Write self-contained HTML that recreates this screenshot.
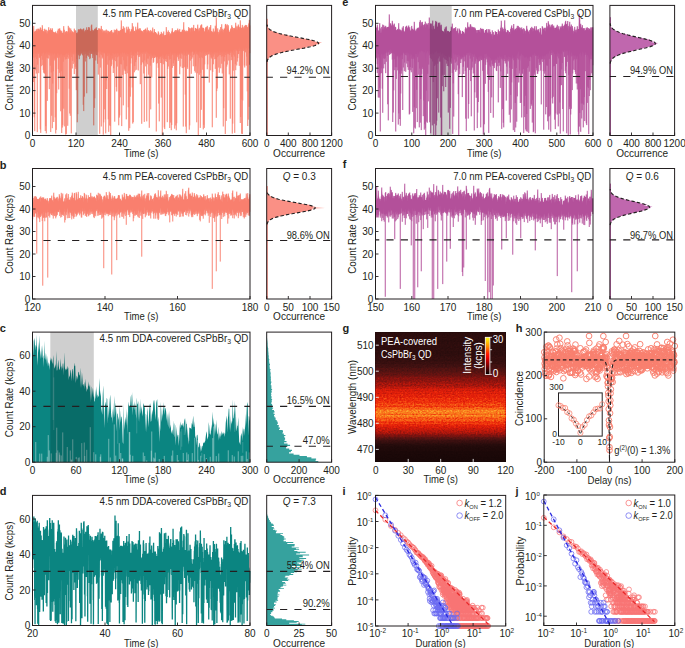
<!DOCTYPE html><html><head><meta charset="utf-8"><style>html,body{margin:0;padding:0;background:#fff;width:685px;height:648px;overflow:hidden}</style></head><body><svg width="685" height="648" viewBox="0 0 685 648" style="position:absolute;left:0;top:0;font-family:'Liberation Sans',sans-serif">
<rect width="685" height="648" fill="#fff"/>
<path d="M32.50 31.2L33.25 33.9L33.75 25.9L34.25 32.0L34.75 31.7L35.25 31.4L35.75 30.9L36.25 29.3L36.75 31.3L37.25 28.7L37.75 32.0L38.25 29.5L38.75 28.6L39.25 30.7L39.75 29.5L40.25 27.4L40.75 28.1L41.25 30.3L41.75 29.9L42.25 25.2L42.75 29.0L43.25 31.4L43.75 31.4L44.25 32.2L44.75 28.7L45.25 29.9L45.75 32.3L46.25 29.7L46.75 33.5L47.25 33.9L47.75 30.6L48.25 32.1L48.75 27.2L49.25 30.3L49.75 30.5L50.25 30.3L50.75 28.3L51.25 30.2L51.75 30.4L52.25 28.3L52.75 30.9L53.25 32.3L53.75 32.2L54.25 32.5L54.75 32.8L55.25 32.9L55.75 31.5L56.25 33.0L56.75 34.1L57.25 34.4L57.75 30.7L58.25 28.7L58.75 35.3L59.25 29.1L59.75 28.3L60.25 30.3L60.75 31.5L61.25 33.2L61.75 30.7L62.25 32.8L62.75 33.2L63.25 33.3L63.75 26.1L64.25 29.9L64.75 35.3L65.25 32.5L65.75 31.5L66.25 32.7L66.75 31.0L67.25 31.7L67.75 34.3L68.25 25.8L68.75 28.8L69.25 27.5L69.75 33.5L70.25 32.0L70.75 28.4L71.25 30.2L71.75 33.8L72.25 31.3L72.75 31.9L73.25 32.3L73.75 33.8L74.25 28.6L74.75 31.6L75.25 30.4L75.75 30.7L76.25 32.9L76.75 33.2L77.25 34.3L77.75 32.4L78.25 29.5L78.75 29.6L79.25 30.1L79.75 29.5L80.25 29.1L80.75 28.6L81.25 29.7L81.75 29.6L82.25 31.5L82.75 29.6L83.25 28.9L83.75 28.5L84.25 33.0L84.75 31.3L85.25 29.8L85.75 31.5L86.25 31.6L86.75 27.3L87.25 30.0L87.75 29.9L88.25 30.1L88.75 27.0L89.25 27.6L89.75 30.7L90.25 31.6L90.75 31.1L91.25 25.6L91.75 24.6L92.25 29.9L92.75 32.0L93.25 31.1L93.75 30.4L94.25 30.4L94.75 29.0L95.25 28.4L95.75 29.8L96.25 27.3L96.75 30.3L97.25 30.4L97.75 30.0L98.25 30.2L98.75 28.2L99.25 29.7L99.75 28.4L100.25 29.9L100.75 29.5L101.25 25.9L101.75 31.2L102.25 29.2L102.75 33.1L103.25 32.3L103.75 30.5L104.25 30.8L104.75 33.0L105.25 30.4L105.75 33.6L106.25 29.5L106.75 32.6L107.25 34.3L107.75 30.6L108.25 31.0L108.75 33.1L109.25 31.8L109.75 32.2L110.25 31.0L110.75 32.8L111.25 30.3L111.75 30.2L112.25 32.3L112.75 34.4L113.25 32.6L113.75 33.0L114.25 29.6L114.75 33.0L115.25 31.8L115.75 29.9L116.25 29.9L116.75 28.7L117.25 35.4L117.75 30.3L118.25 31.3L118.75 30.9L119.25 32.0L119.75 31.1L120.25 30.2L120.75 30.5L121.25 20.4L121.75 30.4L122.25 28.9L122.75 29.4L123.25 26.2L123.75 29.2L124.25 33.5L124.75 27.6L125.25 32.7L125.75 33.0L126.25 32.9L126.75 26.7L127.25 30.9L127.75 29.5L128.25 26.7L128.75 30.7L129.25 28.7L129.75 34.3L130.25 31.8L130.75 31.6L131.25 29.2L131.75 30.1L132.25 23.1L132.75 30.3L133.25 26.4L133.75 32.3L134.25 30.9L134.75 30.9L135.25 33.3L135.75 26.7L136.25 31.2L136.75 29.8L137.25 28.8L137.75 22.6L138.25 30.4L138.75 29.2L139.25 28.3L139.75 30.9L140.25 28.3L140.75 31.3L141.25 30.7L141.75 30.8L142.25 31.2L142.75 32.1L143.25 33.3L143.75 30.0L144.25 29.8L144.75 30.3L145.25 29.2L145.75 28.6L146.25 30.3L146.75 33.5L147.25 27.5L147.75 32.2L148.25 30.9L148.75 30.1L149.25 33.0L149.75 31.0L150.25 33.2L150.75 29.9L151.25 31.6L151.75 31.5L152.25 33.0L152.75 27.5L153.25 32.8L153.75 33.5L154.25 29.0L154.75 32.1L155.25 32.1L155.75 32.4L156.25 33.8L156.75 33.4L157.25 34.5L157.75 35.6L158.25 31.4L158.75 32.7L159.25 36.3L159.75 34.9L160.25 34.5L160.75 34.3L161.25 31.8L161.75 34.5L162.25 33.4L162.75 37.5L163.25 34.4L163.75 31.4L164.25 36.6L164.75 35.2L165.25 35.2L165.75 35.2L166.25 27.1L166.75 34.7L167.25 34.7L167.75 32.0L168.25 30.4L168.75 34.5L169.25 32.0L169.75 36.4L170.25 34.4L170.75 33.3L171.25 34.8L171.75 31.5L172.25 28.2L172.75 31.7L173.25 33.5L173.75 32.2L174.25 32.5L174.75 31.2L175.25 30.0L175.75 32.7L176.25 30.1L176.75 32.0L177.25 31.1L177.75 28.5L178.25 30.2L178.75 32.1L179.25 31.8L179.75 28.9L180.25 32.2L180.75 32.0L181.25 32.6L181.75 31.7L182.25 29.7L182.75 29.9L183.25 31.2L183.75 22.2L184.25 32.1L184.75 29.9L185.25 32.1L185.75 31.2L186.25 32.6L186.75 30.5L187.25 33.0L187.75 31.1L188.25 30.8L188.75 27.0L189.25 29.2L189.75 28.0L190.25 32.7L190.75 28.4L191.25 28.8L191.75 27.6L192.25 27.8L192.75 32.1L193.25 28.9L193.75 24.9L194.25 31.5L194.75 31.2L195.25 27.9L195.75 28.1L196.25 28.9L196.75 28.9L197.25 29.2L197.75 24.6L198.25 29.3L198.75 32.0L199.25 27.8L199.75 31.4L200.25 28.8L200.75 25.6L201.25 24.8L201.75 24.5L202.25 28.5L202.75 27.7L203.25 27.9L203.75 28.4L204.25 32.1L204.75 31.5L205.25 29.1L205.75 27.3L206.25 28.5L206.75 26.9L207.25 25.8L207.75 32.4L208.25 29.5L208.75 30.5L209.25 27.3L209.75 32.7L210.25 27.2L210.75 25.0L211.25 32.1L211.75 31.0L212.25 32.8L212.75 32.0L213.25 28.5L213.75 33.5L214.25 32.2L214.75 31.4L215.25 25.7L215.75 28.7L216.25 17.4L216.75 32.4L217.25 32.1L217.75 28.3L218.25 32.0L218.75 35.0L219.25 33.1L219.75 29.6L220.25 31.9L220.75 27.0L221.25 31.3L221.75 24.2L222.25 32.1L222.75 28.8L223.25 33.0L223.75 30.0L224.25 28.5L224.75 29.0L225.25 24.6L225.75 23.9L226.25 25.4L226.75 32.1L227.25 24.3L227.75 29.6L228.25 25.2L228.75 30.1L229.25 31.9L229.75 32.6L230.25 30.6L230.75 28.5L231.25 29.7L231.75 25.2L232.25 26.9L232.75 29.2L233.25 28.0L233.75 30.7L234.25 27.8L234.75 28.8L235.25 29.8L235.75 22.7L236.25 26.4L236.75 29.8L237.25 30.1L237.75 26.4L238.25 24.5L238.75 26.5L239.25 27.2L239.75 30.2L240.25 20.3L240.75 27.4L241.25 28.3L241.75 28.3L242.25 24.9L242.75 27.6L243.25 29.0L243.75 27.4L244.25 25.7L244.75 29.1L245.25 25.7L245.75 24.9L246.25 26.5L246.75 25.1L247.25 28.1L247.75 27.1L248.25 26.5L248.75 23.5L249.25 19.9L250.00 25.4L250.00 48.4L249.25 48.3L248.75 48.0L248.25 48.7L247.75 50.8L247.25 51.4L246.75 48.5L246.25 48.0L245.75 47.6L245.25 49.6L244.75 50.0L244.25 50.0L243.75 47.6L243.25 48.8L242.75 50.4L242.25 59.8L241.75 48.7L241.25 51.6L240.75 49.0L240.25 50.8L239.75 47.3L239.25 50.2L238.75 48.8L238.25 52.0L237.75 50.8L237.25 51.3L236.75 49.9L236.25 49.4L235.75 50.8L235.25 49.0L234.75 49.4L234.25 52.2L233.75 50.2L233.25 50.1L232.75 53.2L232.25 52.6L231.75 50.9L231.25 51.9L230.75 51.2L230.25 51.1L229.75 52.9L229.25 53.4L228.75 53.4L228.25 52.5L227.75 50.9L227.25 54.2L226.75 54.4L226.25 51.1L225.75 53.1L225.25 52.2L224.75 54.8L224.25 52.1L223.75 51.0L223.25 56.2L222.75 51.6L222.25 52.7L221.75 54.5L221.25 51.7L220.75 53.0L220.25 52.3L219.75 50.3L219.25 53.7L218.75 55.5L218.25 52.5L217.75 53.3L217.25 51.3L216.75 52.5L216.25 53.5L215.75 52.1L215.25 53.1L214.75 52.6L214.25 52.0L213.75 52.6L213.25 54.1L212.75 54.7L212.25 53.3L211.75 51.7L211.25 54.6L210.75 59.2L210.25 52.6L209.75 52.0L209.25 51.3L208.75 51.8L208.25 52.4L207.75 51.7L207.25 52.0L206.75 52.4L206.25 52.8L205.75 52.3L205.25 52.1L204.75 52.3L204.25 53.4L203.75 50.6L203.25 56.4L202.75 51.8L202.25 51.5L201.75 52.4L201.25 52.8L200.75 51.8L200.25 51.9L199.75 50.7L199.25 53.0L198.75 51.8L198.25 70.2L197.75 51.8L197.25 53.3L196.75 52.9L196.25 50.2L195.75 52.5L195.25 50.2L194.75 53.2L194.25 52.9L193.75 51.5L193.25 52.5L192.75 50.4L192.25 51.3L191.75 53.1L191.25 51.8L190.75 53.7L190.25 51.7L189.75 54.0L189.25 53.1L188.75 52.4L188.25 52.4L187.75 54.2L187.25 52.1L186.75 50.6L186.25 52.7L185.75 54.2L185.25 55.3L184.75 53.0L184.25 51.4L183.75 51.3L183.25 54.0L182.75 53.2L182.25 53.3L181.75 53.5L181.25 52.0L180.75 52.7L180.25 55.5L179.75 53.3L179.25 53.1L178.75 53.7L178.25 56.0L177.75 54.0L177.25 53.1L176.75 54.7L176.25 56.3L175.75 55.2L175.25 53.0L174.75 52.9L174.25 54.4L173.75 53.1L173.25 55.7L172.75 52.6L172.25 55.1L171.75 56.3L171.25 54.6L170.75 51.6L170.25 53.5L169.75 59.7L169.25 54.0L168.75 54.1L168.25 54.6L167.75 54.7L167.25 56.2L166.75 54.5L166.25 53.8L165.75 56.4L165.25 54.7L164.75 57.7L164.25 58.7L163.75 56.7L163.25 55.2L162.75 54.0L162.25 56.1L161.75 56.6L161.25 55.8L160.75 56.1L160.25 55.8L159.75 57.1L159.25 56.8L158.75 59.0L158.25 59.6L157.75 56.7L157.25 56.3L156.75 57.1L156.25 57.7L155.75 55.1L155.25 55.1L154.75 55.2L154.25 53.7L153.75 53.9L153.25 55.8L152.75 56.1L152.25 54.8L151.75 55.2L151.25 53.7L150.75 53.2L150.25 54.6L149.75 54.2L149.25 54.3L148.75 53.7L148.25 53.8L147.75 52.9L147.25 52.7L146.75 52.1L146.25 51.3L145.75 52.7L145.25 51.9L144.75 51.2L144.25 53.6L143.75 52.3L143.25 52.2L142.75 52.6L142.25 52.3L141.75 53.1L141.25 53.1L140.75 51.8L140.25 59.0L139.75 49.8L139.25 51.9L138.75 52.2L138.25 52.5L137.75 50.5L137.25 51.7L136.75 53.8L136.25 53.2L135.75 53.3L135.25 52.9L134.75 52.1L134.25 55.5L133.75 53.8L133.25 55.2L132.75 54.8L132.25 55.4L131.75 50.9L131.25 52.4L130.75 52.8L130.25 52.2L129.75 121.7L129.25 52.9L128.75 56.8L128.25 54.1L127.75 54.1L127.25 53.8L126.75 55.9L126.25 52.4L125.75 55.1L125.25 54.3L124.75 52.4L124.25 52.7L123.75 54.9L123.25 53.1L122.75 52.8L122.25 52.2L121.75 53.7L121.25 54.9L120.75 53.1L120.25 53.9L119.75 56.8L119.25 55.3L118.75 55.1L118.25 53.3L117.75 53.0L117.25 53.8L116.75 53.3L116.25 55.9L115.75 52.7L115.25 54.2L114.75 53.9L114.25 54.5L113.75 54.2L113.25 53.2L112.75 53.1L112.25 56.0L111.75 56.2L111.25 54.7L110.75 55.1L110.25 59.0L109.75 53.0L109.25 53.3L108.75 56.3L108.25 53.1L107.75 53.5L107.25 52.9L106.75 57.0L106.25 54.8L105.75 63.9L105.25 55.2L104.75 53.3L104.25 52.4L103.75 53.3L103.25 52.3L102.75 52.7L102.25 52.3L101.75 51.9L101.25 54.5L100.75 51.4L100.25 51.1L99.75 53.6L99.25 51.1L98.75 50.2L98.25 51.7L97.75 52.3L97.25 52.7L96.75 51.0L96.25 51.6L95.75 51.5L95.25 51.5L94.75 52.0L94.25 54.3L93.75 52.5L93.25 51.5L92.75 52.1L92.25 51.5L91.75 51.6L91.25 51.5L90.75 51.3L90.25 51.3L89.75 50.4L89.25 50.5L88.75 51.3L88.25 52.0L87.75 51.8L87.25 52.3L86.75 53.9L86.25 51.8L85.75 51.5L85.25 51.8L84.75 50.6L84.25 52.5L83.75 51.8L83.25 51.6L82.75 51.8L82.25 53.0L81.75 50.6L81.25 52.0L80.75 51.1L80.25 53.0L79.75 53.4L79.25 52.7L78.75 51.2L78.25 52.9L77.75 51.9L77.25 54.6L76.75 53.8L76.25 53.5L75.75 52.5L75.25 54.8L74.75 53.9L74.25 52.8L73.75 51.9L73.25 53.7L72.75 54.2L72.25 53.8L71.75 52.3L71.25 56.0L70.75 51.7L70.25 55.1L69.75 56.9L69.25 55.9L68.75 52.5L68.25 53.0L67.75 53.6L67.25 54.7L66.75 53.2L66.25 53.7L65.75 54.9L65.25 54.0L64.75 55.3L64.25 55.4L63.75 55.2L63.25 55.6L62.75 55.1L62.25 57.5L61.75 53.5L61.25 54.4L60.75 53.9L60.25 55.8L59.75 54.5L59.25 55.9L58.75 53.1L58.25 55.5L57.75 53.0L57.25 53.5L56.75 55.6L56.25 56.8L55.75 61.4L55.25 54.8L54.75 53.0L54.25 53.7L53.75 54.1L53.25 55.6L52.75 52.9L52.25 54.6L51.75 56.0L51.25 53.5L50.75 53.1L50.25 55.0L49.75 52.4L49.25 53.4L48.75 53.8L48.25 52.2L47.75 52.7L47.25 54.4L46.75 51.5L46.25 54.2L45.75 54.6L45.25 53.1L44.75 53.7L44.25 55.9L43.75 52.0L43.25 52.5L42.75 53.6L42.25 54.3L41.75 53.3L41.25 55.3L40.75 57.6L40.25 70.9L39.75 51.5L39.25 53.6L38.75 53.9L38.25 52.2L37.75 51.8L37.25 53.9L36.75 53.2L36.25 54.1L35.75 53.9L35.25 52.8L34.75 55.1L34.25 53.1L33.75 54.7L33.25 53.4L32.50 52.6Z" fill="#f9806f" stroke="none"/>
<path d="M32.75 54.4V31.2M33.25 82.0V33.9M33.75 57.6V25.9M34.25 117.3V32.0M34.75 131.2V31.7M35.25 57.3V31.4M35.75 70.3V30.9M36.25 73.6V29.3M36.75 59.0V31.3M37.25 132.2V28.7M37.75 64.7V32.0M38.25 53.7V29.5M38.75 73.2V28.6M39.25 57.8V30.7M39.75 57.5V29.5M40.25 129.4V27.4M40.75 132.9V28.1M41.25 66.2V30.3M41.75 56.1V29.9M42.25 59.8V25.2M42.75 65.3V29.0M43.25 69.9V31.4M43.75 72.7V31.4M44.25 73.5V32.2M44.75 73.4V28.7M45.25 131.0V29.9M45.75 126.2V32.3M46.25 133.4V29.7M46.75 57.7V33.5M47.25 100.9V33.9M47.75 58.0V30.6M48.25 58.6V32.1M48.75 55.1V27.2M49.25 89.2V30.3M49.75 55.6V30.5M50.25 65.7V30.3M50.75 132.0V28.3M51.25 72.5V30.2M51.75 115.8V30.4M52.25 128.2V28.3M52.75 83.6V30.9M53.25 71.4V32.3M53.75 122.0V32.2M54.25 58.7V32.5M54.75 60.5V32.8M55.25 117.4V32.9M55.75 133.5V31.5M56.25 129.9V33.0M56.75 93.2V34.1M57.25 56.9V34.4M57.75 58.1V30.7M58.25 69.2V28.7M58.75 89.5V35.3M59.25 72.9V29.1M59.75 57.6V28.3M60.25 77.4V30.3M60.75 111.3V31.5M61.25 71.3V33.2M61.75 133.0V30.7M62.25 127.6V32.8M62.75 124.9V33.2M63.25 61.7V33.3M63.75 108.7V26.1M64.25 126.4V29.9M64.75 57.2V35.3M65.25 59.5V32.5M65.75 134.7V31.5M66.25 133.9V32.7M66.75 59.0V31.0M67.25 57.1V31.7M67.75 125.8V34.3M68.25 58.7V25.8M68.75 54.9V28.8M69.25 88.7V27.5M69.75 113.5V33.5M70.25 115.8V32.0M70.75 77.6V28.4M71.25 133.4V30.2M71.75 57.1V33.8M72.25 68.5V31.3M72.75 60.9V31.9M73.25 63.9V32.3M73.75 54.5V33.8M74.25 74.1V28.6M74.75 62.4V31.6M75.25 66.8V30.4M75.75 68.9V30.7M76.25 90.2V32.9M76.75 58.8V33.2M77.25 122.3V34.3M77.75 114.2V32.4M78.25 55.4V29.5M78.75 54.4V29.6M79.25 59.2V30.1M79.75 56.1V29.5M80.25 55.5V29.1M80.75 54.3V28.6M81.25 53.7V29.7M81.75 53.0V29.6M82.25 54.8V31.5M82.75 55.4V29.6M83.25 104.8V28.9M83.75 111.1V28.5M84.25 96.7V33.0M84.75 54.4V31.3M85.25 61.5V29.8M85.75 53.8V31.5M86.25 58.0V31.6M86.75 93.3V27.3M87.25 55.7V30.0M87.75 55.2V29.9M88.25 55.5V30.1M88.75 56.8V27.0M89.25 52.8V27.6M89.75 59.2V30.7M90.25 58.3V31.6M90.75 53.9V31.1M91.25 53.3V25.6M91.75 53.9V24.6M92.25 53.8V29.9M92.75 58.1V32.0M93.25 55.4V31.1M93.75 125.4V30.4M94.25 107.9V30.4M94.75 98.3V29.0M95.25 53.8V28.4M95.75 60.5V29.8M96.25 55.2V27.3M96.75 54.9V30.3M97.25 55.3V30.4M97.75 63.8V30.0M98.25 74.6V30.2M98.75 52.4V28.2M99.25 57.5V29.7M99.75 133.8V28.4M100.25 67.6V29.9M100.75 54.4V29.5M101.25 126.5V25.9M101.75 55.3V31.2M102.25 58.5V29.2M102.75 57.2V33.1M103.25 134.7V32.3M103.75 122.4V30.5M104.25 53.3V30.8M104.75 109.3V33.0M105.25 119.4V30.4M105.75 133.4V33.6M106.25 80.4V29.5M106.75 89.0V32.6M107.25 64.7V34.3M107.75 56.2V30.6M108.25 119.4V31.0M108.75 131.9V33.1M109.25 60.3V31.8M109.75 125.4V32.2M110.25 126.1V31.0M110.75 135.4V32.8M111.25 66.2V30.3M111.75 64.5V30.2M112.25 59.7V32.3M112.75 58.1V34.4M113.25 73.0V32.6M113.75 68.3V33.0M114.25 60.3V29.6M114.75 121.7V33.0M115.25 56.9V31.8M115.75 61.2V29.9M116.25 86.9V29.9M116.75 91.5V28.7M117.25 66.6V35.4M117.75 57.3V30.3M118.25 56.4V31.3M118.75 125.3V30.9M119.25 117.6V32.0M119.75 115.4V31.1M120.25 97.3V30.2M120.75 64.0V30.5M121.25 64.5V20.4M121.75 126.1V30.4M122.25 56.8V28.9M122.75 75.1V29.4M123.25 105.4V26.2M123.75 60.3V29.2M124.25 68.8V33.5M124.75 70.6V27.6M125.25 74.0V32.7M125.75 71.1V33.0M126.25 119.4V32.9M126.75 66.3V26.7M127.25 73.3V30.9M127.75 56.4V29.5M128.25 107.3V26.7M128.75 130.8V30.7M129.25 86.6V28.7M129.75 128.2V34.3M130.25 96.7V31.8M130.75 63.5V31.6M131.25 55.2V29.2M131.75 58.3V30.1M132.25 87.5V23.1M132.75 123.6V30.3M133.25 122.2V26.4M133.75 55.8V32.3M134.25 72.3V30.9M134.75 66.1V30.9M135.25 70.5V33.3M135.75 62.1V26.7M136.25 59.8V31.2M136.75 69.8V29.8M137.25 55.3V28.8M137.75 51.7V22.6M138.25 70.5V30.4M138.75 57.0V29.2M139.25 55.2V28.3M139.75 56.8V30.9M140.25 84.2V28.3M140.75 54.2V31.3M141.25 64.9V30.7M141.75 123.8V30.8M142.25 62.3V31.2M142.75 54.1V32.1M143.25 63.6V33.3M143.75 73.5V30.0M144.25 121.9V29.8M144.75 60.5V30.3M145.25 53.8V29.2M145.75 66.4V28.6M146.25 62.5V30.3M146.75 121.4V33.5M147.25 64.3V27.5M147.75 58.5V32.2M148.25 58.6V30.9M148.75 74.7V30.1M149.25 127.8V33.0M149.75 56.3V31.0M150.25 65.7V33.2M150.75 109.4V29.9M151.25 59.4V31.6M151.75 77.5V31.5M152.25 56.7V33.0M152.75 58.0V27.5M153.25 62.8V32.8M153.75 61.8V33.5M154.25 57.9V29.0M154.75 58.0V32.1M155.25 56.6V32.1M155.75 57.2V32.4M156.25 131.5V33.8M156.75 63.8V33.4M157.25 63.0V34.5M157.75 57.1V35.6M158.25 67.8V31.4M158.75 103.6V32.7M159.25 121.4V36.3M159.75 58.8V34.9M160.25 57.1V34.5M160.75 63.0V34.3M161.25 97.6V31.8M161.75 63.3V34.5M162.25 135.5V33.4M162.75 57.8V37.5M163.25 64.3V34.4M163.75 59.2V31.4M164.25 127.5V36.6M164.75 129.1V35.2M165.25 59.1V35.2M165.75 61.3V35.2M166.25 58.9V27.1M166.75 61.9V34.7M167.25 122.2V34.7M167.75 68.9V32.0M168.25 66.5V30.4M168.75 56.0V34.5M169.25 59.7V32.0M169.75 128.0V36.4M170.25 122.6V34.4M170.75 59.0V33.3M171.25 130.2V34.8M171.75 125.0V31.5M172.25 67.9V28.2M172.75 54.6V31.7M173.25 63.5V33.5M173.75 66.0V32.2M174.25 60.3V32.5M174.75 128.7V31.2M175.25 75.4V30.0M175.75 125.5V32.7M176.25 130.3V30.1M176.75 123.3V32.0M177.25 57.3V31.1M177.75 55.5V28.5M178.25 60.9V30.2M178.75 59.1V32.1M179.25 54.6V31.8M179.75 74.3V28.9M180.25 58.1V32.2M180.75 66.6V32.0M181.25 53.7V32.6M181.75 58.8V31.7M182.25 68.1V29.7M182.75 54.7V29.9M183.25 126.6V31.2M183.75 67.9V22.2M184.25 55.5V32.1M184.75 66.9V29.9M185.25 94.6V32.1M185.75 126.6V31.2M186.25 133.2V32.6M186.75 55.8V30.5M187.25 67.3V33.0M187.75 68.9V31.1M188.25 54.6V30.8M188.75 54.4V27.0M189.25 129.7V29.2M189.75 125.4V28.0M190.25 60.7V32.7M190.75 55.7V28.4M191.25 73.8V28.8M191.75 59.0V27.6M192.25 51.8V27.8M192.75 57.5V32.1M193.25 66.3V28.9M193.75 55.1V24.9M194.25 54.3V31.5M194.75 70.9V31.2M195.25 72.6V27.9M195.75 66.3V28.1M196.25 54.3V28.9M196.75 122.3V28.9M197.25 73.3V29.2M197.75 54.6V24.6M198.25 135.3V29.3M198.75 55.5V32.0M199.25 74.8V27.8M199.75 57.9V31.4M200.25 127.9V28.8M200.75 72.9V25.6M201.25 109.8V24.8M201.75 57.2V24.5M202.25 58.2V28.5M202.75 69.8V27.7M203.25 129.4V27.9M203.75 124.8V28.4M204.25 127.9V32.1M204.75 64.4V31.5M205.25 54.3V29.1M205.75 55.9V27.3M206.25 55.1V28.5M206.75 54.6V26.9M207.25 69.3V25.8M207.75 64.4V32.4M208.25 54.1V29.5M208.75 54.5V30.5M209.25 82.6V27.3M209.75 53.7V32.7M210.25 54.8V27.2M210.75 70.3V25.0M211.25 57.4V32.1M211.75 58.6V31.0M212.25 127.3V32.8M212.75 71.9V32.0M213.25 64.3V28.5M213.75 56.7V33.5M214.25 54.5V32.2M214.75 59.2V31.4M215.25 68.9V25.7M215.75 58.9V28.7M216.25 117.8V17.4M216.75 91.1V32.4M217.25 88.5V32.1M217.75 57.2V28.3M218.25 56.1V32.0M218.75 67.6V35.0M219.25 72.8V33.1M219.75 55.2V29.6M220.25 55.0V31.9M220.75 68.3V27.0M221.25 56.6V31.3M221.75 63.8V24.2M222.25 73.5V32.1M222.75 56.3V28.8M223.25 126.5V33.0M223.75 108.2V30.0M224.25 61.4V28.5M224.75 56.9V29.0M225.25 134.0V24.6M225.75 55.0V23.9M226.25 120.9V25.4M226.75 66.6V32.1M227.25 64.6V24.3M227.75 53.7V29.6M228.25 54.3V25.2M228.75 60.6V30.1M229.25 74.4V31.9M229.75 55.1V32.6M230.25 118.7V30.6M230.75 52.9V28.5M231.25 60.2V29.7M231.75 56.8V25.2M232.25 133.6V26.9M232.75 123.6V29.2M233.25 70.7V28.0M233.75 54.7V30.7M234.25 56.6V27.8M234.75 132.9V28.8M235.25 64.2V29.8M235.75 70.2V22.7M236.25 50.8V26.4M236.75 65.5V29.8M237.25 61.6V30.1M237.75 58.1V26.4M238.25 54.1V24.5M238.75 53.8V26.5M239.25 65.9V27.2M239.75 51.0V30.2M240.25 123.0V20.3M240.75 117.1V27.4M241.25 99.6V28.3M241.75 133.7V28.3M242.25 134.0V24.9M242.75 100.5V27.6M243.25 51.1V29.0M243.75 50.3V27.4M244.25 65.5V25.7M244.75 67.5V29.1M245.25 51.8V25.7M245.75 52.4V24.9M246.25 65.7V26.5M246.75 56.6V25.1M247.25 91.4V28.1M247.75 126.0V27.1M248.25 119.7V26.5M248.75 106.8V23.5M249.25 64.8V19.9M249.75 53.2V25.4" stroke="#f9806f" stroke-width="1.0" fill="none"/>
<rect x="76.0" y="5.4" width="21.8" height="130.1" fill="#000" fill-opacity="0.19"/>
<path d="M32.5 77.2H250" stroke="#231f20" stroke-width="1.15" stroke-dasharray="7.2 7.15" stroke-dashoffset="3.45"/>
<rect x="32.5" y="5.4" width="217.5" height="130.1" fill="none" stroke="#231f20" stroke-width="1.0"/>
<text x="32.5" y="147.1" font-size="10" text-anchor="middle" fill="#231f20" >0</text>
<text x="76" y="147.1" font-size="10" text-anchor="middle" fill="#231f20" >120</text>
<text x="119.5" y="147.1" font-size="10" text-anchor="middle" fill="#231f20" >240</text>
<text x="163" y="147.1" font-size="10" text-anchor="middle" fill="#231f20" >360</text>
<text x="206.5" y="147.1" font-size="10" text-anchor="middle" fill="#231f20" >480</text>
<text x="250" y="147.1" font-size="10" text-anchor="middle" fill="#231f20" >600</text>
<path d="M32.5 135.5v-3M76 135.5v-3M119.5 135.5v-3M163 135.5v-3M206.5 135.5v-3M250 135.5v-3" stroke="#231f20" stroke-width="0.9" fill="none"/>
<text x="30.3" y="139.1" font-size="10" text-anchor="end" fill="#231f20" >0</text>
<text x="30.3" y="116.7" font-size="10" text-anchor="end" fill="#231f20" >10</text>
<text x="30.3" y="94.2" font-size="10" text-anchor="end" fill="#231f20" >20</text>
<text x="30.3" y="71.8" font-size="10" text-anchor="end" fill="#231f20" >30</text>
<text x="30.3" y="49.4" font-size="10" text-anchor="end" fill="#231f20" >40</text>
<text x="30.3" y="26.9" font-size="10" text-anchor="end" fill="#231f20" >50</text>
<path d="M32.5 135.5h3M32.5 113.1h3M32.5 90.6h3M32.5 68.2h3M32.5 45.8h3M32.5 23.3h3" stroke="#231f20" stroke-width="0.9" fill="none"/>
<path d="M32.50 196.2L33.25 202.9L33.75 197.9L34.25 200.4L34.75 196.5L35.25 196.1L35.75 200.8L36.25 196.7L36.75 198.5L37.25 199.6L37.75 199.0L38.25 199.2L38.75 199.8L39.25 198.4L39.75 197.6L40.25 202.4L40.75 196.4L41.25 198.0L41.75 198.5L42.25 197.3L42.75 199.5L43.25 197.7L43.75 197.5L44.25 201.1L44.75 198.9L45.25 199.5L45.75 198.6L46.25 200.2L46.75 201.2L47.25 198.1L47.75 201.3L48.25 204.1L48.75 201.2L49.25 199.8L49.75 198.0L50.25 199.0L50.75 198.0L51.25 199.4L51.75 195.6L52.25 200.0L52.75 201.3L53.25 201.9L53.75 192.7L54.25 197.2L54.75 199.6L55.25 199.2L55.75 198.6L56.25 197.5L56.75 198.5L57.25 196.8L57.75 200.4L58.25 201.7L58.75 198.5L59.25 194.2L59.75 196.4L60.25 201.1L60.75 198.1L61.25 192.8L61.75 199.5L62.25 197.3L62.75 193.5L63.25 202.4L63.75 201.4L64.25 201.7L64.75 198.3L65.25 202.4L65.75 194.4L66.25 201.6L66.75 193.3L67.25 198.1L67.75 200.2L68.25 194.0L68.75 200.2L69.25 200.0L69.75 199.7L70.25 197.2L70.75 201.1L71.25 198.7L71.75 195.7L72.25 192.6L72.75 197.7L73.25 197.9L73.75 200.4L74.25 193.4L74.75 192.9L75.25 201.0L75.75 200.3L76.25 192.3L76.75 193.9L77.25 199.6L77.75 199.8L78.25 191.8L78.75 199.4L79.25 198.4L79.75 197.9L80.25 200.7L80.75 195.2L81.25 198.6L81.75 198.0L82.25 196.0L82.75 196.9L83.25 197.8L83.75 202.8L84.25 192.9L84.75 194.0L85.25 198.5L85.75 199.5L86.25 194.7L86.75 198.1L87.25 198.8L87.75 203.4L88.25 195.2L88.75 198.4L89.25 197.0L89.75 197.2L90.25 198.7L90.75 192.8L91.25 196.6L91.75 199.1L92.25 196.4L92.75 198.5L93.25 198.0L93.75 197.1L94.25 196.4L94.75 197.2L95.25 198.1L95.75 199.1L96.25 201.8L96.75 194.7L97.25 195.6L97.75 196.6L98.25 192.8L98.75 200.8L99.25 198.8L99.75 193.6L100.25 194.5L100.75 197.6L101.25 195.8L101.75 197.0L102.25 199.4L102.75 203.1L103.25 200.8L103.75 196.8L104.25 195.7L104.75 195.9L105.25 200.6L105.75 197.4L106.25 192.1L106.75 198.5L107.25 199.0L107.75 195.2L108.25 199.8L108.75 199.2L109.25 191.7L109.75 195.6L110.25 193.0L110.75 197.1L111.25 198.7L111.75 201.3L112.25 195.5L112.75 199.6L113.25 197.6L113.75 201.0L114.25 196.2L114.75 196.4L115.25 198.9L115.75 198.8L116.25 198.9L116.75 198.8L117.25 198.7L117.75 197.9L118.25 195.6L118.75 195.1L119.25 195.4L119.75 199.7L120.25 198.7L120.75 199.8L121.25 201.0L121.75 200.5L122.25 194.5L122.75 197.5L123.25 199.1L123.75 197.3L124.25 192.9L124.75 196.5L125.25 199.7L125.75 199.5L126.25 193.9L126.75 194.2L127.25 196.2L127.75 196.4L128.25 199.5L128.75 195.9L129.25 196.8L129.75 194.7L130.25 194.9L130.75 196.2L131.25 198.7L131.75 196.6L132.25 197.8L132.75 197.0L133.25 197.1L133.75 200.8L134.25 195.4L134.75 197.7L135.25 197.8L135.75 196.9L136.25 195.5L136.75 198.3L137.25 194.8L137.75 197.5L138.25 193.6L138.75 198.6L139.25 193.9L139.75 193.8L140.25 199.4L140.75 196.5L141.25 199.0L141.75 190.5L142.25 200.8L142.75 196.3L143.25 194.7L143.75 198.4L144.25 201.0L144.75 193.8L145.25 198.6L145.75 202.0L146.25 197.9L146.75 195.6L147.25 193.2L147.75 196.3L148.25 197.1L148.75 193.0L149.25 201.2L149.75 200.4L150.25 199.5L150.75 195.4L151.25 196.3L151.75 201.3L152.25 199.6L152.75 198.8L153.25 202.1L153.75 197.9L154.25 196.0L154.75 194.3L155.25 193.3L155.75 194.9L156.25 197.0L156.75 197.7L157.25 198.5L157.75 197.3L158.25 190.2L158.75 200.1L159.25 199.6L159.75 196.7L160.25 195.8L160.75 190.5L161.25 197.6L161.75 197.7L162.25 198.5L162.75 195.7L163.25 197.3L163.75 199.5L164.25 194.5L164.75 199.4L165.25 194.3L165.75 199.9L166.25 190.8L166.75 197.3L167.25 198.3L167.75 194.1L168.25 202.3L168.75 200.6L169.25 197.1L169.75 200.3L170.25 197.5L170.75 195.9L171.25 195.5L171.75 193.9L172.25 194.7L172.75 195.2L173.25 198.0L173.75 195.0L174.25 199.2L174.75 197.9L175.25 200.4L175.75 196.8L176.25 195.9L176.75 197.7L177.25 194.8L177.75 200.6L178.25 197.5L178.75 198.0L179.25 194.3L179.75 201.3L180.25 194.6L180.75 196.6L181.25 196.6L181.75 199.9L182.25 194.9L182.75 188.8L183.25 199.8L183.75 199.6L184.25 200.2L184.75 193.5L185.25 197.1L185.75 191.1L186.25 196.3L186.75 200.3L187.25 199.3L187.75 198.9L188.25 190.4L188.75 187.7L189.25 193.9L189.75 195.8L190.25 193.5L190.75 196.5L191.25 196.5L191.75 195.8L192.25 192.5L192.75 199.9L193.25 196.9L193.75 197.1L194.25 193.1L194.75 195.0L195.25 196.5L195.75 199.0L196.25 198.1L196.75 194.1L197.25 197.1L197.75 195.2L198.25 198.9L198.75 197.8L199.25 197.6L199.75 197.9L200.25 195.2L200.75 200.8L201.25 196.0L201.75 197.8L202.25 197.2L202.75 198.7L203.25 197.2L203.75 194.3L204.25 196.4L204.75 199.9L205.25 201.1L205.75 196.0L206.25 199.9L206.75 199.5L207.25 195.1L207.75 199.0L208.25 198.2L208.75 199.0L209.25 202.2L209.75 197.9L210.25 200.5L210.75 197.5L211.25 199.0L211.75 202.8L212.25 193.6L212.75 197.7L213.25 201.9L213.75 197.4L214.25 201.4L214.75 198.2L215.25 193.5L215.75 197.1L216.25 197.0L216.75 199.2L217.25 200.5L217.75 194.4L218.25 192.2L218.75 199.3L219.25 195.0L219.75 197.1L220.25 200.8L220.75 199.4L221.25 195.4L221.75 200.9L222.25 202.6L222.75 191.6L223.25 198.3L223.75 194.0L224.25 198.5L224.75 197.4L225.25 194.7L225.75 199.0L226.25 193.7L226.75 194.3L227.25 196.5L227.75 202.3L228.25 193.5L228.75 195.9L229.25 197.7L229.75 198.8L230.25 201.1L230.75 199.7L231.25 199.8L231.75 199.8L232.25 193.0L232.75 190.5L233.25 197.0L233.75 202.0L234.25 201.2L234.75 196.7L235.25 199.4L235.75 198.0L236.25 198.8L236.75 191.6L237.25 196.0L237.75 199.9L238.25 195.3L238.75 195.9L239.25 202.5L239.75 195.0L240.25 193.5L240.75 201.8L241.25 200.2L241.75 199.1L242.25 200.0L242.75 199.6L243.25 199.0L243.75 200.4L244.25 198.2L244.75 198.5L245.25 200.7L245.75 197.9L246.25 193.5L246.75 201.9L247.25 197.1L247.75 193.1L248.25 199.6L248.75 199.5L249.25 197.5L250.00 194.2L250.00 210.8L249.25 215.8L248.75 210.4L248.25 212.6L247.75 212.0L247.25 211.6L246.75 212.2L246.25 212.0L245.75 211.8L245.25 210.5L244.75 215.9L244.25 212.9L243.75 209.2L243.25 215.7L242.75 208.4L242.25 211.0L241.75 209.1L241.25 210.0L240.75 210.8L240.25 211.7L239.75 211.0L239.25 211.8L238.75 209.7L238.25 210.8L237.75 211.2L237.25 210.5L236.75 211.9L236.25 211.1L235.75 213.7L235.25 212.4L234.75 212.0L234.25 214.6L233.75 212.3L233.25 210.4L232.75 209.2L232.25 209.6L231.75 213.0L231.25 214.5L230.75 213.6L230.25 213.1L229.75 211.0L229.25 213.7L228.75 213.6L228.25 208.3L227.75 210.9L227.25 214.8L226.75 211.3L226.25 210.3L225.75 209.6L225.25 211.1L224.75 212.6L224.25 213.0L223.75 210.7L223.25 216.5L222.75 209.7L222.25 212.4L221.75 212.0L221.25 209.9L220.75 211.1L220.25 215.7L219.75 211.6L219.25 214.4L218.75 208.2L218.25 212.9L217.75 212.9L217.25 212.9L216.75 209.7L216.25 217.5L215.75 209.6L215.25 214.0L214.75 214.8L214.25 217.6L213.75 212.1L213.25 217.2L212.75 209.8L212.25 212.5L211.75 210.3L211.25 210.4L210.75 211.7L210.25 214.0L209.75 207.8L209.25 216.0L208.75 212.8L208.25 208.2L207.75 208.6L207.25 212.9L206.75 208.5L206.25 210.3L205.75 206.6L205.25 214.2L204.75 209.7L204.25 209.0L203.75 212.6L203.25 214.8L202.75 215.2L202.25 213.1L201.75 214.1L201.25 212.4L200.75 212.0L200.25 210.9L199.75 212.8L199.25 209.3L198.75 210.3L198.25 211.4L197.75 212.4L197.25 212.8L196.75 209.4L196.25 212.2L195.75 213.1L195.25 209.5L194.75 211.5L194.25 214.8L193.75 213.7L193.25 211.1L192.75 216.1L192.25 214.8L191.75 216.7L191.25 211.3L190.75 210.1L190.25 208.0L189.75 213.5L189.25 209.0L188.75 206.8L188.25 210.0L187.75 210.6L187.25 209.1L186.75 213.1L186.25 210.5L185.75 210.3L185.25 209.8L184.75 210.7L184.25 211.0L183.75 211.0L183.25 212.5L182.75 214.7L182.25 211.8L181.75 211.6L181.25 210.5L180.75 212.5L180.25 210.0L179.75 214.7L179.25 208.7L178.75 211.1L178.25 209.8L177.75 214.5L177.25 208.3L176.75 213.3L176.25 213.9L175.75 211.3L175.25 212.9L174.75 212.7L174.25 212.0L173.75 213.7L173.25 211.9L172.75 218.5L172.25 210.6L171.75 213.7L171.25 209.8L170.75 210.4L170.25 210.9L169.75 209.4L169.25 211.0L168.75 212.8L168.25 211.6L167.75 206.9L167.25 211.9L166.75 211.7L166.25 212.3L165.75 212.8L165.25 213.2L164.75 212.3L164.25 211.6L163.75 210.8L163.25 212.7L162.75 208.9L162.25 212.8L161.75 211.5L161.25 210.5L160.75 210.5L160.25 207.6L159.75 211.2L159.25 212.9L158.75 209.8L158.25 216.9L157.75 211.0L157.25 215.3L156.75 211.9L156.25 211.3L155.75 213.1L155.25 209.8L154.75 211.1L154.25 212.5L153.75 213.5L153.25 212.0L152.75 210.7L152.25 208.5L151.75 210.1L151.25 210.8L150.75 217.2L150.25 212.3L149.75 211.3L149.25 211.4L148.75 212.0L148.25 211.3L147.75 212.5L147.25 208.9L146.75 210.1L146.25 214.4L145.75 210.7L145.25 216.8L144.75 206.0L144.25 213.2L143.75 213.7L143.25 210.4L142.75 212.4L142.25 212.8L141.75 217.4L141.25 209.6L140.75 213.3L140.25 209.8L139.75 211.0L139.25 217.2L138.75 207.1L138.25 211.1L137.75 208.5L137.25 212.8L136.75 209.0L136.25 211.8L135.75 209.9L135.25 213.2L134.75 212.9L134.25 209.6L133.75 212.6L133.25 213.6L132.75 212.5L132.25 207.8L131.75 209.8L131.25 210.8L130.75 210.7L130.25 208.3L129.75 216.0L129.25 211.7L128.75 214.7L128.25 208.7L127.75 208.9L127.25 210.1L126.75 210.7L126.25 213.5L125.75 210.8L125.25 212.3L124.75 208.8L124.25 211.6L123.75 211.1L123.25 211.3L122.75 211.9L122.25 212.5L121.75 209.3L121.25 211.6L120.75 211.1L120.25 212.5L119.75 213.7L119.25 211.9L118.75 210.5L118.25 208.8L117.75 210.8L117.25 213.7L116.75 211.9L116.25 211.8L115.75 212.2L115.25 212.7L114.75 213.1L114.25 212.1L113.75 208.5L113.25 215.4L112.75 211.9L112.25 211.2L111.75 219.0L111.25 210.9L110.75 210.8L110.25 213.4L109.75 212.0L109.25 213.2L108.75 213.1L108.25 213.9L107.75 211.7L107.25 212.7L106.75 213.3L106.25 211.7L105.75 213.9L105.25 209.8L104.75 212.0L104.25 213.1L103.75 214.9L103.25 211.2L102.75 213.9L102.25 212.2L101.75 215.3L101.25 211.7L100.75 211.6L100.25 213.2L99.75 211.9L99.25 209.5L98.75 214.2L98.25 211.7L97.75 213.3L97.25 208.9L96.75 209.1L96.25 210.3L95.75 215.3L95.25 209.7L94.75 210.7L94.25 213.4L93.75 216.6L93.25 210.8L92.75 214.0L92.25 210.4L91.75 213.3L91.25 208.7L90.75 209.4L90.25 213.3L89.75 209.9L89.25 208.5L88.75 211.3L88.25 212.0L87.75 210.6L87.25 213.3L86.75 215.2L86.25 212.9L85.75 209.8L85.25 215.6L84.75 213.3L84.25 207.5L83.75 209.3L83.25 213.2L82.75 208.1L82.25 208.6L81.75 214.4L81.25 214.4L80.75 207.9L80.25 213.3L79.75 214.9L79.25 211.5L78.75 211.4L78.25 211.5L77.75 212.0L77.25 211.8L76.75 213.9L76.25 215.0L75.75 213.0L75.25 211.9L74.75 210.5L74.25 212.4L73.75 214.7L73.25 216.3L72.75 211.0L72.25 210.8L71.75 216.8L71.25 214.1L70.75 211.4L70.25 212.8L69.75 212.5L69.25 210.3L68.75 216.6L68.25 212.8L67.75 206.6L67.25 210.3L66.75 211.0L66.25 212.4L65.75 208.9L65.25 216.1L64.75 207.5L64.25 210.4L63.75 215.6L63.25 210.5L62.75 214.8L62.25 212.3L61.75 212.0L61.25 214.4L60.75 213.4L60.25 211.2L59.75 208.7L59.25 209.4L58.75 211.8L58.25 211.4L57.75 211.1L57.25 211.5L56.75 213.1L56.25 214.4L55.75 216.9L55.25 210.1L54.75 212.3L54.25 212.6L53.75 214.5L53.25 212.3L52.75 213.8L52.25 212.2L51.75 212.9L51.25 213.0L50.75 212.6L50.25 209.9L49.75 213.5L49.25 212.5L48.75 211.9L48.25 211.9L47.75 209.1L47.25 211.1L46.75 214.1L46.25 212.4L45.75 212.2L45.25 210.2L44.75 219.1L44.25 213.8L43.75 211.5L43.25 212.0L42.75 213.0L42.25 214.5L41.75 213.4L41.25 212.2L40.75 215.0L40.25 214.8L39.75 216.5L39.25 214.3L38.75 215.1L38.25 213.6L37.75 210.9L37.25 211.7L36.75 222.0L36.25 211.0L35.75 211.6L35.25 210.9L34.75 215.4L34.25 215.3L33.75 210.6L33.25 215.6L32.50 213.8Z" fill="#f9806f" stroke="none"/>
<path d="M32.75 219.3V196.2M33.25 216.7V202.9M33.75 211.2V197.9M34.25 216.6V200.4M34.75 216.9V196.5M35.25 213.3V196.1M35.75 213.3V200.8M36.25 213.6V196.7M36.75 253.6V198.5M37.25 217.5V199.6M37.75 211.8V199.0M38.25 216.8V199.2M38.75 217.9V199.8M39.25 219.0V198.4M39.75 222.1V197.6M40.25 217.0V202.4M40.75 216.5V196.4M41.25 213.8V198.0M41.75 215.7V198.5M42.25 221.0V197.3M42.75 285.7V199.5M43.25 217.3V197.7M43.75 218.0V197.5M44.25 217.0V201.1M44.75 221.3V198.9M45.25 217.8V199.5M45.75 212.7V198.6M46.25 217.4V200.2M46.75 217.4V201.2M47.25 212.4V198.1M47.75 277.6V201.3M48.25 212.2V204.1M48.75 216.1V201.2M49.25 215.4V199.8M49.75 217.6V198.0M50.25 213.6V199.0M50.75 213.5V198.0M51.25 215.1V199.4M51.75 215.0V195.6M52.25 213.3V200.0M52.75 215.7V201.3M53.25 218.6V201.9M53.75 214.8V192.7M54.25 216.1V197.2M54.75 215.7V199.6M55.25 211.8V199.2M55.75 218.4V198.6M56.25 216.6V197.5M56.75 215.4V198.5M57.25 214.9V196.8M57.75 211.8V200.4M58.25 211.7V201.7M58.75 212.2V198.5M59.25 210.1V194.2M59.75 216.0V196.4M60.25 212.1V201.1M60.75 217.6V198.1M61.25 214.4V192.8M61.75 216.9V199.5M62.25 214.5V197.3M62.75 215.0V193.5M63.25 214.7V202.4M63.75 215.9V201.4M64.25 211.7V201.7M64.75 222.5V198.3M65.25 220.1V202.4M65.75 213.6V194.4M66.25 215.2V201.6M66.75 212.1V193.3M67.25 218.3V198.1M67.75 208.6V200.2M68.25 213.3V194.0M68.75 218.1V200.2M69.25 211.8V200.0M69.75 218.0V199.7M70.25 213.2V197.2M70.75 211.9V201.1M71.25 214.9V198.7M71.75 219.4V195.7M72.25 216.1V192.6M72.75 214.5V197.7M73.25 217.5V197.9M73.75 218.8V200.4M74.25 212.6V193.4M74.75 216.9V192.9M75.25 213.5V201.0M75.75 213.9V200.3M76.25 216.6V192.3M76.75 215.5V193.9M77.25 214.7V199.6M77.75 213.3V199.8M78.25 211.7V191.8M78.75 213.5V199.4M79.25 212.1V198.4M79.75 215.4V197.9M80.25 213.5V200.7M80.75 210.6V195.2M81.25 217.4V198.6M81.75 217.6V198.0M82.25 211.6V196.0M82.75 210.9V196.9M83.25 215.2V197.8M83.75 214.1V202.8M84.25 211.0V192.9M84.75 213.3V194.0M85.25 215.8V198.5M85.75 210.3V199.5M86.25 216.0V194.7M86.75 217.0V198.1M87.25 214.1V198.8M87.75 212.7V203.4M88.25 215.5V195.2M88.75 216.3V198.4M89.25 214.8V197.0M89.75 212.8V197.2M90.25 214.7V198.7M90.75 211.1V192.8M91.25 211.7V196.6M91.75 213.9V199.1M92.25 210.9V196.4M92.75 214.2V198.5M93.25 212.4V198.0M93.75 217.2V197.1M94.25 218.1V196.4M94.75 215.7V197.2M95.25 212.3V198.1M95.75 216.3V199.1M96.25 210.6V201.8M96.75 210.8V194.7M97.25 209.4V195.6M97.75 215.8V196.6M98.25 213.1V192.8M98.75 215.5V200.8M99.25 211.6V198.8M99.75 215.0V193.6M100.25 214.8V194.5M100.75 214.8V197.6M101.25 211.8V195.8M101.75 218.7V197.0M102.25 213.5V199.4M102.75 217.7V203.1M103.25 216.9V200.8M103.75 268.2V196.8M104.25 214.9V195.7M104.75 212.7V195.9M105.25 211.4V200.6M105.75 215.4V197.4M106.25 212.4V192.1M106.75 213.9V198.5M107.25 214.2V199.0M107.75 213.5V195.2M108.25 216.2V199.8M108.75 214.0V199.2M109.25 213.6V191.7M109.75 215.1V195.6M110.25 214.9V193.0M110.75 211.0V197.1M111.25 212.3V198.7M111.75 274.5V201.3M112.25 216.3V195.5M112.75 213.6V199.6M113.25 216.6V197.6M113.75 212.3V201.0M114.25 220.2V196.2M114.75 217.5V196.4M115.25 215.8V198.9M115.75 214.1V198.8M116.25 213.0V198.9M116.75 260.1V198.8M117.25 215.4V198.7M117.75 211.7V197.9M118.25 213.9V195.6M118.75 214.5V195.1M119.25 214.6V195.4M119.75 217.7V199.7M120.25 212.5V198.7M120.75 212.1V199.8M121.25 212.0V201.0M121.75 216.7V200.5M122.25 213.5V194.5M122.75 216.9V197.5M123.25 213.3V199.1M123.75 218.7V197.3M124.25 214.5V192.9M124.75 212.6V196.5M125.25 216.0V199.7M125.75 211.6V199.5M126.25 224.8V193.9M126.75 215.1V194.2M127.25 210.5V196.2M127.75 209.7V196.4M128.25 212.3V199.5M128.75 215.0V195.9M129.25 211.9V196.8M129.75 217.1V194.7M130.25 210.0V194.9M130.75 212.6V196.2M131.25 212.4V198.7M131.75 210.6V196.6M132.25 211.8V197.8M132.75 214.0V197.0M133.25 221.3V197.1M133.75 218.2V200.8M134.25 211.2V195.4M134.75 215.7V197.7M135.25 215.5V197.8M135.75 213.9V196.9M136.25 215.0V195.5M136.75 214.6V198.3M137.25 213.6V194.8M137.75 216.4V197.5M138.25 217.3V193.6M138.75 210.7V198.6M139.25 218.0V193.9M139.75 212.5V193.8M140.25 211.4V199.4M140.75 215.7V196.5M141.25 209.9V199.0M141.75 256.7V190.5M142.25 213.3V200.8M142.75 218.9V196.3M143.25 214.0V194.7M143.75 214.1V198.4M144.25 213.6V201.0M144.75 206.9V193.8M145.25 217.3V198.6M145.75 213.8V202.0M146.25 215.5V197.9M146.75 210.3V195.6M147.25 209.8V193.2M147.75 212.5V196.3M148.25 215.1V197.1M148.75 216.0V193.0M149.25 212.6V201.2M149.75 215.3V200.4M150.25 212.3V199.5M150.75 218.5V195.4M151.25 211.3V196.3M151.75 212.8V201.3M152.25 211.4V199.6M152.75 211.4V198.8M153.25 213.9V202.1M153.75 218.7V197.9M154.25 213.2V196.0M154.75 211.4V194.3M155.25 218.7V193.3M155.75 215.4V194.9M156.25 211.6V197.0M156.75 213.3V197.7M157.25 218.6V198.5M157.75 212.6V197.3M158.25 220.0V190.2M158.75 218.6V200.1M159.25 213.2V199.6M159.75 212.4V196.7M160.25 208.0V195.8M160.75 214.7V190.5M161.25 212.5V197.6M161.75 214.6V197.7M162.25 214.2V198.5M162.75 212.8V195.7M163.25 214.2V197.3M163.75 212.4V199.5M164.25 213.7V194.5M164.75 212.8V199.4M165.25 215.7V194.3M165.75 216.1V199.9M166.25 213.6V190.8M166.75 214.2V197.3M167.25 212.4V198.3M167.75 208.2V194.1M168.25 211.8V202.3M168.75 215.3V200.6M169.25 213.6V197.1M169.75 222.4V200.3M170.25 211.6V197.5M170.75 211.6V195.9M171.25 211.1V195.5M171.75 215.2V193.9M172.25 215.1V194.7M172.75 221.5V195.2M173.25 212.9V198.0M173.75 214.0V195.0M174.25 214.5V199.2M174.75 215.9V197.9M175.25 213.7V200.4M175.75 213.5V196.8M176.25 216.6V195.9M176.75 214.0V197.7M177.25 210.3V194.8M177.75 215.1V200.6M178.25 211.4V197.5M178.75 211.4V198.0M179.25 210.5V194.3M179.75 217.1V201.3M180.25 210.5V194.6M180.75 216.7V196.6M181.25 213.5V196.6M181.75 211.7V199.9M182.25 213.7V194.9M182.75 216.4V188.8M183.25 216.5V199.8M183.75 213.2V199.6M184.25 212.0V200.2M184.75 212.0V193.5M185.25 210.5V197.1M185.75 215.0V191.1M186.25 210.5V196.3M186.75 215.4V200.3M187.25 213.1V199.3M187.75 211.4V198.9M188.25 210.9V190.4M188.75 216.6V187.7M189.25 209.0V193.9M189.75 213.6V195.8M190.25 209.7V193.5M190.75 211.4V196.5M191.25 215.3V196.5M191.75 217.2V195.8M192.25 214.9V192.5M192.75 217.1V199.9M193.25 212.1V196.9M193.75 214.0V197.1M194.25 215.0V193.1M194.75 212.4V195.0M195.25 211.6V196.5M195.75 214.3V199.0M196.25 213.7V198.1M196.75 211.0V194.1M197.25 216.2V197.1M197.75 214.3V195.2M198.25 213.5V198.9M198.75 211.8V197.8M199.25 213.5V197.6M199.75 219.9V197.9M200.25 221.4V195.2M200.75 215.2V200.8M201.25 215.4V196.0M201.75 216.0V197.8M202.25 216.2V197.2M202.75 215.4V198.7M203.25 218.7V197.2M203.75 214.3V194.3M204.25 210.1V196.4M204.75 214.3V199.9M205.25 215.4V201.1M205.75 213.4V196.0M206.25 210.3V199.9M206.75 211.1V199.5M207.25 213.4V195.1M207.75 211.8V199.0M208.25 215.8V198.2M208.75 213.0V199.0M209.25 222.8V202.2M209.75 209.6V197.9M210.25 214.1V200.5M210.75 216.9V197.5M211.25 213.1V199.0M211.75 212.2V202.8M212.25 288.9V193.6M212.75 212.9V197.7M213.25 218.0V201.9M213.75 213.3V197.4M214.25 218.4V201.4M214.75 221.9V198.2M215.25 214.4V193.5M215.75 216.6V197.1M216.25 271.3V197.0M216.75 210.8V199.2M217.25 216.5V200.5M217.75 215.8V194.4M218.25 213.1V192.2M218.75 209.6V199.3M219.25 215.1V195.0M219.75 215.2V197.1M220.25 261.6V200.8M220.75 214.3V199.4M221.25 215.3V195.4M221.75 219.0V200.9M222.25 213.0V202.6M222.75 210.1V191.6M223.25 217.1V198.3M223.75 211.3V194.0M224.25 214.0V198.5M224.75 216.3V197.4M225.25 211.9V194.7M225.75 212.6V199.0M226.25 212.9V193.7M226.75 212.5V194.3M227.25 215.1V196.5M227.75 223.7V202.3M228.25 213.7V193.5M228.75 218.5V195.9M229.25 214.0V197.7M229.75 211.1V198.8M230.25 213.1V201.1M230.75 215.7V199.7M231.25 214.7V199.8M231.75 215.4V199.8M232.25 210.4V193.0M232.75 218.2V190.5M233.25 212.5V197.0M233.75 215.2V202.0M234.25 218.5V201.2M234.75 214.6V196.7M235.25 213.7V199.4M235.75 214.8V198.0M236.25 216.3V198.8M236.75 212.4V191.6M237.25 213.0V196.0M237.75 211.7V199.9M238.25 218.2V195.3M238.75 216.2V195.9M239.25 212.9V202.5M239.75 212.1V195.0M240.25 214.3V193.5M240.75 216.1V201.8M241.25 215.6V200.2M241.75 212.0V199.1M242.25 212.1V200.0M242.75 211.7V199.6M243.25 217.2V199.0M243.75 214.0V200.4M244.25 218.5V198.2M244.75 217.2V198.5M245.25 214.4V200.7M245.75 216.8V197.9M246.25 212.6V193.5M246.75 214.6V201.9M247.25 213.0V197.1M247.75 213.1V193.1M248.25 215.4V199.6M248.75 210.6V199.5M249.25 215.9V197.5M249.75 211.8V194.2" stroke="#f9806f" stroke-width="0.95" fill="none"/>
<path d="M32.5 240.5H250" stroke="#231f20" stroke-width="1.15" stroke-dasharray="7.2 7.15" stroke-dashoffset="3.45"/>
<rect x="32.5" y="168.5" width="217.5" height="130.5" fill="none" stroke="#231f20" stroke-width="1.0"/>
<text x="32.5" y="310.6" font-size="10" text-anchor="middle" fill="#231f20" >120</text>
<text x="105" y="310.6" font-size="10" text-anchor="middle" fill="#231f20" >140</text>
<text x="177.5" y="310.6" font-size="10" text-anchor="middle" fill="#231f20" >160</text>
<text x="250" y="310.6" font-size="10" text-anchor="middle" fill="#231f20" >180</text>
<path d="M32.5 299v-3M105 299v-3M177.5 299v-3M250 299v-3" stroke="#231f20" stroke-width="0.9" fill="none"/>
<text x="30.3" y="302.6" font-size="10" text-anchor="end" fill="#231f20" >0</text>
<text x="30.3" y="280.1" font-size="10" text-anchor="end" fill="#231f20" >10</text>
<text x="30.3" y="257.6" font-size="10" text-anchor="end" fill="#231f20" >20</text>
<text x="30.3" y="235.1" font-size="10" text-anchor="end" fill="#231f20" >30</text>
<text x="30.3" y="212.6" font-size="10" text-anchor="end" fill="#231f20" >40</text>
<text x="30.3" y="190.1" font-size="10" text-anchor="end" fill="#231f20" >50</text>
<path d="M32.5 299h3M32.5 276.5h3M32.5 254h3M32.5 231.5h3M32.5 209h3M32.5 186.5h3" stroke="#231f20" stroke-width="0.9" fill="none"/>
<path d="M375.50 26.6L376.25 27.8L376.75 28.2L377.25 24.6L377.75 27.4L378.25 31.8L378.75 30.4L379.25 31.3L379.75 23.1L380.25 28.4L380.75 33.2L381.25 32.7L381.75 26.9L382.25 29.7L382.75 24.5L383.25 30.4L383.75 25.1L384.25 29.0L384.75 26.6L385.25 27.4L385.75 25.8L386.25 27.5L386.75 29.3L387.25 27.3L387.75 27.2L388.25 26.8L388.75 27.0L389.25 14.4L389.75 28.9L390.25 23.5L390.75 23.6L391.25 26.0L391.75 25.5L392.25 20.8L392.75 23.8L393.25 27.3L393.75 25.2L394.25 23.6L394.75 30.1L395.25 26.8L395.75 27.4L396.25 30.3L396.75 30.6L397.25 30.1L397.75 28.9L398.25 30.6L398.75 23.2L399.25 30.6L399.75 29.2L400.25 31.5L400.75 29.8L401.25 30.6L401.75 32.3L402.25 27.5L402.75 30.5L403.25 26.1L403.75 31.6L404.25 31.4L404.75 32.7L405.25 29.5L405.75 26.8L406.25 26.5L406.75 25.7L407.25 29.7L407.75 27.7L408.25 26.9L408.75 25.5L409.25 30.0L409.75 27.2L410.25 30.6L410.75 31.4L411.25 29.6L411.75 25.9L412.25 30.3L412.75 28.7L413.25 29.8L413.75 30.7L414.25 21.8L414.75 28.8L415.25 31.7L415.75 30.4L416.25 31.7L416.75 29.3L417.25 27.8L417.75 29.1L418.25 28.4L418.75 27.5L419.25 30.0L419.75 22.1L420.25 20.2L420.75 26.8L421.25 25.9L421.75 22.4L422.25 21.8L422.75 24.8L423.25 25.1L423.75 28.0L424.25 24.4L424.75 24.5L425.25 21.6L425.75 28.2L426.25 25.3L426.75 23.4L427.25 24.5L427.75 25.2L428.25 23.0L428.75 30.1L429.25 17.5L429.75 29.4L430.25 23.4L430.75 24.3L431.25 23.6L431.75 29.0L432.25 30.2L432.75 20.6L433.25 29.3L433.75 25.8L434.25 29.3L434.75 29.6L435.25 24.4L435.75 20.9L436.25 22.6L436.75 21.7L437.25 26.7L437.75 27.8L438.25 23.3L438.75 22.7L439.25 26.2L439.75 22.6L440.25 25.4L440.75 30.4L441.25 24.7L441.75 30.2L442.25 31.0L442.75 31.1L443.25 31.5L443.75 32.0L444.25 33.8L444.75 29.1L445.25 27.3L445.75 31.7L446.25 26.4L446.75 34.7L447.25 31.8L447.75 30.8L448.25 31.0L448.75 32.4L449.25 32.9L449.75 32.0L450.25 31.2L450.75 31.2L451.25 26.7L451.75 28.3L452.25 23.6L452.75 30.4L453.25 28.4L453.75 29.6L454.25 28.2L454.75 28.5L455.25 28.9L455.75 27.1L456.25 31.0L456.75 33.0L457.25 30.7L457.75 28.4L458.25 33.2L458.75 35.1L459.25 28.6L459.75 30.4L460.25 30.6L460.75 33.5L461.25 33.9L461.75 34.2L462.25 31.2L462.75 30.9L463.25 32.2L463.75 32.0L464.25 34.0L464.75 33.4L465.25 28.8L465.75 27.2L466.25 29.9L466.75 28.3L467.25 28.8L467.75 22.3L468.25 28.5L468.75 26.8L469.25 28.5L469.75 27.2L470.25 24.4L470.75 24.6L471.25 29.2L471.75 26.6L472.25 26.9L472.75 27.9L473.25 28.3L473.75 27.1L474.25 29.5L474.75 27.5L475.25 28.6L475.75 30.4L476.25 30.1L476.75 33.6L477.25 32.9L477.75 30.0L478.25 30.0L478.75 30.8L479.25 29.7L479.75 32.2L480.25 32.9L480.75 27.9L481.25 29.4L481.75 29.0L482.25 28.8L482.75 30.7L483.25 28.9L483.75 31.7L484.25 33.0L484.75 33.0L485.25 30.4L485.75 30.1L486.25 30.3L486.75 29.0L487.25 33.4L487.75 32.7L488.25 29.1L488.75 33.8L489.25 33.6L489.75 29.3L490.25 32.0L490.75 34.2L491.25 35.8L491.75 34.1L492.25 30.3L492.75 39.0L493.25 32.0L493.75 35.9L494.25 34.8L494.75 34.9L495.25 31.2L495.75 32.6L496.25 32.0L496.75 32.1L497.25 36.3L497.75 34.0L498.25 29.5L498.75 31.1L499.25 35.4L499.75 31.4L500.25 31.5L500.75 27.8L501.25 20.7L501.75 32.2L502.25 29.7L502.75 27.5L503.25 29.0L503.75 32.1L504.25 31.0L504.75 20.3L505.25 28.8L505.75 32.4L506.25 32.8L506.75 32.3L507.25 30.1L507.75 30.8L508.25 30.7L508.75 34.7L509.25 31.9L509.75 32.2L510.25 34.5L510.75 28.9L511.25 27.3L511.75 25.4L512.25 31.3L512.75 28.1L513.25 30.2L513.75 24.0L514.25 31.5L514.75 29.8L515.25 28.7L515.75 29.6L516.25 30.7L516.75 28.0L517.25 25.8L517.75 29.7L518.25 25.9L518.75 28.3L519.25 27.2L519.75 29.7L520.25 27.7L520.75 30.9L521.25 29.9L521.75 27.4L522.25 29.4L522.75 29.6L523.25 34.4L523.75 28.2L524.25 29.3L524.75 31.5L525.25 34.0L525.75 31.0L526.25 29.9L526.75 25.8L527.25 29.5L527.75 30.4L528.25 31.5L528.75 32.1L529.25 34.7L529.75 30.2L530.25 29.6L530.75 27.9L531.25 30.4L531.75 26.8L532.25 32.0L532.75 27.8L533.25 28.6L533.75 31.8L534.25 29.1L534.75 26.2L535.25 30.5L535.75 30.9L536.25 26.2L536.75 30.6L537.25 31.3L537.75 29.5L538.25 31.1L538.75 29.1L539.25 34.1L539.75 32.3L540.25 28.0L540.75 29.3L541.25 34.6L541.75 35.2L542.25 26.2L542.75 27.4L543.25 30.0L543.75 28.7L544.25 27.8L544.75 31.2L545.25 27.7L545.75 32.0L546.25 28.4L546.75 22.9L547.25 26.4L547.75 29.3L548.25 21.2L548.75 23.7L549.25 28.6L549.75 24.7L550.25 28.7L550.75 26.6L551.25 24.8L551.75 28.1L552.25 24.2L552.75 26.6L553.25 28.3L553.75 25.6L554.25 27.9L554.75 30.4L555.25 27.8L555.75 27.9L556.25 28.1L556.75 26.7L557.25 24.8L557.75 29.8L558.25 29.0L558.75 26.2L559.25 29.5L559.75 31.4L560.25 26.4L560.75 28.0L561.25 28.6L561.75 26.3L562.25 23.6L562.75 27.2L563.25 25.8L563.75 29.6L564.25 25.8L564.75 24.7L565.25 22.3L565.75 20.8L566.25 24.8L566.75 24.0L567.25 28.4L567.75 21.0L568.25 26.0L568.75 31.0L569.25 27.3L569.75 21.8L570.25 27.8L570.75 26.7L571.25 24.5L571.75 31.2L572.25 26.1L572.75 28.6L573.25 34.3L573.75 30.7L574.25 32.2L574.75 26.8L575.25 32.8L575.75 29.7L576.25 33.0L576.75 29.7L577.25 26.2L577.75 30.8L578.25 29.0L578.75 29.1L579.25 13.7L579.75 19.3L580.25 25.9L580.75 23.8L581.25 27.5L581.75 28.2L582.25 25.1L582.75 29.3L583.25 28.8L583.75 28.1L584.25 31.5L584.75 28.2L585.25 31.2L585.75 30.0L586.25 27.7L586.75 29.2L587.25 27.3L587.75 30.1L588.25 28.0L588.75 30.8L589.25 28.6L589.75 29.0L590.25 31.4L590.75 27.4L591.25 31.6L591.75 27.4L592.25 27.9L593.00 27.3L593.00 52.5L592.25 56.1L591.75 56.4L591.25 54.3L590.75 54.2L590.25 57.5L589.75 66.5L589.25 61.0L588.75 59.3L588.25 56.6L587.75 54.4L587.25 55.5L586.75 57.5L586.25 53.8L585.75 52.4L585.25 52.3L584.75 53.9L584.25 57.2L583.75 54.8L583.25 52.3L582.75 51.5L582.25 53.6L581.75 54.4L581.25 57.6L580.75 53.9L580.25 52.1L579.75 54.1L579.25 54.8L578.75 102.4L578.25 60.2L577.75 55.3L577.25 57.2L576.75 56.1L576.25 58.7L575.75 56.1L575.25 54.9L574.75 56.5L574.25 55.4L573.75 54.8L573.25 56.3L572.75 55.9L572.25 54.9L571.75 51.8L571.25 53.2L570.75 54.3L570.25 57.8L569.75 53.0L569.25 49.3L568.75 53.6L568.25 59.0L567.75 50.3L567.25 51.1L566.75 51.4L566.25 50.6L565.75 50.4L565.25 52.6L564.75 49.6L564.25 51.2L563.75 51.2L563.25 51.4L562.75 50.8L562.25 50.5L561.75 53.8L561.25 54.6L560.75 53.2L560.25 96.7L559.75 52.4L559.25 55.2L558.75 53.3L558.25 54.0L557.75 50.9L557.25 54.5L556.75 53.6L556.25 55.5L555.75 63.4L555.25 54.2L554.75 53.9L554.25 53.9L553.75 52.4L553.25 52.0L552.75 53.1L552.25 50.4L551.75 49.9L551.25 50.2L550.75 54.4L550.25 54.3L549.75 51.6L549.25 50.9L548.75 53.4L548.25 54.0L547.75 56.2L547.25 52.7L546.75 54.4L546.25 54.1L545.75 54.9L545.25 56.9L544.75 55.3L544.25 56.1L543.75 58.3L543.25 55.5L542.75 57.6L542.25 55.1L541.75 57.0L541.25 60.7L540.75 59.6L540.25 55.6L539.75 58.1L539.25 58.3L538.75 56.4L538.25 54.8L537.75 56.2L537.25 56.2L536.75 55.4L536.25 55.6L535.75 54.7L535.25 54.4L534.75 52.5L534.25 54.8L533.75 55.5L533.25 54.6L532.75 55.1L532.25 54.6L531.75 57.8L531.25 58.0L530.75 55.1L530.25 57.0L529.75 56.2L529.25 57.7L528.75 57.0L528.25 60.1L527.75 57.3L527.25 59.9L526.75 56.4L526.25 56.8L525.75 57.2L525.25 57.7L524.75 58.3L524.25 57.0L523.75 54.8L523.25 57.2L522.75 54.9L522.25 55.1L521.75 53.7L521.25 53.7L520.75 53.7L520.25 61.4L519.75 56.6L519.25 55.7L518.75 52.8L518.25 50.9L517.75 55.4L517.25 52.8L516.75 60.8L516.25 55.0L515.75 56.6L515.25 64.7L514.75 69.0L514.25 56.7L513.75 57.4L513.25 58.3L512.75 54.3L512.25 56.9L511.75 57.7L511.25 64.3L510.75 58.7L510.25 57.0L509.75 56.9L509.25 57.1L508.75 56.0L508.25 57.1L507.75 56.9L507.25 58.7L506.75 56.5L506.25 58.8L505.75 55.6L505.25 55.1L504.75 54.9L504.25 55.6L503.75 58.6L503.25 58.1L502.75 61.3L502.25 55.7L501.75 58.6L501.25 56.1L500.75 57.0L500.25 57.3L499.75 55.3L499.25 56.4L498.75 57.6L498.25 57.8L497.75 58.1L497.25 55.9L496.75 58.9L496.25 58.9L495.75 58.2L495.25 59.6L494.75 61.5L494.25 58.7L493.75 59.6L493.25 64.1L492.75 58.5L492.25 60.3L491.75 60.6L491.25 59.2L490.75 58.3L490.25 57.9L489.75 57.0L489.25 56.4L488.75 60.0L488.25 55.6L487.75 56.7L487.25 55.4L486.75 54.0L486.25 53.3L485.75 55.0L485.25 53.9L484.75 53.7L484.25 55.3L483.75 97.4L483.25 100.0L482.75 58.9L482.25 57.5L481.75 55.2L481.25 58.6L480.75 57.7L480.25 55.5L479.75 56.1L479.25 58.6L478.75 56.6L478.25 58.3L477.75 59.5L477.25 60.4L476.75 56.5L476.25 57.8L475.75 57.2L475.25 55.8L474.75 55.0L474.25 53.6L473.75 54.8L473.25 56.0L472.75 53.8L472.25 54.3L471.75 53.1L471.25 58.2L470.75 53.6L470.25 52.6L469.75 53.7L469.25 52.0L468.75 52.7L468.25 53.3L467.75 52.8L467.25 53.6L466.75 54.0L466.25 52.8L465.75 56.0L465.25 59.0L464.75 54.2L464.25 55.8L463.75 54.1L463.25 56.9L462.75 56.4L462.25 59.1L461.75 57.1L461.25 56.1L460.75 57.8L460.25 56.7L459.75 55.3L459.25 55.7L458.75 57.5L458.25 54.1L457.75 55.3L457.25 54.9L456.75 56.3L456.25 54.5L455.75 55.2L455.25 54.0L454.75 53.8L454.25 56.9L453.75 52.5L453.25 54.3L452.75 59.9L452.25 63.0L451.75 51.4L451.25 55.4L450.75 57.6L450.25 55.8L449.75 57.4L449.25 54.2L448.75 55.2L448.25 56.0L447.75 57.6L447.25 58.2L446.75 56.5L446.25 56.3L445.75 56.0L445.25 55.9L444.75 54.1L444.25 56.1L443.75 56.8L443.25 52.9L442.75 54.1L442.25 52.9L441.75 53.7L441.25 55.2L440.75 53.3L440.25 51.5L439.75 54.5L439.25 51.9L438.75 54.2L438.25 51.9L437.75 53.7L437.25 53.1L436.75 49.8L436.25 51.6L435.75 52.4L435.25 52.2L434.75 51.3L434.25 54.6L433.75 54.5L433.25 54.1L432.75 54.8L432.25 51.4L431.75 55.2L431.25 53.3L430.75 53.9L430.25 53.7L429.75 55.7L429.25 50.6L428.75 52.1L428.25 54.5L427.75 51.3L427.25 50.9L426.75 53.6L426.25 53.6L425.75 49.1L425.25 63.2L424.75 51.7L424.25 52.8L423.75 50.9L423.25 53.8L422.75 51.2L422.25 51.5L421.75 51.0L421.25 50.0L420.75 53.3L420.25 50.9L419.75 51.4L419.25 52.4L418.75 56.0L418.25 53.2L417.75 52.1L417.25 58.4L416.75 54.3L416.25 54.3L415.75 54.1L415.25 54.5L414.75 63.1L414.25 57.0L413.75 57.4L413.25 55.4L412.75 59.6L412.25 56.0L411.75 54.1L411.25 55.1L410.75 56.2L410.25 53.4L409.75 53.9L409.25 59.1L408.75 52.3L408.25 54.4L407.75 55.0L407.25 51.8L406.75 53.8L406.25 52.1L405.75 54.1L405.25 52.4L404.75 53.5L404.25 54.2L403.75 51.9L403.25 52.3L402.75 55.7L402.25 54.9L401.75 54.4L401.25 55.5L400.75 57.8L400.25 54.8L399.75 57.1L399.25 58.1L398.75 55.1L398.25 58.9L397.75 57.1L397.25 54.2L396.75 57.1L396.25 55.3L395.75 70.2L395.25 56.2L394.75 53.7L394.25 54.1L393.75 52.8L393.25 53.4L392.75 52.9L392.25 52.4L391.75 52.1L391.25 50.1L390.75 48.8L390.25 52.2L389.75 50.6L389.25 50.1L388.75 50.4L388.25 52.3L387.75 51.9L387.25 52.9L386.75 49.8L386.25 53.5L385.75 53.4L385.25 52.6L384.75 55.6L384.25 52.8L383.75 56.1L383.25 53.3L382.75 57.5L382.25 54.1L381.75 53.6L381.25 54.8L380.75 55.0L380.25 77.4L379.75 57.7L379.25 58.3L378.75 54.0L378.25 54.7L377.75 54.2L377.25 53.5L376.75 53.4L376.25 53.1L375.50 53.3Z" fill="#b4509b" stroke="none"/>
<path d="M375.75 64.0V26.6M376.25 58.4V27.8M376.75 57.2V28.2M377.25 73.1V24.6M377.75 64.3V27.4M378.25 97.5V31.8M378.75 57.6V30.4M379.25 97.7V31.3M379.75 88.2V23.1M380.25 131.5V28.4M380.75 73.6V33.2M381.25 73.0V32.7M381.75 68.4V26.9M382.25 88.7V29.7M382.75 112.8V24.5M383.25 58.3V30.4M383.75 68.4V25.1M384.25 58.9V29.0M384.75 64.2V26.6M385.25 58.4V27.4M385.75 73.2V25.8M386.25 61.8V27.5M386.75 52.4V29.3M387.25 56.0V27.3M387.75 104.3V27.2M388.25 120.4V26.8M388.75 52.4V27.0M389.25 54.9V14.4M389.75 54.3V28.9M390.25 54.1V23.5M390.75 52.7V23.6M391.25 53.4V26.0M391.75 53.1V25.5M392.25 59.6V20.8M392.75 122.0V23.8M393.25 112.5V27.3M393.75 90.4V25.2M394.25 59.3V23.6M394.75 70.2V30.1M395.25 67.0V26.8M395.75 131.5V27.4M396.25 78.9V30.3M396.75 67.3V30.6M397.25 56.1V30.1M397.75 70.4V28.9M398.25 124.6V30.6M398.75 113.4V23.2M399.25 73.6V30.6M399.75 119.1V29.2M400.25 125.8V31.5M400.75 93.5V29.8M401.25 73.7V30.6M401.75 70.7V32.3M402.25 59.1V27.5M402.75 110.0V30.5M403.25 67.5V26.1M403.75 53.4V31.6M404.25 71.2V31.4M404.75 62.6V32.7M405.25 55.0V29.5M405.75 71.8V26.8M406.25 55.4V26.5M406.75 63.6V25.7M407.25 60.9V29.7M407.75 67.2V27.7M408.25 69.9V26.9M408.75 61.3V25.5M409.25 114.5V30.0M409.75 113.7V27.2M410.25 67.0V30.6M410.75 70.3V31.4M411.25 72.3V29.6M411.75 58.7V25.9M412.25 67.9V30.3M412.75 111.9V28.7M413.25 58.8V29.8M413.75 133.3V30.7M414.25 107.3V21.8M414.75 127.6V28.8M415.25 128.6V31.7M415.75 76.8V30.4M416.25 108.2V31.7M416.75 89.8V29.3M417.25 122.1V27.8M417.75 56.9V29.1M418.25 62.2V28.4M418.75 74.7V27.5M419.25 127.4V30.0M419.75 68.6V22.1M420.25 122.7V20.2M420.75 99.2V26.8M421.25 130.1V25.9M421.75 73.9V22.4M422.25 67.5V21.8M422.75 69.1V24.8M423.25 116.2V25.1M423.75 100.5V28.0M424.25 129.7V24.4M424.75 124.3V24.5M425.25 128.3V21.6M425.75 135.2V28.2M426.25 90.6V25.3M426.75 121.7V23.4M427.25 122.8V24.5M427.75 73.8V25.2M428.25 101.4V23.0M428.75 64.6V30.1M429.25 55.4V17.5M429.75 122.3V29.4M430.25 57.9V23.4M430.75 133.3V24.3M431.25 59.1V23.6M431.75 75.8V29.0M432.25 125.4V30.2M432.75 61.5V20.6M433.25 82.1V29.3M433.75 135.5V25.8M434.25 123.8V29.3M434.75 66.0V29.6M435.25 64.6V24.4M435.75 135.5V20.9M436.25 125.4V22.6M436.75 120.7V21.7M437.25 98.3V26.7M437.75 63.7V27.8M438.25 58.4V23.3M438.75 112.6V22.7M439.25 56.4V26.2M439.75 61.5V22.6M440.25 61.7V25.4M440.75 117.6V30.4M441.25 135.5V24.7M441.75 135.5V30.2M442.25 86.2V31.0M442.75 74.9V31.1M443.25 57.7V31.5M443.75 91.3V32.0M444.25 74.9V33.8M444.75 58.8V29.1M445.25 59.6V27.3M445.75 87.0V31.7M446.25 60.0V26.4M446.75 63.7V34.7M447.25 66.0V31.8M447.75 61.2V30.8M448.25 112.6V31.0M448.75 66.4V32.4M449.25 57.2V32.9M449.75 128.8V32.0M450.25 107.9V31.2M450.75 61.8V31.2M451.25 63.7V26.7M451.75 58.3V28.3M452.25 73.1V23.6M452.75 133.9V30.4M453.25 83.4V28.4M453.75 116.6V29.6M454.25 69.7V28.2M454.75 59.6V28.5M455.25 62.7V28.9M455.75 71.8V27.1M456.25 61.5V31.0M456.75 70.3V33.0M457.25 57.2V30.7M457.75 65.4V28.4M458.25 94.2V33.2M458.75 135.4V35.1M459.25 68.6V28.6M459.75 74.2V30.4M460.25 59.4V30.6M460.75 63.0V33.5M461.25 58.5V33.9M461.75 59.4V34.2M462.25 97.1V31.2M462.75 57.3V30.9M463.25 66.8V32.2M463.75 74.0V32.0M464.25 56.7V34.0M464.75 61.4V33.4M465.25 70.9V28.8M465.75 118.7V27.2M466.25 131.1V29.9M466.75 55.2V28.3M467.25 67.9V28.8M467.75 67.0V22.3M468.25 118.6V28.5M468.75 104.0V26.8M469.25 55.6V28.5M469.75 70.1V27.2M470.25 58.6V24.4M470.75 81.1V24.6M471.25 116.3V29.2M471.75 69.7V26.6M472.25 61.6V26.9M472.75 67.6V27.9M473.25 73.5V28.3M473.75 56.9V27.1M474.25 130.5V29.5M474.75 92.3V27.5M475.25 63.7V28.6M475.75 61.3V30.4M476.25 97.8V30.1M476.75 58.8V33.6M477.25 128.1V32.9M477.75 112.6V30.0M478.25 102.0V30.0M478.75 61.9V30.8M479.25 60.8V29.7M479.75 61.0V32.2M480.25 59.4V32.9M480.75 127.4V27.9M481.25 59.8V29.4M481.75 60.2V29.0M482.25 59.8V28.8M482.75 70.8V30.7M483.25 134.5V28.9M483.75 132.1V31.7M484.25 124.3V33.0M484.75 58.2V33.0M485.25 83.8V30.4M485.75 64.8V30.1M486.25 59.4V30.3M486.75 57.6V29.0M487.25 62.3V33.4M487.75 74.6V32.7M488.25 91.9V29.1M488.75 132.9V33.8M489.25 80.0V33.6M489.75 65.5V29.3M490.25 66.7V32.0M490.75 113.0V34.2M491.25 60.5V35.8M491.75 97.4V34.1M492.25 64.1V30.3M492.75 65.8V39.0M493.25 117.7V32.0M493.75 66.1V35.9M494.25 68.1V34.8M494.75 63.2V34.9M495.25 62.6V31.2M495.75 60.1V32.6M496.25 70.3V32.0M496.75 71.1V32.1M497.25 60.2V36.3M497.75 66.3V34.0M498.25 102.4V29.5M498.75 62.8V31.1M499.25 62.6V35.4M499.75 65.8V31.4M500.25 87.9V31.5M500.75 71.4V27.8M501.25 58.8V20.7M501.75 128.9V32.2M502.25 59.3V29.7M502.75 109.1V27.5M503.25 122.7V29.0M503.75 127.4V32.1M504.25 59.1V31.0M504.75 61.2V20.3M505.25 63.5V28.8M505.75 61.3V32.4M506.25 100.6V32.8M506.75 66.6V32.3M507.25 60.4V30.1M507.75 73.8V30.8M508.25 61.4V30.7M508.75 59.5V34.7M509.25 114.8V31.9M509.75 67.8V32.2M510.25 122.6V34.5M510.75 94.9V28.9M511.25 109.4V27.3M511.75 82.4V25.4M512.25 68.9V31.3M512.75 58.6V28.1M513.25 130.2V30.2M513.75 60.3V24.0M514.25 77.5V31.5M514.75 132.0V29.8M515.25 103.0V28.7M515.75 127.5V29.6M516.25 68.1V30.7M516.75 121.7V28.0M517.25 96.4V25.8M517.75 58.3V29.7M518.25 59.6V25.9M518.75 82.5V28.3M519.25 73.5V27.2M519.75 70.6V29.7M520.25 103.0V27.7M520.75 55.6V30.9M521.25 102.6V29.9M521.75 117.5V27.4M522.25 73.0V29.4M522.75 74.1V29.6M523.25 69.1V34.4M523.75 133.1V28.2M524.25 106.1V29.3M524.75 117.1V31.5M525.25 95.8V34.0M525.75 129.5V31.0M526.25 131.2V29.9M526.75 114.0V25.8M527.25 131.8V29.5M527.75 67.9V30.4M528.25 66.3V31.5M528.75 133.0V32.1M529.25 71.7V34.7M529.75 61.1V30.2M530.25 108.9V29.6M530.75 56.7V27.9M531.25 103.9V30.4M531.75 105.7V26.8M532.25 122.6V32.0M532.75 100.1V27.8M533.25 132.2V28.6M533.75 131.3V31.8M534.25 72.5V29.1M534.75 74.7V26.2M535.25 133.3V30.5M535.75 56.0V30.9M536.25 68.2V26.2M536.75 70.5V30.6M537.25 73.8V31.3M537.75 73.8V29.5M538.25 59.1V31.1M538.75 71.4V29.1M539.25 62.6V34.1M539.75 65.1V32.3M540.25 64.2V28.0M540.75 70.6V29.3M541.25 104.4V34.6M541.75 59.1V35.2M542.25 59.1V26.2M542.75 61.9V27.4M543.25 71.2V30.0M543.75 129.7V28.7M544.25 59.4V27.8M544.75 73.7V31.2M545.25 71.2V27.7M545.75 114.4V32.0M546.25 107.0V28.4M546.75 65.3V22.9M547.25 65.8V26.4M547.75 121.3V29.3M548.25 116.7V21.2M548.75 129.7V23.7M549.25 58.9V28.6M549.75 116.3V24.7M550.25 114.6V28.7M550.75 131.7V26.6M551.25 55.1V24.8M551.75 53.2V28.1M552.25 98.3V24.2M552.75 103.5V26.6M553.25 96.8V28.3M553.75 66.5V25.6M554.25 66.0V27.9M554.75 119.7V30.4M555.25 129.1V27.8M555.75 113.4V27.9M556.25 64.0V28.1M556.75 63.7V26.7M557.25 114.6V24.8M557.75 56.5V29.8M558.25 126.4V29.0M558.75 58.4V26.2M559.25 113.6V29.5M559.75 102.5V31.4M560.25 133.7V26.4M560.75 85.5V28.0M561.25 85.0V28.6M561.75 69.5V26.3M562.25 63.0V23.6M562.75 109.0V27.2M563.25 131.4V25.8M563.75 52.2V29.6M564.25 57.0V25.8M564.75 56.5V24.7M565.25 70.8V22.3M565.75 73.3V20.8M566.25 66.5V24.8M566.75 133.3V24.0M567.25 61.9V28.4M567.75 55.4V21.0M568.25 135.4V26.0M568.75 74.9V31.0M569.25 109.2V27.3M569.75 106.7V21.8M570.25 134.5V27.8M570.75 114.5V26.7M571.25 108.8V24.5M571.75 56.4V31.2M572.25 90.1V26.1M572.75 73.5V28.6M573.25 69.7V34.3M573.75 60.5V30.7M574.25 59.2V32.2M574.75 70.0V26.8M575.25 71.9V32.8M575.75 74.0V29.7M576.25 83.5V33.0M576.75 59.3V29.7M577.25 89.5V26.2M577.75 83.6V30.8M578.25 131.8V29.0M578.75 134.7V29.1M579.25 126.6V13.7M579.75 113.0V19.3M580.25 89.3V25.9M580.75 131.8V23.8M581.25 103.5V27.5M581.75 118.5V28.2M582.25 110.2V25.1M582.75 103.5V29.3M583.25 127.4V28.8M583.75 104.7V28.1M584.25 97.1V31.5M584.75 121.1V28.2M585.25 71.2V31.2M585.75 54.8V30.0M586.25 123.3V27.7M586.75 125.1V29.2M587.25 102.9V27.3M587.75 86.7V30.1M588.25 88.0V28.0M588.75 134.1V30.8M589.25 96.1V28.6M589.75 79.9V29.0M590.25 90.2V31.4M590.75 58.9V27.4M591.25 59.4V31.6M591.75 73.3V27.4M592.25 75.7V27.9M592.75 65.3V27.3" stroke="#b4509b" stroke-width="1.0" fill="none"/>
<rect x="429.9" y="5.4" width="21.8" height="130.1" fill="#000" fill-opacity="0.19"/>
<path d="M375.5 76.5H593" stroke="#231f20" stroke-width="1.15" stroke-dasharray="7.2 7.15" stroke-dashoffset="3.45"/>
<rect x="375.5" y="5.4" width="217.5" height="130.1" fill="none" stroke="#231f20" stroke-width="1.0"/>
<text x="375.5" y="147.1" font-size="10" text-anchor="middle" fill="#231f20" >0</text>
<text x="411.8" y="147.1" font-size="10" text-anchor="middle" fill="#231f20" >100</text>
<text x="448" y="147.1" font-size="10" text-anchor="middle" fill="#231f20" >200</text>
<text x="484.2" y="147.1" font-size="10" text-anchor="middle" fill="#231f20" >300</text>
<text x="520.5" y="147.1" font-size="10" text-anchor="middle" fill="#231f20" >400</text>
<text x="556.8" y="147.1" font-size="10" text-anchor="middle" fill="#231f20" >500</text>
<text x="593" y="147.1" font-size="10" text-anchor="middle" fill="#231f20" >600</text>
<path d="M375.5 135.5v-3M411.8 135.5v-3M448 135.5v-3M484.2 135.5v-3M520.5 135.5v-3M556.8 135.5v-3M593 135.5v-3" stroke="#231f20" stroke-width="0.9" fill="none"/>
<text x="373.3" y="139.1" font-size="10" text-anchor="end" fill="#231f20" >0</text>
<text x="373.3" y="116.7" font-size="10" text-anchor="end" fill="#231f20" >10</text>
<text x="373.3" y="94.2" font-size="10" text-anchor="end" fill="#231f20" >20</text>
<text x="373.3" y="71.8" font-size="10" text-anchor="end" fill="#231f20" >30</text>
<text x="373.3" y="49.4" font-size="10" text-anchor="end" fill="#231f20" >40</text>
<text x="373.3" y="26.9" font-size="10" text-anchor="end" fill="#231f20" >50</text>
<path d="M375.5 135.5h3M375.5 113.1h3M375.5 90.6h3M375.5 68.2h3M375.5 45.8h3M375.5 23.3h3" stroke="#231f20" stroke-width="0.9" fill="none"/>
<path d="M375.50 199.8L376.25 200.3L376.75 186.6L377.25 199.7L377.75 198.4L378.25 190.6L378.75 196.7L379.25 198.7L379.75 199.8L380.25 201.4L380.75 199.0L381.25 196.4L381.75 187.5L382.25 194.7L382.75 198.1L383.25 195.6L383.75 197.7L384.25 196.8L384.75 202.8L385.25 193.0L385.75 192.1L386.25 201.0L386.75 196.1L387.25 195.8L387.75 194.0L388.25 192.9L388.75 195.2L389.25 197.8L389.75 193.6L390.25 186.7L390.75 198.3L391.25 189.9L391.75 193.4L392.25 192.2L392.75 198.3L393.25 198.6L393.75 195.8L394.25 198.8L394.75 196.0L395.25 196.1L395.75 192.9L396.25 195.3L396.75 197.6L397.25 194.7L397.75 195.7L398.25 193.4L398.75 199.7L399.25 195.7L399.75 198.7L400.25 197.7L400.75 193.9L401.25 201.1L401.75 198.8L402.25 191.8L402.75 201.9L403.25 197.4L403.75 196.7L404.25 200.2L404.75 183.7L405.25 197.5L405.75 195.6L406.25 192.9L406.75 198.1L407.25 195.6L407.75 201.5L408.25 195.8L408.75 193.7L409.25 193.6L409.75 192.5L410.25 200.6L410.75 195.2L411.25 199.6L411.75 198.9L412.25 200.5L412.75 193.4L413.25 196.3L413.75 196.8L414.25 195.2L414.75 193.3L415.25 196.7L415.75 193.1L416.25 195.5L416.75 189.0L417.25 197.4L417.75 199.9L418.25 197.3L418.75 198.2L419.25 195.2L419.75 197.2L420.25 197.0L420.75 192.5L421.25 198.0L421.75 197.0L422.25 194.8L422.75 199.7L423.25 201.1L423.75 194.0L424.25 192.8L424.75 195.6L425.25 200.1L425.75 200.2L426.25 200.0L426.75 197.6L427.25 191.6L427.75 197.3L428.25 194.4L428.75 201.4L429.25 187.6L429.75 197.6L430.25 198.2L430.75 190.7L431.25 192.9L431.75 192.2L432.25 192.8L432.75 192.7L433.25 196.7L433.75 184.1L434.25 198.5L434.75 194.9L435.25 196.8L435.75 192.0L436.25 194.3L436.75 185.7L437.25 195.6L437.75 198.5L438.25 189.9L438.75 191.4L439.25 194.6L439.75 195.3L440.25 191.6L440.75 195.7L441.25 194.2L441.75 192.8L442.25 198.2L442.75 184.9L443.25 194.6L443.75 194.8L444.25 191.8L444.75 192.8L445.25 192.2L445.75 192.6L446.25 195.7L446.75 194.4L447.25 198.9L447.75 190.3L448.25 189.9L448.75 190.7L449.25 193.8L449.75 190.9L450.25 198.4L450.75 199.2L451.25 193.7L451.75 197.7L452.25 199.6L452.75 192.6L453.25 195.3L453.75 191.1L454.25 195.6L454.75 197.0L455.25 194.6L455.75 191.0L456.25 196.3L456.75 193.0L457.25 197.0L457.75 186.4L458.25 192.2L458.75 199.9L459.25 190.9L459.75 192.9L460.25 192.6L460.75 189.8L461.25 195.4L461.75 193.8L462.25 192.1L462.75 197.9L463.25 196.0L463.75 191.6L464.25 190.7L464.75 200.2L465.25 194.2L465.75 197.1L466.25 185.8L466.75 189.4L467.25 195.0L467.75 193.3L468.25 192.9L468.75 193.3L469.25 195.9L469.75 195.4L470.25 196.1L470.75 202.0L471.25 196.0L471.75 193.4L472.25 200.8L472.75 198.4L473.25 197.5L473.75 185.8L474.25 195.6L474.75 193.9L475.25 192.4L475.75 198.9L476.25 196.6L476.75 197.1L477.25 188.6L477.75 190.7L478.25 194.3L478.75 188.5L479.25 193.4L479.75 197.8L480.25 191.9L480.75 193.1L481.25 193.3L481.75 196.7L482.25 199.8L482.75 196.7L483.25 193.7L483.75 198.9L484.25 199.8L484.75 198.2L485.25 197.9L485.75 197.0L486.25 194.1L486.75 193.5L487.25 198.5L487.75 192.3L488.25 197.2L488.75 196.2L489.25 189.5L489.75 187.9L490.25 193.5L490.75 196.9L491.25 197.8L491.75 193.4L492.25 198.5L492.75 201.0L493.25 198.7L493.75 197.3L494.25 194.1L494.75 196.4L495.25 195.4L495.75 195.1L496.25 194.0L496.75 198.0L497.25 199.7L497.75 202.3L498.25 198.4L498.75 196.1L499.25 197.3L499.75 199.1L500.25 194.5L500.75 194.1L501.25 197.3L501.75 200.9L502.25 196.8L502.75 194.3L503.25 198.2L503.75 195.0L504.25 195.8L504.75 196.9L505.25 196.8L505.75 203.9L506.25 197.5L506.75 202.5L507.25 196.2L507.75 197.5L508.25 198.3L508.75 194.6L509.25 200.6L509.75 199.5L510.25 200.4L510.75 202.9L511.25 197.2L511.75 198.2L512.25 199.3L512.75 200.4L513.25 202.1L513.75 195.7L514.25 201.8L514.75 198.8L515.25 202.8L515.75 199.0L516.25 195.2L516.75 203.9L517.25 197.0L517.75 199.9L518.25 202.6L518.75 202.1L519.25 201.1L519.75 198.9L520.25 200.5L520.75 197.2L521.25 201.9L521.75 198.4L522.25 199.0L522.75 201.2L523.25 194.2L523.75 197.6L524.25 200.0L524.75 192.3L525.25 198.7L525.75 193.3L526.25 199.2L526.75 199.2L527.25 190.5L527.75 199.1L528.25 201.9L528.75 199.6L529.25 197.7L529.75 202.3L530.25 197.1L530.75 199.0L531.25 199.9L531.75 201.8L532.25 197.9L532.75 197.9L533.25 199.9L533.75 198.7L534.25 194.9L534.75 201.5L535.25 201.0L535.75 198.9L536.25 201.6L536.75 197.9L537.25 200.4L537.75 189.5L538.25 200.1L538.75 203.8L539.25 197.9L539.75 203.2L540.25 201.3L540.75 202.2L541.25 193.1L541.75 199.7L542.25 197.9L542.75 201.6L543.25 202.3L543.75 201.9L544.25 200.1L544.75 198.1L545.25 197.9L545.75 198.3L546.25 201.1L546.75 200.5L547.25 201.2L547.75 197.5L548.25 197.4L548.75 202.1L549.25 200.3L549.75 194.9L550.25 200.6L550.75 199.6L551.25 203.7L551.75 198.8L552.25 193.9L552.75 200.8L553.25 196.9L553.75 199.9L554.25 202.9L554.75 195.1L555.25 199.2L555.75 202.8L556.25 195.7L556.75 201.6L557.25 194.1L557.75 202.2L558.25 198.2L558.75 198.4L559.25 201.2L559.75 201.6L560.25 205.0L560.75 197.1L561.25 200.2L561.75 199.1L562.25 204.9L562.75 204.7L563.25 201.2L563.75 200.7L564.25 201.8L564.75 200.3L565.25 195.6L565.75 198.5L566.25 198.8L566.75 198.7L567.25 203.2L567.75 196.8L568.25 204.1L568.75 202.3L569.25 197.8L569.75 196.0L570.25 198.8L570.75 198.1L571.25 197.1L571.75 197.0L572.25 200.9L572.75 197.0L573.25 202.5L573.75 197.9L574.25 198.3L574.75 198.0L575.25 198.6L575.75 195.2L576.25 200.5L576.75 199.8L577.25 199.5L577.75 201.5L578.25 194.4L578.75 200.1L579.25 202.2L579.75 200.5L580.25 198.9L580.75 196.1L581.25 196.5L581.75 195.5L582.25 202.9L582.75 201.2L583.25 197.7L583.75 200.6L584.25 195.7L584.75 196.6L585.25 197.0L585.75 197.4L586.25 194.4L586.75 205.9L587.25 190.8L587.75 201.1L588.25 198.4L588.75 199.0L589.25 201.5L589.75 196.7L590.25 201.0L590.75 196.8L591.25 189.8L591.75 198.4L592.25 199.5L593.00 198.3L593.00 212.2L592.25 210.9L591.75 210.6L591.25 210.4L590.75 214.7L590.25 216.6L589.75 218.6L589.25 216.9L588.75 214.1L588.25 216.6L587.75 214.2L587.25 212.9L586.75 212.9L586.25 214.5L585.75 213.3L585.25 214.8L584.75 221.5L584.25 213.9L583.75 216.8L583.25 216.5L582.75 213.8L582.25 213.4L581.75 216.6L581.25 215.2L580.75 214.4L580.25 215.0L579.75 215.6L579.25 216.4L578.75 211.8L578.25 213.1L577.75 217.5L577.25 220.4L576.75 217.7L576.25 215.4L575.75 219.7L575.25 215.3L574.75 214.2L574.25 214.8L573.75 216.3L573.25 212.9L572.75 220.5L572.25 220.6L571.75 215.7L571.25 214.5L570.75 214.0L570.25 214.6L569.75 216.8L569.25 215.5L568.75 211.1L568.25 217.1L567.75 216.6L567.25 217.4L566.75 213.8L566.25 216.5L565.75 214.1L565.25 218.5L564.75 212.4L564.25 215.5L563.75 221.2L563.25 213.3L562.75 216.0L562.25 214.5L561.75 212.7L561.25 210.1L560.75 217.3L560.25 217.0L559.75 214.7L559.25 218.5L558.75 214.4L558.25 215.9L557.75 216.0L557.25 221.7L556.75 215.6L556.25 217.7L555.75 214.9L555.25 217.6L554.75 220.8L554.25 215.0L553.75 220.1L553.25 214.3L552.75 217.5L552.25 213.9L551.75 212.5L551.25 211.9L550.75 216.8L550.25 217.8L549.75 213.9L549.25 221.4L548.75 214.7L548.25 212.2L547.75 215.6L547.25 216.3L546.75 218.5L546.25 215.2L545.75 215.5L545.25 219.7L544.75 213.2L544.25 216.4L543.75 218.8L543.25 213.8L542.75 217.0L542.25 216.3L541.75 216.7L541.25 215.9L540.75 214.8L540.25 217.2L539.75 218.7L539.25 214.2L538.75 218.6L538.25 215.5L537.75 215.5L537.25 213.8L536.75 214.4L536.25 211.3L535.75 217.8L535.25 220.3L534.75 213.2L534.25 214.0L533.75 213.0L533.25 214.3L532.75 215.0L532.25 212.5L531.75 214.8L531.25 215.1L530.75 215.9L530.25 212.8L529.75 220.9L529.25 214.1L528.75 213.0L528.25 211.9L527.75 216.6L527.25 215.7L526.75 218.6L526.25 214.9L525.75 210.7L525.25 214.4L524.75 211.6L524.25 217.3L523.75 212.6L523.25 216.8L522.75 216.1L522.25 216.7L521.75 215.5L521.25 214.9L520.75 216.7L520.25 215.7L519.75 213.0L519.25 213.5L518.75 218.3L518.25 211.3L517.75 213.9L517.25 218.1L516.75 215.1L516.25 213.4L515.75 220.1L515.25 215.5L514.75 211.3L514.25 217.2L513.75 216.2L513.25 213.5L512.75 225.0L512.25 213.4L511.75 212.8L511.25 212.6L510.75 214.9L510.25 214.4L509.75 212.3L509.25 213.1L508.75 215.3L508.25 216.1L507.75 210.1L507.25 210.4L506.75 214.2L506.25 220.6L505.75 214.5L505.25 219.1L504.75 215.6L504.25 215.3L503.75 217.1L503.25 211.7L502.75 216.2L502.25 213.7L501.75 217.4L501.25 213.6L500.75 215.1L500.25 215.8L499.75 214.9L499.25 213.5L498.75 212.0L498.25 211.9L497.75 212.9L497.25 210.1L496.75 211.0L496.25 214.4L495.75 211.6L495.25 210.8L494.75 210.5L494.25 214.4L493.75 211.4L493.25 210.0L492.75 210.0L492.25 208.0L491.75 213.0L491.25 215.4L490.75 212.0L490.25 211.4L489.75 212.7L489.25 218.1L488.75 207.5L488.25 211.8L487.75 209.7L487.25 215.1L486.75 212.9L486.25 215.0L485.75 210.7L485.25 216.6L484.75 212.5L484.25 213.3L483.75 209.7L483.25 212.4L482.75 211.9L482.25 212.2L481.75 215.1L481.25 221.6L480.75 207.2L480.25 209.9L479.75 210.9L479.25 206.1L478.75 210.8L478.25 211.6L477.75 208.8L477.25 209.8L476.75 212.8L476.25 214.7L475.75 208.6L475.25 221.0L474.75 215.4L474.25 211.7L473.75 212.8L473.25 209.8L472.75 210.9L472.25 212.4L471.75 211.2L471.25 211.4L470.75 211.0L470.25 211.0L469.75 215.5L469.25 211.2L468.75 209.9L468.25 212.3L467.75 211.7L467.25 211.1L466.75 209.4L466.25 214.2L465.75 210.2L465.25 210.3L464.75 209.1L464.25 208.2L463.75 211.5L463.25 213.5L462.75 213.6L462.25 212.6L461.75 210.9L461.25 213.1L460.75 209.3L460.25 209.3L459.75 209.2L459.25 209.0L458.75 212.3L458.25 208.4L457.75 211.3L457.25 210.1L456.75 212.4L456.25 210.2L455.75 205.2L455.25 212.8L454.75 208.8L454.25 211.7L453.75 214.7L453.25 217.2L452.75 214.2L452.25 216.9L451.75 208.5L451.25 213.4L450.75 208.9L450.25 217.2L449.75 209.1L449.25 208.0L448.75 208.9L448.25 209.7L447.75 212.3L447.25 212.8L446.75 214.1L446.25 211.2L445.75 211.3L445.25 210.9L444.75 207.6L444.25 208.6L443.75 211.6L443.25 212.8L442.75 210.2L442.25 212.8L441.75 212.3L441.25 214.9L440.75 212.0L440.25 205.8L439.75 206.9L439.25 212.1L438.75 205.3L438.25 210.4L437.75 215.1L437.25 206.4L436.75 207.5L436.25 214.0L435.75 210.8L435.25 210.9L434.75 212.3L434.25 208.8L433.75 212.4L433.25 209.7L432.75 215.6L432.25 214.2L431.75 214.0L431.25 215.5L430.75 206.6L430.25 209.3L429.75 211.1L429.25 208.6L428.75 207.1L428.25 209.7L427.75 209.2L427.25 210.6L426.75 212.3L426.25 210.1L425.75 212.6L425.25 211.1L424.75 208.5L424.25 208.4L423.75 210.8L423.25 220.7L422.75 212.8L422.25 207.6L421.75 213.2L421.25 216.3L420.75 213.2L420.25 211.8L419.75 214.0L419.25 210.4L418.75 212.7L418.25 210.4L417.75 217.9L417.25 210.1L416.75 214.2L416.25 218.6L415.75 210.5L415.25 210.6L414.75 215.3L414.25 208.1L413.75 210.9L413.25 212.0L412.75 207.4L412.25 212.1L411.75 215.9L411.25 217.3L410.75 210.6L410.25 216.0L409.75 212.0L409.25 208.5L408.75 211.7L408.25 207.9L407.75 211.1L407.25 209.9L406.75 212.7L406.25 216.0L405.75 208.7L405.25 218.8L404.75 209.7L404.25 215.5L403.75 213.4L403.25 209.9L402.75 211.5L402.25 212.2L401.75 207.3L401.25 212.0L400.75 213.4L400.25 212.4L399.75 211.4L399.25 212.1L398.75 214.3L398.25 213.5L397.75 216.6L397.25 211.6L396.75 211.1L396.25 215.8L395.75 210.9L395.25 215.7L394.75 217.7L394.25 213.7L393.75 211.6L393.25 216.8L392.75 210.1L392.25 214.1L391.75 210.2L391.25 209.8L390.75 212.9L390.25 207.9L389.75 214.2L389.25 209.6L388.75 214.5L388.25 210.0L387.75 213.9L387.25 216.5L386.75 213.3L386.25 213.7L385.75 214.4L385.25 214.2L384.75 213.9L384.25 217.2L383.75 209.1L383.25 214.7L382.75 213.2L382.25 213.5L381.75 214.5L381.25 211.3L380.75 213.1L380.25 211.0L379.75 209.9L379.25 209.7L378.75 212.6L378.25 215.0L377.75 213.2L377.25 216.9L376.75 215.2L376.25 211.7L375.50 214.9Z" fill="#b4509b" stroke="none"/>
<path d="M375.75 216.9V199.8M376.25 215.0V200.3M376.75 217.5V186.6M377.25 217.3V199.7M377.75 214.3V198.4M378.25 217.5V190.6M378.75 215.4V196.7M379.25 211.6V198.7M379.75 210.1V199.8M380.25 217.7V201.4M380.75 215.7V199.0M381.25 213.2V196.4M381.75 221.2V187.5M382.25 213.8V194.7M382.75 217.9V198.1M383.25 220.1V195.6M383.75 213.5V197.7M384.25 221.7V196.8M384.75 214.4V202.8M385.25 296.8V193.0M385.75 215.8V192.1M386.25 214.5V201.0M386.75 216.1V196.1M387.25 217.6V195.8M387.75 216.6V194.0M388.25 210.1V192.9M388.75 222.4V195.2M389.25 212.2V197.8M389.75 216.4V193.6M390.25 215.0V186.7M390.75 216.7V198.3M391.25 210.5V189.9M391.75 215.3V193.4M392.25 218.5V192.2M392.75 213.9V198.3M393.25 218.6V198.6M393.75 212.4V195.8M394.25 217.1V198.8M394.75 239.2V196.0M395.25 221.4V196.1M395.75 211.2V192.9M396.25 220.3V195.3M396.75 214.3V197.6M397.25 212.7V194.7M397.75 219.1V195.7M398.25 217.4V193.4M398.75 214.6V199.7M399.25 214.3V195.7M399.75 213.6V198.7M400.25 288.9V197.7M400.75 213.7V193.9M401.25 213.2V201.1M401.75 208.0V198.8M402.25 221.8V191.8M402.75 215.8V201.9M403.25 211.2V197.4M403.75 215.2V196.7M404.25 218.0V200.2M404.75 212.1V183.7M405.25 224.8V197.5M405.75 208.9V195.6M406.25 218.3V192.9M406.75 214.0V198.1M407.25 213.9V195.6M407.75 213.9V201.5M408.25 210.8V195.8M408.75 216.3V193.7M409.25 212.5V193.6M409.75 218.8V192.5M410.25 219.8V200.6M410.75 213.1V195.2M411.25 245.4V199.6M411.75 221.2V198.9M412.25 214.3V200.5M412.75 216.9V193.4M413.25 299.0V196.3M413.75 215.8V196.8M414.25 210.9V195.2M414.75 299.0V193.3M415.25 215.0V196.7M415.75 210.7V193.1M416.25 223.7V195.5M416.75 215.0V189.0M417.25 213.9V197.4M417.75 287.3V199.9M418.25 212.0V197.3M418.75 222.2V198.2M419.25 212.0V195.2M419.75 215.7V197.2M420.25 212.7V197.0M420.75 220.1V192.5M421.25 271.3V198.0M421.75 213.9V197.0M422.25 207.8V194.8M422.75 215.4V199.7M423.25 229.2V201.1M423.75 214.3V194.0M424.25 215.1V192.8M424.75 212.0V195.6M425.25 211.3V200.1M425.75 214.5V200.2M426.25 210.9V200.0M426.75 219.4V197.6M427.25 214.1V191.6M427.75 227.9V197.3M428.25 214.1V194.4M428.75 207.4V201.4M429.25 210.2V187.6M429.75 216.0V197.6M430.25 210.8V198.2M430.75 208.0V190.7M431.25 217.6V192.9M431.75 215.2V192.2M432.25 299.0V192.8M432.75 217.5V192.7M433.25 211.1V196.7M433.75 299.0V184.1M434.25 214.5V198.5M434.75 213.9V194.9M435.25 221.3V196.8M435.75 213.0V192.0M436.25 214.8V194.3M436.75 210.3V185.7M437.25 213.7V195.6M437.75 288.9V198.5M438.25 212.1V189.9M438.75 206.3V191.4M439.25 212.7V194.6M439.75 210.0V195.3M440.25 211.5V191.6M440.75 214.6V195.7M441.25 220.5V194.2M441.75 216.0V192.8M442.25 213.0V198.2M442.75 284.1V184.9M443.25 213.2V194.6M443.75 212.6V194.8M444.25 211.8V191.8M444.75 211.6V192.8M445.25 212.5V192.2M445.75 212.8V192.6M446.25 213.6V195.7M446.75 261.6V194.4M447.25 213.6V198.9M447.75 215.7V190.3M448.25 210.6V189.9M448.75 212.1V190.7M449.25 212.5V193.8M449.75 209.3V190.9M450.25 248.8V198.4M450.75 211.8V199.2M451.25 216.6V193.7M451.75 208.6V197.7M452.25 217.8V199.6M452.75 215.2V192.6M453.25 227.0V195.3M453.75 215.1V191.1M454.25 218.3V195.6M454.75 209.3V197.0M455.25 215.4V194.6M455.75 212.3V191.0M456.25 211.5V196.3M456.75 214.3V193.0M457.25 212.7V197.0M457.75 215.2V186.4M458.25 221.7V192.2M458.75 216.2V199.9M459.25 211.1V190.9M459.75 213.2V192.9M460.25 210.3V192.6M460.75 213.1V189.8M461.25 215.2V195.4M461.75 215.3V193.8M462.25 272.0V192.1M462.75 276.1V197.9M463.25 213.9V196.0M463.75 267.5V191.6M464.25 208.2V190.7M464.75 210.0V200.2M465.25 217.4V194.2M465.75 211.6V197.1M466.25 249.5V185.8M466.75 212.4V189.4M467.25 215.2V195.0M467.75 215.8V193.3M468.25 213.8V192.9M468.75 214.8V193.3M469.25 215.2V195.9M469.75 219.6V195.4M470.25 214.1V196.1M470.75 211.3V202.0M471.25 212.1V196.0M471.75 212.2V193.4M472.25 212.6V200.8M472.75 217.7V198.4M473.25 220.6V197.5M473.75 213.6V185.8M474.25 214.0V195.6M474.75 218.1V193.9M475.25 224.8V192.4M475.75 209.2V198.9M476.25 214.8V196.6M476.75 215.6V197.1M477.25 210.7V188.6M477.75 211.5V190.7M478.25 212.2V194.3M478.75 211.8V188.5M479.25 206.7V193.4M479.75 214.8V197.8M480.25 212.3V191.9M480.75 210.1V193.1M481.25 224.9V193.3M481.75 221.0V196.7M482.25 212.7V199.8M482.75 212.3V196.7M483.25 220.3V193.7M483.75 213.0V198.9M484.25 217.1V199.8M484.75 214.3V198.2M485.25 281.0V197.9M485.75 213.9V197.0M486.25 215.5V194.1M486.75 214.1V193.5M487.25 218.4V198.5M487.75 299.0V192.3M488.25 217.3V197.2M488.75 211.2V196.2M489.25 292.2V189.5M489.75 214.6V187.9M490.25 211.8V193.5M490.75 299.0V196.9M491.25 219.0V197.8M491.75 214.4V193.4M492.25 299.0V198.5M492.75 216.3V201.0M493.25 285.5V198.7M493.75 213.2V197.3M494.25 215.2V194.1M494.75 214.9V196.4M495.25 216.9V195.4M495.75 219.1V195.1M496.25 217.9V194.0M496.75 213.0V198.0M497.25 220.8V199.7M497.75 215.2V202.3M498.25 213.1V198.4M498.75 216.7V196.1M499.25 214.2V197.3M499.75 215.8V199.1M500.25 216.2V194.5M500.75 217.9V194.1M501.25 215.7V197.3M501.75 249.5V200.9M502.25 214.5V196.8M502.75 217.0V194.3M503.25 216.3V198.2M503.75 217.2V195.0M504.25 215.4V195.8M504.75 216.4V196.9M505.25 221.1V196.8M505.75 216.9V203.9M506.25 238.2V197.5M506.75 215.8V202.5M507.25 213.0V196.2M507.75 213.1V197.5M508.25 220.9V198.3M508.75 216.4V194.6M509.25 213.3V200.6M509.75 220.5V199.5M510.25 214.6V200.4M510.75 217.7V202.9M511.25 214.0V197.2M511.75 213.5V198.2M512.25 216.8V199.3M512.75 254.7V200.4M513.25 213.6V202.1M513.75 221.3V195.7M514.25 218.4V201.8M514.75 216.0V198.8M515.25 215.7V202.8M515.75 223.3V199.0M516.25 218.0V195.2M516.75 224.8V203.9M517.25 219.4V197.0M517.75 214.8V199.9M518.25 212.9V202.6M518.75 221.0V202.1M519.25 219.1V201.1M519.75 216.4V198.9M520.25 220.3V200.5M520.75 238.2V197.2M521.25 216.8V201.9M521.75 217.1V198.4M522.25 218.9V199.0M522.75 217.1V201.2M523.25 218.6V194.2M523.75 212.7V197.6M524.25 222.1V200.0M524.75 214.8V192.3M525.25 215.9V198.7M525.75 213.4V193.3M526.25 217.6V199.2M526.75 219.2V199.2M527.25 216.5V190.5M527.75 222.8V199.1M528.25 215.8V201.9M528.75 215.2V199.6M529.25 215.1V197.7M529.75 221.1V202.3M530.25 216.5V197.1M530.75 216.8V199.0M531.25 217.9V199.9M531.75 219.9V201.8M532.25 213.3V197.9M532.75 216.4V197.9M533.25 217.0V199.9M533.75 220.5V198.7M534.25 219.3V194.9M534.75 218.3V201.5M535.25 250.4V201.0M535.75 219.0V198.9M536.25 214.4V201.6M536.75 218.4V197.9M537.25 222.1V200.4M537.75 218.4V189.5M538.25 221.3V200.1M538.75 218.6V203.8M539.25 215.9V197.9M539.75 219.8V203.2M540.25 223.3V201.3M540.75 219.5V202.2M541.25 217.2V193.1M541.75 218.4V199.7M542.25 227.0V197.9M542.75 219.5V201.6M543.25 216.7V202.3M543.75 220.0V201.9M544.25 220.0V200.1M544.75 213.7V198.1M545.25 222.3V197.9M545.75 218.8V198.3M546.25 216.5V201.1M546.75 221.4V200.5M547.25 223.8V201.2M547.75 218.0V197.5M548.25 213.1V197.4M548.75 217.9V202.1M549.25 222.6V200.3M549.75 215.5V194.9M550.25 222.8V200.6M550.75 219.1V199.6M551.25 229.2V203.7M551.75 215.9V198.8M552.25 214.0V193.9M552.75 217.9V200.8M553.25 214.8V196.9M553.75 221.7V199.9M554.25 215.5V202.9M554.75 224.3V195.1M555.25 224.4V199.2M555.75 217.2V202.8M556.25 222.0V195.7M556.75 216.4V201.6M557.25 276.1V194.1M557.75 219.2V202.2M558.25 217.3V198.2M558.75 215.2V198.4M559.25 222.3V201.2M559.75 215.4V201.6M560.25 219.3V205.0M560.75 218.9V197.1M561.25 216.7V200.2M561.75 214.6V199.1M562.25 215.7V204.9M562.75 219.7V204.7M563.25 214.0V201.2M563.75 229.7V200.7M564.25 215.7V201.8M564.75 216.6V200.3M565.25 220.3V195.6M565.75 217.6V198.5M566.25 217.1V198.8M566.75 214.9V198.7M567.25 217.6V203.2M567.75 220.5V196.8M568.25 217.4V204.1M568.75 211.7V202.3M569.25 217.2V197.8M569.75 218.7V196.0M570.25 216.3V198.8M570.75 215.7V198.1M571.25 217.4V197.1M571.75 292.2V197.0M572.25 223.1V200.9M572.75 224.7V197.0M573.25 217.6V202.5M573.75 218.5V197.9M574.25 215.3V198.3M574.75 224.4V198.0M575.25 216.3V198.6M575.75 219.8V195.2M576.25 219.2V200.5M576.75 218.0V199.8M577.25 271.3V199.5M577.75 224.2V201.5M578.25 219.1V194.4M578.75 214.7V200.1M579.25 218.4V202.2M579.75 222.7V200.5M580.25 215.2V198.9M580.75 218.1V196.1M581.25 218.5V196.5M581.75 216.6V195.5M582.25 223.6V202.9M582.75 214.2V201.2M583.25 216.7V197.7M583.75 224.8V200.6M584.25 220.3V195.7M584.75 225.1V196.6M585.25 215.6V197.0M585.75 215.4V197.4M586.25 219.5V194.4M586.75 220.9V205.9M587.25 217.7V190.8M587.75 215.3V201.1M588.25 217.0V198.4M588.75 219.3V199.0M589.25 227.0V201.5M589.75 220.9V196.7M590.25 224.6V201.0M590.75 216.0V196.8M591.25 210.4V189.8M591.75 212.1V198.4M592.25 211.9V199.5M592.75 214.1V198.3" stroke="#b4509b" stroke-width="0.95" fill="none"/>
<path d="M375.5 239.8H593" stroke="#231f20" stroke-width="1.15" stroke-dasharray="7.2 7.15" stroke-dashoffset="3.45"/>
<rect x="375.5" y="168.5" width="217.5" height="130.5" fill="none" stroke="#231f20" stroke-width="1.0"/>
<text x="375.5" y="310.6" font-size="10" text-anchor="middle" fill="#231f20" >150</text>
<text x="411.8" y="310.6" font-size="10" text-anchor="middle" fill="#231f20" >160</text>
<text x="448" y="310.6" font-size="10" text-anchor="middle" fill="#231f20" >170</text>
<text x="484.2" y="310.6" font-size="10" text-anchor="middle" fill="#231f20" >180</text>
<text x="520.5" y="310.6" font-size="10" text-anchor="middle" fill="#231f20" >190</text>
<text x="556.8" y="310.6" font-size="10" text-anchor="middle" fill="#231f20" >200</text>
<text x="593" y="310.6" font-size="10" text-anchor="middle" fill="#231f20" >210</text>
<path d="M375.5 299v-3M411.8 299v-3M448 299v-3M484.2 299v-3M520.5 299v-3M556.8 299v-3M593 299v-3" stroke="#231f20" stroke-width="0.9" fill="none"/>
<text x="373.3" y="302.6" font-size="10" text-anchor="end" fill="#231f20" >0</text>
<text x="373.3" y="280.1" font-size="10" text-anchor="end" fill="#231f20" >10</text>
<text x="373.3" y="257.6" font-size="10" text-anchor="end" fill="#231f20" >20</text>
<text x="373.3" y="235.1" font-size="10" text-anchor="end" fill="#231f20" >30</text>
<text x="373.3" y="212.6" font-size="10" text-anchor="end" fill="#231f20" >40</text>
<text x="373.3" y="190.1" font-size="10" text-anchor="end" fill="#231f20" >50</text>
<path d="M375.5 299h3M375.5 276.5h3M375.5 254h3M375.5 231.5h3M375.5 209h3M375.5 186.5h3" stroke="#231f20" stroke-width="0.9" fill="none"/>
<path d="M32.50 344.2L32.75 344.2L33.25 338.9L33.75 356.6L34.25 340.6L34.75 337.8L35.25 350.6L35.75 344.8L36.25 346.9L36.75 334.4L37.25 356.5L37.75 365.7L38.25 341.6L38.75 352.8L39.25 335.3L39.75 348.1L40.25 352.3L40.75 359.2L41.25 345.2L41.75 358.8L42.25 344.7L42.75 358.6L43.25 354.9L43.75 367.0L44.25 340.8L44.75 357.8L45.25 360.1L45.75 352.3L46.25 364.2L46.75 353.3L47.25 366.7L47.75 355.5L48.25 366.5L48.75 362.2L49.25 364.1L49.75 370.1L50.25 357.1L50.75 360.9L51.25 357.9L51.75 360.8L52.25 363.9L52.75 361.5L53.25 355.0L53.75 363.2L54.25 367.2L54.75 368.7L55.25 364.0L55.75 367.6L56.25 350.7L56.75 370.6L57.25 370.2L57.75 365.3L58.25 359.4L58.75 365.4L59.25 370.0L59.75 369.2L60.25 366.4L60.75 358.1L61.25 370.7L61.75 365.4L62.25 369.1L62.75 363.6L63.25 363.5L63.75 375.5L64.25 352.0L64.75 366.1L65.25 370.8L65.75 368.5L66.25 370.0L66.75 368.7L67.25 365.7L67.75 369.6L68.25 367.2L68.75 380.1L69.25 375.4L69.75 377.3L70.25 370.8L70.75 369.5L71.25 381.2L71.75 374.1L72.25 369.4L72.75 368.8L73.25 380.9L73.75 371.8L74.25 362.5L74.75 366.2L75.25 365.5L75.75 383.1L76.25 378.9L76.75 375.4L77.25 377.0L77.75 379.7L78.25 371.8L78.75 372.0L79.25 375.3L79.75 375.4L80.25 367.4L80.75 388.0L81.25 371.2L81.75 388.1L82.25 372.4L82.75 385.0L83.25 383.8L83.75 386.4L84.25 381.5L84.75 389.3L85.25 378.5L85.75 385.5L86.25 387.8L86.75 392.0L87.25 388.3L87.75 389.9L88.25 381.3L88.75 386.1L89.25 386.7L89.75 383.9L90.25 402.2L90.75 384.5L91.25 400.4L91.75 386.3L92.25 388.7L92.75 392.7L93.25 397.8L93.75 387.9L94.25 401.8L94.75 400.9L95.25 389.0L95.75 399.3L96.25 395.1L96.75 386.1L97.25 398.6L97.75 394.3L98.25 396.8L98.75 396.2L99.25 378.1L99.75 388.4L100.25 396.6L100.75 390.0L101.25 408.3L101.75 411.5L102.25 414.8L102.75 394.3L103.25 385.3L103.75 403.8L104.25 427.9L104.75 411.7L105.25 401.4L105.75 403.9L106.25 406.8L106.75 397.8L107.25 399.2L107.75 423.7L108.25 405.8L108.75 418.5L109.25 409.1L109.75 399.6L110.25 394.4L110.75 405.9L111.25 418.0L111.75 416.7L112.25 408.3L112.75 423.3L113.25 414.6L113.75 408.3L114.25 395.7L114.75 417.4L115.25 411.3L115.75 402.2L116.25 412.4L116.75 431.5L117.25 413.7L117.75 413.6L118.25 420.1L118.75 416.2L119.25 430.3L119.75 406.1L120.25 413.9L120.75 422.8L121.25 416.3L121.75 417.6L122.25 426.6L122.75 442.3L123.25 444.0L123.75 403.3L124.25 429.9L124.75 423.4L125.25 416.7L125.75 423.2L126.25 408.4L126.75 425.9L127.25 410.9L127.75 434.5L128.25 401.5L128.75 405.1L129.25 406.8L129.75 406.1L130.25 405.0L130.75 396.9L131.25 394.2L131.75 409.0L132.25 391.8L132.75 415.5L133.25 403.3L133.75 408.6L134.25 400.9L134.75 410.5L135.25 402.9L135.75 413.1L136.25 418.8L136.75 397.6L137.25 403.5L137.75 404.7L138.25 400.8L138.75 421.8L139.25 402.0L139.75 422.3L140.25 398.3L140.75 414.1L141.25 409.9L141.75 406.1L142.25 413.1L142.75 416.4L143.25 405.0L143.75 403.0L144.25 408.1L144.75 405.1L145.25 431.4L145.75 413.6L146.25 414.9L146.75 432.5L147.25 411.9L147.75 407.3L148.25 427.2L148.75 420.2L149.25 410.4L149.75 404.7L150.25 403.2L150.75 421.7L151.25 421.1L151.75 414.8L152.25 409.6L152.75 414.9L153.25 404.0L153.75 400.4L154.25 400.3L154.75 405.9L155.25 420.0L155.75 413.5L156.25 402.9L156.75 400.4L157.25 399.3L157.75 421.9L158.25 416.4L158.75 424.4L159.25 442.0L159.75 424.4L160.25 431.4L160.75 401.8L161.25 411.1L161.75 421.9L162.25 415.9L162.75 413.3L163.25 402.0L163.75 411.2L164.25 405.3L164.75 415.0L165.25 408.6L165.75 408.1L166.25 413.0L166.75 421.0L167.25 413.0L167.75 425.5L168.25 411.7L168.75 425.6L169.25 429.2L169.75 410.3L170.25 428.1L170.75 424.4L171.25 433.8L171.75 431.7L172.25 429.6L172.75 434.6L173.25 420.1L173.75 433.7L174.25 437.6L174.75 422.8L175.25 426.0L175.75 445.5L176.25 435.1L176.75 426.2L177.25 437.2L177.75 434.8L178.25 435.1L178.75 446.1L179.25 437.4L179.75 426.5L180.25 421.2L180.75 428.2L181.25 425.6L181.75 424.2L182.25 425.9L182.75 422.6L183.25 427.7L183.75 424.5L184.25 420.0L184.75 418.3L185.25 435.5L185.75 417.8L186.25 423.7L186.75 423.9L187.25 438.5L187.75 425.9L188.25 437.9L188.75 444.8L189.25 427.1L189.75 428.3L190.25 428.3L190.75 427.9L191.25 429.5L191.75 422.8L192.25 425.1L192.75 420.4L193.25 415.4L193.75 426.7L194.25 427.0L194.75 420.9L195.25 438.4L195.75 436.7L196.25 435.1L196.75 445.4L197.25 435.2L197.75 434.4L198.25 447.5L198.75 447.0L199.25 442.7L199.75 443.2L200.25 452.3L200.75 445.2L201.25 446.8L201.75 451.6L202.25 446.2L202.75 446.1L203.25 443.0L203.75 442.5L204.25 443.1L204.75 441.8L205.25 441.0L205.75 436.6L206.25 432.9L206.75 431.3L207.25 439.8L207.75 438.1L208.25 436.3L208.75 422.0L209.25 426.5L209.75 433.5L210.25 435.1L210.75 432.9L211.25 424.0L211.75 431.5L212.25 421.6L212.75 411.4L213.25 425.1L213.75 417.5L214.25 436.3L214.75 423.3L215.25 424.7L215.75 434.1L216.25 419.4L216.75 429.6L217.25 434.8L217.75 433.2L218.25 426.4L218.75 440.7L219.25 432.0L219.75 438.9L220.25 432.4L220.75 437.1L221.25 434.9L221.75 430.7L222.25 435.0L222.75 432.7L223.25 432.3L223.75 434.3L224.25 432.6L224.75 437.0L225.25 432.6L225.75 422.7L226.25 418.8L226.75 415.6L227.25 432.4L227.75 420.0L228.25 415.4L228.75 408.5L229.25 409.1L229.75 430.5L230.25 414.7L230.75 432.2L231.25 420.3L231.75 424.0L232.25 420.5L232.75 398.9L233.25 418.8L233.75 417.8L234.25 411.0L234.75 400.8L235.25 430.8L235.75 403.1L236.25 427.0L236.75 431.4L237.25 425.9L237.75 425.5L238.25 417.0L238.75 431.2L239.25 441.8L239.75 442.9L240.25 445.1L240.75 436.0L241.25 432.9L241.75 436.8L242.25 426.4L242.75 441.5L243.25 432.1L243.75 428.5L244.25 429.3L244.75 435.8L245.25 413.6L245.75 428.3L246.25 420.2L246.75 407.4L247.25 402.0L247.75 404.5L248.25 435.8L248.75 416.2L249.25 416.6L249.75 420.6L250.00 420.6L250.0 462.2L32.5 462.2Z" fill="#0b8581"/>
<path d="M35.75 462.2V442.0M39.75 462.2V453.6M41.75 462.2V453.6M47.25 462.2V456.8M48.25 462.2V435.1M49.25 462.2V450.4M51.25 462.2V453.4M56.25 462.2V452.8M56.75 462.2V427.7M57.75 462.2V450.4M59.25 462.2V452.5M59.75 462.2V454.7M61.25 462.2V455.5M62.75 462.2V432.4M67.25 462.2V447.0M70.25 462.2V450.5M71.25 462.2V459.5M71.75 462.2V460.3M72.75 462.2V439.3M76.25 462.2V456.9M78.25 462.2V457.8M79.25 462.2V457.4M81.75 462.2V443.1M84.25 462.2V442.5M84.75 462.2V456.0M86.75 462.2V449.8M90.25 462.2V427.2M93.75 462.2V452.2M95.75 462.2V454.3M100.25 462.2V456.7M100.75 462.2V454.3M108.75 462.2V438.8M110.25 462.2V457.5M114.25 462.2V424.4M115.75 462.2V455.6M119.25 462.2V443.2M120.75 462.2V453.0M122.25 462.2V458.5M122.75 462.2V458.6M129.25 462.2V431.9M129.75 462.2V432.1M130.25 462.2V454.7M132.75 462.2V455.8M143.25 462.2V452.5M144.75 462.2V456.0M146.75 462.2V460.4M151.25 462.2V450.7M151.75 462.2V431.5M153.75 462.2V457.6M154.75 462.2V458.5M155.25 462.2V452.6M159.25 462.2V459.0M164.25 462.2V455.9M171.75 462.2V455.6M172.75 462.2V450.5M177.25 462.2V455.0M178.25 462.2V460.2M183.25 462.2V453.0M186.75 462.2V452.5M187.25 462.2V460.0M188.25 462.2V454.3M192.25 462.2V453.1M194.75 462.2V437.8M197.75 462.2V440.0M198.25 462.2V459.9M200.75 462.2V455.8M204.25 462.2V454.2M206.25 462.2V458.0M206.75 462.2V459.5M210.25 462.2V456.8M212.75 462.2V438.1M213.75 462.2V426.5M216.25 462.2V456.1M218.75 462.2V453.5M228.25 462.2V450.3M232.25 462.2V455.1M234.25 462.2V456.5M238.25 462.2V451.3M241.25 462.2V455.9M242.75 462.2V455.7M246.25 462.2V451.4M247.25 462.2V458.9M249.25 462.2V452.4" stroke="#fff" stroke-width="0.55" stroke-opacity="0.75" fill="none"/>
<path d="M53.25 420.0V361.5M53.75 430.1V377.4M117.75 443.7V417.5M136.75 433.4V401.1M180.75 449.9V431.5M181.75 446.7V428.9M184.25 435.0V424.5M189.25 440.9V428.6M201.75 457.5V452.8M220.25 438.7V435.1M234.75 431.8V401.5M242.75 452.8V441.9" stroke="#fff" stroke-width="0.45" stroke-opacity="0.4" fill="none"/>
<rect x="50.3" y="332.1" width="43.5" height="130.1" fill="#000" fill-opacity="0.19"/>
<path d="M32.5 406.3H250" stroke="#231f20" stroke-width="1.15" stroke-dasharray="7.2 7.15" stroke-dashoffset="3.45"/>
<rect x="32.5" y="332.1" width="217.5" height="130.1" fill="none" stroke="#231f20" stroke-width="1.0"/>
<text x="32.5" y="473.8" font-size="10" text-anchor="middle" fill="#231f20" >0</text>
<text x="76" y="473.8" font-size="10" text-anchor="middle" fill="#231f20" >60</text>
<text x="119.5" y="473.8" font-size="10" text-anchor="middle" fill="#231f20" >120</text>
<text x="163" y="473.8" font-size="10" text-anchor="middle" fill="#231f20" >180</text>
<text x="206.5" y="473.8" font-size="10" text-anchor="middle" fill="#231f20" >240</text>
<text x="250" y="473.8" font-size="10" text-anchor="middle" fill="#231f20" >300</text>
<path d="M32.5 462.2v-3M76 462.2v-3M119.5 462.2v-3M163 462.2v-3M206.5 462.2v-3M250 462.2v-3" stroke="#231f20" stroke-width="0.9" fill="none"/>
<text x="30.3" y="465.8" font-size="10" text-anchor="end" fill="#231f20" >0</text>
<text x="30.3" y="430.3" font-size="10" text-anchor="end" fill="#231f20" >20</text>
<text x="30.3" y="394.8" font-size="10" text-anchor="end" fill="#231f20" >40</text>
<text x="30.3" y="359.3" font-size="10" text-anchor="end" fill="#231f20" >60</text>
<path d="M32.5 462.2h3M32.5 426.7h3M32.5 391.2h3M32.5 355.7h3" stroke="#231f20" stroke-width="0.9" fill="none"/>
<path d="M32.55 529.7L32.66 559.2L32.77 540.9L32.88 544.2L32.99 549.8L33.10 552.8L33.21 540.6L33.32 522.1L33.42 533.1L33.53 546.0L33.64 530.4L33.75 521.1L33.86 516.4L33.97 559.5L34.08 530.1L34.19 530.7L34.29 550.9L34.40 567.9L34.51 527.8L34.62 591.0L34.73 599.9L34.84 551.8L34.95 526.7L35.06 624.3L35.16 521.5L35.27 539.4L35.38 518.4L35.49 597.8L35.60 524.1L35.71 524.8L35.82 590.0L35.93 522.6L36.03 522.6L36.14 537.1L36.25 543.7L36.36 537.3L36.47 605.2L36.58 544.0L36.69 541.9L36.80 545.2L36.90 536.3L37.01 540.1L37.12 524.1L37.23 520.7L37.34 532.2L37.45 533.9L37.56 609.0L37.67 562.9L37.77 623.8L37.88 540.7L37.99 554.7L38.10 538.0L38.21 621.3L38.32 549.4L38.43 527.8L38.54 612.1L38.64 625.1L38.75 531.7L38.86 526.2L38.97 538.7L39.08 539.5L39.19 522.7L39.30 533.7L39.41 536.0L39.51 546.6L39.62 611.9L39.73 607.0L39.84 555.9L39.95 566.7L40.06 559.7L40.17 554.8L40.28 565.6L40.38 568.7L40.49 530.8L40.60 556.5L40.71 596.6L40.82 582.8L40.93 538.6L41.04 568.8L41.15 535.5L41.25 596.8L41.36 551.8L41.47 560.4L41.58 543.5L41.69 558.8L41.80 548.9L41.91 561.3L42.02 599.8L42.12 539.9L42.23 545.5L42.34 564.5L42.45 563.1L42.56 549.4L42.67 551.9L42.78 543.7L42.89 550.3L42.99 561.6L43.10 540.8L43.21 553.3L43.32 611.5L43.43 556.5L43.54 526.9L43.65 545.3L43.76 546.3L43.86 547.1L43.97 572.1L44.08 540.2L44.19 557.2L44.30 563.6L44.41 595.2L44.52 529.8L44.63 557.2L44.73 530.6L44.84 574.8L44.95 542.6L45.06 555.7L45.17 547.7L45.28 528.4L45.39 541.9L45.50 568.0L45.60 536.0L45.71 566.3L45.82 554.1L45.93 558.5L46.04 544.4L46.15 603.1L46.26 526.2L46.37 543.3L46.47 540.2L46.58 551.2L46.69 541.8L46.80 560.3L46.91 606.5L47.02 535.5L47.13 537.8L47.24 548.2L47.34 520.2L47.45 592.9L47.56 529.5L47.67 532.0L47.78 563.4L47.89 537.5L48.00 535.9L48.11 545.0L48.21 545.2L48.32 542.0L48.43 549.4L48.54 555.9L48.65 580.3L48.76 539.0L48.87 541.7L48.98 538.0L49.08 552.9L49.19 550.4L49.30 536.1L49.41 546.1L49.52 533.4L49.63 525.1L49.74 517.9L49.85 543.4L49.95 541.8L50.06 559.1L50.17 620.0L50.28 545.7L50.39 557.2L50.50 523.0L50.61 621.0L50.72 571.9L50.82 564.6L50.93 528.9L51.04 562.3L51.15 620.4L51.26 603.2L51.37 563.2L51.48 539.7L51.59 578.6L51.69 570.7L51.80 556.3L51.91 549.0L52.02 534.0L52.13 536.8L52.24 520.3L52.35 537.6L52.46 534.3L52.56 602.1L52.67 531.0L52.78 611.7L52.89 594.6L53.00 573.8L53.11 551.0L53.22 551.8L53.33 547.8L53.43 523.3L53.54 601.6L53.65 557.7L53.76 522.7L53.87 535.7L53.98 554.2L54.09 560.6L54.20 558.5L54.30 556.8L54.41 550.3L54.52 563.9L54.63 548.9L54.74 598.7L54.85 569.2L54.96 605.0L55.07 558.7L55.17 621.3L55.28 563.1L55.39 579.5L55.50 605.4L55.61 581.2L55.72 577.4L55.83 551.8L55.94 623.0L56.04 557.5L56.15 620.3L56.26 561.5L56.37 562.5L56.48 542.8L56.59 568.3L56.70 560.2L56.81 541.6L56.91 546.8L57.02 541.1L57.13 556.8L57.24 544.1L57.35 549.4L57.46 624.3L57.57 541.7L57.68 531.5L57.78 556.7L57.89 549.6L58.00 539.3L58.11 529.0L58.22 543.2L58.33 520.3L58.44 556.0L58.55 528.7L58.65 562.1L58.76 622.6L58.87 620.3L58.98 542.1L59.09 597.9L59.20 571.2L59.31 581.6L59.42 524.5L59.52 553.8L59.63 570.5L59.74 561.5L59.85 556.7L59.96 530.2L60.07 549.6L60.18 554.8L60.29 614.3L60.39 553.3L60.50 580.2L60.61 546.4L60.72 545.4L60.83 561.0L60.94 579.7L61.05 571.8L61.16 561.5L61.26 532.5L61.37 535.7L61.48 566.7L61.59 562.3L61.70 574.6L61.81 623.1L61.92 564.0L62.03 548.8L62.13 559.0L62.24 566.7L62.35 594.0L62.46 577.0L62.57 555.1L62.68 576.7L62.79 552.7L62.90 580.1L63.00 592.0L63.11 623.8L63.22 567.7L63.33 622.9L63.44 562.4L63.55 563.0L63.66 612.0L63.77 572.9L63.87 559.2L63.98 536.4L64.09 559.2L64.20 571.2L64.31 560.2L64.42 566.9L64.53 625.1L64.64 624.4L64.74 561.0L64.85 588.7L64.96 544.4L65.07 560.2L65.18 557.2L65.29 595.1L65.40 553.4L65.51 537.8L65.61 547.2L65.72 562.9L65.83 562.8L65.94 584.1L66.05 570.1L66.16 547.7L66.27 554.4L66.38 625.0L66.48 548.9L66.59 562.4L66.70 622.0L66.81 550.9L66.92 539.5L67.03 581.9L67.14 584.7L67.25 569.4L67.35 550.2L67.46 561.5L67.57 552.4L67.68 552.2L67.79 565.1L67.90 559.1L68.01 546.7L68.12 568.5L68.22 560.6L68.33 569.9L68.44 620.9L68.55 535.6L68.66 600.9L68.77 552.4L68.88 563.2L68.99 567.9L69.09 561.8L69.20 560.0L69.31 563.1L69.42 561.4L69.53 560.8L69.64 571.0L69.75 545.3L69.86 556.7L69.96 557.9L70.07 564.0L70.18 548.9L70.29 607.6L70.40 563.6L70.51 556.1L70.62 539.8L70.73 594.4L70.83 550.5L70.94 563.1L71.05 544.4L71.16 555.9L71.27 553.8L71.38 556.0L71.49 623.2L71.60 559.9L71.70 552.7L71.81 546.2L71.92 555.9L72.03 619.2L72.14 541.5L72.25 558.3L72.36 564.8L72.47 541.5L72.57 546.0L72.68 537.1L72.79 534.7L72.90 573.0L73.01 551.0L73.12 546.4L73.23 565.5L73.34 541.6L73.44 553.0L73.55 565.0L73.66 560.6L73.77 552.2L73.88 590.0L73.99 536.1L74.10 571.0L74.21 541.5L74.31 576.6L74.42 554.9L74.53 565.8L74.64 554.8L74.75 555.5L74.86 542.7L74.97 558.4L75.08 542.0L75.18 582.4L75.29 564.7L75.40 538.0L75.51 553.7L75.62 554.2L75.73 549.9L75.84 621.2L75.95 586.4L76.05 557.6L76.16 553.8L76.27 556.7L76.38 555.3L76.49 528.3L76.60 536.7L76.71 531.4L76.82 554.4L76.92 573.5L77.03 557.9L77.14 547.2L77.25 559.8L77.36 588.1L77.47 568.4L77.58 546.1L77.69 558.1L77.79 555.8L77.90 549.5L78.01 579.8L78.12 567.5L78.23 570.6L78.34 552.9L78.45 564.5L78.56 548.6L78.66 551.7L78.77 542.9L78.88 555.1L78.99 543.5L79.10 543.9L79.21 571.0L79.32 530.8L79.43 537.6L79.53 550.1L79.64 603.1L79.75 568.1L79.86 548.2L79.97 558.6L80.08 561.4L80.19 556.7L80.30 565.9L80.40 533.3L80.51 624.9L80.62 619.8L80.73 540.6L80.84 540.3L80.95 549.3L81.06 538.8L81.17 556.1L81.27 522.8L81.38 567.5L81.49 545.4L81.60 528.4L81.71 559.7L81.82 528.6L81.93 618.2L82.04 553.3L82.14 530.1L82.25 556.3L82.36 547.2L82.47 554.1L82.58 565.5L82.69 568.4L82.80 563.5L82.91 573.4L83.01 556.9L83.12 556.9L83.23 547.9L83.34 557.4L83.45 566.4L83.56 557.4L83.67 522.3L83.78 565.2L83.88 561.1L83.99 521.2L84.10 534.9L84.21 544.8L84.32 540.0L84.43 533.7L84.54 594.4L84.65 553.7L84.75 543.5L84.86 542.5L84.97 616.6L85.08 549.0L85.19 552.3L85.30 555.0L85.41 536.8L85.52 544.9L85.62 539.2L85.73 531.7L85.84 539.0L85.95 568.8L86.06 540.7L86.17 566.0L86.28 577.1L86.39 531.9L86.49 552.6L86.60 562.6L86.71 562.3L86.82 542.6L86.93 526.3L87.04 533.7L87.15 552.0L87.26 562.4L87.36 546.4L87.47 596.3L87.58 533.7L87.69 621.7L87.80 545.4L87.91 533.1L88.02 554.5L88.13 532.1L88.23 524.9L88.34 528.6L88.45 552.0L88.56 550.2L88.67 547.9L88.78 550.5L88.89 534.1L89.00 547.9L89.10 550.3L89.21 582.9L89.32 559.9L89.43 570.5L89.54 551.7L89.65 557.0L89.76 549.2L89.87 553.1L89.97 603.7L90.08 539.8L90.19 550.5L90.30 569.4L90.41 535.7L90.52 538.7L90.63 553.4L90.74 571.3L90.84 566.8L90.95 541.0L91.06 623.7L91.17 559.5L91.28 549.7L91.39 561.2L91.50 558.6L91.61 584.2L91.71 550.7L91.82 546.7L91.93 542.9L92.04 536.8L92.15 543.0L92.26 561.3L92.37 556.5L92.48 540.0L92.58 558.2L92.69 541.5L92.80 563.2L92.91 571.9L93.02 552.0L93.13 556.8L93.24 600.1L93.35 560.6L93.45 624.4L93.56 576.5L93.67 552.6L93.78 563.0L93.89 567.3L94.00 540.2L94.11 549.0L94.22 541.5L94.32 544.8L94.43 576.7L94.54 547.7L94.65 563.5L94.76 546.0L94.87 539.3L94.98 570.3L95.09 560.4L95.19 536.0L95.30 566.0L95.41 538.5L95.52 565.1L95.63 575.3L95.74 561.8L95.85 557.9L95.96 536.0L96.06 568.1L96.17 553.9L96.28 555.2L96.39 560.7L96.50 583.8L96.61 557.0L96.72 549.1L96.83 552.1L96.93 538.8L97.04 557.6L97.15 582.8L97.26 536.7L97.37 538.3L97.48 543.2L97.59 534.9L97.70 542.0L97.80 542.1L97.91 546.2L98.02 534.4L98.13 532.2L98.24 624.1L98.35 580.9L98.46 541.1L98.57 539.9L98.67 558.8L98.78 562.2L98.89 552.9L99.00 598.7L99.11 565.1L99.22 577.6L99.33 558.0L99.44 554.9L99.54 555.6L99.65 560.9L99.76 554.0L99.87 540.8L99.98 528.7L100.09 543.0L100.20 542.0L100.31 557.3L100.41 550.4L100.52 537.2L100.63 536.8L100.74 554.8L100.85 548.4L100.96 555.8L101.07 559.9L101.18 542.2L101.28 553.3L101.39 533.6L101.50 575.6L101.61 566.9L101.72 560.2L101.83 609.1L101.94 548.4L102.05 582.7L102.15 589.1L102.26 550.5L102.37 621.1L102.48 531.8L102.59 546.9L102.70 560.9L102.81 552.7L102.92 532.3L103.02 553.0L103.13 559.7L103.24 575.8L103.35 549.3L103.46 558.2L103.57 538.0L103.68 549.6L103.79 540.5L103.89 557.0L104.00 567.0L104.11 548.9L104.22 561.5L104.33 569.5L104.44 563.4L104.55 553.2L104.66 569.8L104.76 535.8L104.87 554.7L104.98 571.0L105.09 573.5L105.20 561.1L105.31 569.1L105.42 567.7L105.53 606.7L105.63 559.2L105.74 561.7L105.85 563.4L105.96 578.9L106.07 540.7L106.18 608.7L106.29 554.3L106.40 559.5L106.50 543.1L106.61 555.1L106.72 540.6L106.83 622.9L106.94 583.2L107.05 550.9L107.16 554.6L107.27 624.1L107.37 568.1L107.48 555.0L107.59 564.4L107.70 574.2L107.81 546.7L107.92 558.7L108.03 565.7L108.14 560.1L108.24 624.9L108.35 555.5L108.46 553.7L108.57 546.0L108.68 553.7L108.79 575.7L108.90 549.0L109.01 563.7L109.11 563.6L109.22 587.2L109.33 600.6L109.44 565.7L109.55 571.5L109.66 577.0L109.77 562.0L109.88 622.0L109.98 550.2L110.09 549.8L110.20 574.6L110.31 570.5L110.42 560.5L110.53 602.1L110.64 549.5L110.75 571.4L110.85 579.0L110.96 559.9L111.07 569.4L111.18 602.4L111.29 557.5L111.40 563.6L111.51 576.8L111.62 579.7L111.72 565.4L111.83 557.2L111.94 559.2L112.05 550.6L112.16 562.3L112.27 594.2L112.38 554.4L112.49 565.1L112.59 569.5L112.70 561.1L112.81 556.6L112.92 540.8L113.03 553.4L113.14 547.6L113.25 580.7L113.36 543.4L113.46 552.8L113.57 565.3L113.68 578.9L113.79 566.3L113.90 538.2L114.01 541.6L114.12 539.2L114.23 552.6L114.33 539.2L114.44 541.9L114.55 544.8L114.66 558.6L114.77 558.1L114.88 554.5L114.99 515.5L115.10 572.4L115.20 530.4L115.31 534.3L115.42 550.8L115.53 544.1L115.64 589.3L115.75 553.6L115.86 563.7L115.97 578.4L116.07 520.8L116.18 537.9L116.29 570.3L116.40 540.1L116.51 558.3L116.62 546.6L116.73 562.6L116.84 566.2L116.94 536.0L117.05 559.9L117.16 561.4L117.27 550.5L117.38 540.6L117.49 560.4L117.60 543.5L117.71 538.7L117.81 600.5L117.92 549.3L118.03 535.1L118.14 541.6L118.25 523.2L118.36 564.9L118.47 539.2L118.58 551.5L118.68 599.4L118.79 547.8L118.90 562.0L119.01 550.6L119.12 536.2L119.23 603.1L119.34 548.0L119.45 623.6L119.55 562.4L119.66 599.7L119.77 554.1L119.88 557.5L119.99 562.9L120.10 557.7L120.21 547.0L120.32 568.1L120.42 569.0L120.53 548.7L120.64 545.7L120.75 594.1L120.86 556.3L120.97 547.4L121.08 553.0L121.19 564.4L121.29 552.7L121.40 575.3L121.51 547.3L121.62 553.6L121.73 545.8L121.84 557.8L121.95 580.3L122.06 567.0L122.16 546.4L122.27 559.1L122.38 582.8L122.49 582.9L122.60 555.9L122.71 551.9L122.82 546.3L122.93 567.0L123.03 622.1L123.14 568.0L123.25 575.6L123.36 569.4L123.47 549.3L123.58 567.1L123.69 540.9L123.80 572.8L123.90 564.6L124.01 553.1L124.12 624.3L124.23 558.6L124.34 577.6L124.45 564.4L124.56 545.2L124.67 552.8L124.77 557.0L124.88 558.3L124.99 620.3L125.10 559.3L125.21 567.8L125.32 543.0L125.43 554.3L125.54 597.0L125.64 558.4L125.75 560.9L125.86 576.5L125.97 559.3L126.08 565.8L126.19 562.5L126.30 556.5L126.41 541.7L126.51 568.5L126.62 553.1L126.73 536.0L126.84 570.2L126.95 550.1L127.06 562.2L127.17 549.0L127.28 594.9L127.38 605.1L127.49 557.6L127.60 566.0L127.71 545.9L127.82 607.0L127.93 580.0L128.04 570.5L128.15 567.2L128.25 541.5L128.36 544.3L128.47 561.1L128.58 577.1L128.69 547.4L128.80 558.3L128.91 562.8L129.02 544.4L129.12 534.1L129.23 555.7L129.34 543.5L129.45 584.6L129.56 551.5L129.67 582.0L129.78 543.4L129.89 568.0L129.99 574.3L130.10 553.7L130.21 570.3L130.32 567.9L130.43 581.1L130.54 571.0L130.65 552.8L130.76 567.2L130.86 567.5L130.97 574.7L131.08 561.3L131.19 554.8L131.30 560.3L131.41 593.5L131.52 560.5L131.63 570.1L131.73 559.5L131.84 573.6L131.95 550.9L132.06 541.0L132.17 583.9L132.28 542.3L132.39 560.8L132.50 569.5L132.60 588.6L132.71 572.5L132.82 568.2L132.93 542.0L133.04 568.1L133.15 592.2L133.26 550.0L133.37 601.8L133.47 564.1L133.58 554.4L133.69 579.3L133.80 566.7L133.91 567.8L134.02 549.0L134.13 548.3L134.24 550.5L134.34 544.6L134.45 573.7L134.56 548.3L134.67 560.0L134.78 569.4L134.89 593.2L135.00 557.6L135.11 561.9L135.21 579.3L135.32 552.8L135.43 543.6L135.54 549.7L135.65 547.3L135.76 546.7L135.87 557.9L135.98 562.1L136.08 622.6L136.19 598.7L136.30 567.1L136.41 558.7L136.52 569.1L136.63 552.1L136.74 574.8L136.85 543.8L136.95 567.0L137.06 567.7L137.17 555.5L137.28 567.7L137.39 583.0L137.50 550.9L137.61 549.4L137.72 583.4L137.82 553.8L137.93 570.7L138.04 564.9L138.15 602.0L138.26 572.3L138.37 562.6L138.48 540.3L138.59 554.1L138.69 552.4L138.80 566.3L138.91 567.7L139.02 570.1L139.13 555.1L139.24 563.1L139.35 555.9L139.46 531.1L139.56 580.7L139.67 557.1L139.78 558.4L139.89 570.6L140.00 558.3L140.11 569.3L140.22 571.5L140.33 558.6L140.43 544.5L140.54 566.5L140.65 559.2L140.76 574.0L140.87 574.1L140.98 584.1L141.09 564.8L141.20 561.9L141.30 578.0L141.41 590.4L141.52 560.4L141.63 571.5L141.74 583.5L141.85 557.4L141.96 582.9L142.07 564.3L142.17 562.1L142.28 572.5L142.39 623.7L142.50 588.7L142.61 566.2L142.72 553.7L142.83 555.0L142.94 594.6L143.04 564.6L143.15 558.8L143.26 542.7L143.37 542.8L143.48 540.2L143.59 557.8L143.70 543.9L143.81 554.8L143.91 576.0L144.02 564.3L144.13 553.8L144.24 557.8L144.35 568.1L144.46 599.0L144.57 576.8L144.68 552.2L144.78 622.7L144.89 566.3L145.00 577.2L145.11 551.0L145.22 560.7L145.33 601.0L145.44 573.8L145.55 564.9L145.65 560.9L145.76 557.3L145.87 569.0L145.98 547.1L146.09 543.0L146.20 551.4L146.31 574.3L146.42 579.6L146.52 554.1L146.63 579.9L146.74 558.7L146.85 589.4L146.96 563.1L147.07 580.1L147.18 558.6L147.29 574.4L147.39 566.7L147.50 587.2L147.61 572.4L147.72 553.6L147.83 571.9L147.94 575.2L148.05 562.8L148.16 564.5L148.26 555.4L148.37 560.7L148.48 595.0L148.59 582.9L148.70 571.4L148.81 591.2L148.92 552.4L149.03 575.2L149.13 568.5L149.24 542.7L149.35 553.0L149.46 567.6L149.57 562.8L149.68 569.6L149.79 559.8L149.90 536.5L150.00 585.2L150.11 549.6L150.22 550.2L150.33 567.8L150.44 558.3L150.55 559.9L150.66 573.7L150.77 571.2L150.87 549.6L150.98 599.5L151.09 567.0L151.20 574.1L151.31 566.0L151.42 565.4L151.53 554.3L151.64 545.4L151.74 564.2L151.85 574.0L151.96 555.5L152.07 557.3L152.18 565.3L152.29 625.1L152.40 622.0L152.51 558.3L152.61 597.6L152.72 557.4L152.83 552.7L152.94 571.5L153.05 594.7L153.16 559.8L153.27 578.0L153.38 567.2L153.48 548.4L153.59 542.8L153.70 569.3L153.81 557.8L153.92 577.0L154.03 559.3L154.14 589.3L154.25 583.3L154.35 564.0L154.46 601.1L154.57 574.5L154.68 562.5L154.79 551.5L154.90 624.0L155.01 563.5L155.12 577.1L155.22 624.7L155.33 551.5L155.44 568.4L155.55 574.2L155.66 584.7L155.77 555.5L155.88 553.8L155.99 620.9L156.09 571.2L156.20 594.0L156.31 571.5L156.42 600.8L156.53 570.3L156.64 577.7L156.75 575.6L156.86 570.4L156.96 556.1L157.07 567.9L157.18 591.0L157.29 624.3L157.40 567.5L157.51 568.2L157.62 564.0L157.73 572.3L157.83 545.9L157.94 579.1L158.05 620.6L158.16 586.0L158.27 578.4L158.38 576.9L158.49 569.2L158.60 589.6L158.70 571.3L158.81 591.5L158.92 555.6L159.03 621.8L159.14 550.1L159.25 548.6L159.36 575.0L159.47 532.2L159.57 556.6L159.68 583.8L159.79 621.3L159.90 591.7L160.01 535.1L160.12 579.5L160.23 588.3L160.34 555.7L160.44 567.7L160.55 571.8L160.66 558.3L160.77 533.4L160.88 550.7L160.99 594.4L161.10 554.0L161.21 564.6L161.31 558.8L161.42 528.1L161.53 535.6L161.64 547.0L161.75 623.1L161.86 583.5L161.97 555.1L162.08 579.0L162.18 566.8L162.29 624.2L162.40 579.5L162.51 561.3L162.62 568.0L162.73 566.6L162.84 551.8L162.95 571.5L163.05 553.8L163.16 562.7L163.27 576.2L163.38 572.3L163.49 548.7L163.60 593.7L163.71 566.7L163.82 568.5L163.92 582.9L164.03 546.9L164.14 568.4L164.25 544.5L164.36 533.3L164.47 584.3L164.58 560.6L164.69 577.1L164.79 567.5L164.90 559.2L165.01 577.2L165.12 552.8L165.23 565.1L165.34 543.0L165.45 564.0L165.56 562.0L165.66 565.1L165.77 532.8L165.88 570.4L165.99 596.2L166.10 554.5L166.21 559.5L166.32 550.8L166.43 549.4L166.53 603.2L166.64 558.1L166.75 556.8L166.86 547.8L166.97 538.9L167.08 573.5L167.19 597.1L167.30 572.1L167.40 557.5L167.51 546.2L167.62 567.7L167.73 566.6L167.84 542.3L167.95 539.8L168.06 572.5L168.17 555.8L168.27 547.1L168.38 535.7L168.49 546.8L168.60 542.9L168.71 545.4L168.82 543.7L168.93 590.0L169.04 545.6L169.14 547.4L169.25 573.8L169.36 570.6L169.47 577.1L169.58 560.3L169.69 597.5L169.80 565.3L169.91 547.7L170.01 574.6L170.12 552.8L170.23 553.3L170.34 562.4L170.45 565.6L170.56 559.7L170.67 539.8L170.78 539.0L170.88 568.9L170.99 553.3L171.10 564.1L171.21 547.4L171.32 546.5L171.43 547.7L171.54 548.5L171.65 546.7L171.75 575.0L171.86 547.3L171.97 549.3L172.08 554.9L172.19 605.1L172.30 619.4L172.41 558.8L172.52 548.7L172.62 573.2L172.73 543.9L172.84 543.2L172.95 590.0L173.06 528.7L173.17 597.0L173.28 547.3L173.39 551.2L173.49 540.6L173.60 540.3L173.71 569.9L173.82 600.1L173.93 558.6L174.04 553.5L174.15 563.1L174.26 551.3L174.36 569.7L174.47 556.4L174.58 572.8L174.69 545.1L174.80 550.4L174.91 562.9L175.02 562.0L175.13 567.9L175.23 625.1L175.34 553.8L175.45 569.2L175.56 567.5L175.67 589.7L175.78 573.9L175.89 559.0L176.00 559.8L176.10 539.3L176.21 604.6L176.32 580.4L176.43 553.1L176.54 561.7L176.65 570.6L176.76 557.0L176.87 569.8L176.97 546.6L177.08 556.4L177.19 564.6L177.30 564.3L177.41 539.2L177.52 591.4L177.63 563.1L177.74 545.5L177.84 549.7L177.95 556.0L178.06 543.7L178.17 590.7L178.28 553.6L178.39 541.3L178.50 544.2L178.61 573.9L178.71 563.7L178.82 552.8L178.93 563.8L179.04 556.8L179.15 557.1L179.26 580.0L179.37 550.1L179.48 558.6L179.58 603.0L179.69 564.6L179.80 590.6L179.91 559.3L180.02 541.3L180.13 531.5L180.24 544.0L180.35 553.0L180.45 556.8L180.56 534.6L180.67 527.4L180.78 553.5L180.89 584.1L181.00 545.0L181.11 532.0L181.22 571.0L181.32 564.6L181.43 572.5L181.54 550.7L181.65 526.6L181.76 541.1L181.87 573.4L181.98 568.1L182.09 547.2L182.19 623.0L182.30 574.9L182.41 548.3L182.52 562.1L182.63 548.5L182.74 614.3L182.85 553.9L182.96 571.5L183.06 567.1L183.17 558.3L183.28 561.4L183.39 541.1L183.50 541.0L183.61 552.4L183.72 540.0L183.83 533.9L183.93 566.8L184.04 560.9L184.15 535.4L184.26 560.2L184.37 564.7L184.48 560.8L184.59 554.7L184.70 578.0L184.80 559.3L184.91 550.2L185.02 569.0L185.13 570.8L185.24 549.9L185.35 574.9L185.46 577.3L185.57 565.1L185.67 552.3L185.78 595.5L185.89 591.6L186.00 568.9L186.11 595.3L186.22 536.5L186.33 557.2L186.44 529.7L186.54 594.3L186.65 624.3L186.76 559.9L186.87 551.2L186.98 562.7L187.09 554.2L187.20 567.6L187.31 555.6L187.41 556.3L187.52 560.5L187.63 560.8L187.74 570.1L187.85 575.4L187.96 533.2L188.07 573.0L188.18 551.4L188.28 556.3L188.39 566.3L188.50 568.3L188.61 581.5L188.72 568.4L188.83 582.9L188.94 571.6L189.05 550.4L189.15 560.9L189.26 589.4L189.37 571.5L189.48 579.0L189.59 588.7L189.70 556.6L189.81 591.7L189.92 561.0L190.02 544.8L190.13 546.3L190.24 577.8L190.35 565.2L190.46 564.0L190.57 568.5L190.68 559.2L190.79 559.8L190.89 549.0L191.00 576.1L191.11 567.7L191.22 559.1L191.33 563.2L191.44 589.5L191.55 568.6L191.66 568.9L191.76 574.5L191.87 584.2L191.98 564.9L192.09 570.3L192.20 578.2L192.31 563.8L192.42 572.9L192.53 580.5L192.63 582.7L192.74 586.7L192.85 570.2L192.96 579.4L193.07 559.2L193.18 574.9L193.29 566.3L193.40 581.9L193.50 588.0L193.61 571.7L193.72 565.2L193.83 560.1L193.94 602.3L194.05 568.7L194.16 567.2L194.27 558.2L194.37 550.8L194.48 580.9L194.59 546.5L194.70 556.8L194.81 556.4L194.92 565.5L195.03 545.0L195.14 543.4L195.24 541.2L195.35 559.6L195.46 567.4L195.57 534.4L195.68 552.5L195.79 606.4L195.90 543.0L196.01 576.6L196.11 539.9L196.22 557.6L196.33 597.4L196.44 583.5L196.55 625.1L196.66 561.0L196.77 571.3L196.88 569.8L196.98 557.1L197.09 561.6L197.20 574.0L197.31 565.9L197.42 544.5L197.53 583.7L197.64 563.4L197.75 540.6L197.85 578.1L197.96 561.6L198.07 569.1L198.18 611.0L198.29 623.0L198.40 563.9L198.51 568.8L198.62 576.2L198.72 556.9L198.83 598.2L198.94 571.9L199.05 579.9L199.16 571.0L199.27 568.4L199.38 569.0L199.49 547.3L199.59 561.6L199.70 545.1L199.81 543.1L199.92 546.2L200.03 550.0L200.14 556.2L200.25 557.8L200.36 530.6L200.46 540.2L200.57 559.2L200.68 548.6L200.79 567.8L200.90 564.4L201.01 572.9L201.12 570.1L201.23 573.6L201.33 613.4L201.44 543.7L201.55 555.1L201.66 547.7L201.77 560.2L201.88 562.5L201.99 622.9L202.10 570.7L202.20 546.7L202.31 615.3L202.42 552.0L202.53 591.5L202.64 567.8L202.75 600.1L202.86 565.2L202.97 573.1L203.07 575.5L203.18 567.1L203.29 621.6L203.40 562.2L203.51 623.4L203.62 572.6L203.73 574.8L203.84 558.1L203.94 603.0L204.05 538.1L204.16 573.7L204.27 561.1L204.38 570.0L204.49 556.8L204.60 550.3L204.71 567.2L204.81 585.6L204.92 567.4L205.03 569.3L205.14 559.8L205.25 575.1L205.36 569.1L205.47 571.7L205.58 570.9L205.68 564.1L205.79 550.0L205.90 560.0L206.01 568.0L206.12 579.7L206.23 551.4L206.34 560.7L206.45 594.2L206.55 599.6L206.66 543.5L206.77 579.4L206.88 577.3L206.99 576.2L207.10 571.6L207.21 548.4L207.32 602.9L207.42 557.0L207.53 551.9L207.64 555.6L207.75 565.2L207.86 561.1L207.97 577.9L208.08 580.7L208.19 578.5L208.29 589.0L208.40 560.3L208.51 569.8L208.62 586.6L208.73 619.4L208.84 554.6L208.95 600.4L209.06 579.6L209.16 607.7L209.27 558.4L209.38 588.1L209.49 570.8L209.60 567.0L209.71 574.4L209.82 560.2L209.93 553.5L210.03 545.2L210.14 567.2L210.25 577.4L210.36 579.4L210.47 580.6L210.58 580.8L210.69 565.0L210.80 557.1L210.90 572.0L211.01 599.0L211.12 559.9L211.23 609.8L211.34 588.3L211.45 595.7L211.56 577.0L211.67 606.7L211.77 610.2L211.88 568.7L211.99 600.6L212.10 578.9L212.21 620.6L212.32 580.5L212.43 558.8L212.54 578.3L212.64 552.1L212.75 567.9L212.86 575.0L212.97 587.5L213.08 555.2L213.19 571.9L213.30 550.2L213.41 541.1L213.51 569.9L213.62 556.0L213.73 625.1L213.84 558.2L213.95 577.4L214.06 544.0L214.17 564.6L214.28 575.5L214.38 567.8L214.49 544.2L214.60 569.9L214.71 567.4L214.82 624.2L214.93 549.1L215.04 555.9L215.15 608.2L215.25 551.8L215.36 559.4L215.47 551.7L215.58 557.2L215.69 568.2L215.80 566.0L215.91 610.6L216.02 567.3L216.12 591.1L216.23 590.9L216.34 574.3L216.45 543.8L216.56 554.1L216.67 555.5L216.78 566.1L216.89 623.0L216.99 574.9L217.10 568.6L217.21 601.1L217.32 564.6L217.43 576.9L217.54 580.4L217.65 548.5L217.76 586.3L217.86 557.0L217.97 570.2L218.08 563.4L218.19 560.0L218.30 567.5L218.41 573.7L218.52 588.6L218.63 557.8L218.73 584.3L218.84 581.9L218.95 561.5L219.06 582.8L219.17 589.0L219.28 584.8L219.39 573.3L219.50 576.9L219.60 566.8L219.71 591.5L219.82 589.1L219.93 586.8L220.04 588.0L220.15 602.7L220.26 591.2L220.37 598.4L220.47 591.8L220.58 611.8L220.69 574.6L220.80 585.5L220.91 586.2L221.02 613.2L221.13 590.2L221.24 572.7L221.34 564.0L221.45 592.6L221.56 557.5L221.67 620.3L221.78 588.0L221.89 563.8L222.00 614.6L222.11 569.4L222.21 564.8L222.32 561.8L222.43 568.9L222.54 575.3L222.65 569.2L222.76 622.3L222.87 572.9L222.98 559.2L223.08 573.9L223.19 567.1L223.30 587.9L223.41 579.0L223.52 566.4L223.63 595.6L223.74 572.1L223.85 540.3L223.95 574.7L224.06 572.3L224.17 548.5L224.28 560.6L224.39 565.7L224.50 564.5L224.61 551.4L224.72 561.7L224.82 582.0L224.93 544.6L225.04 544.4L225.15 551.5L225.26 564.2L225.37 576.3L225.48 540.9L225.59 586.5L225.69 548.6L225.80 550.2L225.91 556.5L226.02 555.7L226.13 552.2L226.24 553.7L226.35 544.9L226.46 549.4L226.56 556.7L226.67 557.1L226.78 555.5L226.89 536.7L227.00 597.4L227.11 622.8L227.22 544.4L227.33 568.6L227.43 621.9L227.54 556.4L227.65 576.6L227.76 555.4L227.87 596.0L227.98 555.6L228.09 542.8L228.20 545.7L228.30 549.3L228.41 620.5L228.52 544.6L228.63 550.3L228.74 615.5L228.85 554.7L228.96 573.0L229.07 571.6L229.17 579.7L229.28 558.7L229.39 571.9L229.50 544.1L229.61 546.8L229.72 574.7L229.83 551.7L229.94 591.3L230.04 578.1L230.15 548.8L230.26 624.9L230.37 562.0L230.48 552.0L230.59 553.0L230.70 526.9L230.81 553.7L230.91 557.8L231.02 621.0L231.13 582.5L231.24 567.3L231.35 558.8L231.46 534.4L231.57 557.4L231.68 575.7L231.78 600.3L231.89 552.5L232.00 547.7L232.11 620.6L232.22 570.5L232.33 579.5L232.44 563.8L232.55 564.4L232.65 558.7L232.76 548.3L232.87 573.8L232.98 578.2L233.09 598.1L233.20 554.8L233.31 620.1L233.42 566.5L233.52 570.3L233.63 557.5L233.74 563.8L233.85 561.6L233.96 567.9L234.07 551.1L234.18 571.7L234.29 565.2L234.39 544.0L234.50 568.0L234.61 602.7L234.72 561.5L234.83 540.0L234.94 539.3L235.05 563.6L235.16 559.5L235.26 579.1L235.37 560.2L235.48 617.4L235.59 555.3L235.70 568.3L235.81 550.8L235.92 558.8L236.03 542.4L236.13 585.1L236.24 550.5L236.35 546.2L236.46 548.8L236.57 567.5L236.68 592.3L236.79 573.9L236.90 564.9L237.00 583.4L237.11 557.2L237.22 565.0L237.33 556.0L237.44 545.2L237.55 564.0L237.66 561.3L237.77 561.5L237.87 556.9L237.98 549.0L238.09 622.8L238.20 621.8L238.31 551.5L238.42 567.7L238.53 621.4L238.64 558.2L238.74 556.8L238.85 558.8L238.96 552.5L239.07 596.0L239.18 556.2L239.29 559.1L239.40 562.0L239.51 561.4L239.61 563.5L239.72 596.8L239.83 555.3L239.94 584.1L240.05 622.6L240.16 565.2L240.27 542.9L240.38 581.5L240.48 569.0L240.59 585.0L240.70 572.0L240.81 559.3L240.92 564.8L241.03 540.9L241.14 562.9L241.25 562.2L241.35 614.6L241.46 576.2L241.57 559.0L241.68 551.0L241.79 585.7L241.90 596.6L242.01 589.9L242.12 625.1L242.22 563.2L242.33 604.3L242.44 588.1L242.55 576.0L242.66 599.4L242.77 551.5L242.88 561.9L242.99 564.4L243.09 558.6L243.20 574.2L243.31 585.0L243.42 549.8L243.53 556.6L243.64 574.3L243.75 572.7L243.86 580.8L243.96 623.4L244.07 562.7L244.18 554.6L244.29 572.1L244.40 579.1L244.51 599.1L244.62 560.0L244.73 554.4L244.83 548.2L244.94 543.8L245.05 557.3L245.16 581.3L245.27 558.0L245.38 574.2L245.49 574.7L245.60 557.0L245.70 568.7L245.81 577.9L245.92 574.4L246.03 566.9L246.14 554.5L246.25 558.6L246.36 597.4L246.47 573.8L246.57 572.8L246.68 567.6L246.79 565.8L246.90 565.1L247.01 559.9L247.12 568.2L247.23 621.0L247.34 547.5L247.44 573.3L247.55 584.0L247.66 600.5L247.77 568.8L247.88 571.9L247.99 579.1L248.10 573.8L248.21 558.5L248.31 553.1L248.42 576.7L248.53 567.3L248.64 585.6L248.75 590.5L248.86 568.3L248.97 575.8L249.08 574.6L249.18 589.0L249.29 573.8L249.40 594.9L249.51 575.6L249.62 575.1L249.73 582.8L249.84 573.7L249.95 571.0" stroke="#0b8581" stroke-width="1.3" fill="none" stroke-linejoin="bevel"/>
<path d="M32.5 571.4H250" stroke="#231f20" stroke-width="1.15" stroke-dasharray="7.2 7.15" stroke-dashoffset="3.45"/>
<rect x="32.5" y="495.4" width="217.5" height="130.1" fill="none" stroke="#231f20" stroke-width="1.0"/>
<text x="32.5" y="637.1" font-size="10" text-anchor="middle" fill="#231f20" >20</text>
<text x="105" y="637.1" font-size="10" text-anchor="middle" fill="#231f20" >40</text>
<text x="177.5" y="637.1" font-size="10" text-anchor="middle" fill="#231f20" >60</text>
<text x="250" y="637.1" font-size="10" text-anchor="middle" fill="#231f20" >80</text>
<path d="M32.5 625.5v-3M105 625.5v-3M177.5 625.5v-3M250 625.5v-3" stroke="#231f20" stroke-width="0.9" fill="none"/>
<text x="30.3" y="629.1" font-size="10" text-anchor="end" fill="#231f20" >0</text>
<text x="30.3" y="593.6" font-size="10" text-anchor="end" fill="#231f20" >20</text>
<text x="30.3" y="558.1" font-size="10" text-anchor="end" fill="#231f20" >40</text>
<text x="30.3" y="522.6" font-size="10" text-anchor="end" fill="#231f20" >60</text>
<path d="M32.5 625.5h3M32.5 590h3M32.5 554.5h3M32.5 519h3" stroke="#231f20" stroke-width="0.9" fill="none"/>
<text x="102.7" y="16.5" font-size="10" fill="#231f20" textLength="145.5" lengthAdjust="spacingAndGlyphs">4.5 nm PEA-covered CsPbBr<tspan font-size="7" dy="2">3</tspan><tspan dy="-2"> QD</tspan></text>
<text x="102.7" y="179.5" font-size="10" fill="#231f20" textLength="145.5" lengthAdjust="spacingAndGlyphs">4.5 nm PEA-covered CsPbBr<tspan font-size="7" dy="2">3</tspan><tspan dy="-2"> QD</tspan></text>
<text x="99.6" y="341.9" font-size="10" fill="#231f20" textLength="148.8" lengthAdjust="spacingAndGlyphs">4.5 nm DDA-covered CsPbBr<tspan font-size="7" dy="2">3</tspan><tspan dy="-2"> QD</tspan></text>
<text x="99.6" y="505.4" font-size="10" fill="#231f20" textLength="148.8" lengthAdjust="spacingAndGlyphs">4.5 nm DDA-covered CsPbBr<tspan font-size="7" dy="2">3</tspan><tspan dy="-2"> QD</tspan></text>
<text x="453.2" y="16.5" font-size="10" fill="#231f20" textLength="138.0" lengthAdjust="spacingAndGlyphs">7.0 nm PEA-covered CsPbI<tspan font-size="7" dy="2">3</tspan><tspan dy="-2"> QD</tspan></text>
<text x="453.2" y="179.5" font-size="10" fill="#231f20" textLength="138.0" lengthAdjust="spacingAndGlyphs">7.0 nm PEA-covered CsPbI<tspan font-size="7" dy="2">3</tspan><tspan dy="-2"> QD</tspan></text>
<text transform="translate(12.7,71) rotate(-90)" font-size="10" text-anchor="middle" fill="#231f20" textLength="79" lengthAdjust="spacingAndGlyphs">Count Rate (kcps)</text>
<text x="141.2" y="156.6" font-size="10" text-anchor="middle" fill="#231f20" textLength="34.5" lengthAdjust="spacingAndGlyphs" >Time (s)</text>
<text transform="translate(12.7,234.3) rotate(-90)" font-size="10" text-anchor="middle" fill="#231f20" textLength="79" lengthAdjust="spacingAndGlyphs">Count Rate (kcps)</text>
<text x="141.2" y="320.1" font-size="10" text-anchor="middle" fill="#231f20" textLength="34.5" lengthAdjust="spacingAndGlyphs" >Time (s)</text>
<text transform="translate(12.7,397.8) rotate(-90)" font-size="10" text-anchor="middle" fill="#231f20" textLength="79" lengthAdjust="spacingAndGlyphs">Count Rate (kcps)</text>
<text x="141.2" y="483.3" font-size="10" text-anchor="middle" fill="#231f20" textLength="34.5" lengthAdjust="spacingAndGlyphs" >Time (s)</text>
<text transform="translate(12.7,561.1) rotate(-90)" font-size="10" text-anchor="middle" fill="#231f20" textLength="79" lengthAdjust="spacingAndGlyphs">Count Rate (kcps)</text>
<text x="141.2" y="646.6" font-size="10" text-anchor="middle" fill="#231f20" textLength="34.5" lengthAdjust="spacingAndGlyphs" >Time (s)</text>
<text transform="translate(355.7,71) rotate(-90)" font-size="10" text-anchor="middle" fill="#231f20" textLength="79" lengthAdjust="spacingAndGlyphs">Count Rate (kcps)</text>
<text x="484.2" y="156.6" font-size="10" text-anchor="middle" fill="#231f20" textLength="34.5" lengthAdjust="spacingAndGlyphs" >Time (s)</text>
<text transform="translate(355.7,234.3) rotate(-90)" font-size="10" text-anchor="middle" fill="#231f20" textLength="79" lengthAdjust="spacingAndGlyphs">Count Rate (kcps)</text>
<text x="484.2" y="320.1" font-size="10" text-anchor="middle" fill="#231f20" textLength="34.5" lengthAdjust="spacingAndGlyphs" >Time (s)</text>
<path d="M266.7 135.5L267.0 135.5L267.1 134.9L267.1 134.4L267.0 133.8L267.0 133.3L267.0 132.7L267.0 132.1L267.0 131.6L267.0 131.0L267.0 130.5L267.0 129.9L267.0 129.3L267.1 128.8L267.0 128.2L267.0 127.6L267.0 127.1L267.0 126.5L267.0 126.0L267.0 125.4L267.0 124.8L267.0 124.3L267.0 123.7L267.0 123.2L267.0 122.6L267.0 122.0L267.1 121.5L267.0 120.9L267.0 120.4L267.1 119.8L267.0 119.2L267.0 118.7L267.1 118.1L267.1 117.6L267.0 117.0L267.0 116.4L267.0 115.9L267.0 115.3L267.1 114.8L267.0 114.2L267.0 113.6L267.1 113.1L267.0 112.5L267.0 111.9L267.0 111.4L267.0 110.8L267.0 110.3L267.0 109.7L267.0 109.1L267.0 108.6L267.1 108.0L267.1 107.5L267.1 106.9L267.0 106.3L267.0 105.8L267.0 105.2L267.0 104.7L267.0 104.1L267.1 103.5L267.0 103.0L267.1 102.4L267.0 101.9L267.1 101.3L267.0 100.7L267.0 100.2L267.0 99.6L267.0 99.0L267.0 98.5L267.0 97.9L267.0 97.4L267.0 96.8L267.1 96.2L267.0 95.7L267.1 95.1L267.0 94.6L267.0 94.0L267.0 93.4L267.0 92.9L267.0 92.3L267.0 91.8L267.1 91.2L267.0 90.6L267.0 90.1L267.0 89.5L267.0 89.0L267.0 88.4L267.0 87.8L267.1 87.3L267.0 86.7L267.0 86.2L267.0 85.6L267.0 85.0L267.0 84.5L267.0 83.9L267.0 83.3L267.0 82.8L267.0 82.2L267.1 81.7L267.0 81.1L267.0 80.5L267.1 80.0L267.1 79.4L267.0 78.9L267.1 78.3L267.1 77.7L267.0 77.2L267.0 76.6L267.0 76.1L267.0 75.5L267.0 74.9L267.0 74.4L267.0 73.8L267.0 73.3L267.0 72.7L267.1 72.1L267.0 71.6L267.1 71.0L267.0 70.5L267.0 69.9L267.0 69.3L267.0 68.8L267.0 68.2L267.0 67.6L267.0 67.1L267.0 66.5L267.1 66.0L267.0 65.4L267.1 64.8L267.1 64.3L267.2 63.7L267.2 63.2L267.2 62.6L267.3 62.0L267.4 61.5L267.6 60.9L267.7 60.4L268.0 59.8L268.2 59.2L268.6 58.7L269.1 58.1L269.2 57.6L269.9 57.0L271.1 56.4L271.8 55.9L272.9 55.3L274.4 54.7L275.7 54.2L277.5 53.6L279.7 53.1L281.8 52.5L283.2 51.9L287.3 51.4L288.8 50.8L291.1 50.3L294.1 49.7L297.7 49.1L303.5 48.6L302.4 48.0L307.3 47.5L306.0 46.9L312.1 46.3L315.9 45.8L315.5 45.2L316.0 44.7L318.6 44.1L320.0 43.5L319.9 43.0L322.1 42.4L317.4 41.9L314.4 41.3L313.5 40.7L311.5 40.2L309.3 39.6L306.4 39.0L303.8 38.5L298.3 37.9L298.6 37.4L293.9 36.8L290.5 36.2L289.3 35.7L287.1 35.1L283.9 34.6L281.3 34.0L278.6 33.4L278.4 32.9L275.8 32.3L273.7 31.8L272.5 31.2L271.6 30.6L270.4 30.1L269.9 29.5L269.2 29.0L268.8 28.4L268.3 27.8L267.8 27.3L267.6 26.7L267.3 26.1L267.2 25.6L267.1 25.0L267.0 24.5L266.9 23.9L266.9 23.3L266.8 22.8L266.8 22.2L266.8 21.7L266.7 21.1L266.7 20.5L266.7 20.0L266.7 19.4L266.7 18.9L266.7 18.3L266.7 17.7L266.7 17.2L266.7 16.6L266.7 16.1L266.7 15.5L266.7 14.9L266.7 14.4L266.7 13.8L266.7 13.3L266.7 12.7L266.7 12.1L266.7 11.6L266.7 11.0L266.7 10.4L266.7 9.9L266.7 9.3L266.7 8.8L266.7 8.2L266.7 7.6L266.7 7.1L266.7 6.5L266.7 6.0L266.7 6.0Z" fill="#fa9085" stroke="none"/>
<rect x="266.7" y="18.8" width="1.1" height="116.7" fill="#fa9085"/>
<path d="M267.0 62.0L267.1 61.3L267.3 60.7L267.5 60.1L267.8 59.4L268.2 58.8L268.7 58.2L269.3 57.5L270.1 56.9L271.1 56.3L272.2 55.6L273.6 55.0L275.3 54.4L277.2 53.7L279.3 53.1L281.8 52.5L284.5 51.8L287.4 51.2L290.5 50.6L293.8 50.0L297.2 49.3L300.6 48.7L304.0 48.1L307.2 47.4L310.2 46.8L312.8 46.2L315.0 45.5L316.7 44.9L317.9 44.3L318.5 43.6L318.5 43.0L317.9 42.4L316.7 41.7L315.0 41.1L312.8 40.5L310.2 39.8L307.2 39.2L304.0 38.6L300.6 37.9L297.2 37.3L293.8 36.7L290.5 36.0L287.4 35.4L284.5 34.8L281.8 34.1L279.3 33.5L277.2 32.9L275.3 32.2L273.6 31.6L272.2 31.0L271.1 30.3L270.1 29.7L269.3 29.1L268.7 28.4L268.2 27.8L267.8 27.2L267.5 26.5L267.3 25.9L267.1 25.3L267.0 24.6" fill="none" stroke="#231f20" stroke-width="1.15" stroke-dasharray="3.4 2.2"/>
<path d="M266.7 299.0L267.0 299.0L267.0 298.4L267.0 297.9L267.0 297.3L267.0 296.8L267.1 296.2L267.0 295.6L267.0 295.1L267.0 294.5L267.1 293.9L267.0 293.4L267.0 292.8L267.0 292.2L267.0 291.7L267.0 291.1L267.0 290.6L267.1 290.0L267.0 289.4L267.0 288.9L267.0 288.3L267.0 287.8L267.1 287.2L267.0 286.6L267.0 286.1L267.0 285.5L267.0 284.9L267.1 284.4L267.0 283.8L267.0 283.2L267.0 282.7L267.1 282.1L267.0 281.6L267.0 281.0L267.0 280.4L267.0 279.9L267.0 279.3L267.1 278.8L267.1 278.2L267.0 277.6L267.1 277.1L267.0 276.5L267.0 275.9L267.0 275.4L267.0 274.8L267.0 274.2L267.1 273.7L267.0 273.1L267.1 272.6L267.0 272.0L267.0 271.4L267.0 270.9L267.1 270.3L267.0 269.8L267.0 269.2L267.0 268.6L267.0 268.1L267.1 267.5L267.0 266.9L267.0 266.4L267.0 265.8L267.0 265.2L267.0 264.7L267.1 264.1L267.0 263.6L267.0 263.0L267.0 262.4L267.1 261.9L267.0 261.3L267.1 260.8L267.1 260.2L267.0 259.6L267.0 259.1L267.0 258.5L267.0 257.9L267.0 257.4L267.1 256.8L267.0 256.2L267.0 255.7L267.0 255.1L267.1 254.6L267.1 254.0L267.0 253.4L267.1 252.9L267.1 252.3L267.1 251.8L267.0 251.2L267.0 250.6L267.0 250.1L267.0 249.5L267.0 248.9L267.1 248.4L267.1 247.8L267.0 247.2L267.1 246.7L267.0 246.1L267.0 245.6L267.1 245.0L267.0 244.4L267.1 243.9L267.0 243.3L267.0 242.8L267.1 242.2L267.0 241.6L267.1 241.1L267.0 240.5L267.1 239.9L267.0 239.4L267.0 238.8L267.0 238.2L267.0 237.7L267.0 237.1L267.0 236.6L267.0 236.0L267.0 235.4L267.0 234.9L267.0 234.3L267.0 233.8L267.1 233.2L267.1 232.6L267.0 232.1L267.0 231.5L267.1 230.9L267.0 230.4L267.0 229.8L267.1 229.2L267.0 228.7L267.1 228.1L267.1 227.6L267.1 227.0L267.1 226.4L267.2 225.9L267.2 225.3L267.3 224.8L267.3 224.2L267.5 223.6L267.7 223.1L268.0 222.5L268.2 221.9L268.7 221.4L268.7 220.8L269.4 220.2L270.3 219.7L271.2 219.1L272.5 218.6L273.4 218.0L275.7 217.4L277.0 216.9L280.4 216.3L281.7 215.8L285.3 215.2L286.2 214.6L290.8 214.1L292.6 213.5L296.1 212.9L299.9 212.4L302.5 211.8L306.3 211.2L309.8 210.7L311.9 210.1L312.5 209.6L311.4 209.0L313.3 208.4L325.1 207.9L312.2 207.3L315.5 206.8L312.2 206.2L310.3 205.6L310.1 205.1L306.9 204.5L303.3 203.9L298.6 203.4L297.1 202.8L293.9 202.2L289.6 201.7L288.3 201.1L284.9 200.6L280.7 200.0L279.6 199.4L276.8 198.9L275.9 198.3L274.1 197.8L272.2 197.2L271.1 196.6L270.3 196.1L269.5 195.5L269.0 194.9L268.4 194.4L267.9 193.8L267.6 193.2L267.3 192.7L267.2 192.1L267.0 191.6L266.9 191.0L266.9 190.4L266.8 189.9L266.8 189.3L266.8 188.8L266.7 188.2L266.7 187.6L266.7 187.1L266.7 186.5L266.7 185.9L266.7 185.4L266.7 184.8L266.7 184.2L266.7 183.7L266.7 183.1L266.7 182.6L266.7 182.0L266.7 181.4L266.7 180.9L266.7 180.3L266.7 179.8L266.7 179.2L266.7 178.6L266.7 178.1L266.7 177.5L266.7 176.9L266.7 176.4L266.7 175.8L266.7 175.2L266.7 174.7L266.7 174.1L266.7 173.6L266.7 173.0L266.7 172.4L266.7 171.9L266.7 171.3L266.7 170.8L266.7 170.2L266.7 169.6L266.7 169.1L266.7 169.1Z" fill="#fa9085" stroke="none"/>
<rect x="266.7" y="186.1" width="1.1" height="112.9" fill="#fa9085"/>
<path d="M267.0 224.4L267.1 223.9L267.3 223.3L267.5 222.8L267.8 222.2L268.1 221.6L268.6 221.1L269.2 220.5L269.9 219.9L270.8 219.4L271.9 218.8L273.2 218.3L274.7 217.7L276.5 217.1L278.5 216.6L280.8 216.0L283.3 215.5L286.0 214.9L289.0 214.3L292.0 213.8L295.2 213.2L298.4 212.6L301.5 212.1L304.5 211.5L307.3 211.0L309.7 210.4L311.8 209.8L313.4 209.3L314.5 208.7L315.1 208.2L315.1 207.6L314.5 207.0L313.4 206.5L311.8 205.9L309.7 205.3L307.3 204.8L304.5 204.2L301.5 203.7L298.4 203.1L295.2 202.5L292.0 202.0L289.0 201.4L286.0 200.9L283.3 200.3L280.8 199.7L278.5 199.2L276.5 198.6L274.7 198.1L273.2 197.5L271.9 196.9L270.8 196.4L269.9 195.8L269.2 195.2L268.6 194.7L268.1 194.1L267.8 193.6L267.5 193.0L267.3 192.4L267.1 191.9L267.0 191.3" fill="none" stroke="#231f20" stroke-width="1.15" stroke-dasharray="3.4 2.2"/>
<path d="M609.9 135.5L610.3 135.5L610.3 134.9L610.2 134.4L610.2 133.8L610.3 133.3L610.2 132.7L610.2 132.1L610.3 131.6L610.3 131.0L610.2 130.5L610.2 129.9L610.2 129.3L610.2 128.8L610.2 128.2L610.2 127.6L610.2 127.1L610.2 126.5L610.2 126.0L610.2 125.4L610.3 124.8L610.2 124.3L610.2 123.7L610.2 123.2L610.3 122.6L610.3 122.0L610.2 121.5L610.2 120.9L610.2 120.4L610.2 119.8L610.2 119.2L610.3 118.7L610.2 118.1L610.3 117.6L610.2 117.0L610.3 116.4L610.3 115.9L610.3 115.3L610.2 114.8L610.2 114.2L610.2 113.6L610.2 113.1L610.2 112.5L610.3 111.9L610.3 111.4L610.2 110.8L610.2 110.3L610.2 109.7L610.2 109.1L610.2 108.6L610.3 108.0L610.3 107.5L610.2 106.9L610.2 106.3L610.2 105.8L610.3 105.2L610.3 104.7L610.2 104.1L610.2 103.5L610.3 103.0L610.2 102.4L610.2 101.9L610.3 101.3L610.2 100.7L610.3 100.2L610.2 99.6L610.2 99.0L610.2 98.5L610.3 97.9L610.2 97.4L610.2 96.8L610.3 96.2L610.2 95.7L610.2 95.1L610.2 94.6L610.2 94.0L610.2 93.4L610.2 92.9L610.3 92.3L610.2 91.8L610.3 91.2L610.2 90.6L610.3 90.1L610.2 89.5L610.3 89.0L610.2 88.4L610.2 87.8L610.2 87.3L610.2 86.7L610.3 86.2L610.2 85.6L610.2 85.0L610.2 84.5L610.2 83.9L610.3 83.3L610.2 82.8L610.2 82.2L610.2 81.7L610.2 81.1L610.2 80.5L610.2 80.0L610.2 79.4L610.2 78.9L610.3 78.3L610.2 77.7L610.3 77.2L610.2 76.6L610.2 76.1L610.2 75.5L610.2 74.9L610.2 74.4L610.2 73.8L610.3 73.3L610.2 72.7L610.2 72.1L610.3 71.6L610.3 71.0L610.2 70.5L610.2 69.9L610.3 69.3L610.2 68.8L610.2 68.2L610.3 67.6L610.3 67.1L610.2 66.5L610.4 66.0L610.4 65.4L610.4 64.8L610.4 64.3L610.5 63.7L610.6 63.2L610.7 62.6L610.8 62.0L611.0 61.5L611.2 60.9L611.6 60.4L611.8 59.8L611.9 59.2L612.3 58.7L613.0 58.1L613.6 57.6L614.3 57.0L615.5 56.4L617.2 55.9L617.7 55.3L618.9 54.7L620.2 54.2L621.7 53.6L624.6 53.1L626.9 52.5L628.5 51.9L631.0 51.4L633.2 50.8L635.7 50.3L636.3 49.7L639.9 49.1L643.0 48.6L644.1 48.0L646.6 47.5L648.0 46.9L650.5 46.3L654.1 45.8L653.1 45.2L654.4 44.7L656.7 44.1L656.6 43.5L658.3 43.0L650.9 42.4L655.3 41.9L651.8 41.3L651.3 40.7L650.6 40.2L649.0 39.6L646.6 39.0L643.1 38.5L642.4 37.9L637.7 37.4L635.4 36.8L633.8 36.2L630.3 35.7L630.1 35.1L627.0 34.6L625.5 34.0L622.4 33.4L620.5 32.9L619.2 32.3L618.0 31.8L616.4 31.2L615.5 30.6L614.5 30.1L613.9 29.5L612.9 29.0L612.5 28.4L611.8 27.8L611.4 27.3L611.1 26.7L610.8 26.1L610.7 25.6L610.5 25.0L610.4 24.5L610.3 23.9L610.2 23.3L610.1 22.8L610.0 22.2L610.0 21.7L610.0 21.1L610.0 20.5L609.9 20.0L609.9 19.4L609.9 18.9L609.9 18.3L609.9 17.7L609.9 17.2L609.9 16.6L609.9 16.1L609.9 15.5L609.9 14.9L609.9 14.4L609.9 13.8L609.9 13.3L609.9 12.7L609.9 12.1L609.9 11.6L609.9 11.0L609.9 10.4L609.9 9.9L609.9 9.3L609.9 8.8L609.9 8.2L609.9 7.6L609.9 7.1L609.9 6.5L609.9 6.0L609.9 6.0Z" fill="#c067ae" stroke="none"/>
<rect x="609.9" y="17.2" width="1.1" height="118.3" fill="#c067ae"/>
<path d="M610.2 63.6L610.3 62.9L610.4 62.3L610.6 61.6L610.9 60.9L611.2 60.2L611.7 59.5L612.2 58.9L612.9 58.2L613.7 57.5L614.8 56.8L616.0 56.1L617.4 55.5L619.1 54.8L621.0 54.1L623.1 53.4L625.5 52.7L628.0 52.0L630.8 51.4L633.7 50.7L636.7 50.0L639.6 49.3L642.6 48.6L645.4 48.0L648.0 47.3L650.3 46.6L652.2 45.9L653.8 45.2L654.8 44.6L655.3 43.9L655.3 43.2L654.8 42.5L653.8 41.8L652.2 41.1L650.3 40.5L648.0 39.8L645.4 39.1L642.6 38.4L639.6 37.7L636.7 37.1L633.7 36.4L630.8 35.7L628.0 35.0L625.5 34.3L623.1 33.7L621.0 33.0L619.1 32.3L617.4 31.6L616.0 30.9L614.8 30.2L613.7 29.6L612.9 28.9L612.2 28.2L611.7 27.5L611.2 26.8L610.9 26.2L610.6 25.5L610.4 24.8L610.3 24.1L610.2 23.4" fill="none" stroke="#231f20" stroke-width="1.15" stroke-dasharray="3.4 2.2"/>
<path d="M609.9 299.0L610.2 299.0L610.3 298.4L610.2 297.9L610.3 297.3L610.2 296.8L610.2 296.2L610.2 295.6L610.3 295.1L610.2 294.5L610.2 293.9L610.3 293.4L610.2 292.8L610.2 292.2L610.2 291.7L610.2 291.1L610.3 290.6L610.2 290.0L610.2 289.4L610.2 288.9L610.2 288.3L610.3 287.8L610.2 287.2L610.2 286.6L610.2 286.1L610.2 285.5L610.3 284.9L610.3 284.4L610.3 283.8L610.2 283.2L610.2 282.7L610.2 282.1L610.3 281.6L610.3 281.0L610.3 280.4L610.3 279.9L610.3 279.3L610.2 278.8L610.3 278.2L610.2 277.6L610.3 277.1L610.3 276.5L610.2 275.9L610.3 275.4L610.2 274.8L610.2 274.2L610.2 273.7L610.2 273.1L610.2 272.6L610.3 272.0L610.2 271.4L610.3 270.9L610.3 270.3L610.3 269.8L610.3 269.2L610.2 268.6L610.3 268.1L610.3 267.5L610.2 266.9L610.2 266.4L610.3 265.8L610.2 265.2L610.2 264.7L610.2 264.1L610.3 263.6L610.2 263.0L610.2 262.4L610.3 261.9L610.2 261.3L610.2 260.8L610.2 260.2L610.2 259.6L610.3 259.1L610.2 258.5L610.3 257.9L610.3 257.4L610.2 256.8L610.2 256.2L610.2 255.7L610.2 255.1L610.3 254.6L610.2 254.0L610.3 253.4L610.2 252.9L610.2 252.3L610.3 251.8L610.2 251.2L610.2 250.6L610.3 250.1L610.2 249.5L610.2 248.9L610.3 248.4L610.2 247.8L610.2 247.2L610.2 246.7L610.3 246.1L610.2 245.6L610.3 245.0L610.2 244.4L610.3 243.9L610.2 243.3L610.2 242.8L610.2 242.2L610.2 241.6L610.2 241.1L610.2 240.5L610.2 239.9L610.2 239.4L610.2 238.8L610.2 238.2L610.3 237.7L610.2 237.1L610.2 236.6L610.2 236.0L610.2 235.4L610.2 234.9L610.2 234.3L610.3 233.8L610.2 233.2L610.3 232.6L610.3 232.1L610.3 231.5L610.2 230.9L610.3 230.4L610.3 229.8L610.2 229.2L610.3 228.7L610.3 228.1L610.3 227.6L610.3 227.0L610.3 226.4L610.4 225.9L610.5 225.3L610.6 224.8L610.6 224.2L610.8 223.6L611.0 223.1L611.1 222.5L611.4 221.9L611.8 221.4L612.1 220.8L612.5 220.2L613.4 219.7L614.3 219.1L615.0 218.6L616.2 218.0L617.5 217.4L618.6 216.9L620.5 216.3L622.4 215.8L624.7 215.2L627.0 214.6L628.2 214.1L631.8 213.5L632.8 212.9L635.7 212.4L638.7 211.8L640.5 211.2L642.5 210.7L644.9 210.1L645.4 209.6L646.6 209.0L648.3 208.4L650.8 207.9L650.0 207.3L652.5 206.8L649.3 206.2L643.5 205.6L646.2 205.1L647.6 204.5L643.4 203.9L640.8 203.4L638.2 202.8L638.3 202.2L635.4 201.7L632.6 201.1L630.0 200.6L628.4 200.0L625.7 199.4L622.5 198.9L621.6 198.3L619.6 197.8L618.0 197.2L616.9 196.6L615.5 196.1L613.9 195.5L613.8 194.9L613.0 194.4L612.2 193.8L611.7 193.2L611.3 192.7L610.9 192.1L610.7 191.6L610.5 191.0L610.4 190.4L610.2 189.9L610.1 189.3L610.1 188.8L610.0 188.2L610.0 187.6L610.0 187.1L609.9 186.5L609.9 185.9L609.9 185.4L609.9 184.8L609.9 184.2L609.9 183.7L609.9 183.1L609.9 182.6L609.9 182.0L609.9 181.4L609.9 180.9L609.9 180.3L609.9 179.8L609.9 179.2L609.9 178.6L609.9 178.1L609.9 177.5L609.9 176.9L609.9 176.4L609.9 175.8L609.9 175.2L609.9 174.7L609.9 174.1L609.9 173.6L609.9 173.0L609.9 172.4L609.9 171.9L609.9 171.3L609.9 170.8L609.9 170.2L609.9 169.6L609.9 169.1L609.9 169.1Z" fill="#c067ae" stroke="none"/>
<rect x="609.9" y="183.6" width="1.1" height="115.4" fill="#c067ae"/>
<path d="M610.1 225.2L610.2 224.6L610.4 224.0L610.5 223.4L610.8 222.8L611.1 222.1L611.4 221.5L611.9 220.9L612.5 220.3L613.2 219.7L614.1 219.1L615.2 218.5L616.4 217.9L617.9 217.3L619.6 216.7L621.4 216.0L623.5 215.4L625.7 214.8L628.1 214.2L630.6 213.6L633.2 213.0L635.8 212.4L638.4 211.8L640.8 211.2L643.1 210.6L645.1 209.9L646.8 209.3L648.1 208.7L649.1 208.1L649.5 207.5L649.5 206.9L649.1 206.3L648.1 205.7L646.8 205.1L645.1 204.5L643.1 203.8L640.8 203.2L638.4 202.6L635.8 202.0L633.2 201.4L630.6 200.8L628.1 200.2L625.7 199.6L623.5 199.0L621.4 198.4L619.6 197.7L617.9 197.1L616.4 196.5L615.2 195.9L614.1 195.3L613.2 194.7L612.5 194.1L611.9 193.5L611.4 192.9L611.1 192.3L610.8 191.6L610.5 191.0L610.4 190.4L610.2 189.8L610.1 189.2" fill="none" stroke="#231f20" stroke-width="1.15" stroke-dasharray="3.4 2.2"/>
<path d="M266.7 462.2L318.3 462.2L318.3 461.0L315.6 461.0L315.6 459.7L316.1 459.7L316.1 458.5L311.4 458.5L311.4 457.2L306.9 457.2L306.9 456.0L299.5 456.0L299.5 454.7L293.6 454.7L293.6 453.5L289.0 453.5L289.0 452.3L290.9 452.3L290.9 451.0L292.0 451.0L292.0 449.8L289.2 449.8L289.2 448.5L286.1 448.5L286.1 447.3L286.2 447.3L286.2 446.0L290.1 446.0L290.1 444.8L287.5 444.8L287.5 443.6L284.1 443.6L284.1 442.3L286.5 442.3L286.5 441.1L284.5 441.1L284.5 439.8L285.1 439.8L285.1 438.6L285.1 438.6L285.1 437.4L284.2 437.4L284.2 436.1L285.4 436.1L285.4 434.9L283.8 434.9L283.8 433.6L282.4 433.6L282.4 432.4L283.0 432.4L283.0 431.1L282.7 431.1L282.7 429.9L279.1 429.9L279.1 428.7L280.0 428.7L280.0 427.4L278.6 427.4L278.6 426.2L278.8 426.2L278.8 424.9L277.2 424.9L277.2 423.7L278.0 423.7L278.0 422.4L277.4 422.4L277.4 421.2L276.7 421.2L276.7 420.0L275.6 420.0L275.6 418.7L275.6 418.7L275.6 417.5L274.6 417.5L274.6 416.2L274.0 416.2L274.0 415.0L274.7 415.0L274.7 413.7L273.5 413.7L273.5 412.5L274.6 412.5L274.6 411.3L274.0 411.3L274.0 410.0L272.2 410.0L272.2 408.8L273.1 408.8L273.1 407.5L272.1 407.5L272.1 406.3L272.3 406.3L272.3 405.0L272.1 405.0L272.1 403.8L271.1 403.8L271.1 402.6L271.8 402.6L271.8 401.3L271.7 401.3L271.7 400.1L272.1 400.1L272.1 398.8L271.2 398.8L271.2 397.6L271.9 397.6L271.9 396.4L271.1 396.4L271.1 395.1L271.3 395.1L271.3 393.9L271.1 393.9L271.1 392.6L271.9 392.6L271.9 391.4L271.5 391.4L271.5 390.1L272.1 390.1L272.1 388.9L271.4 388.9L271.4 387.7L271.4 387.7L271.4 386.4L271.4 386.4L271.4 385.2L270.8 385.2L270.8 383.9L271.0 383.9L271.0 382.7L271.4 382.7L271.4 381.4L270.8 381.4L270.8 380.2L270.9 380.2L270.9 379.0L270.8 379.0L270.8 377.7L270.9 377.7L270.9 376.5L270.6 376.5L270.6 375.2L270.6 375.2L270.6 374.0L270.7 374.0L270.7 372.7L270.5 372.7L270.5 371.5L270.1 371.5L270.1 370.3L270.5 370.3L270.5 369.0L269.8 369.0L269.8 367.8L269.7 367.8L269.7 366.5L269.5 366.5L269.5 365.3L270.0 365.3L270.0 364.0L269.5 364.0L269.5 362.8L269.2 362.8L269.2 361.6L269.1 361.6L269.1 360.3L269.3 360.3L269.3 359.1L268.9 359.1L268.9 357.8L268.7 357.8L268.7 356.6L268.9 356.6L268.9 355.4L268.5 355.4L268.5 354.1L268.5 354.1L268.5 352.9L268.4 352.9L268.4 351.6L268.2 351.6L268.2 350.4L268.2 350.4L268.2 349.1L268.2 349.1L268.2 347.9L267.9 347.9L267.9 346.7L267.7 346.7L267.7 345.4L267.6 345.4L267.6 344.2L267.6 344.2L267.6 342.9L267.5 342.9L267.5 341.7L267.4 341.7L267.4 340.4L267.2 340.4L267.2 339.2L267.1 339.2L267.1 338.0L267.0 338.0L267.0 336.7L266.9 336.7L266.9 335.5L266.9 335.5L266.9 334.2L266.8 334.2L266.8 333.0L266.7 333.0L266.7 331.7L266.7 331.7Z" fill="#36a29e" stroke="none"/>
<path d="M266.7 625.5L301.8 625.5L301.8 624.6L305.3 624.6L305.3 623.7L289.2 623.7L289.2 622.8L296.7 622.8L296.7 622.0L298.7 622.0L298.7 621.1L293.9 621.1L293.9 620.2L286.3 620.2L286.3 619.3L282.0 619.3L282.0 618.4L274.8 618.4L274.8 617.5L274.0 617.5L274.0 616.6L272.7 616.6L272.7 615.7L270.9 615.7L270.9 614.9L270.2 614.9L270.2 614.0L271.1 614.0L271.1 613.1L270.9 613.1L270.9 612.2L272.3 612.2L272.3 611.3L272.7 611.3L272.7 610.4L273.8 610.4L273.8 609.5L273.2 609.5L273.2 608.6L275.0 608.6L275.0 607.8L273.6 607.8L273.6 606.9L274.0 606.9L274.0 606.0L275.2 606.0L275.2 605.1L275.8 605.1L275.8 604.2L274.0 604.2L274.0 603.3L274.1 603.3L274.1 602.4L276.6 602.4L276.6 601.5L275.4 601.5L275.4 600.7L278.1 600.7L278.1 599.8L277.3 599.8L277.3 598.9L277.5 598.9L277.5 598.0L277.6 598.0L277.6 597.1L278.7 597.1L278.7 596.2L277.5 596.2L277.5 595.3L279.4 595.3L279.4 594.4L277.4 594.4L277.4 593.6L278.1 593.6L278.1 592.7L277.8 592.7L277.8 591.8L280.1 591.8L280.1 590.9L279.7 590.9L279.7 590.0L278.7 590.0L278.7 589.1L283.9 589.1L283.9 588.2L280.4 588.2L280.4 587.3L281.4 587.3L281.4 586.5L283.0 586.5L283.0 585.6L286.3 585.6L286.3 584.7L283.3 584.7L283.3 583.8L285.7 583.8L285.7 582.9L285.1 582.9L285.1 582.0L282.2 582.0L282.2 581.1L288.0 581.1L288.0 580.2L289.3 580.2L289.3 579.4L286.9 579.4L286.9 578.5L288.1 578.5L288.1 577.6L284.8 577.6L284.8 576.7L285.4 576.7L285.4 575.8L289.4 575.8L289.4 574.9L293.2 574.9L293.2 574.0L290.8 574.0L290.8 573.1L294.0 573.1L294.0 572.3L297.1 572.3L297.1 571.4L295.1 571.4L295.1 570.5L297.7 570.5L297.7 569.6L301.7 569.6L301.7 568.7L292.8 568.7L292.8 567.8L301.1 567.8L301.1 566.9L291.8 566.9L291.8 566.0L301.5 566.0L301.5 565.2L301.3 565.2L301.3 564.3L298.9 564.3L298.9 563.4L297.2 563.4L297.2 562.5L302.1 562.5L302.1 561.6L301.3 561.6L301.3 560.7L303.7 560.7L303.7 559.8L299.5 559.8L299.5 558.9L306.1 558.9L306.1 558.1L299.3 558.1L299.3 557.2L302.8 557.2L302.8 556.3L302.6 556.3L302.6 555.4L309.1 555.4L309.1 554.5L296.2 554.5L296.2 553.6L300.0 553.6L300.0 552.7L305.7 552.7L305.7 551.8L297.4 551.8L297.4 551.0L294.3 551.0L294.3 550.1L299.1 550.1L299.1 549.2L295.9 549.2L295.9 548.3L298.8 548.3L298.8 547.4L291.7 547.4L291.7 546.5L294.4 546.5L294.4 545.6L294.7 545.6L294.7 544.7L294.7 544.7L294.7 543.9L287.3 543.9L287.3 543.0L293.3 543.0L293.3 542.1L286.0 542.1L286.0 541.2L283.5 541.2L283.5 540.3L283.9 540.3L283.9 539.4L285.7 539.4L285.7 538.5L283.8 538.5L283.8 537.6L284.5 537.6L284.5 536.8L283.7 536.8L283.7 535.9L282.4 535.9L282.4 535.0L280.5 535.0L280.5 534.1L283.0 534.1L283.0 533.2L275.9 533.2L275.9 532.3L276.0 532.3L276.0 531.4L276.9 531.4L276.9 530.5L275.2 530.5L275.2 529.7L273.0 529.7L273.0 528.8L274.3 528.8L274.3 527.9L273.8 527.9L273.8 527.0L271.7 527.0L271.7 526.1L273.9 526.1L273.9 525.2L273.5 525.2L273.5 524.3L272.7 524.3L272.7 523.4L271.1 523.4L271.1 522.6L270.9 522.6L270.9 521.7L269.8 521.7L269.8 520.8L269.8 520.8L269.8 519.9L269.0 519.9L269.0 519.0L268.7 519.0L268.7 518.1L268.2 518.1L268.2 517.2L268.1 517.2L268.1 516.3L267.7 516.3L267.7 515.5L267.3 515.5L267.3 514.6L267.1 514.6L267.1 513.7L267.0 513.7L267.0 512.8L267.0 512.8L267.0 511.9L266.9 511.9L266.9 511.0L266.9 511.0L266.9 510.1L266.8 510.1L266.8 509.2L266.8 509.2L266.8 508.4L266.7 508.4L266.7 507.5L266.7 507.5L266.7 506.6L266.7 506.6L266.7 505.7L266.7 505.7L266.7 504.8L266.7 504.8L266.7 503.9L266.7 503.9L266.7 503.0L266.7 503.0L266.7 502.1L266.7 502.1L266.7 501.3L266.7 501.3L266.7 500.4L266.7 500.4L266.7 499.5L266.7 499.5L266.7 498.6L266.7 498.6L266.7 497.7L266.7 497.7L266.7 496.8L266.7 496.8L266.7 495.9L266.7 495.9L266.7 495.0L266.7 495.0Z" fill="#36a29e" stroke="none"/>
<path d="M266.7 77.2H331.6" stroke="#231f20" stroke-width="1.15" stroke-dasharray="7.2 7.15" stroke-dashoffset="1"/>
<path d="M266.7 240.5H331.6" stroke="#231f20" stroke-width="1.15" stroke-dasharray="7.2 7.15" stroke-dashoffset="1"/>
<path d="M609.9 76.5H674.6" stroke="#231f20" stroke-width="1.15" stroke-dasharray="7.2 7.15" stroke-dashoffset="1"/>
<path d="M609.9 239.8H674.6" stroke="#231f20" stroke-width="1.15" stroke-dasharray="7.2 7.15" stroke-dashoffset="1"/>
<path d="M266.7 406.3H331.6" stroke="#231f20" stroke-width="1.15" stroke-dasharray="7.2 7.15" stroke-dashoffset="1"/>
<path d="M266.7 571.4H331.6" stroke="#231f20" stroke-width="1.15" stroke-dasharray="7.2 7.15" stroke-dashoffset="1"/>
<path d="M266.7 446.2H331.6" stroke="#231f20" stroke-width="1.15" stroke-dasharray="7.2 7.15" stroke-dashoffset="1"/>
<path d="M266.7 609.5H331.6" stroke="#231f20" stroke-width="1.15" stroke-dasharray="7.2 7.15" stroke-dashoffset="1"/>
<rect x="266.7" y="5.4" width="64.9" height="130.1" fill="none" stroke="#231f20" stroke-width="1.0"/>
<text x="266.7" y="147.1" font-size="10" text-anchor="middle" fill="#231f20" >0</text>
<text x="288.3" y="147.1" font-size="10" text-anchor="middle" fill="#231f20" >400</text>
<text x="310" y="147.1" font-size="10" text-anchor="middle" fill="#231f20" >800</text>
<text x="331.6" y="147.1" font-size="10" text-anchor="middle" fill="#231f20" >1200</text>
<path d="M266.7 135.5v-3M288.3 135.5v-3M310 135.5v-3M331.6 135.5v-3" stroke="#231f20" stroke-width="0.9" fill="none"/>
<text x="299.1" y="156.7" font-size="10" text-anchor="middle" fill="#231f20" textLength="52" lengthAdjust="spacingAndGlyphs" >Occurrence</text>
<rect x="609.9" y="5.4" width="64.7" height="130.1" fill="none" stroke="#231f20" stroke-width="1.0"/>
<text x="609.9" y="147.1" font-size="10" text-anchor="middle" fill="#231f20" >0</text>
<text x="631.5" y="147.1" font-size="10" text-anchor="middle" fill="#231f20" >400</text>
<text x="653" y="147.1" font-size="10" text-anchor="middle" fill="#231f20" >800</text>
<text x="674.6" y="147.1" font-size="10" text-anchor="middle" fill="#231f20" >1200</text>
<path d="M609.9 135.5v-3M631.5 135.5v-3M653 135.5v-3M674.6 135.5v-3" stroke="#231f20" stroke-width="0.9" fill="none"/>
<text x="642.2" y="156.7" font-size="10" text-anchor="middle" fill="#231f20" textLength="52" lengthAdjust="spacingAndGlyphs" >Occurrence</text>
<rect x="266.7" y="168.5" width="64.9" height="130.5" fill="none" stroke="#231f20" stroke-width="1.0"/>
<text x="266.7" y="310.6" font-size="10" text-anchor="middle" fill="#231f20" >0</text>
<text x="288.3" y="310.6" font-size="10" text-anchor="middle" fill="#231f20" >50</text>
<text x="310" y="310.6" font-size="10" text-anchor="middle" fill="#231f20" >100</text>
<text x="331.6" y="310.6" font-size="10" text-anchor="middle" fill="#231f20" >150</text>
<path d="M266.7 299v-3M288.3 299v-3M310 299v-3M331.6 299v-3" stroke="#231f20" stroke-width="0.9" fill="none"/>
<text x="299.1" y="320.2" font-size="10" text-anchor="middle" fill="#231f20" textLength="52" lengthAdjust="spacingAndGlyphs" >Occurrence</text>
<rect x="609.9" y="168.5" width="64.7" height="130.5" fill="none" stroke="#231f20" stroke-width="1.0"/>
<text x="609.9" y="310.6" font-size="10" text-anchor="middle" fill="#231f20" >0</text>
<text x="631.5" y="310.6" font-size="10" text-anchor="middle" fill="#231f20" >50</text>
<text x="653" y="310.6" font-size="10" text-anchor="middle" fill="#231f20" >100</text>
<text x="674.6" y="310.6" font-size="10" text-anchor="middle" fill="#231f20" >150</text>
<path d="M609.9 299v-3M631.5 299v-3M653 299v-3M674.6 299v-3" stroke="#231f20" stroke-width="0.9" fill="none"/>
<text x="642.2" y="320.2" font-size="10" text-anchor="middle" fill="#231f20" textLength="52" lengthAdjust="spacingAndGlyphs" >Occurrence</text>
<rect x="266.7" y="332.1" width="64.9" height="130.1" fill="none" stroke="#231f20" stroke-width="1.0"/>
<text x="266.7" y="473.8" font-size="10" text-anchor="middle" fill="#231f20" >0</text>
<text x="299.1" y="473.8" font-size="10" text-anchor="middle" fill="#231f20" >200</text>
<text x="331.6" y="473.8" font-size="10" text-anchor="middle" fill="#231f20" >400</text>
<path d="M266.7 462.2v-3M299.1 462.2v-3M331.6 462.2v-3" stroke="#231f20" stroke-width="0.9" fill="none"/>
<text x="299.1" y="483.4" font-size="10" text-anchor="middle" fill="#231f20" textLength="52" lengthAdjust="spacingAndGlyphs" >Occurrence</text>
<rect x="266.7" y="495.4" width="64.9" height="130.1" fill="none" stroke="#231f20" stroke-width="1.0"/>
<text x="266.7" y="637.1" font-size="10" text-anchor="middle" fill="#231f20" >0</text>
<text x="299.1" y="637.1" font-size="10" text-anchor="middle" fill="#231f20" >25</text>
<text x="331.6" y="637.1" font-size="10" text-anchor="middle" fill="#231f20" >50</text>
<path d="M266.7 625.5v-3M299.1 625.5v-3M331.6 625.5v-3" stroke="#231f20" stroke-width="0.9" fill="none"/>
<text x="299.1" y="646.7" font-size="10" text-anchor="middle" fill="#231f20" textLength="52" lengthAdjust="spacingAndGlyphs" >Occurrence</text>
<text x="329.6" y="74.1" font-size="10" text-anchor="end" fill="#231f20" textLength="43" lengthAdjust="spacingAndGlyphs" >94.2% ON</text>
<text x="672.9" y="74.1" font-size="10" text-anchor="end" fill="#231f20" textLength="43" lengthAdjust="spacingAndGlyphs" >94.9% ON</text>
<text x="329.7" y="238.9" font-size="10" text-anchor="end" fill="#231f20" textLength="43" lengthAdjust="spacingAndGlyphs" >98.6% ON</text>
<text x="672.9" y="238.9" font-size="10" text-anchor="end" fill="#231f20" textLength="43" lengthAdjust="spacingAndGlyphs" >96.7% ON</text>
<text x="329.7" y="403.5" font-size="10" text-anchor="end" fill="#231f20" textLength="43" lengthAdjust="spacingAndGlyphs" >16.5% ON</text>
<text x="329.7" y="443.6" font-size="10" text-anchor="end" fill="#231f20" textLength="27" lengthAdjust="spacingAndGlyphs" >47.0%</text>
<text x="329.7" y="568.8" font-size="10" text-anchor="end" fill="#231f20" textLength="43" lengthAdjust="spacingAndGlyphs" >55.4% ON</text>
<text x="329.7" y="607" font-size="10" text-anchor="end" fill="#231f20" textLength="27" lengthAdjust="spacingAndGlyphs" >90.2%</text>
<text x="299.2" y="179.5" font-size="10" text-anchor="middle" fill="#231f20"><tspan font-style="italic">Q</tspan> = 0.3</text>
<text x="642.3" y="179.5" font-size="10" text-anchor="middle" fill="#231f20"><tspan font-style="italic">Q</tspan> = 0.6</text>
<text x="299.2" y="505.4" font-size="10" text-anchor="middle" fill="#231f20"><tspan font-style="italic">Q</tspan> = 7.3</text>
<defs><linearGradient id="hg" x1="0" y1="0" x2="0" y2="1"><stop offset="0.0000" stop-color="rgb(32,32,32)"/><stop offset="0.0100" stop-color="rgb(30,30,30)"/><stop offset="0.0201" stop-color="rgb(31,31,31)"/><stop offset="0.0301" stop-color="rgb(32,32,32)"/><stop offset="0.0402" stop-color="rgb(32,32,32)"/><stop offset="0.0502" stop-color="rgb(32,32,32)"/><stop offset="0.0602" stop-color="rgb(30,30,30)"/><stop offset="0.0703" stop-color="rgb(30,30,30)"/><stop offset="0.0803" stop-color="rgb(32,32,32)"/><stop offset="0.0903" stop-color="rgb(31,31,31)"/><stop offset="0.1004" stop-color="rgb(33,33,33)"/><stop offset="0.1104" stop-color="rgb(32,32,32)"/><stop offset="0.1205" stop-color="rgb(31,31,31)"/><stop offset="0.1305" stop-color="rgb(32,32,32)"/><stop offset="0.1405" stop-color="rgb(33,33,33)"/><stop offset="0.1506" stop-color="rgb(33,33,33)"/><stop offset="0.1606" stop-color="rgb(31,31,31)"/><stop offset="0.1707" stop-color="rgb(33,33,33)"/><stop offset="0.1807" stop-color="rgb(34,34,34)"/><stop offset="0.1907" stop-color="rgb(36,36,36)"/><stop offset="0.2008" stop-color="rgb(38,38,38)"/><stop offset="0.2108" stop-color="rgb(36,36,36)"/><stop offset="0.2208" stop-color="rgb(38,38,38)"/><stop offset="0.2309" stop-color="rgb(42,42,42)"/><stop offset="0.2409" stop-color="rgb(40,40,40)"/><stop offset="0.2510" stop-color="rgb(48,48,48)"/><stop offset="0.2610" stop-color="rgb(47,47,47)"/><stop offset="0.2710" stop-color="rgb(51,51,51)"/><stop offset="0.2811" stop-color="rgb(60,60,60)"/><stop offset="0.2911" stop-color="rgb(59,59,59)"/><stop offset="0.3012" stop-color="rgb(62,62,62)"/><stop offset="0.3112" stop-color="rgb(68,68,68)"/><stop offset="0.3212" stop-color="rgb(72,72,72)"/><stop offset="0.3313" stop-color="rgb(75,75,75)"/><stop offset="0.3413" stop-color="rgb(84,84,84)"/><stop offset="0.3514" stop-color="rgb(98,98,98)"/><stop offset="0.3614" stop-color="rgb(97,97,97)"/><stop offset="0.3714" stop-color="rgb(100,100,100)"/><stop offset="0.3815" stop-color="rgb(104,104,104)"/><stop offset="0.3915" stop-color="rgb(111,111,111)"/><stop offset="0.4015" stop-color="rgb(116,116,116)"/><stop offset="0.4116" stop-color="rgb(113,113,113)"/><stop offset="0.4216" stop-color="rgb(126,126,126)"/><stop offset="0.4317" stop-color="rgb(129,129,129)"/><stop offset="0.4417" stop-color="rgb(147,147,147)"/><stop offset="0.4517" stop-color="rgb(140,140,140)"/><stop offset="0.4618" stop-color="rgb(158,158,158)"/><stop offset="0.4718" stop-color="rgb(145,145,145)"/><stop offset="0.4819" stop-color="rgb(160,160,160)"/><stop offset="0.4919" stop-color="rgb(155,155,155)"/><stop offset="0.5019" stop-color="rgb(157,157,157)"/><stop offset="0.5120" stop-color="rgb(174,174,174)"/><stop offset="0.5220" stop-color="rgb(162,162,162)"/><stop offset="0.5320" stop-color="rgb(172,172,172)"/><stop offset="0.5421" stop-color="rgb(171,171,171)"/><stop offset="0.5521" stop-color="rgb(186,186,186)"/><stop offset="0.5622" stop-color="rgb(190,190,190)"/><stop offset="0.5722" stop-color="rgb(173,173,173)"/><stop offset="0.5822" stop-color="rgb(207,207,207)"/><stop offset="0.5923" stop-color="rgb(200,200,200)"/><stop offset="0.6023" stop-color="rgb(235,235,235)"/><stop offset="0.6124" stop-color="rgb(229,229,229)"/><stop offset="0.6224" stop-color="rgb(236,236,236)"/><stop offset="0.6324" stop-color="rgb(201,201,201)"/><stop offset="0.6425" stop-color="rgb(240,240,240)"/><stop offset="0.6525" stop-color="rgb(215,215,215)"/><stop offset="0.6625" stop-color="rgb(194,194,194)"/><stop offset="0.6726" stop-color="rgb(200,200,200)"/><stop offset="0.6826" stop-color="rgb(199,199,199)"/><stop offset="0.6927" stop-color="rgb(164,164,164)"/><stop offset="0.7027" stop-color="rgb(180,180,180)"/><stop offset="0.7127" stop-color="rgb(162,162,162)"/><stop offset="0.7228" stop-color="rgb(153,153,153)"/><stop offset="0.7328" stop-color="rgb(147,147,147)"/><stop offset="0.7429" stop-color="rgb(136,136,136)"/><stop offset="0.7529" stop-color="rgb(133,133,133)"/><stop offset="0.7629" stop-color="rgb(124,124,124)"/><stop offset="0.7730" stop-color="rgb(119,119,119)"/><stop offset="0.7830" stop-color="rgb(110,110,110)"/><stop offset="0.7931" stop-color="rgb(92,92,92)"/><stop offset="0.8031" stop-color="rgb(87,87,87)"/><stop offset="0.8131" stop-color="rgb(67,67,67)"/><stop offset="0.8232" stop-color="rgb(61,61,61)"/><stop offset="0.8332" stop-color="rgb(46,46,46)"/><stop offset="0.8432" stop-color="rgb(41,41,41)"/><stop offset="0.8533" stop-color="rgb(37,37,37)"/><stop offset="0.8633" stop-color="rgb(28,28,28)"/><stop offset="0.8734" stop-color="rgb(25,25,25)"/><stop offset="0.8834" stop-color="rgb(21,21,21)"/><stop offset="0.8934" stop-color="rgb(20,20,20)"/><stop offset="0.9035" stop-color="rgb(19,19,19)"/><stop offset="0.9135" stop-color="rgb(18,18,18)"/><stop offset="0.9236" stop-color="rgb(14,14,14)"/><stop offset="0.9336" stop-color="rgb(16,16,16)"/><stop offset="0.9436" stop-color="rgb(14,14,14)"/><stop offset="0.9537" stop-color="rgb(15,15,15)"/><stop offset="0.9637" stop-color="rgb(13,13,13)"/><stop offset="0.9737" stop-color="rgb(13,13,13)"/><stop offset="0.9838" stop-color="rgb(13,13,13)"/><stop offset="0.9938" stop-color="rgb(12,12,12)"/></linearGradient>
<filter id="hf" x="0" y="0" width="1" height="1" color-interpolation-filters="sRGB">
<feTurbulence type="fractalNoise" baseFrequency="0.55 0.7" numOctaves="2" seed="4" result="n"/>
<feColorMatrix in="n" type="matrix" values="1 0 0 0 0 1 0 0 0 0 1 0 0 0 0 0 0 0 0 1" result="ng"/>
<feComposite in="SourceGraphic" in2="ng" operator="arithmetic" k1="0.55" k2="0.725" k3="0" k4="0" result="m"/>
<feComponentTransfer in="m"><feFuncR type="table" tableValues="0.047 0.073 0.098 0.124 0.149 0.178 0.208 0.237 0.267 0.303 0.339 0.375 0.412 0.446 0.480 0.515 0.549 0.598 0.647 0.696 0.745 0.779 0.814 0.848 0.882 0.901 0.919 0.938 0.946 0.952 0.958 0.963 0.967 0.970 0.974 0.976 0.978 0.981 0.983 0.986 0.988"/><feFuncG type="table" tableValues="0.020 0.025 0.031 0.039 0.047 0.053 0.059 0.065 0.071 0.073 0.075 0.076 0.078 0.078 0.078 0.078 0.078 0.083 0.088 0.093 0.098 0.103 0.108 0.113 0.118 0.142 0.167 0.191 0.225 0.262 0.299 0.336 0.373 0.409 0.441 0.466 0.490 0.518 0.561 0.604 0.647"/><feFuncB type="table" tableValues="0.020 0.025 0.031 0.039 0.047 0.053 0.059 0.065 0.071 0.070 0.069 0.068 0.067 0.065 0.063 0.061 0.059 0.056 0.053 0.050 0.047 0.045 0.043 0.041 0.039 0.042 0.044 0.047 0.055 0.065 0.075 0.082 0.088 0.094 0.100 0.107 0.113 0.121 0.140 0.158 0.176"/><feFuncA type="discrete" tableValues="1"/></feComponentTransfer>
</filter>
<linearGradient id="cb" x1="0" y1="1" x2="0" y2="0"><stop offset="0" stop-color="#000"/><stop offset="0.45" stop-color="#e00"/><stop offset="0.55" stop-color="#ff1a00"/><stop offset="0.75" stop-color="#ff8c00"/><stop offset="1" stop-color="#ffff10"/></linearGradient></defs>
<rect x="375.8" y="332.4" width="129.8" height="129.5" fill="url(#hg)" filter="url(#hf)"/>
<rect x="485.3" y="337.3" width="4.6" height="37.1" fill="url(#cb)" stroke="#fff" stroke-width="0.8"/>
<path d="M489.9 337.3h2.2M489.9 349.7h2.2M489.9 362h2.2M489.9 374.4h2.2" stroke="#fff" stroke-width="0.8"/>
<text x="492.8" y="343" font-size="10" text-anchor="start" fill="#fff" textLength="10.5" lengthAdjust="spacingAndGlyphs" >30</text>
<text x="492.8" y="377.4" font-size="10" text-anchor="start" fill="#fff" >0</text>
<text transform="translate(470.6,355.2) rotate(-90)" font-size="10" text-anchor="middle" fill="#fff" textLength="37" lengthAdjust="spacingAndGlyphs">Intensity</text>
<text transform="translate(481.5,355.5) rotate(-90)" font-size="10" text-anchor="middle" fill="#fff" textLength="26.5" lengthAdjust="spacingAndGlyphs">(kcps)</text>
<text x="381" y="345" font-size="10" text-anchor="start" fill="#fff" textLength="56" lengthAdjust="spacingAndGlyphs" >PEA-covered</text>
<text x="381" y="358.3" font-size="10" fill="#fff" textLength="50.5" lengthAdjust="spacingAndGlyphs">CsPbBr<tspan font-size="7" dy="2">3</tspan><tspan dy="-2"> QD</tspan></text>
<text x="375.8" y="473.5" font-size="10" text-anchor="middle" fill="#231f20" >0</text>
<text x="408.2" y="473.5" font-size="10" text-anchor="middle" fill="#231f20" >30</text>
<text x="440.7" y="473.5" font-size="10" text-anchor="middle" fill="#231f20" >60</text>
<text x="473.2" y="473.5" font-size="10" text-anchor="middle" fill="#231f20" >90</text>
<text x="505.6" y="473.5" font-size="10" text-anchor="middle" fill="#231f20" >120</text>
<text x="373.6" y="453" font-size="10" text-anchor="end" fill="#231f20" >470</text>
<text x="373.6" y="426.9" font-size="10" text-anchor="end" fill="#231f20" >480</text>
<text x="373.6" y="400.9" font-size="10" text-anchor="end" fill="#231f20" >490</text>
<text x="373.6" y="374.8" font-size="10" text-anchor="end" fill="#231f20" >500</text>
<text x="373.6" y="348.8" font-size="10" text-anchor="end" fill="#231f20" >510</text>
<path d="M408.2 461.9v-3M440.7 461.9v-3M473.2 461.9v-3M375.8 449.4h3M375.8 423.3h3M375.8 397.3h3M375.8 371.2h3M375.8 345.2h3" stroke="#eee" stroke-width="0.9"/>
<text transform="translate(355.5,396.9) rotate(-90)" font-size="10" text-anchor="middle" fill="#231f20" textLength="74" lengthAdjust="spacingAndGlyphs">Wavelength (nm)</text>
<text x="440.7" y="483.3" font-size="10" text-anchor="middle" fill="#231f20" textLength="34.5" lengthAdjust="spacingAndGlyphs" >Time (s)</text>
<path d="M541.4 352.2a2.85 2.85 0 1 0 5.7 0a2.85 2.85 0 1 0 -5.7 0M541.6 357.5a2.85 2.85 0 1 0 5.7 0a2.85 2.85 0 1 0 -5.7 0M541.8 363.6a2.85 2.85 0 1 0 5.7 0a2.85 2.85 0 1 0 -5.7 0M541.9 368.7a2.85 2.85 0 1 0 5.7 0a2.85 2.85 0 1 0 -5.7 0M542.1 373.1a2.85 2.85 0 1 0 5.7 0a2.85 2.85 0 1 0 -5.7 0M542.2 359.7a2.85 2.85 0 1 0 5.7 0a2.85 2.85 0 1 0 -5.7 0M542.4 365.5a2.85 2.85 0 1 0 5.7 0a2.85 2.85 0 1 0 -5.7 0M542.6 366.0a2.85 2.85 0 1 0 5.7 0a2.85 2.85 0 1 0 -5.7 0M542.7 361.4a2.85 2.85 0 1 0 5.7 0a2.85 2.85 0 1 0 -5.7 0M542.9 360.2a2.85 2.85 0 1 0 5.7 0a2.85 2.85 0 1 0 -5.7 0M543.1 375.8a2.85 2.85 0 1 0 5.7 0a2.85 2.85 0 1 0 -5.7 0M543.2 353.4a2.85 2.85 0 1 0 5.7 0a2.85 2.85 0 1 0 -5.7 0M543.4 374.0a2.85 2.85 0 1 0 5.7 0a2.85 2.85 0 1 0 -5.7 0M543.6 346.8a2.85 2.85 0 1 0 5.7 0a2.85 2.85 0 1 0 -5.7 0M543.7 355.7a2.85 2.85 0 1 0 5.7 0a2.85 2.85 0 1 0 -5.7 0M543.9 363.2a2.85 2.85 0 1 0 5.7 0a2.85 2.85 0 1 0 -5.7 0M544.0 350.5a2.85 2.85 0 1 0 5.7 0a2.85 2.85 0 1 0 -5.7 0M544.2 359.7a2.85 2.85 0 1 0 5.7 0a2.85 2.85 0 1 0 -5.7 0M544.4 355.0a2.85 2.85 0 1 0 5.7 0a2.85 2.85 0 1 0 -5.7 0M544.5 359.1a2.85 2.85 0 1 0 5.7 0a2.85 2.85 0 1 0 -5.7 0M544.7 352.2a2.85 2.85 0 1 0 5.7 0a2.85 2.85 0 1 0 -5.7 0M545.0 366.2a2.85 2.85 0 1 0 5.7 0a2.85 2.85 0 1 0 -5.7 0M545.2 364.1a2.85 2.85 0 1 0 5.7 0a2.85 2.85 0 1 0 -5.7 0M545.3 345.7a2.85 2.85 0 1 0 5.7 0a2.85 2.85 0 1 0 -5.7 0M545.5 361.3a2.85 2.85 0 1 0 5.7 0a2.85 2.85 0 1 0 -5.7 0M545.7 375.8a2.85 2.85 0 1 0 5.7 0a2.85 2.85 0 1 0 -5.7 0M545.8 345.7a2.85 2.85 0 1 0 5.7 0a2.85 2.85 0 1 0 -5.7 0M546.0 375.1a2.85 2.85 0 1 0 5.7 0a2.85 2.85 0 1 0 -5.7 0M546.2 374.4a2.85 2.85 0 1 0 5.7 0a2.85 2.85 0 1 0 -5.7 0M546.3 368.8a2.85 2.85 0 1 0 5.7 0a2.85 2.85 0 1 0 -5.7 0M546.5 355.9a2.85 2.85 0 1 0 5.7 0a2.85 2.85 0 1 0 -5.7 0M546.7 347.3a2.85 2.85 0 1 0 5.7 0a2.85 2.85 0 1 0 -5.7 0M546.8 361.5a2.85 2.85 0 1 0 5.7 0a2.85 2.85 0 1 0 -5.7 0M547.0 347.4a2.85 2.85 0 1 0 5.7 0a2.85 2.85 0 1 0 -5.7 0M547.1 358.6a2.85 2.85 0 1 0 5.7 0a2.85 2.85 0 1 0 -5.7 0M547.3 362.4a2.85 2.85 0 1 0 5.7 0a2.85 2.85 0 1 0 -5.7 0M547.5 359.3a2.85 2.85 0 1 0 5.7 0a2.85 2.85 0 1 0 -5.7 0M547.6 367.8a2.85 2.85 0 1 0 5.7 0a2.85 2.85 0 1 0 -5.7 0M547.8 356.8a2.85 2.85 0 1 0 5.7 0a2.85 2.85 0 1 0 -5.7 0M548.0 357.1a2.85 2.85 0 1 0 5.7 0a2.85 2.85 0 1 0 -5.7 0M548.1 376.9a2.85 2.85 0 1 0 5.7 0a2.85 2.85 0 1 0 -5.7 0M548.3 360.6a2.85 2.85 0 1 0 5.7 0a2.85 2.85 0 1 0 -5.7 0M548.5 358.7a2.85 2.85 0 1 0 5.7 0a2.85 2.85 0 1 0 -5.7 0M548.6 355.9a2.85 2.85 0 1 0 5.7 0a2.85 2.85 0 1 0 -5.7 0M548.8 365.6a2.85 2.85 0 1 0 5.7 0a2.85 2.85 0 1 0 -5.7 0M548.9 369.1a2.85 2.85 0 1 0 5.7 0a2.85 2.85 0 1 0 -5.7 0M549.1 366.5a2.85 2.85 0 1 0 5.7 0a2.85 2.85 0 1 0 -5.7 0M549.3 356.0a2.85 2.85 0 1 0 5.7 0a2.85 2.85 0 1 0 -5.7 0M549.4 365.8a2.85 2.85 0 1 0 5.7 0a2.85 2.85 0 1 0 -5.7 0M549.6 365.2a2.85 2.85 0 1 0 5.7 0a2.85 2.85 0 1 0 -5.7 0M549.8 351.9a2.85 2.85 0 1 0 5.7 0a2.85 2.85 0 1 0 -5.7 0M550.1 366.1a2.85 2.85 0 1 0 5.7 0a2.85 2.85 0 1 0 -5.7 0M550.2 360.5a2.85 2.85 0 1 0 5.7 0a2.85 2.85 0 1 0 -5.7 0M550.4 358.5a2.85 2.85 0 1 0 5.7 0a2.85 2.85 0 1 0 -5.7 0M550.6 352.6a2.85 2.85 0 1 0 5.7 0a2.85 2.85 0 1 0 -5.7 0M550.7 366.0a2.85 2.85 0 1 0 5.7 0a2.85 2.85 0 1 0 -5.7 0M550.9 370.8a2.85 2.85 0 1 0 5.7 0a2.85 2.85 0 1 0 -5.7 0M551.1 360.7a2.85 2.85 0 1 0 5.7 0a2.85 2.85 0 1 0 -5.7 0M551.2 355.4a2.85 2.85 0 1 0 5.7 0a2.85 2.85 0 1 0 -5.7 0M551.4 370.2a2.85 2.85 0 1 0 5.7 0a2.85 2.85 0 1 0 -5.7 0M551.6 363.3a2.85 2.85 0 1 0 5.7 0a2.85 2.85 0 1 0 -5.7 0M551.7 357.7a2.85 2.85 0 1 0 5.7 0a2.85 2.85 0 1 0 -5.7 0M551.9 358.2a2.85 2.85 0 1 0 5.7 0a2.85 2.85 0 1 0 -5.7 0M552.0 359.3a2.85 2.85 0 1 0 5.7 0a2.85 2.85 0 1 0 -5.7 0M552.2 361.7a2.85 2.85 0 1 0 5.7 0a2.85 2.85 0 1 0 -5.7 0M552.4 365.4a2.85 2.85 0 1 0 5.7 0a2.85 2.85 0 1 0 -5.7 0M552.5 366.3a2.85 2.85 0 1 0 5.7 0a2.85 2.85 0 1 0 -5.7 0M552.7 351.8a2.85 2.85 0 1 0 5.7 0a2.85 2.85 0 1 0 -5.7 0M552.9 367.7a2.85 2.85 0 1 0 5.7 0a2.85 2.85 0 1 0 -5.7 0M553.0 351.3a2.85 2.85 0 1 0 5.7 0a2.85 2.85 0 1 0 -5.7 0M553.2 369.1a2.85 2.85 0 1 0 5.7 0a2.85 2.85 0 1 0 -5.7 0M553.3 339.5a2.85 2.85 0 1 0 5.7 0a2.85 2.85 0 1 0 -5.7 0M553.5 372.0a2.85 2.85 0 1 0 5.7 0a2.85 2.85 0 1 0 -5.7 0M553.7 348.6a2.85 2.85 0 1 0 5.7 0a2.85 2.85 0 1 0 -5.7 0M553.8 366.1a2.85 2.85 0 1 0 5.7 0a2.85 2.85 0 1 0 -5.7 0M554.0 360.7a2.85 2.85 0 1 0 5.7 0a2.85 2.85 0 1 0 -5.7 0M554.2 360.3a2.85 2.85 0 1 0 5.7 0a2.85 2.85 0 1 0 -5.7 0M554.3 364.4a2.85 2.85 0 1 0 5.7 0a2.85 2.85 0 1 0 -5.7 0M554.5 344.3a2.85 2.85 0 1 0 5.7 0a2.85 2.85 0 1 0 -5.7 0M554.7 359.2a2.85 2.85 0 1 0 5.7 0a2.85 2.85 0 1 0 -5.7 0M554.8 369.1a2.85 2.85 0 1 0 5.7 0a2.85 2.85 0 1 0 -5.7 0M555.0 355.3a2.85 2.85 0 1 0 5.7 0a2.85 2.85 0 1 0 -5.7 0M555.1 354.9a2.85 2.85 0 1 0 5.7 0a2.85 2.85 0 1 0 -5.7 0M555.3 367.9a2.85 2.85 0 1 0 5.7 0a2.85 2.85 0 1 0 -5.7 0M555.5 356.1a2.85 2.85 0 1 0 5.7 0a2.85 2.85 0 1 0 -5.7 0M555.6 359.4a2.85 2.85 0 1 0 5.7 0a2.85 2.85 0 1 0 -5.7 0M555.8 354.1a2.85 2.85 0 1 0 5.7 0a2.85 2.85 0 1 0 -5.7 0M556.0 354.9a2.85 2.85 0 1 0 5.7 0a2.85 2.85 0 1 0 -5.7 0M556.1 359.9a2.85 2.85 0 1 0 5.7 0a2.85 2.85 0 1 0 -5.7 0M556.3 362.7a2.85 2.85 0 1 0 5.7 0a2.85 2.85 0 1 0 -5.7 0M556.5 353.5a2.85 2.85 0 1 0 5.7 0a2.85 2.85 0 1 0 -5.7 0M556.6 337.8a2.85 2.85 0 1 0 5.7 0a2.85 2.85 0 1 0 -5.7 0M556.8 370.3a2.85 2.85 0 1 0 5.7 0a2.85 2.85 0 1 0 -5.7 0M556.9 363.7a2.85 2.85 0 1 0 5.7 0a2.85 2.85 0 1 0 -5.7 0M557.1 363.2a2.85 2.85 0 1 0 5.7 0a2.85 2.85 0 1 0 -5.7 0M557.3 361.7a2.85 2.85 0 1 0 5.7 0a2.85 2.85 0 1 0 -5.7 0M557.4 343.9a2.85 2.85 0 1 0 5.7 0a2.85 2.85 0 1 0 -5.7 0M557.6 362.5a2.85 2.85 0 1 0 5.7 0a2.85 2.85 0 1 0 -5.7 0M557.8 356.5a2.85 2.85 0 1 0 5.7 0a2.85 2.85 0 1 0 -5.7 0M557.9 348.3a2.85 2.85 0 1 0 5.7 0a2.85 2.85 0 1 0 -5.7 0M558.1 356.3a2.85 2.85 0 1 0 5.7 0a2.85 2.85 0 1 0 -5.7 0M558.2 356.8a2.85 2.85 0 1 0 5.7 0a2.85 2.85 0 1 0 -5.7 0M558.4 350.8a2.85 2.85 0 1 0 5.7 0a2.85 2.85 0 1 0 -5.7 0M558.6 358.5a2.85 2.85 0 1 0 5.7 0a2.85 2.85 0 1 0 -5.7 0M558.9 355.0a2.85 2.85 0 1 0 5.7 0a2.85 2.85 0 1 0 -5.7 0M559.1 357.0a2.85 2.85 0 1 0 5.7 0a2.85 2.85 0 1 0 -5.7 0M559.2 364.6a2.85 2.85 0 1 0 5.7 0a2.85 2.85 0 1 0 -5.7 0M559.4 368.0a2.85 2.85 0 1 0 5.7 0a2.85 2.85 0 1 0 -5.7 0M559.6 360.6a2.85 2.85 0 1 0 5.7 0a2.85 2.85 0 1 0 -5.7 0M559.7 350.1a2.85 2.85 0 1 0 5.7 0a2.85 2.85 0 1 0 -5.7 0M559.9 361.4a2.85 2.85 0 1 0 5.7 0a2.85 2.85 0 1 0 -5.7 0M560.0 351.8a2.85 2.85 0 1 0 5.7 0a2.85 2.85 0 1 0 -5.7 0M560.2 357.0a2.85 2.85 0 1 0 5.7 0a2.85 2.85 0 1 0 -5.7 0M560.4 362.0a2.85 2.85 0 1 0 5.7 0a2.85 2.85 0 1 0 -5.7 0M560.5 378.3a2.85 2.85 0 1 0 5.7 0a2.85 2.85 0 1 0 -5.7 0M560.7 358.3a2.85 2.85 0 1 0 5.7 0a2.85 2.85 0 1 0 -5.7 0M560.9 361.8a2.85 2.85 0 1 0 5.7 0a2.85 2.85 0 1 0 -5.7 0M561.0 371.1a2.85 2.85 0 1 0 5.7 0a2.85 2.85 0 1 0 -5.7 0M561.2 356.3a2.85 2.85 0 1 0 5.7 0a2.85 2.85 0 1 0 -5.7 0M561.3 360.0a2.85 2.85 0 1 0 5.7 0a2.85 2.85 0 1 0 -5.7 0M561.5 357.2a2.85 2.85 0 1 0 5.7 0a2.85 2.85 0 1 0 -5.7 0M561.7 364.1a2.85 2.85 0 1 0 5.7 0a2.85 2.85 0 1 0 -5.7 0M561.8 358.4a2.85 2.85 0 1 0 5.7 0a2.85 2.85 0 1 0 -5.7 0M562.0 363.2a2.85 2.85 0 1 0 5.7 0a2.85 2.85 0 1 0 -5.7 0M562.2 352.4a2.85 2.85 0 1 0 5.7 0a2.85 2.85 0 1 0 -5.7 0M562.3 359.0a2.85 2.85 0 1 0 5.7 0a2.85 2.85 0 1 0 -5.7 0M562.5 369.7a2.85 2.85 0 1 0 5.7 0a2.85 2.85 0 1 0 -5.7 0M562.7 358.4a2.85 2.85 0 1 0 5.7 0a2.85 2.85 0 1 0 -5.7 0M562.8 359.4a2.85 2.85 0 1 0 5.7 0a2.85 2.85 0 1 0 -5.7 0M563.0 361.3a2.85 2.85 0 1 0 5.7 0a2.85 2.85 0 1 0 -5.7 0M563.1 369.3a2.85 2.85 0 1 0 5.7 0a2.85 2.85 0 1 0 -5.7 0M563.3 352.4a2.85 2.85 0 1 0 5.7 0a2.85 2.85 0 1 0 -5.7 0M563.5 365.0a2.85 2.85 0 1 0 5.7 0a2.85 2.85 0 1 0 -5.7 0M563.6 348.8a2.85 2.85 0 1 0 5.7 0a2.85 2.85 0 1 0 -5.7 0M563.8 364.5a2.85 2.85 0 1 0 5.7 0a2.85 2.85 0 1 0 -5.7 0M564.0 359.6a2.85 2.85 0 1 0 5.7 0a2.85 2.85 0 1 0 -5.7 0M564.1 360.2a2.85 2.85 0 1 0 5.7 0a2.85 2.85 0 1 0 -5.7 0M564.3 358.8a2.85 2.85 0 1 0 5.7 0a2.85 2.85 0 1 0 -5.7 0M564.4 341.4a2.85 2.85 0 1 0 5.7 0a2.85 2.85 0 1 0 -5.7 0M564.6 363.3a2.85 2.85 0 1 0 5.7 0a2.85 2.85 0 1 0 -5.7 0M564.8 345.4a2.85 2.85 0 1 0 5.7 0a2.85 2.85 0 1 0 -5.7 0M564.9 355.5a2.85 2.85 0 1 0 5.7 0a2.85 2.85 0 1 0 -5.7 0M565.1 364.7a2.85 2.85 0 1 0 5.7 0a2.85 2.85 0 1 0 -5.7 0M565.3 351.1a2.85 2.85 0 1 0 5.7 0a2.85 2.85 0 1 0 -5.7 0M565.4 354.0a2.85 2.85 0 1 0 5.7 0a2.85 2.85 0 1 0 -5.7 0M565.6 353.2a2.85 2.85 0 1 0 5.7 0a2.85 2.85 0 1 0 -5.7 0M565.8 369.2a2.85 2.85 0 1 0 5.7 0a2.85 2.85 0 1 0 -5.7 0M565.9 356.3a2.85 2.85 0 1 0 5.7 0a2.85 2.85 0 1 0 -5.7 0M566.1 362.7a2.85 2.85 0 1 0 5.7 0a2.85 2.85 0 1 0 -5.7 0M566.2 360.8a2.85 2.85 0 1 0 5.7 0a2.85 2.85 0 1 0 -5.7 0M566.6 359.6a2.85 2.85 0 1 0 5.7 0a2.85 2.85 0 1 0 -5.7 0M566.7 348.7a2.85 2.85 0 1 0 5.7 0a2.85 2.85 0 1 0 -5.7 0M566.9 357.2a2.85 2.85 0 1 0 5.7 0a2.85 2.85 0 1 0 -5.7 0M567.1 372.8a2.85 2.85 0 1 0 5.7 0a2.85 2.85 0 1 0 -5.7 0M567.2 351.1a2.85 2.85 0 1 0 5.7 0a2.85 2.85 0 1 0 -5.7 0M567.4 359.2a2.85 2.85 0 1 0 5.7 0a2.85 2.85 0 1 0 -5.7 0M567.6 358.9a2.85 2.85 0 1 0 5.7 0a2.85 2.85 0 1 0 -5.7 0M567.7 372.6a2.85 2.85 0 1 0 5.7 0a2.85 2.85 0 1 0 -5.7 0M567.9 357.1a2.85 2.85 0 1 0 5.7 0a2.85 2.85 0 1 0 -5.7 0M568.0 363.3a2.85 2.85 0 1 0 5.7 0a2.85 2.85 0 1 0 -5.7 0M568.2 353.2a2.85 2.85 0 1 0 5.7 0a2.85 2.85 0 1 0 -5.7 0M568.4 356.7a2.85 2.85 0 1 0 5.7 0a2.85 2.85 0 1 0 -5.7 0M568.5 354.1a2.85 2.85 0 1 0 5.7 0a2.85 2.85 0 1 0 -5.7 0M568.7 362.5a2.85 2.85 0 1 0 5.7 0a2.85 2.85 0 1 0 -5.7 0M568.9 372.7a2.85 2.85 0 1 0 5.7 0a2.85 2.85 0 1 0 -5.7 0M569.0 353.1a2.85 2.85 0 1 0 5.7 0a2.85 2.85 0 1 0 -5.7 0M569.2 356.9a2.85 2.85 0 1 0 5.7 0a2.85 2.85 0 1 0 -5.7 0M569.3 362.2a2.85 2.85 0 1 0 5.7 0a2.85 2.85 0 1 0 -5.7 0M569.5 363.8a2.85 2.85 0 1 0 5.7 0a2.85 2.85 0 1 0 -5.7 0M569.7 366.0a2.85 2.85 0 1 0 5.7 0a2.85 2.85 0 1 0 -5.7 0M569.8 372.2a2.85 2.85 0 1 0 5.7 0a2.85 2.85 0 1 0 -5.7 0M570.0 368.1a2.85 2.85 0 1 0 5.7 0a2.85 2.85 0 1 0 -5.7 0M570.2 360.3a2.85 2.85 0 1 0 5.7 0a2.85 2.85 0 1 0 -5.7 0M570.3 348.6a2.85 2.85 0 1 0 5.7 0a2.85 2.85 0 1 0 -5.7 0M570.5 356.7a2.85 2.85 0 1 0 5.7 0a2.85 2.85 0 1 0 -5.7 0M570.8 366.9a2.85 2.85 0 1 0 5.7 0a2.85 2.85 0 1 0 -5.7 0M571.0 351.1a2.85 2.85 0 1 0 5.7 0a2.85 2.85 0 1 0 -5.7 0M571.1 362.8a2.85 2.85 0 1 0 5.7 0a2.85 2.85 0 1 0 -5.7 0M571.3 349.6a2.85 2.85 0 1 0 5.7 0a2.85 2.85 0 1 0 -5.7 0M571.5 351.3a2.85 2.85 0 1 0 5.7 0a2.85 2.85 0 1 0 -5.7 0M571.6 359.6a2.85 2.85 0 1 0 5.7 0a2.85 2.85 0 1 0 -5.7 0M571.8 358.9a2.85 2.85 0 1 0 5.7 0a2.85 2.85 0 1 0 -5.7 0M572.0 351.3a2.85 2.85 0 1 0 5.7 0a2.85 2.85 0 1 0 -5.7 0M572.1 365.4a2.85 2.85 0 1 0 5.7 0a2.85 2.85 0 1 0 -5.7 0M572.3 375.0a2.85 2.85 0 1 0 5.7 0a2.85 2.85 0 1 0 -5.7 0M572.4 354.1a2.85 2.85 0 1 0 5.7 0a2.85 2.85 0 1 0 -5.7 0M572.6 344.6a2.85 2.85 0 1 0 5.7 0a2.85 2.85 0 1 0 -5.7 0M572.8 373.1a2.85 2.85 0 1 0 5.7 0a2.85 2.85 0 1 0 -5.7 0M572.9 358.4a2.85 2.85 0 1 0 5.7 0a2.85 2.85 0 1 0 -5.7 0M573.1 368.1a2.85 2.85 0 1 0 5.7 0a2.85 2.85 0 1 0 -5.7 0M573.3 361.9a2.85 2.85 0 1 0 5.7 0a2.85 2.85 0 1 0 -5.7 0M573.4 366.9a2.85 2.85 0 1 0 5.7 0a2.85 2.85 0 1 0 -5.7 0M573.6 353.7a2.85 2.85 0 1 0 5.7 0a2.85 2.85 0 1 0 -5.7 0M573.8 363.7a2.85 2.85 0 1 0 5.7 0a2.85 2.85 0 1 0 -5.7 0M573.9 361.2a2.85 2.85 0 1 0 5.7 0a2.85 2.85 0 1 0 -5.7 0M574.1 367.4a2.85 2.85 0 1 0 5.7 0a2.85 2.85 0 1 0 -5.7 0M574.2 354.7a2.85 2.85 0 1 0 5.7 0a2.85 2.85 0 1 0 -5.7 0M574.4 363.4a2.85 2.85 0 1 0 5.7 0a2.85 2.85 0 1 0 -5.7 0M574.6 362.5a2.85 2.85 0 1 0 5.7 0a2.85 2.85 0 1 0 -5.7 0M574.7 360.4a2.85 2.85 0 1 0 5.7 0a2.85 2.85 0 1 0 -5.7 0M574.9 370.0a2.85 2.85 0 1 0 5.7 0a2.85 2.85 0 1 0 -5.7 0M575.1 360.0a2.85 2.85 0 1 0 5.7 0a2.85 2.85 0 1 0 -5.7 0M575.2 371.1a2.85 2.85 0 1 0 5.7 0a2.85 2.85 0 1 0 -5.7 0M575.4 361.4a2.85 2.85 0 1 0 5.7 0a2.85 2.85 0 1 0 -5.7 0M575.7 362.7a2.85 2.85 0 1 0 5.7 0a2.85 2.85 0 1 0 -5.7 0M575.9 361.3a2.85 2.85 0 1 0 5.7 0a2.85 2.85 0 1 0 -5.7 0M576.0 364.6a2.85 2.85 0 1 0 5.7 0a2.85 2.85 0 1 0 -5.7 0M576.2 356.3a2.85 2.85 0 1 0 5.7 0a2.85 2.85 0 1 0 -5.7 0M576.4 359.9a2.85 2.85 0 1 0 5.7 0a2.85 2.85 0 1 0 -5.7 0M576.5 363.2a2.85 2.85 0 1 0 5.7 0a2.85 2.85 0 1 0 -5.7 0M576.7 361.5a2.85 2.85 0 1 0 5.7 0a2.85 2.85 0 1 0 -5.7 0M576.9 364.6a2.85 2.85 0 1 0 5.7 0a2.85 2.85 0 1 0 -5.7 0M577.0 360.7a2.85 2.85 0 1 0 5.7 0a2.85 2.85 0 1 0 -5.7 0M577.2 362.0a2.85 2.85 0 1 0 5.7 0a2.85 2.85 0 1 0 -5.7 0M577.3 372.5a2.85 2.85 0 1 0 5.7 0a2.85 2.85 0 1 0 -5.7 0M577.5 348.3a2.85 2.85 0 1 0 5.7 0a2.85 2.85 0 1 0 -5.7 0M577.7 363.0a2.85 2.85 0 1 0 5.7 0a2.85 2.85 0 1 0 -5.7 0M577.8 364.6a2.85 2.85 0 1 0 5.7 0a2.85 2.85 0 1 0 -5.7 0M578.0 357.8a2.85 2.85 0 1 0 5.7 0a2.85 2.85 0 1 0 -5.7 0M578.2 374.5a2.85 2.85 0 1 0 5.7 0a2.85 2.85 0 1 0 -5.7 0M578.3 362.6a2.85 2.85 0 1 0 5.7 0a2.85 2.85 0 1 0 -5.7 0M578.5 357.7a2.85 2.85 0 1 0 5.7 0a2.85 2.85 0 1 0 -5.7 0M578.7 361.7a2.85 2.85 0 1 0 5.7 0a2.85 2.85 0 1 0 -5.7 0M578.8 359.4a2.85 2.85 0 1 0 5.7 0a2.85 2.85 0 1 0 -5.7 0M579.0 363.0a2.85 2.85 0 1 0 5.7 0a2.85 2.85 0 1 0 -5.7 0M579.1 362.4a2.85 2.85 0 1 0 5.7 0a2.85 2.85 0 1 0 -5.7 0M579.3 360.1a2.85 2.85 0 1 0 5.7 0a2.85 2.85 0 1 0 -5.7 0M579.5 358.8a2.85 2.85 0 1 0 5.7 0a2.85 2.85 0 1 0 -5.7 0M579.6 367.5a2.85 2.85 0 1 0 5.7 0a2.85 2.85 0 1 0 -5.7 0M579.8 357.9a2.85 2.85 0 1 0 5.7 0a2.85 2.85 0 1 0 -5.7 0M580.1 364.2a2.85 2.85 0 1 0 5.7 0a2.85 2.85 0 1 0 -5.7 0M580.3 363.9a2.85 2.85 0 1 0 5.7 0a2.85 2.85 0 1 0 -5.7 0M580.4 359.0a2.85 2.85 0 1 0 5.7 0a2.85 2.85 0 1 0 -5.7 0M580.6 351.7a2.85 2.85 0 1 0 5.7 0a2.85 2.85 0 1 0 -5.7 0M580.8 352.2a2.85 2.85 0 1 0 5.7 0a2.85 2.85 0 1 0 -5.7 0M580.9 365.7a2.85 2.85 0 1 0 5.7 0a2.85 2.85 0 1 0 -5.7 0M581.1 363.6a2.85 2.85 0 1 0 5.7 0a2.85 2.85 0 1 0 -5.7 0M581.4 357.2a2.85 2.85 0 1 0 5.7 0a2.85 2.85 0 1 0 -5.7 0M581.6 361.0a2.85 2.85 0 1 0 5.7 0a2.85 2.85 0 1 0 -5.7 0M581.8 357.6a2.85 2.85 0 1 0 5.7 0a2.85 2.85 0 1 0 -5.7 0M581.9 351.2a2.85 2.85 0 1 0 5.7 0a2.85 2.85 0 1 0 -5.7 0M582.1 358.4a2.85 2.85 0 1 0 5.7 0a2.85 2.85 0 1 0 -5.7 0M582.2 357.1a2.85 2.85 0 1 0 5.7 0a2.85 2.85 0 1 0 -5.7 0M582.4 357.5a2.85 2.85 0 1 0 5.7 0a2.85 2.85 0 1 0 -5.7 0M582.6 365.3a2.85 2.85 0 1 0 5.7 0a2.85 2.85 0 1 0 -5.7 0M582.7 361.1a2.85 2.85 0 1 0 5.7 0a2.85 2.85 0 1 0 -5.7 0M582.9 361.7a2.85 2.85 0 1 0 5.7 0a2.85 2.85 0 1 0 -5.7 0M583.1 363.6a2.85 2.85 0 1 0 5.7 0a2.85 2.85 0 1 0 -5.7 0M583.2 349.5a2.85 2.85 0 1 0 5.7 0a2.85 2.85 0 1 0 -5.7 0M583.4 356.2a2.85 2.85 0 1 0 5.7 0a2.85 2.85 0 1 0 -5.7 0M583.6 378.9a2.85 2.85 0 1 0 5.7 0a2.85 2.85 0 1 0 -5.7 0M583.7 365.8a2.85 2.85 0 1 0 5.7 0a2.85 2.85 0 1 0 -5.7 0M583.9 360.8a2.85 2.85 0 1 0 5.7 0a2.85 2.85 0 1 0 -5.7 0M584.0 360.2a2.85 2.85 0 1 0 5.7 0a2.85 2.85 0 1 0 -5.7 0M584.2 365.9a2.85 2.85 0 1 0 5.7 0a2.85 2.85 0 1 0 -5.7 0M584.4 362.5a2.85 2.85 0 1 0 5.7 0a2.85 2.85 0 1 0 -5.7 0M584.5 362.9a2.85 2.85 0 1 0 5.7 0a2.85 2.85 0 1 0 -5.7 0M584.7 363.5a2.85 2.85 0 1 0 5.7 0a2.85 2.85 0 1 0 -5.7 0M584.9 355.7a2.85 2.85 0 1 0 5.7 0a2.85 2.85 0 1 0 -5.7 0M585.0 360.5a2.85 2.85 0 1 0 5.7 0a2.85 2.85 0 1 0 -5.7 0M585.2 364.1a2.85 2.85 0 1 0 5.7 0a2.85 2.85 0 1 0 -5.7 0M585.3 362.2a2.85 2.85 0 1 0 5.7 0a2.85 2.85 0 1 0 -5.7 0M585.5 360.2a2.85 2.85 0 1 0 5.7 0a2.85 2.85 0 1 0 -5.7 0M585.7 367.8a2.85 2.85 0 1 0 5.7 0a2.85 2.85 0 1 0 -5.7 0M585.8 364.0a2.85 2.85 0 1 0 5.7 0a2.85 2.85 0 1 0 -5.7 0M586.0 355.9a2.85 2.85 0 1 0 5.7 0a2.85 2.85 0 1 0 -5.7 0M586.2 336.0a2.85 2.85 0 1 0 5.7 0a2.85 2.85 0 1 0 -5.7 0M586.3 376.6a2.85 2.85 0 1 0 5.7 0a2.85 2.85 0 1 0 -5.7 0M586.5 342.9a2.85 2.85 0 1 0 5.7 0a2.85 2.85 0 1 0 -5.7 0M586.7 364.4a2.85 2.85 0 1 0 5.7 0a2.85 2.85 0 1 0 -5.7 0M586.8 354.4a2.85 2.85 0 1 0 5.7 0a2.85 2.85 0 1 0 -5.7 0M587.0 369.5a2.85 2.85 0 1 0 5.7 0a2.85 2.85 0 1 0 -5.7 0M587.1 355.0a2.85 2.85 0 1 0 5.7 0a2.85 2.85 0 1 0 -5.7 0M587.3 359.7a2.85 2.85 0 1 0 5.7 0a2.85 2.85 0 1 0 -5.7 0M587.5 360.4a2.85 2.85 0 1 0 5.7 0a2.85 2.85 0 1 0 -5.7 0M587.6 362.0a2.85 2.85 0 1 0 5.7 0a2.85 2.85 0 1 0 -5.7 0M587.8 361.6a2.85 2.85 0 1 0 5.7 0a2.85 2.85 0 1 0 -5.7 0M588.0 354.7a2.85 2.85 0 1 0 5.7 0a2.85 2.85 0 1 0 -5.7 0M588.1 365.1a2.85 2.85 0 1 0 5.7 0a2.85 2.85 0 1 0 -5.7 0M588.3 361.6a2.85 2.85 0 1 0 5.7 0a2.85 2.85 0 1 0 -5.7 0M588.4 362.6a2.85 2.85 0 1 0 5.7 0a2.85 2.85 0 1 0 -5.7 0M588.6 371.3a2.85 2.85 0 1 0 5.7 0a2.85 2.85 0 1 0 -5.7 0M588.8 359.2a2.85 2.85 0 1 0 5.7 0a2.85 2.85 0 1 0 -5.7 0M588.9 360.1a2.85 2.85 0 1 0 5.7 0a2.85 2.85 0 1 0 -5.7 0M589.1 363.2a2.85 2.85 0 1 0 5.7 0a2.85 2.85 0 1 0 -5.7 0M589.3 369.4a2.85 2.85 0 1 0 5.7 0a2.85 2.85 0 1 0 -5.7 0M589.4 362.3a2.85 2.85 0 1 0 5.7 0a2.85 2.85 0 1 0 -5.7 0M589.6 361.0a2.85 2.85 0 1 0 5.7 0a2.85 2.85 0 1 0 -5.7 0M589.8 359.9a2.85 2.85 0 1 0 5.7 0a2.85 2.85 0 1 0 -5.7 0M589.9 359.5a2.85 2.85 0 1 0 5.7 0a2.85 2.85 0 1 0 -5.7 0M590.1 368.2a2.85 2.85 0 1 0 5.7 0a2.85 2.85 0 1 0 -5.7 0M590.2 352.7a2.85 2.85 0 1 0 5.7 0a2.85 2.85 0 1 0 -5.7 0M590.4 354.3a2.85 2.85 0 1 0 5.7 0a2.85 2.85 0 1 0 -5.7 0M590.6 354.3a2.85 2.85 0 1 0 5.7 0a2.85 2.85 0 1 0 -5.7 0M590.7 356.6a2.85 2.85 0 1 0 5.7 0a2.85 2.85 0 1 0 -5.7 0M590.9 350.6a2.85 2.85 0 1 0 5.7 0a2.85 2.85 0 1 0 -5.7 0M591.1 354.7a2.85 2.85 0 1 0 5.7 0a2.85 2.85 0 1 0 -5.7 0M591.2 352.0a2.85 2.85 0 1 0 5.7 0a2.85 2.85 0 1 0 -5.7 0M591.4 357.6a2.85 2.85 0 1 0 5.7 0a2.85 2.85 0 1 0 -5.7 0M591.5 358.8a2.85 2.85 0 1 0 5.7 0a2.85 2.85 0 1 0 -5.7 0M591.7 355.4a2.85 2.85 0 1 0 5.7 0a2.85 2.85 0 1 0 -5.7 0M591.9 364.8a2.85 2.85 0 1 0 5.7 0a2.85 2.85 0 1 0 -5.7 0M592.0 361.4a2.85 2.85 0 1 0 5.7 0a2.85 2.85 0 1 0 -5.7 0M592.2 358.4a2.85 2.85 0 1 0 5.7 0a2.85 2.85 0 1 0 -5.7 0M592.4 364.0a2.85 2.85 0 1 0 5.7 0a2.85 2.85 0 1 0 -5.7 0M592.5 377.0a2.85 2.85 0 1 0 5.7 0a2.85 2.85 0 1 0 -5.7 0M592.9 365.1a2.85 2.85 0 1 0 5.7 0a2.85 2.85 0 1 0 -5.7 0M593.0 353.8a2.85 2.85 0 1 0 5.7 0a2.85 2.85 0 1 0 -5.7 0M593.2 373.2a2.85 2.85 0 1 0 5.7 0a2.85 2.85 0 1 0 -5.7 0M593.3 365.2a2.85 2.85 0 1 0 5.7 0a2.85 2.85 0 1 0 -5.7 0M593.5 348.7a2.85 2.85 0 1 0 5.7 0a2.85 2.85 0 1 0 -5.7 0M593.7 376.4a2.85 2.85 0 1 0 5.7 0a2.85 2.85 0 1 0 -5.7 0M593.8 361.8a2.85 2.85 0 1 0 5.7 0a2.85 2.85 0 1 0 -5.7 0M594.0 364.4a2.85 2.85 0 1 0 5.7 0a2.85 2.85 0 1 0 -5.7 0M594.2 371.9a2.85 2.85 0 1 0 5.7 0a2.85 2.85 0 1 0 -5.7 0M594.3 359.8a2.85 2.85 0 1 0 5.7 0a2.85 2.85 0 1 0 -5.7 0M594.5 366.1a2.85 2.85 0 1 0 5.7 0a2.85 2.85 0 1 0 -5.7 0M594.7 378.8a2.85 2.85 0 1 0 5.7 0a2.85 2.85 0 1 0 -5.7 0M594.8 364.2a2.85 2.85 0 1 0 5.7 0a2.85 2.85 0 1 0 -5.7 0M595.0 369.4a2.85 2.85 0 1 0 5.7 0a2.85 2.85 0 1 0 -5.7 0M595.1 352.4a2.85 2.85 0 1 0 5.7 0a2.85 2.85 0 1 0 -5.7 0M595.3 359.8a2.85 2.85 0 1 0 5.7 0a2.85 2.85 0 1 0 -5.7 0M595.5 367.7a2.85 2.85 0 1 0 5.7 0a2.85 2.85 0 1 0 -5.7 0M595.6 358.5a2.85 2.85 0 1 0 5.7 0a2.85 2.85 0 1 0 -5.7 0M595.8 346.6a2.85 2.85 0 1 0 5.7 0a2.85 2.85 0 1 0 -5.7 0M596.0 369.0a2.85 2.85 0 1 0 5.7 0a2.85 2.85 0 1 0 -5.7 0M596.1 367.0a2.85 2.85 0 1 0 5.7 0a2.85 2.85 0 1 0 -5.7 0M596.3 360.7a2.85 2.85 0 1 0 5.7 0a2.85 2.85 0 1 0 -5.7 0M596.4 359.6a2.85 2.85 0 1 0 5.7 0a2.85 2.85 0 1 0 -5.7 0M596.6 344.4a2.85 2.85 0 1 0 5.7 0a2.85 2.85 0 1 0 -5.7 0M596.8 370.5a2.85 2.85 0 1 0 5.7 0a2.85 2.85 0 1 0 -5.7 0M596.9 359.2a2.85 2.85 0 1 0 5.7 0a2.85 2.85 0 1 0 -5.7 0M597.1 368.2a2.85 2.85 0 1 0 5.7 0a2.85 2.85 0 1 0 -5.7 0M597.3 365.4a2.85 2.85 0 1 0 5.7 0a2.85 2.85 0 1 0 -5.7 0M597.4 353.6a2.85 2.85 0 1 0 5.7 0a2.85 2.85 0 1 0 -5.7 0M597.6 365.1a2.85 2.85 0 1 0 5.7 0a2.85 2.85 0 1 0 -5.7 0M597.8 355.8a2.85 2.85 0 1 0 5.7 0a2.85 2.85 0 1 0 -5.7 0M597.9 362.3a2.85 2.85 0 1 0 5.7 0a2.85 2.85 0 1 0 -5.7 0M598.1 358.9a2.85 2.85 0 1 0 5.7 0a2.85 2.85 0 1 0 -5.7 0M598.2 359.0a2.85 2.85 0 1 0 5.7 0a2.85 2.85 0 1 0 -5.7 0M598.4 355.6a2.85 2.85 0 1 0 5.7 0a2.85 2.85 0 1 0 -5.7 0M598.6 354.9a2.85 2.85 0 1 0 5.7 0a2.85 2.85 0 1 0 -5.7 0M598.7 365.2a2.85 2.85 0 1 0 5.7 0a2.85 2.85 0 1 0 -5.7 0M598.9 348.5a2.85 2.85 0 1 0 5.7 0a2.85 2.85 0 1 0 -5.7 0M599.1 355.8a2.85 2.85 0 1 0 5.7 0a2.85 2.85 0 1 0 -5.7 0M599.2 353.4a2.85 2.85 0 1 0 5.7 0a2.85 2.85 0 1 0 -5.7 0M599.5 363.4a2.85 2.85 0 1 0 5.7 0a2.85 2.85 0 1 0 -5.7 0M599.7 360.5a2.85 2.85 0 1 0 5.7 0a2.85 2.85 0 1 0 -5.7 0M599.9 359.5a2.85 2.85 0 1 0 5.7 0a2.85 2.85 0 1 0 -5.7 0M600.0 358.1a2.85 2.85 0 1 0 5.7 0a2.85 2.85 0 1 0 -5.7 0M600.2 348.3a2.85 2.85 0 1 0 5.7 0a2.85 2.85 0 1 0 -5.7 0M600.4 347.2a2.85 2.85 0 1 0 5.7 0a2.85 2.85 0 1 0 -5.7 0M600.5 336.1a2.85 2.85 0 1 0 5.7 0a2.85 2.85 0 1 0 -5.7 0M600.7 347.4a2.85 2.85 0 1 0 5.7 0a2.85 2.85 0 1 0 -5.7 0M600.9 348.5a2.85 2.85 0 1 0 5.7 0a2.85 2.85 0 1 0 -5.7 0M601.0 360.8a2.85 2.85 0 1 0 5.7 0a2.85 2.85 0 1 0 -5.7 0M601.2 366.3a2.85 2.85 0 1 0 5.7 0a2.85 2.85 0 1 0 -5.7 0M601.3 360.4a2.85 2.85 0 1 0 5.7 0a2.85 2.85 0 1 0 -5.7 0M601.5 362.6a2.85 2.85 0 1 0 5.7 0a2.85 2.85 0 1 0 -5.7 0M601.7 367.8a2.85 2.85 0 1 0 5.7 0a2.85 2.85 0 1 0 -5.7 0M601.8 362.6a2.85 2.85 0 1 0 5.7 0a2.85 2.85 0 1 0 -5.7 0M602.0 358.1a2.85 2.85 0 1 0 5.7 0a2.85 2.85 0 1 0 -5.7 0M602.2 361.0a2.85 2.85 0 1 0 5.7 0a2.85 2.85 0 1 0 -5.7 0M602.3 355.3a2.85 2.85 0 1 0 5.7 0a2.85 2.85 0 1 0 -5.7 0M602.5 357.6a2.85 2.85 0 1 0 5.7 0a2.85 2.85 0 1 0 -5.7 0M602.7 359.2a2.85 2.85 0 1 0 5.7 0a2.85 2.85 0 1 0 -5.7 0M602.8 342.0a2.85 2.85 0 1 0 5.7 0a2.85 2.85 0 1 0 -5.7 0M603.0 363.7a2.85 2.85 0 1 0 5.7 0a2.85 2.85 0 1 0 -5.7 0M603.1 363.0a2.85 2.85 0 1 0 5.7 0a2.85 2.85 0 1 0 -5.7 0M603.3 354.1a2.85 2.85 0 1 0 5.7 0a2.85 2.85 0 1 0 -5.7 0M603.5 358.3a2.85 2.85 0 1 0 5.7 0a2.85 2.85 0 1 0 -5.7 0M603.6 375.9a2.85 2.85 0 1 0 5.7 0a2.85 2.85 0 1 0 -5.7 0M603.8 365.8a2.85 2.85 0 1 0 5.7 0a2.85 2.85 0 1 0 -5.7 0M604.0 357.4a2.85 2.85 0 1 0 5.7 0a2.85 2.85 0 1 0 -5.7 0M604.1 367.6a2.85 2.85 0 1 0 5.7 0a2.85 2.85 0 1 0 -5.7 0M604.3 366.7a2.85 2.85 0 1 0 5.7 0a2.85 2.85 0 1 0 -5.7 0M604.4 377.1a2.85 2.85 0 1 0 5.7 0a2.85 2.85 0 1 0 -5.7 0M604.6 373.0a2.85 2.85 0 1 0 5.7 0a2.85 2.85 0 1 0 -5.7 0M604.8 382.9a2.85 2.85 0 1 0 5.7 0a2.85 2.85 0 1 0 -5.7 0M604.9 377.4a2.85 2.85 0 1 0 5.7 0a2.85 2.85 0 1 0 -5.7 0M605.1 386.4a2.85 2.85 0 1 0 5.7 0a2.85 2.85 0 1 0 -5.7 0M605.3 382.5a2.85 2.85 0 1 0 5.7 0a2.85 2.85 0 1 0 -5.7 0M605.4 392.9a2.85 2.85 0 1 0 5.7 0a2.85 2.85 0 1 0 -5.7 0M605.6 395.7a2.85 2.85 0 1 0 5.7 0a2.85 2.85 0 1 0 -5.7 0M605.8 401.3a2.85 2.85 0 1 0 5.7 0a2.85 2.85 0 1 0 -5.7 0M605.9 409.0a2.85 2.85 0 1 0 5.7 0a2.85 2.85 0 1 0 -5.7 0M606.1 420.4a2.85 2.85 0 1 0 5.7 0a2.85 2.85 0 1 0 -5.7 0M606.2 424.9a2.85 2.85 0 1 0 5.7 0a2.85 2.85 0 1 0 -5.7 0M606.4 438.1a2.85 2.85 0 1 0 5.7 0a2.85 2.85 0 1 0 -5.7 0M606.6 447.1a2.85 2.85 0 1 0 5.7 0a2.85 2.85 0 1 0 -5.7 0M606.7 450.2a2.85 2.85 0 1 0 5.7 0a2.85 2.85 0 1 0 -5.7 0M606.9 436.9a2.85 2.85 0 1 0 5.7 0a2.85 2.85 0 1 0 -5.7 0M607.1 427.0a2.85 2.85 0 1 0 5.7 0a2.85 2.85 0 1 0 -5.7 0M607.2 413.2a2.85 2.85 0 1 0 5.7 0a2.85 2.85 0 1 0 -5.7 0M607.4 405.3a2.85 2.85 0 1 0 5.7 0a2.85 2.85 0 1 0 -5.7 0M607.5 400.4a2.85 2.85 0 1 0 5.7 0a2.85 2.85 0 1 0 -5.7 0M607.7 393.3a2.85 2.85 0 1 0 5.7 0a2.85 2.85 0 1 0 -5.7 0M608.0 389.3a2.85 2.85 0 1 0 5.7 0a2.85 2.85 0 1 0 -5.7 0M608.2 379.0a2.85 2.85 0 1 0 5.7 0a2.85 2.85 0 1 0 -5.7 0M608.4 382.1a2.85 2.85 0 1 0 5.7 0a2.85 2.85 0 1 0 -5.7 0M608.5 377.7a2.85 2.85 0 1 0 5.7 0a2.85 2.85 0 1 0 -5.7 0M608.7 379.2a2.85 2.85 0 1 0 5.7 0a2.85 2.85 0 1 0 -5.7 0M608.9 373.5a2.85 2.85 0 1 0 5.7 0a2.85 2.85 0 1 0 -5.7 0M609.0 351.4a2.85 2.85 0 1 0 5.7 0a2.85 2.85 0 1 0 -5.7 0M609.2 353.2a2.85 2.85 0 1 0 5.7 0a2.85 2.85 0 1 0 -5.7 0M609.3 377.9a2.85 2.85 0 1 0 5.7 0a2.85 2.85 0 1 0 -5.7 0M609.5 361.1a2.85 2.85 0 1 0 5.7 0a2.85 2.85 0 1 0 -5.7 0M609.7 364.4a2.85 2.85 0 1 0 5.7 0a2.85 2.85 0 1 0 -5.7 0M609.8 382.1a2.85 2.85 0 1 0 5.7 0a2.85 2.85 0 1 0 -5.7 0M610.0 371.6a2.85 2.85 0 1 0 5.7 0a2.85 2.85 0 1 0 -5.7 0M610.2 365.9a2.85 2.85 0 1 0 5.7 0a2.85 2.85 0 1 0 -5.7 0M610.3 366.6a2.85 2.85 0 1 0 5.7 0a2.85 2.85 0 1 0 -5.7 0M610.5 361.4a2.85 2.85 0 1 0 5.7 0a2.85 2.85 0 1 0 -5.7 0M610.6 354.7a2.85 2.85 0 1 0 5.7 0a2.85 2.85 0 1 0 -5.7 0M610.8 362.4a2.85 2.85 0 1 0 5.7 0a2.85 2.85 0 1 0 -5.7 0M611.1 351.9a2.85 2.85 0 1 0 5.7 0a2.85 2.85 0 1 0 -5.7 0M611.3 349.9a2.85 2.85 0 1 0 5.7 0a2.85 2.85 0 1 0 -5.7 0M611.5 363.1a2.85 2.85 0 1 0 5.7 0a2.85 2.85 0 1 0 -5.7 0M611.6 349.5a2.85 2.85 0 1 0 5.7 0a2.85 2.85 0 1 0 -5.7 0M611.8 372.8a2.85 2.85 0 1 0 5.7 0a2.85 2.85 0 1 0 -5.7 0M612.1 357.0a2.85 2.85 0 1 0 5.7 0a2.85 2.85 0 1 0 -5.7 0M612.3 366.2a2.85 2.85 0 1 0 5.7 0a2.85 2.85 0 1 0 -5.7 0M612.4 363.7a2.85 2.85 0 1 0 5.7 0a2.85 2.85 0 1 0 -5.7 0M612.6 359.3a2.85 2.85 0 1 0 5.7 0a2.85 2.85 0 1 0 -5.7 0M612.8 350.8a2.85 2.85 0 1 0 5.7 0a2.85 2.85 0 1 0 -5.7 0M612.9 354.0a2.85 2.85 0 1 0 5.7 0a2.85 2.85 0 1 0 -5.7 0M613.1 358.0a2.85 2.85 0 1 0 5.7 0a2.85 2.85 0 1 0 -5.7 0M613.3 362.7a2.85 2.85 0 1 0 5.7 0a2.85 2.85 0 1 0 -5.7 0M613.4 359.3a2.85 2.85 0 1 0 5.7 0a2.85 2.85 0 1 0 -5.7 0M613.6 368.4a2.85 2.85 0 1 0 5.7 0a2.85 2.85 0 1 0 -5.7 0M613.8 344.3a2.85 2.85 0 1 0 5.7 0a2.85 2.85 0 1 0 -5.7 0M613.9 365.9a2.85 2.85 0 1 0 5.7 0a2.85 2.85 0 1 0 -5.7 0M614.1 362.5a2.85 2.85 0 1 0 5.7 0a2.85 2.85 0 1 0 -5.7 0M614.2 356.9a2.85 2.85 0 1 0 5.7 0a2.85 2.85 0 1 0 -5.7 0M614.4 362.2a2.85 2.85 0 1 0 5.7 0a2.85 2.85 0 1 0 -5.7 0M614.6 372.4a2.85 2.85 0 1 0 5.7 0a2.85 2.85 0 1 0 -5.7 0M614.7 352.4a2.85 2.85 0 1 0 5.7 0a2.85 2.85 0 1 0 -5.7 0M614.9 360.1a2.85 2.85 0 1 0 5.7 0a2.85 2.85 0 1 0 -5.7 0M615.1 357.0a2.85 2.85 0 1 0 5.7 0a2.85 2.85 0 1 0 -5.7 0M615.2 365.0a2.85 2.85 0 1 0 5.7 0a2.85 2.85 0 1 0 -5.7 0M615.4 361.8a2.85 2.85 0 1 0 5.7 0a2.85 2.85 0 1 0 -5.7 0M615.5 362.1a2.85 2.85 0 1 0 5.7 0a2.85 2.85 0 1 0 -5.7 0M615.7 350.1a2.85 2.85 0 1 0 5.7 0a2.85 2.85 0 1 0 -5.7 0M615.9 368.7a2.85 2.85 0 1 0 5.7 0a2.85 2.85 0 1 0 -5.7 0M616.0 353.9a2.85 2.85 0 1 0 5.7 0a2.85 2.85 0 1 0 -5.7 0M616.2 360.7a2.85 2.85 0 1 0 5.7 0a2.85 2.85 0 1 0 -5.7 0M616.4 340.9a2.85 2.85 0 1 0 5.7 0a2.85 2.85 0 1 0 -5.7 0M616.5 364.4a2.85 2.85 0 1 0 5.7 0a2.85 2.85 0 1 0 -5.7 0M616.7 371.7a2.85 2.85 0 1 0 5.7 0a2.85 2.85 0 1 0 -5.7 0M616.9 353.7a2.85 2.85 0 1 0 5.7 0a2.85 2.85 0 1 0 -5.7 0M617.0 362.8a2.85 2.85 0 1 0 5.7 0a2.85 2.85 0 1 0 -5.7 0M617.2 356.8a2.85 2.85 0 1 0 5.7 0a2.85 2.85 0 1 0 -5.7 0M617.3 355.2a2.85 2.85 0 1 0 5.7 0a2.85 2.85 0 1 0 -5.7 0M617.5 372.3a2.85 2.85 0 1 0 5.7 0a2.85 2.85 0 1 0 -5.7 0M617.7 363.6a2.85 2.85 0 1 0 5.7 0a2.85 2.85 0 1 0 -5.7 0M617.8 361.5a2.85 2.85 0 1 0 5.7 0a2.85 2.85 0 1 0 -5.7 0M618.0 356.1a2.85 2.85 0 1 0 5.7 0a2.85 2.85 0 1 0 -5.7 0M618.3 354.6a2.85 2.85 0 1 0 5.7 0a2.85 2.85 0 1 0 -5.7 0M618.5 361.6a2.85 2.85 0 1 0 5.7 0a2.85 2.85 0 1 0 -5.7 0M618.6 350.6a2.85 2.85 0 1 0 5.7 0a2.85 2.85 0 1 0 -5.7 0M618.8 359.8a2.85 2.85 0 1 0 5.7 0a2.85 2.85 0 1 0 -5.7 0M619.0 360.4a2.85 2.85 0 1 0 5.7 0a2.85 2.85 0 1 0 -5.7 0M619.1 363.4a2.85 2.85 0 1 0 5.7 0a2.85 2.85 0 1 0 -5.7 0M619.3 367.9a2.85 2.85 0 1 0 5.7 0a2.85 2.85 0 1 0 -5.7 0M619.5 360.1a2.85 2.85 0 1 0 5.7 0a2.85 2.85 0 1 0 -5.7 0M619.6 358.1a2.85 2.85 0 1 0 5.7 0a2.85 2.85 0 1 0 -5.7 0M619.8 358.0a2.85 2.85 0 1 0 5.7 0a2.85 2.85 0 1 0 -5.7 0M620.0 344.7a2.85 2.85 0 1 0 5.7 0a2.85 2.85 0 1 0 -5.7 0M620.1 357.8a2.85 2.85 0 1 0 5.7 0a2.85 2.85 0 1 0 -5.7 0M620.3 357.3a2.85 2.85 0 1 0 5.7 0a2.85 2.85 0 1 0 -5.7 0M620.4 369.0a2.85 2.85 0 1 0 5.7 0a2.85 2.85 0 1 0 -5.7 0M620.6 361.7a2.85 2.85 0 1 0 5.7 0a2.85 2.85 0 1 0 -5.7 0M620.8 359.7a2.85 2.85 0 1 0 5.7 0a2.85 2.85 0 1 0 -5.7 0M620.9 356.6a2.85 2.85 0 1 0 5.7 0a2.85 2.85 0 1 0 -5.7 0M621.1 361.4a2.85 2.85 0 1 0 5.7 0a2.85 2.85 0 1 0 -5.7 0M621.3 357.5a2.85 2.85 0 1 0 5.7 0a2.85 2.85 0 1 0 -5.7 0M621.4 366.9a2.85 2.85 0 1 0 5.7 0a2.85 2.85 0 1 0 -5.7 0M621.6 352.1a2.85 2.85 0 1 0 5.7 0a2.85 2.85 0 1 0 -5.7 0M621.8 352.8a2.85 2.85 0 1 0 5.7 0a2.85 2.85 0 1 0 -5.7 0M621.9 367.9a2.85 2.85 0 1 0 5.7 0a2.85 2.85 0 1 0 -5.7 0M622.1 370.5a2.85 2.85 0 1 0 5.7 0a2.85 2.85 0 1 0 -5.7 0M622.2 364.7a2.85 2.85 0 1 0 5.7 0a2.85 2.85 0 1 0 -5.7 0M622.4 358.9a2.85 2.85 0 1 0 5.7 0a2.85 2.85 0 1 0 -5.7 0M622.6 366.2a2.85 2.85 0 1 0 5.7 0a2.85 2.85 0 1 0 -5.7 0M622.7 358.9a2.85 2.85 0 1 0 5.7 0a2.85 2.85 0 1 0 -5.7 0M622.9 354.8a2.85 2.85 0 1 0 5.7 0a2.85 2.85 0 1 0 -5.7 0M623.1 353.2a2.85 2.85 0 1 0 5.7 0a2.85 2.85 0 1 0 -5.7 0M623.2 336.0a2.85 2.85 0 1 0 5.7 0a2.85 2.85 0 1 0 -5.7 0M623.4 370.3a2.85 2.85 0 1 0 5.7 0a2.85 2.85 0 1 0 -5.7 0M623.5 374.0a2.85 2.85 0 1 0 5.7 0a2.85 2.85 0 1 0 -5.7 0M623.7 356.6a2.85 2.85 0 1 0 5.7 0a2.85 2.85 0 1 0 -5.7 0M623.9 365.5a2.85 2.85 0 1 0 5.7 0a2.85 2.85 0 1 0 -5.7 0M624.2 367.7a2.85 2.85 0 1 0 5.7 0a2.85 2.85 0 1 0 -5.7 0M624.4 364.7a2.85 2.85 0 1 0 5.7 0a2.85 2.85 0 1 0 -5.7 0M624.5 344.1a2.85 2.85 0 1 0 5.7 0a2.85 2.85 0 1 0 -5.7 0M624.7 370.4a2.85 2.85 0 1 0 5.7 0a2.85 2.85 0 1 0 -5.7 0M624.9 369.8a2.85 2.85 0 1 0 5.7 0a2.85 2.85 0 1 0 -5.7 0M625.0 353.3a2.85 2.85 0 1 0 5.7 0a2.85 2.85 0 1 0 -5.7 0M625.2 356.0a2.85 2.85 0 1 0 5.7 0a2.85 2.85 0 1 0 -5.7 0M625.3 372.2a2.85 2.85 0 1 0 5.7 0a2.85 2.85 0 1 0 -5.7 0M625.5 373.3a2.85 2.85 0 1 0 5.7 0a2.85 2.85 0 1 0 -5.7 0M625.7 358.0a2.85 2.85 0 1 0 5.7 0a2.85 2.85 0 1 0 -5.7 0M625.8 354.7a2.85 2.85 0 1 0 5.7 0a2.85 2.85 0 1 0 -5.7 0M626.0 346.3a2.85 2.85 0 1 0 5.7 0a2.85 2.85 0 1 0 -5.7 0M626.2 356.0a2.85 2.85 0 1 0 5.7 0a2.85 2.85 0 1 0 -5.7 0M626.3 356.2a2.85 2.85 0 1 0 5.7 0a2.85 2.85 0 1 0 -5.7 0M626.5 362.5a2.85 2.85 0 1 0 5.7 0a2.85 2.85 0 1 0 -5.7 0M626.6 360.3a2.85 2.85 0 1 0 5.7 0a2.85 2.85 0 1 0 -5.7 0M626.8 363.7a2.85 2.85 0 1 0 5.7 0a2.85 2.85 0 1 0 -5.7 0M627.0 352.6a2.85 2.85 0 1 0 5.7 0a2.85 2.85 0 1 0 -5.7 0M627.1 358.1a2.85 2.85 0 1 0 5.7 0a2.85 2.85 0 1 0 -5.7 0M627.3 353.4a2.85 2.85 0 1 0 5.7 0a2.85 2.85 0 1 0 -5.7 0M627.5 358.6a2.85 2.85 0 1 0 5.7 0a2.85 2.85 0 1 0 -5.7 0M627.6 367.3a2.85 2.85 0 1 0 5.7 0a2.85 2.85 0 1 0 -5.7 0M627.8 361.0a2.85 2.85 0 1 0 5.7 0a2.85 2.85 0 1 0 -5.7 0M628.0 353.3a2.85 2.85 0 1 0 5.7 0a2.85 2.85 0 1 0 -5.7 0M628.1 358.2a2.85 2.85 0 1 0 5.7 0a2.85 2.85 0 1 0 -5.7 0M628.3 372.9a2.85 2.85 0 1 0 5.7 0a2.85 2.85 0 1 0 -5.7 0M628.4 353.4a2.85 2.85 0 1 0 5.7 0a2.85 2.85 0 1 0 -5.7 0M628.6 363.9a2.85 2.85 0 1 0 5.7 0a2.85 2.85 0 1 0 -5.7 0M628.8 351.2a2.85 2.85 0 1 0 5.7 0a2.85 2.85 0 1 0 -5.7 0M628.9 363.1a2.85 2.85 0 1 0 5.7 0a2.85 2.85 0 1 0 -5.7 0M629.1 366.8a2.85 2.85 0 1 0 5.7 0a2.85 2.85 0 1 0 -5.7 0M629.3 355.0a2.85 2.85 0 1 0 5.7 0a2.85 2.85 0 1 0 -5.7 0M629.4 368.9a2.85 2.85 0 1 0 5.7 0a2.85 2.85 0 1 0 -5.7 0M629.6 352.5a2.85 2.85 0 1 0 5.7 0a2.85 2.85 0 1 0 -5.7 0M629.7 364.2a2.85 2.85 0 1 0 5.7 0a2.85 2.85 0 1 0 -5.7 0M629.9 356.4a2.85 2.85 0 1 0 5.7 0a2.85 2.85 0 1 0 -5.7 0M630.1 370.6a2.85 2.85 0 1 0 5.7 0a2.85 2.85 0 1 0 -5.7 0M630.2 360.5a2.85 2.85 0 1 0 5.7 0a2.85 2.85 0 1 0 -5.7 0M630.4 364.3a2.85 2.85 0 1 0 5.7 0a2.85 2.85 0 1 0 -5.7 0M630.6 349.5a2.85 2.85 0 1 0 5.7 0a2.85 2.85 0 1 0 -5.7 0M630.7 366.0a2.85 2.85 0 1 0 5.7 0a2.85 2.85 0 1 0 -5.7 0M630.9 361.8a2.85 2.85 0 1 0 5.7 0a2.85 2.85 0 1 0 -5.7 0M631.1 366.3a2.85 2.85 0 1 0 5.7 0a2.85 2.85 0 1 0 -5.7 0M631.2 360.5a2.85 2.85 0 1 0 5.7 0a2.85 2.85 0 1 0 -5.7 0M631.4 359.5a2.85 2.85 0 1 0 5.7 0a2.85 2.85 0 1 0 -5.7 0M631.5 352.5a2.85 2.85 0 1 0 5.7 0a2.85 2.85 0 1 0 -5.7 0M631.7 355.6a2.85 2.85 0 1 0 5.7 0a2.85 2.85 0 1 0 -5.7 0M631.9 371.1a2.85 2.85 0 1 0 5.7 0a2.85 2.85 0 1 0 -5.7 0M632.0 347.4a2.85 2.85 0 1 0 5.7 0a2.85 2.85 0 1 0 -5.7 0M632.2 359.4a2.85 2.85 0 1 0 5.7 0a2.85 2.85 0 1 0 -5.7 0M632.4 352.4a2.85 2.85 0 1 0 5.7 0a2.85 2.85 0 1 0 -5.7 0M632.5 362.6a2.85 2.85 0 1 0 5.7 0a2.85 2.85 0 1 0 -5.7 0M632.7 355.0a2.85 2.85 0 1 0 5.7 0a2.85 2.85 0 1 0 -5.7 0M632.9 361.0a2.85 2.85 0 1 0 5.7 0a2.85 2.85 0 1 0 -5.7 0M633.0 362.3a2.85 2.85 0 1 0 5.7 0a2.85 2.85 0 1 0 -5.7 0M633.3 366.2a2.85 2.85 0 1 0 5.7 0a2.85 2.85 0 1 0 -5.7 0M633.5 357.0a2.85 2.85 0 1 0 5.7 0a2.85 2.85 0 1 0 -5.7 0M633.7 357.5a2.85 2.85 0 1 0 5.7 0a2.85 2.85 0 1 0 -5.7 0M633.8 355.5a2.85 2.85 0 1 0 5.7 0a2.85 2.85 0 1 0 -5.7 0M634.0 351.4a2.85 2.85 0 1 0 5.7 0a2.85 2.85 0 1 0 -5.7 0M634.2 353.0a2.85 2.85 0 1 0 5.7 0a2.85 2.85 0 1 0 -5.7 0M634.3 357.0a2.85 2.85 0 1 0 5.7 0a2.85 2.85 0 1 0 -5.7 0M634.6 358.8a2.85 2.85 0 1 0 5.7 0a2.85 2.85 0 1 0 -5.7 0M634.8 353.3a2.85 2.85 0 1 0 5.7 0a2.85 2.85 0 1 0 -5.7 0M635.0 360.5a2.85 2.85 0 1 0 5.7 0a2.85 2.85 0 1 0 -5.7 0M635.1 372.4a2.85 2.85 0 1 0 5.7 0a2.85 2.85 0 1 0 -5.7 0M635.3 364.9a2.85 2.85 0 1 0 5.7 0a2.85 2.85 0 1 0 -5.7 0M635.5 366.5a2.85 2.85 0 1 0 5.7 0a2.85 2.85 0 1 0 -5.7 0M635.6 363.1a2.85 2.85 0 1 0 5.7 0a2.85 2.85 0 1 0 -5.7 0M635.8 360.9a2.85 2.85 0 1 0 5.7 0a2.85 2.85 0 1 0 -5.7 0M636.0 359.1a2.85 2.85 0 1 0 5.7 0a2.85 2.85 0 1 0 -5.7 0M636.1 356.1a2.85 2.85 0 1 0 5.7 0a2.85 2.85 0 1 0 -5.7 0M636.3 367.1a2.85 2.85 0 1 0 5.7 0a2.85 2.85 0 1 0 -5.7 0M636.4 362.9a2.85 2.85 0 1 0 5.7 0a2.85 2.85 0 1 0 -5.7 0M636.6 355.1a2.85 2.85 0 1 0 5.7 0a2.85 2.85 0 1 0 -5.7 0M636.8 355.6a2.85 2.85 0 1 0 5.7 0a2.85 2.85 0 1 0 -5.7 0M636.9 351.1a2.85 2.85 0 1 0 5.7 0a2.85 2.85 0 1 0 -5.7 0M637.1 361.5a2.85 2.85 0 1 0 5.7 0a2.85 2.85 0 1 0 -5.7 0M637.3 344.2a2.85 2.85 0 1 0 5.7 0a2.85 2.85 0 1 0 -5.7 0M637.4 364.4a2.85 2.85 0 1 0 5.7 0a2.85 2.85 0 1 0 -5.7 0M637.6 370.3a2.85 2.85 0 1 0 5.7 0a2.85 2.85 0 1 0 -5.7 0M637.7 362.3a2.85 2.85 0 1 0 5.7 0a2.85 2.85 0 1 0 -5.7 0M637.9 369.2a2.85 2.85 0 1 0 5.7 0a2.85 2.85 0 1 0 -5.7 0M638.1 355.5a2.85 2.85 0 1 0 5.7 0a2.85 2.85 0 1 0 -5.7 0M638.2 360.7a2.85 2.85 0 1 0 5.7 0a2.85 2.85 0 1 0 -5.7 0M638.4 370.5a2.85 2.85 0 1 0 5.7 0a2.85 2.85 0 1 0 -5.7 0M638.6 358.8a2.85 2.85 0 1 0 5.7 0a2.85 2.85 0 1 0 -5.7 0M638.7 353.1a2.85 2.85 0 1 0 5.7 0a2.85 2.85 0 1 0 -5.7 0M638.9 364.2a2.85 2.85 0 1 0 5.7 0a2.85 2.85 0 1 0 -5.7 0M639.1 362.8a2.85 2.85 0 1 0 5.7 0a2.85 2.85 0 1 0 -5.7 0M639.2 365.4a2.85 2.85 0 1 0 5.7 0a2.85 2.85 0 1 0 -5.7 0M639.4 364.2a2.85 2.85 0 1 0 5.7 0a2.85 2.85 0 1 0 -5.7 0M639.5 369.6a2.85 2.85 0 1 0 5.7 0a2.85 2.85 0 1 0 -5.7 0M639.7 361.9a2.85 2.85 0 1 0 5.7 0a2.85 2.85 0 1 0 -5.7 0M639.9 367.5a2.85 2.85 0 1 0 5.7 0a2.85 2.85 0 1 0 -5.7 0M640.0 359.2a2.85 2.85 0 1 0 5.7 0a2.85 2.85 0 1 0 -5.7 0M640.2 352.5a2.85 2.85 0 1 0 5.7 0a2.85 2.85 0 1 0 -5.7 0M640.4 355.0a2.85 2.85 0 1 0 5.7 0a2.85 2.85 0 1 0 -5.7 0M640.5 358.4a2.85 2.85 0 1 0 5.7 0a2.85 2.85 0 1 0 -5.7 0M640.7 352.6a2.85 2.85 0 1 0 5.7 0a2.85 2.85 0 1 0 -5.7 0M640.9 355.9a2.85 2.85 0 1 0 5.7 0a2.85 2.85 0 1 0 -5.7 0M641.0 364.4a2.85 2.85 0 1 0 5.7 0a2.85 2.85 0 1 0 -5.7 0M641.2 357.5a2.85 2.85 0 1 0 5.7 0a2.85 2.85 0 1 0 -5.7 0M641.3 355.9a2.85 2.85 0 1 0 5.7 0a2.85 2.85 0 1 0 -5.7 0M641.5 362.0a2.85 2.85 0 1 0 5.7 0a2.85 2.85 0 1 0 -5.7 0M641.8 366.1a2.85 2.85 0 1 0 5.7 0a2.85 2.85 0 1 0 -5.7 0M642.0 357.6a2.85 2.85 0 1 0 5.7 0a2.85 2.85 0 1 0 -5.7 0M642.2 356.2a2.85 2.85 0 1 0 5.7 0a2.85 2.85 0 1 0 -5.7 0M642.3 359.0a2.85 2.85 0 1 0 5.7 0a2.85 2.85 0 1 0 -5.7 0M642.5 362.2a2.85 2.85 0 1 0 5.7 0a2.85 2.85 0 1 0 -5.7 0M642.6 358.3a2.85 2.85 0 1 0 5.7 0a2.85 2.85 0 1 0 -5.7 0M642.8 366.0a2.85 2.85 0 1 0 5.7 0a2.85 2.85 0 1 0 -5.7 0M643.0 364.1a2.85 2.85 0 1 0 5.7 0a2.85 2.85 0 1 0 -5.7 0M643.1 356.4a2.85 2.85 0 1 0 5.7 0a2.85 2.85 0 1 0 -5.7 0M643.3 353.3a2.85 2.85 0 1 0 5.7 0a2.85 2.85 0 1 0 -5.7 0M643.5 354.3a2.85 2.85 0 1 0 5.7 0a2.85 2.85 0 1 0 -5.7 0M643.6 360.4a2.85 2.85 0 1 0 5.7 0a2.85 2.85 0 1 0 -5.7 0M643.8 356.9a2.85 2.85 0 1 0 5.7 0a2.85 2.85 0 1 0 -5.7 0M644.0 364.3a2.85 2.85 0 1 0 5.7 0a2.85 2.85 0 1 0 -5.7 0M644.1 358.5a2.85 2.85 0 1 0 5.7 0a2.85 2.85 0 1 0 -5.7 0M644.3 364.3a2.85 2.85 0 1 0 5.7 0a2.85 2.85 0 1 0 -5.7 0M644.4 368.3a2.85 2.85 0 1 0 5.7 0a2.85 2.85 0 1 0 -5.7 0M644.6 357.8a2.85 2.85 0 1 0 5.7 0a2.85 2.85 0 1 0 -5.7 0M644.8 362.3a2.85 2.85 0 1 0 5.7 0a2.85 2.85 0 1 0 -5.7 0M644.9 361.4a2.85 2.85 0 1 0 5.7 0a2.85 2.85 0 1 0 -5.7 0M645.1 365.7a2.85 2.85 0 1 0 5.7 0a2.85 2.85 0 1 0 -5.7 0M645.3 349.4a2.85 2.85 0 1 0 5.7 0a2.85 2.85 0 1 0 -5.7 0M645.4 356.8a2.85 2.85 0 1 0 5.7 0a2.85 2.85 0 1 0 -5.7 0M645.6 365.5a2.85 2.85 0 1 0 5.7 0a2.85 2.85 0 1 0 -5.7 0M645.7 355.5a2.85 2.85 0 1 0 5.7 0a2.85 2.85 0 1 0 -5.7 0M645.9 359.6a2.85 2.85 0 1 0 5.7 0a2.85 2.85 0 1 0 -5.7 0M646.1 365.1a2.85 2.85 0 1 0 5.7 0a2.85 2.85 0 1 0 -5.7 0M646.2 365.3a2.85 2.85 0 1 0 5.7 0a2.85 2.85 0 1 0 -5.7 0M646.4 353.4a2.85 2.85 0 1 0 5.7 0a2.85 2.85 0 1 0 -5.7 0M646.6 362.1a2.85 2.85 0 1 0 5.7 0a2.85 2.85 0 1 0 -5.7 0M646.7 357.2a2.85 2.85 0 1 0 5.7 0a2.85 2.85 0 1 0 -5.7 0M646.9 364.2a2.85 2.85 0 1 0 5.7 0a2.85 2.85 0 1 0 -5.7 0M647.1 356.5a2.85 2.85 0 1 0 5.7 0a2.85 2.85 0 1 0 -5.7 0M647.2 356.8a2.85 2.85 0 1 0 5.7 0a2.85 2.85 0 1 0 -5.7 0M647.4 356.6a2.85 2.85 0 1 0 5.7 0a2.85 2.85 0 1 0 -5.7 0M647.5 357.1a2.85 2.85 0 1 0 5.7 0a2.85 2.85 0 1 0 -5.7 0M647.7 352.9a2.85 2.85 0 1 0 5.7 0a2.85 2.85 0 1 0 -5.7 0M647.9 354.6a2.85 2.85 0 1 0 5.7 0a2.85 2.85 0 1 0 -5.7 0M648.0 363.8a2.85 2.85 0 1 0 5.7 0a2.85 2.85 0 1 0 -5.7 0M648.2 348.3a2.85 2.85 0 1 0 5.7 0a2.85 2.85 0 1 0 -5.7 0M648.4 363.0a2.85 2.85 0 1 0 5.7 0a2.85 2.85 0 1 0 -5.7 0M648.5 363.9a2.85 2.85 0 1 0 5.7 0a2.85 2.85 0 1 0 -5.7 0M648.7 359.7a2.85 2.85 0 1 0 5.7 0a2.85 2.85 0 1 0 -5.7 0M648.9 354.1a2.85 2.85 0 1 0 5.7 0a2.85 2.85 0 1 0 -5.7 0M649.0 356.5a2.85 2.85 0 1 0 5.7 0a2.85 2.85 0 1 0 -5.7 0M649.2 367.3a2.85 2.85 0 1 0 5.7 0a2.85 2.85 0 1 0 -5.7 0M649.3 363.0a2.85 2.85 0 1 0 5.7 0a2.85 2.85 0 1 0 -5.7 0M649.5 353.2a2.85 2.85 0 1 0 5.7 0a2.85 2.85 0 1 0 -5.7 0M649.7 358.0a2.85 2.85 0 1 0 5.7 0a2.85 2.85 0 1 0 -5.7 0M650.0 370.6a2.85 2.85 0 1 0 5.7 0a2.85 2.85 0 1 0 -5.7 0M650.2 359.6a2.85 2.85 0 1 0 5.7 0a2.85 2.85 0 1 0 -5.7 0M650.3 358.0a2.85 2.85 0 1 0 5.7 0a2.85 2.85 0 1 0 -5.7 0M650.5 367.2a2.85 2.85 0 1 0 5.7 0a2.85 2.85 0 1 0 -5.7 0M650.6 372.6a2.85 2.85 0 1 0 5.7 0a2.85 2.85 0 1 0 -5.7 0M650.8 358.3a2.85 2.85 0 1 0 5.7 0a2.85 2.85 0 1 0 -5.7 0M651.0 354.3a2.85 2.85 0 1 0 5.7 0a2.85 2.85 0 1 0 -5.7 0M651.1 368.9a2.85 2.85 0 1 0 5.7 0a2.85 2.85 0 1 0 -5.7 0M651.3 362.1a2.85 2.85 0 1 0 5.7 0a2.85 2.85 0 1 0 -5.7 0M651.5 350.5a2.85 2.85 0 1 0 5.7 0a2.85 2.85 0 1 0 -5.7 0M651.6 348.8a2.85 2.85 0 1 0 5.7 0a2.85 2.85 0 1 0 -5.7 0M651.8 359.1a2.85 2.85 0 1 0 5.7 0a2.85 2.85 0 1 0 -5.7 0M652.0 375.4a2.85 2.85 0 1 0 5.7 0a2.85 2.85 0 1 0 -5.7 0M652.1 358.7a2.85 2.85 0 1 0 5.7 0a2.85 2.85 0 1 0 -5.7 0M652.3 353.4a2.85 2.85 0 1 0 5.7 0a2.85 2.85 0 1 0 -5.7 0M652.4 336.0a2.85 2.85 0 1 0 5.7 0a2.85 2.85 0 1 0 -5.7 0M652.6 352.7a2.85 2.85 0 1 0 5.7 0a2.85 2.85 0 1 0 -5.7 0M652.8 354.5a2.85 2.85 0 1 0 5.7 0a2.85 2.85 0 1 0 -5.7 0M652.9 361.5a2.85 2.85 0 1 0 5.7 0a2.85 2.85 0 1 0 -5.7 0M653.1 369.7a2.85 2.85 0 1 0 5.7 0a2.85 2.85 0 1 0 -5.7 0M653.3 365.2a2.85 2.85 0 1 0 5.7 0a2.85 2.85 0 1 0 -5.7 0M653.4 365.7a2.85 2.85 0 1 0 5.7 0a2.85 2.85 0 1 0 -5.7 0M653.6 363.8a2.85 2.85 0 1 0 5.7 0a2.85 2.85 0 1 0 -5.7 0M653.7 354.6a2.85 2.85 0 1 0 5.7 0a2.85 2.85 0 1 0 -5.7 0M653.9 359.0a2.85 2.85 0 1 0 5.7 0a2.85 2.85 0 1 0 -5.7 0M654.1 373.6a2.85 2.85 0 1 0 5.7 0a2.85 2.85 0 1 0 -5.7 0M654.2 344.4a2.85 2.85 0 1 0 5.7 0a2.85 2.85 0 1 0 -5.7 0M654.4 351.5a2.85 2.85 0 1 0 5.7 0a2.85 2.85 0 1 0 -5.7 0M654.6 354.0a2.85 2.85 0 1 0 5.7 0a2.85 2.85 0 1 0 -5.7 0M654.7 349.3a2.85 2.85 0 1 0 5.7 0a2.85 2.85 0 1 0 -5.7 0M654.9 367.2a2.85 2.85 0 1 0 5.7 0a2.85 2.85 0 1 0 -5.7 0M655.1 357.1a2.85 2.85 0 1 0 5.7 0a2.85 2.85 0 1 0 -5.7 0M655.2 362.1a2.85 2.85 0 1 0 5.7 0a2.85 2.85 0 1 0 -5.7 0M655.4 367.2a2.85 2.85 0 1 0 5.7 0a2.85 2.85 0 1 0 -5.7 0M655.5 364.6a2.85 2.85 0 1 0 5.7 0a2.85 2.85 0 1 0 -5.7 0M655.7 372.1a2.85 2.85 0 1 0 5.7 0a2.85 2.85 0 1 0 -5.7 0M655.9 371.3a2.85 2.85 0 1 0 5.7 0a2.85 2.85 0 1 0 -5.7 0M656.0 358.7a2.85 2.85 0 1 0 5.7 0a2.85 2.85 0 1 0 -5.7 0M656.2 361.1a2.85 2.85 0 1 0 5.7 0a2.85 2.85 0 1 0 -5.7 0M656.4 362.9a2.85 2.85 0 1 0 5.7 0a2.85 2.85 0 1 0 -5.7 0M656.5 351.1a2.85 2.85 0 1 0 5.7 0a2.85 2.85 0 1 0 -5.7 0M656.7 362.4a2.85 2.85 0 1 0 5.7 0a2.85 2.85 0 1 0 -5.7 0M656.8 355.9a2.85 2.85 0 1 0 5.7 0a2.85 2.85 0 1 0 -5.7 0M657.0 367.3a2.85 2.85 0 1 0 5.7 0a2.85 2.85 0 1 0 -5.7 0M657.2 368.1a2.85 2.85 0 1 0 5.7 0a2.85 2.85 0 1 0 -5.7 0M657.3 363.0a2.85 2.85 0 1 0 5.7 0a2.85 2.85 0 1 0 -5.7 0M657.5 363.7a2.85 2.85 0 1 0 5.7 0a2.85 2.85 0 1 0 -5.7 0M657.7 362.0a2.85 2.85 0 1 0 5.7 0a2.85 2.85 0 1 0 -5.7 0M657.8 359.6a2.85 2.85 0 1 0 5.7 0a2.85 2.85 0 1 0 -5.7 0M658.0 348.2a2.85 2.85 0 1 0 5.7 0a2.85 2.85 0 1 0 -5.7 0M658.2 366.2a2.85 2.85 0 1 0 5.7 0a2.85 2.85 0 1 0 -5.7 0M658.3 368.7a2.85 2.85 0 1 0 5.7 0a2.85 2.85 0 1 0 -5.7 0M658.5 356.4a2.85 2.85 0 1 0 5.7 0a2.85 2.85 0 1 0 -5.7 0M658.6 351.3a2.85 2.85 0 1 0 5.7 0a2.85 2.85 0 1 0 -5.7 0M658.8 347.7a2.85 2.85 0 1 0 5.7 0a2.85 2.85 0 1 0 -5.7 0M659.0 367.3a2.85 2.85 0 1 0 5.7 0a2.85 2.85 0 1 0 -5.7 0M659.1 356.3a2.85 2.85 0 1 0 5.7 0a2.85 2.85 0 1 0 -5.7 0M659.3 372.3a2.85 2.85 0 1 0 5.7 0a2.85 2.85 0 1 0 -5.7 0M659.5 360.3a2.85 2.85 0 1 0 5.7 0a2.85 2.85 0 1 0 -5.7 0M659.6 367.3a2.85 2.85 0 1 0 5.7 0a2.85 2.85 0 1 0 -5.7 0M659.8 363.7a2.85 2.85 0 1 0 5.7 0a2.85 2.85 0 1 0 -5.7 0M660.0 370.1a2.85 2.85 0 1 0 5.7 0a2.85 2.85 0 1 0 -5.7 0M660.1 351.1a2.85 2.85 0 1 0 5.7 0a2.85 2.85 0 1 0 -5.7 0M660.3 353.3a2.85 2.85 0 1 0 5.7 0a2.85 2.85 0 1 0 -5.7 0M660.4 356.6a2.85 2.85 0 1 0 5.7 0a2.85 2.85 0 1 0 -5.7 0M660.6 366.4a2.85 2.85 0 1 0 5.7 0a2.85 2.85 0 1 0 -5.7 0M660.8 348.2a2.85 2.85 0 1 0 5.7 0a2.85 2.85 0 1 0 -5.7 0M660.9 352.4a2.85 2.85 0 1 0 5.7 0a2.85 2.85 0 1 0 -5.7 0M661.1 361.6a2.85 2.85 0 1 0 5.7 0a2.85 2.85 0 1 0 -5.7 0M661.3 352.2a2.85 2.85 0 1 0 5.7 0a2.85 2.85 0 1 0 -5.7 0M661.4 356.3a2.85 2.85 0 1 0 5.7 0a2.85 2.85 0 1 0 -5.7 0M661.6 355.5a2.85 2.85 0 1 0 5.7 0a2.85 2.85 0 1 0 -5.7 0M661.7 354.2a2.85 2.85 0 1 0 5.7 0a2.85 2.85 0 1 0 -5.7 0M661.9 354.4a2.85 2.85 0 1 0 5.7 0a2.85 2.85 0 1 0 -5.7 0M662.1 359.7a2.85 2.85 0 1 0 5.7 0a2.85 2.85 0 1 0 -5.7 0M662.2 368.8a2.85 2.85 0 1 0 5.7 0a2.85 2.85 0 1 0 -5.7 0M662.4 366.9a2.85 2.85 0 1 0 5.7 0a2.85 2.85 0 1 0 -5.7 0M662.6 356.7a2.85 2.85 0 1 0 5.7 0a2.85 2.85 0 1 0 -5.7 0M662.7 362.7a2.85 2.85 0 1 0 5.7 0a2.85 2.85 0 1 0 -5.7 0M662.9 357.4a2.85 2.85 0 1 0 5.7 0a2.85 2.85 0 1 0 -5.7 0M663.1 372.6a2.85 2.85 0 1 0 5.7 0a2.85 2.85 0 1 0 -5.7 0M663.2 362.7a2.85 2.85 0 1 0 5.7 0a2.85 2.85 0 1 0 -5.7 0M663.4 362.6a2.85 2.85 0 1 0 5.7 0a2.85 2.85 0 1 0 -5.7 0M663.5 349.2a2.85 2.85 0 1 0 5.7 0a2.85 2.85 0 1 0 -5.7 0M663.7 361.8a2.85 2.85 0 1 0 5.7 0a2.85 2.85 0 1 0 -5.7 0M663.9 364.1a2.85 2.85 0 1 0 5.7 0a2.85 2.85 0 1 0 -5.7 0M664.0 359.0a2.85 2.85 0 1 0 5.7 0a2.85 2.85 0 1 0 -5.7 0M664.2 351.5a2.85 2.85 0 1 0 5.7 0a2.85 2.85 0 1 0 -5.7 0M664.4 342.0a2.85 2.85 0 1 0 5.7 0a2.85 2.85 0 1 0 -5.7 0M664.5 369.2a2.85 2.85 0 1 0 5.7 0a2.85 2.85 0 1 0 -5.7 0M664.7 347.6a2.85 2.85 0 1 0 5.7 0a2.85 2.85 0 1 0 -5.7 0M664.8 373.3a2.85 2.85 0 1 0 5.7 0a2.85 2.85 0 1 0 -5.7 0M665.0 350.3a2.85 2.85 0 1 0 5.7 0a2.85 2.85 0 1 0 -5.7 0M665.2 349.7a2.85 2.85 0 1 0 5.7 0a2.85 2.85 0 1 0 -5.7 0M665.3 352.0a2.85 2.85 0 1 0 5.7 0a2.85 2.85 0 1 0 -5.7 0M665.5 375.5a2.85 2.85 0 1 0 5.7 0a2.85 2.85 0 1 0 -5.7 0M665.7 366.4a2.85 2.85 0 1 0 5.7 0a2.85 2.85 0 1 0 -5.7 0M665.8 347.3a2.85 2.85 0 1 0 5.7 0a2.85 2.85 0 1 0 -5.7 0M666.0 356.6a2.85 2.85 0 1 0 5.7 0a2.85 2.85 0 1 0 -5.7 0M666.2 352.4a2.85 2.85 0 1 0 5.7 0a2.85 2.85 0 1 0 -5.7 0M666.3 359.4a2.85 2.85 0 1 0 5.7 0a2.85 2.85 0 1 0 -5.7 0M666.5 357.6a2.85 2.85 0 1 0 5.7 0a2.85 2.85 0 1 0 -5.7 0M666.6 357.4a2.85 2.85 0 1 0 5.7 0a2.85 2.85 0 1 0 -5.7 0M666.8 364.1a2.85 2.85 0 1 0 5.7 0a2.85 2.85 0 1 0 -5.7 0M667.0 353.0a2.85 2.85 0 1 0 5.7 0a2.85 2.85 0 1 0 -5.7 0M667.1 343.6a2.85 2.85 0 1 0 5.7 0a2.85 2.85 0 1 0 -5.7 0M667.3 367.3a2.85 2.85 0 1 0 5.7 0a2.85 2.85 0 1 0 -5.7 0M667.5 366.5a2.85 2.85 0 1 0 5.7 0a2.85 2.85 0 1 0 -5.7 0M667.6 366.5a2.85 2.85 0 1 0 5.7 0a2.85 2.85 0 1 0 -5.7 0M667.8 365.5a2.85 2.85 0 1 0 5.7 0a2.85 2.85 0 1 0 -5.7 0M668.0 358.7a2.85 2.85 0 1 0 5.7 0a2.85 2.85 0 1 0 -5.7 0M668.1 356.5a2.85 2.85 0 1 0 5.7 0a2.85 2.85 0 1 0 -5.7 0M668.3 356.0a2.85 2.85 0 1 0 5.7 0a2.85 2.85 0 1 0 -5.7 0M668.4 358.1a2.85 2.85 0 1 0 5.7 0a2.85 2.85 0 1 0 -5.7 0M668.6 368.3a2.85 2.85 0 1 0 5.7 0a2.85 2.85 0 1 0 -5.7 0M668.8 360.9a2.85 2.85 0 1 0 5.7 0a2.85 2.85 0 1 0 -5.7 0M668.9 367.0a2.85 2.85 0 1 0 5.7 0a2.85 2.85 0 1 0 -5.7 0M669.1 360.7a2.85 2.85 0 1 0 5.7 0a2.85 2.85 0 1 0 -5.7 0M669.3 356.4a2.85 2.85 0 1 0 5.7 0a2.85 2.85 0 1 0 -5.7 0M669.4 359.4a2.85 2.85 0 1 0 5.7 0a2.85 2.85 0 1 0 -5.7 0M669.6 350.7a2.85 2.85 0 1 0 5.7 0a2.85 2.85 0 1 0 -5.7 0M669.7 358.9a2.85 2.85 0 1 0 5.7 0a2.85 2.85 0 1 0 -5.7 0M669.9 352.4a2.85 2.85 0 1 0 5.7 0a2.85 2.85 0 1 0 -5.7 0M670.1 339.7a2.85 2.85 0 1 0 5.7 0a2.85 2.85 0 1 0 -5.7 0M670.2 354.1a2.85 2.85 0 1 0 5.7 0a2.85 2.85 0 1 0 -5.7 0M670.4 370.6a2.85 2.85 0 1 0 5.7 0a2.85 2.85 0 1 0 -5.7 0M670.6 368.2a2.85 2.85 0 1 0 5.7 0a2.85 2.85 0 1 0 -5.7 0M670.7 360.8a2.85 2.85 0 1 0 5.7 0a2.85 2.85 0 1 0 -5.7 0M670.9 354.3a2.85 2.85 0 1 0 5.7 0a2.85 2.85 0 1 0 -5.7 0M671.1 362.4a2.85 2.85 0 1 0 5.7 0a2.85 2.85 0 1 0 -5.7 0M671.2 355.5a2.85 2.85 0 1 0 5.7 0a2.85 2.85 0 1 0 -5.7 0M671.4 362.9a2.85 2.85 0 1 0 5.7 0a2.85 2.85 0 1 0 -5.7 0M671.5 361.6a2.85 2.85 0 1 0 5.7 0a2.85 2.85 0 1 0 -5.7 0M671.9 346.0a2.85 2.85 0 1 0 5.7 0a2.85 2.85 0 1 0 -5.7 0" fill="none" stroke="#f9806f" stroke-width="0.95"/>
<path d="M544.20 359.85L572.77 359.85L601.34 359.91L601.34 359.91L601.42 359.91L601.50 359.91L601.58 359.92L601.66 359.92L601.75 359.93L601.83 359.94L601.91 359.94L601.99 359.95L602.07 359.96L602.15 359.97L602.24 359.97L602.32 359.98L602.40 359.99L602.48 360.00L602.56 360.02L602.64 360.03L602.73 360.04L602.81 360.06L602.89 360.07L602.97 360.09L603.05 360.11L603.13 360.13L603.21 360.15L603.30 360.17L603.38 360.20L603.46 360.23L603.54 360.26L603.62 360.29L603.70 360.32L603.79 360.36L603.87 360.40L603.95 360.44L604.03 360.49L604.11 360.54L604.19 360.59L604.28 360.65L604.36 360.71L604.44 360.78L604.52 360.85L604.60 360.93L604.68 361.01L604.77 361.10L604.85 361.20L604.93 361.31L605.01 361.42L605.09 361.54L605.17 361.68L605.26 361.82L605.34 361.98L605.42 362.14L605.50 362.32L605.58 362.52L605.66 362.73L605.75 362.95L605.83 363.20L605.91 363.46L605.99 363.74L606.07 364.05L606.15 364.38L606.24 364.73L606.32 365.12L606.40 365.53L606.48 365.98L606.56 366.46L606.64 366.98L606.72 367.54L606.81 368.15L606.89 368.80L606.97 369.50L607.05 370.26L607.13 371.08L607.21 371.96L607.30 372.92L607.38 373.95L607.46 375.06L607.54 376.25L607.62 377.54L607.70 378.93L607.79 380.44L607.87 382.06L607.95 383.80L608.03 385.69L608.11 387.72L608.19 389.91L608.28 392.28L608.36 394.83L608.44 397.58L608.52 400.55L608.60 403.76L608.68 407.21L608.77 410.94L608.85 414.96L608.93 419.29L609.01 423.97L609.09 429.02L609.17 434.46L609.26 440.33L609.34 446.67L609.42 453.50L609.50 460.87L609.58 453.50L609.66 446.67L609.74 440.33L609.83 434.46L609.91 429.02L609.99 423.97L610.07 419.29L610.15 414.96L610.23 410.94L610.32 407.21L610.40 403.76L610.48 400.55L610.56 397.58L610.64 394.83L610.72 392.28L610.81 389.91L610.89 387.72L610.97 385.69L611.05 383.80L611.13 382.06L611.21 380.44L611.30 378.93L611.38 377.54L611.46 376.25L611.54 375.06L611.62 373.95L611.70 372.92L611.79 371.96L611.87 371.08L611.95 370.26L612.03 369.50L612.11 368.80L612.19 368.15L612.28 367.54L612.36 366.98L612.44 366.46L612.52 365.98L612.60 365.53L612.68 365.12L612.76 364.73L612.85 364.38L612.93 364.05L613.01 363.74L613.09 363.46L613.17 363.20L613.25 362.95L613.34 362.73L613.42 362.52L613.50 362.32L613.58 362.14L613.66 361.98L613.74 361.82L613.83 361.68L613.91 361.54L613.99 361.42L614.07 361.31L614.15 361.20L614.23 361.10L614.32 361.01L614.40 360.93L614.48 360.85L614.56 360.78L614.64 360.71L614.72 360.65L614.81 360.59L614.89 360.54L614.97 360.49L615.05 360.44L615.13 360.40L615.21 360.36L615.30 360.32L615.38 360.29L615.46 360.26L615.54 360.23L615.62 360.20L615.70 360.17L615.79 360.15L615.87 360.13L615.95 360.11L616.03 360.09L616.11 360.07L616.19 360.06L616.27 360.04L616.36 360.03L616.44 360.02L616.52 360.00L616.60 359.99L616.68 359.98L616.76 359.97L616.85 359.97L616.93 359.96L617.01 359.95L617.09 359.94L617.17 359.94L617.25 359.93L617.34 359.92L617.42 359.92L617.50 359.91L617.58 359.91L617.66 359.91L617.66 359.91L646.23 359.85L674.80 359.85" fill="none" stroke="#231f20" stroke-width="1.1" stroke-dasharray="3.6 2.6"/>
<rect x="544.2" y="332.1" width="130.6" height="130.1" fill="none" stroke="#231f20" stroke-width="1.0"/>
<text x="544.2" y="473.8" font-size="10" text-anchor="middle" fill="#231f20" >-200</text>
<text x="576.9" y="473.8" font-size="10" text-anchor="middle" fill="#231f20" >-100</text>
<text x="609.5" y="473.8" font-size="10" text-anchor="middle" fill="#231f20" >0</text>
<text x="642.1" y="473.8" font-size="10" text-anchor="middle" fill="#231f20" >100</text>
<text x="674.8" y="473.8" font-size="10" text-anchor="middle" fill="#231f20" >200</text>
<path d="M544.2 462.2v-3M576.9 462.2v-3M609.5 462.2v-3M642.1 462.2v-3M674.8 462.2v-3" stroke="#231f20" stroke-width="0.9" fill="none"/>
<text x="542" y="465.8" font-size="10" text-anchor="end" fill="#231f20" >0</text>
<text x="542" y="422.4" font-size="10" text-anchor="end" fill="#231f20" >100</text>
<text x="542" y="379.1" font-size="10" text-anchor="end" fill="#231f20" >200</text>
<text x="542" y="335.7" font-size="10" text-anchor="end" fill="#231f20" >300</text>
<path d="M544.2 462.2h3M544.2 418.8h3M544.2 375.5h3M544.2 332.1h3" stroke="#231f20" stroke-width="0.9" fill="none"/>
<text transform="translate(522.7,398.5) rotate(-90)" font-size="10" text-anchor="middle" fill="#231f20" textLength="55" lengthAdjust="spacingAndGlyphs">Coincidence</text>
<text x="609.5" y="483.6" font-size="10" text-anchor="middle" fill="#231f20" textLength="44" lengthAdjust="spacingAndGlyphs" >Delay (ns)</text>
<text x="614.3" y="454.3" font-size="10" fill="#231f20" textLength="56" lengthAdjust="spacingAndGlyphs">g<tspan font-size="6.5" dy="-4">(2)</tspan><tspan dy="4">(0) = 1.3%</tspan></text>
<rect x="558.5" y="392.9" width="43.7" height="43.2" fill="#fff" stroke="#231f20" stroke-width="1"/>
<path d="M555.9 405.3a2.6 2.6 0 1 0 5.2 0a2.6 2.6 0 1 0 -5.2 0M558.1 406.0a2.6 2.6 0 1 0 5.2 0a2.6 2.6 0 1 0 -5.2 0M560.3 407.9a2.6 2.6 0 1 0 5.2 0a2.6 2.6 0 1 0 -5.2 0M562.5 408.0a2.6 2.6 0 1 0 5.2 0a2.6 2.6 0 1 0 -5.2 0M564.6 412.1a2.6 2.6 0 1 0 5.2 0a2.6 2.6 0 1 0 -5.2 0M566.8 413.3a2.6 2.6 0 1 0 5.2 0a2.6 2.6 0 1 0 -5.2 0M569.0 418.4a2.6 2.6 0 1 0 5.2 0a2.6 2.6 0 1 0 -5.2 0M571.2 419.8a2.6 2.6 0 1 0 5.2 0a2.6 2.6 0 1 0 -5.2 0M573.4 423.6a2.6 2.6 0 1 0 5.2 0a2.6 2.6 0 1 0 -5.2 0M575.6 426.1a2.6 2.6 0 1 0 5.2 0a2.6 2.6 0 1 0 -5.2 0M577.8 432.9a2.6 2.6 0 1 0 5.2 0a2.6 2.6 0 1 0 -5.2 0M579.9 427.1a2.6 2.6 0 1 0 5.2 0a2.6 2.6 0 1 0 -5.2 0M582.1 424.8a2.6 2.6 0 1 0 5.2 0a2.6 2.6 0 1 0 -5.2 0M584.3 420.1a2.6 2.6 0 1 0 5.2 0a2.6 2.6 0 1 0 -5.2 0M586.5 416.4a2.6 2.6 0 1 0 5.2 0a2.6 2.6 0 1 0 -5.2 0M588.7 415.4a2.6 2.6 0 1 0 5.2 0a2.6 2.6 0 1 0 -5.2 0M590.9 412.3a2.6 2.6 0 1 0 5.2 0a2.6 2.6 0 1 0 -5.2 0M593.0 409.2a2.6 2.6 0 1 0 5.2 0a2.6 2.6 0 1 0 -5.2 0M595.2 408.7a2.6 2.6 0 1 0 5.2 0a2.6 2.6 0 1 0 -5.2 0M597.4 408.5a2.6 2.6 0 1 0 5.2 0a2.6 2.6 0 1 0 -5.2 0M599.6 404.3a2.6 2.6 0 1 0 5.2 0a2.6 2.6 0 1 0 -5.2 0" fill="none" stroke="#f9806f" stroke-width="0.75"/>
<path d="M558.50 406.49L559.05 406.71L559.59 406.94L560.14 407.19L560.68 407.45L561.23 407.73L561.78 408.01L562.32 408.32L562.87 408.63L563.42 408.97L563.96 409.32L564.51 409.69L565.06 410.08L565.60 410.49L566.15 410.91L566.69 411.37L567.24 411.84L567.79 412.34L568.33 412.86L568.88 413.41L569.42 413.99L569.97 414.60L570.52 415.24L571.06 415.92L571.61 416.62L572.16 417.37L572.70 418.15L573.25 418.97L573.79 419.83L574.34 420.74L574.89 421.70L575.43 422.70L575.98 423.76L576.53 424.87L577.07 426.03L577.62 427.26L578.16 428.55L578.71 429.90L579.26 431.33L579.80 432.83L580.35 434.40L580.90 432.83L581.44 431.33L581.99 429.90L582.54 428.55L583.08 427.26L583.63 426.03L584.17 424.87L584.72 423.76L585.27 422.70L585.81 421.70L586.36 420.74L586.90 419.83L587.45 418.97L588.00 418.15L588.54 417.37L589.09 416.62L589.64 415.92L590.18 415.24L590.73 414.60L591.28 413.99L591.82 413.41L592.37 412.86L592.91 412.34L593.46 411.84L594.01 411.37L594.55 410.91L595.10 410.49L595.64 410.08L596.19 409.69L596.74 409.32L597.28 408.97L597.83 408.63L598.38 408.32L598.92 408.01L599.47 407.73L600.02 407.45L600.56 407.19L601.11 406.94L601.65 406.71L602.20 406.49" fill="none" stroke="#231f20" stroke-width="1" stroke-dasharray="3 2.4"/>
<text x="563.5" y="390.3" font-size="8.5" text-anchor="end" fill="#231f20" >300</text>
<text x="557" y="437.3" font-size="8.5" text-anchor="end" fill="#231f20" >0</text>
<text x="558.5" y="444.6" font-size="8.5" text-anchor="middle" fill="#231f20" >-10</text>
<text x="580.4" y="444.6" font-size="8.5" text-anchor="middle" fill="#231f20" >0</text>
<text x="602.2" y="444.6" font-size="8.5" text-anchor="middle" fill="#231f20" >10</text>
<path d="M373.1 510.3a2.4 2.4 0 1 0 4.8 0a2.4 2.4 0 1 0 -4.8 0M382.9 519.7a2.4 2.4 0 1 0 4.8 0a2.4 2.4 0 1 0 -4.8 0M388.6 526.0a2.4 2.4 0 1 0 4.8 0a2.4 2.4 0 1 0 -4.8 0M392.7 529.9a2.4 2.4 0 1 0 4.8 0a2.4 2.4 0 1 0 -4.8 0M395.9 532.9a2.4 2.4 0 1 0 4.8 0a2.4 2.4 0 1 0 -4.8 0M398.4 535.2a2.4 2.4 0 1 0 4.8 0a2.4 2.4 0 1 0 -4.8 0M400.6 537.9a2.4 2.4 0 1 0 4.8 0a2.4 2.4 0 1 0 -4.8 0M402.5 539.2a2.4 2.4 0 1 0 4.8 0a2.4 2.4 0 1 0 -4.8 0M404.2 541.5a2.4 2.4 0 1 0 4.8 0a2.4 2.4 0 1 0 -4.8 0M405.7 542.4a2.4 2.4 0 1 0 4.8 0a2.4 2.4 0 1 0 -4.8 0M407.0 544.1a2.4 2.4 0 1 0 4.8 0a2.4 2.4 0 1 0 -4.8 0M408.2 545.7a2.4 2.4 0 1 0 4.8 0a2.4 2.4 0 1 0 -4.8 0M409.4 546.5a2.4 2.4 0 1 0 4.8 0a2.4 2.4 0 1 0 -4.8 0M410.4 547.2a2.4 2.4 0 1 0 4.8 0a2.4 2.4 0 1 0 -4.8 0M411.4 547.8a2.4 2.4 0 1 0 4.8 0a2.4 2.4 0 1 0 -4.8 0M412.3 549.5a2.4 2.4 0 1 0 4.8 0a2.4 2.4 0 1 0 -4.8 0M413.2 550.4a2.4 2.4 0 1 0 4.8 0a2.4 2.4 0 1 0 -4.8 0M414.0 552.4a2.4 2.4 0 1 0 4.8 0a2.4 2.4 0 1 0 -4.8 0M414.7 552.7a2.4 2.4 0 1 0 4.8 0a2.4 2.4 0 1 0 -4.8 0M415.4 553.0a2.4 2.4 0 1 0 4.8 0a2.4 2.4 0 1 0 -4.8 0M416.1 553.2a2.4 2.4 0 1 0 4.8 0a2.4 2.4 0 1 0 -4.8 0M416.8 554.5a2.4 2.4 0 1 0 4.8 0a2.4 2.4 0 1 0 -4.8 0M417.4 555.1a2.4 2.4 0 1 0 4.8 0a2.4 2.4 0 1 0 -4.8 0M418.0 555.5a2.4 2.4 0 1 0 4.8 0a2.4 2.4 0 1 0 -4.8 0M418.6 556.1a2.4 2.4 0 1 0 4.8 0a2.4 2.4 0 1 0 -4.8 0M419.2 557.1a2.4 2.4 0 1 0 4.8 0a2.4 2.4 0 1 0 -4.8 0M419.7 557.2a2.4 2.4 0 1 0 4.8 0a2.4 2.4 0 1 0 -4.8 0M420.2 557.2a2.4 2.4 0 1 0 4.8 0a2.4 2.4 0 1 0 -4.8 0M420.7 557.1a2.4 2.4 0 1 0 4.8 0a2.4 2.4 0 1 0 -4.8 0M421.2 558.7a2.4 2.4 0 1 0 4.8 0a2.4 2.4 0 1 0 -4.8 0M421.6 558.5a2.4 2.4 0 1 0 4.8 0a2.4 2.4 0 1 0 -4.8 0M422.1 560.3a2.4 2.4 0 1 0 4.8 0a2.4 2.4 0 1 0 -4.8 0M422.5 560.8a2.4 2.4 0 1 0 4.8 0a2.4 2.4 0 1 0 -4.8 0M422.9 559.4a2.4 2.4 0 1 0 4.8 0a2.4 2.4 0 1 0 -4.8 0M423.4 561.4a2.4 2.4 0 1 0 4.8 0a2.4 2.4 0 1 0 -4.8 0M423.8 562.1a2.4 2.4 0 1 0 4.8 0a2.4 2.4 0 1 0 -4.8 0M424.1 562.4a2.4 2.4 0 1 0 4.8 0a2.4 2.4 0 1 0 -4.8 0M424.5 562.8a2.4 2.4 0 1 0 4.8 0a2.4 2.4 0 1 0 -4.8 0M424.9 563.1a2.4 2.4 0 1 0 4.8 0a2.4 2.4 0 1 0 -4.8 0M425.2 564.7a2.4 2.4 0 1 0 4.8 0a2.4 2.4 0 1 0 -4.8 0M425.6 562.6a2.4 2.4 0 1 0 4.8 0a2.4 2.4 0 1 0 -4.8 0M425.9 564.7a2.4 2.4 0 1 0 4.8 0a2.4 2.4 0 1 0 -4.8 0M426.3 564.4a2.4 2.4 0 1 0 4.8 0a2.4 2.4 0 1 0 -4.8 0M426.6 563.3a2.4 2.4 0 1 0 4.8 0a2.4 2.4 0 1 0 -4.8 0M426.9 566.7a2.4 2.4 0 1 0 4.8 0a2.4 2.4 0 1 0 -4.8 0M427.2 564.8a2.4 2.4 0 1 0 4.8 0a2.4 2.4 0 1 0 -4.8 0M427.5 567.5a2.4 2.4 0 1 0 4.8 0a2.4 2.4 0 1 0 -4.8 0M427.8 567.2a2.4 2.4 0 1 0 4.8 0a2.4 2.4 0 1 0 -4.8 0M428.1 567.0a2.4 2.4 0 1 0 4.8 0a2.4 2.4 0 1 0 -4.8 0M428.4 568.7a2.4 2.4 0 1 0 4.8 0a2.4 2.4 0 1 0 -4.8 0M428.7 567.5a2.4 2.4 0 1 0 4.8 0a2.4 2.4 0 1 0 -4.8 0M429.0 568.4a2.4 2.4 0 1 0 4.8 0a2.4 2.4 0 1 0 -4.8 0M429.2 565.8a2.4 2.4 0 1 0 4.8 0a2.4 2.4 0 1 0 -4.8 0M429.5 569.9a2.4 2.4 0 1 0 4.8 0a2.4 2.4 0 1 0 -4.8 0M429.7 569.7a2.4 2.4 0 1 0 4.8 0a2.4 2.4 0 1 0 -4.8 0M430.3 572.5a2.4 2.4 0 1 0 4.8 0a2.4 2.4 0 1 0 -4.8 0M430.5 570.5a2.4 2.4 0 1 0 4.8 0a2.4 2.4 0 1 0 -4.8 0M430.7 572.7a2.4 2.4 0 1 0 4.8 0a2.4 2.4 0 1 0 -4.8 0M431.2 573.6a2.4 2.4 0 1 0 4.8 0a2.4 2.4 0 1 0 -4.8 0M431.4 574.5a2.4 2.4 0 1 0 4.8 0a2.4 2.4 0 1 0 -4.8 0M431.9 574.8a2.4 2.4 0 1 0 4.8 0a2.4 2.4 0 1 0 -4.8 0M432.1 571.5a2.4 2.4 0 1 0 4.8 0a2.4 2.4 0 1 0 -4.8 0M432.3 575.7a2.4 2.4 0 1 0 4.8 0a2.4 2.4 0 1 0 -4.8 0M432.5 575.9a2.4 2.4 0 1 0 4.8 0a2.4 2.4 0 1 0 -4.8 0M432.7 572.6a2.4 2.4 0 1 0 4.8 0a2.4 2.4 0 1 0 -4.8 0M433.0 577.0a2.4 2.4 0 1 0 4.8 0a2.4 2.4 0 1 0 -4.8 0M433.2 573.0a2.4 2.4 0 1 0 4.8 0a2.4 2.4 0 1 0 -4.8 0M433.4 577.8a2.4 2.4 0 1 0 4.8 0a2.4 2.4 0 1 0 -4.8 0M433.6 573.9a2.4 2.4 0 1 0 4.8 0a2.4 2.4 0 1 0 -4.8 0M433.9 577.2a2.4 2.4 0 1 0 4.8 0a2.4 2.4 0 1 0 -4.8 0M434.1 577.6a2.4 2.4 0 1 0 4.8 0a2.4 2.4 0 1 0 -4.8 0M434.3 574.6a2.4 2.4 0 1 0 4.8 0a2.4 2.4 0 1 0 -4.8 0M434.5 575.1a2.4 2.4 0 1 0 4.8 0a2.4 2.4 0 1 0 -4.8 0M434.7 578.5a2.4 2.4 0 1 0 4.8 0a2.4 2.4 0 1 0 -4.8 0M434.9 579.0a2.4 2.4 0 1 0 4.8 0a2.4 2.4 0 1 0 -4.8 0M435.0 573.6a2.4 2.4 0 1 0 4.8 0a2.4 2.4 0 1 0 -4.8 0M435.2 576.4a2.4 2.4 0 1 0 4.8 0a2.4 2.4 0 1 0 -4.8 0M435.4 579.7a2.4 2.4 0 1 0 4.8 0a2.4 2.4 0 1 0 -4.8 0M435.6 582.6a2.4 2.4 0 1 0 4.8 0a2.4 2.4 0 1 0 -4.8 0M435.7 581.6a2.4 2.4 0 1 0 4.8 0a2.4 2.4 0 1 0 -4.8 0M435.9 574.1a2.4 2.4 0 1 0 4.8 0a2.4 2.4 0 1 0 -4.8 0M436.1 580.3a2.4 2.4 0 1 0 4.8 0a2.4 2.4 0 1 0 -4.8 0M436.2 583.1a2.4 2.4 0 1 0 4.8 0a2.4 2.4 0 1 0 -4.8 0M436.4 579.6a2.4 2.4 0 1 0 4.8 0a2.4 2.4 0 1 0 -4.8 0M436.6 583.9a2.4 2.4 0 1 0 4.8 0a2.4 2.4 0 1 0 -4.8 0M436.7 586.7a2.4 2.4 0 1 0 4.8 0a2.4 2.4 0 1 0 -4.8 0M436.9 577.0a2.4 2.4 0 1 0 4.8 0a2.4 2.4 0 1 0 -4.8 0M437.2 577.8a2.4 2.4 0 1 0 4.8 0a2.4 2.4 0 1 0 -4.8 0M437.3 577.2a2.4 2.4 0 1 0 4.8 0a2.4 2.4 0 1 0 -4.8 0M437.5 581.6a2.4 2.4 0 1 0 4.8 0a2.4 2.4 0 1 0 -4.8 0M437.6 586.7a2.4 2.4 0 1 0 4.8 0a2.4 2.4 0 1 0 -4.8 0M437.8 576.3a2.4 2.4 0 1 0 4.8 0a2.4 2.4 0 1 0 -4.8 0M437.9 587.8a2.4 2.4 0 1 0 4.8 0a2.4 2.4 0 1 0 -4.8 0M438.1 576.2a2.4 2.4 0 1 0 4.8 0a2.4 2.4 0 1 0 -4.8 0M438.2 585.7a2.4 2.4 0 1 0 4.8 0a2.4 2.4 0 1 0 -4.8 0M438.3 582.1a2.4 2.4 0 1 0 4.8 0a2.4 2.4 0 1 0 -4.8 0M438.5 575.2a2.4 2.4 0 1 0 4.8 0a2.4 2.4 0 1 0 -4.8 0M438.8 577.5a2.4 2.4 0 1 0 4.8 0a2.4 2.4 0 1 0 -4.8 0M438.9 575.7a2.4 2.4 0 1 0 4.8 0a2.4 2.4 0 1 0 -4.8 0M439.0 589.9a2.4 2.4 0 1 0 4.8 0a2.4 2.4 0 1 0 -4.8 0M439.2 583.1a2.4 2.4 0 1 0 4.8 0a2.4 2.4 0 1 0 -4.8 0M439.3 578.5a2.4 2.4 0 1 0 4.8 0a2.4 2.4 0 1 0 -4.8 0M439.4 581.0a2.4 2.4 0 1 0 4.8 0a2.4 2.4 0 1 0 -4.8 0M439.5 583.3a2.4 2.4 0 1 0 4.8 0a2.4 2.4 0 1 0 -4.8 0M439.7 582.1a2.4 2.4 0 1 0 4.8 0a2.4 2.4 0 1 0 -4.8 0M439.8 581.6a2.4 2.4 0 1 0 4.8 0a2.4 2.4 0 1 0 -4.8 0M439.9 580.7a2.4 2.4 0 1 0 4.8 0a2.4 2.4 0 1 0 -4.8 0M440.1 587.4a2.4 2.4 0 1 0 4.8 0a2.4 2.4 0 1 0 -4.8 0M440.2 580.5a2.4 2.4 0 1 0 4.8 0a2.4 2.4 0 1 0 -4.8 0M440.3 592.6a2.4 2.4 0 1 0 4.8 0a2.4 2.4 0 1 0 -4.8 0M440.4 594.5a2.4 2.4 0 1 0 4.8 0a2.4 2.4 0 1 0 -4.8 0M440.5 589.5a2.4 2.4 0 1 0 4.8 0a2.4 2.4 0 1 0 -4.8 0M440.7 579.7a2.4 2.4 0 1 0 4.8 0a2.4 2.4 0 1 0 -4.8 0M440.8 590.4a2.4 2.4 0 1 0 4.8 0a2.4 2.4 0 1 0 -4.8 0M440.9 585.3a2.4 2.4 0 1 0 4.8 0a2.4 2.4 0 1 0 -4.8 0M441.0 579.2a2.4 2.4 0 1 0 4.8 0a2.4 2.4 0 1 0 -4.8 0M441.1 581.4a2.4 2.4 0 1 0 4.8 0a2.4 2.4 0 1 0 -4.8 0M441.2 584.2a2.4 2.4 0 1 0 4.8 0a2.4 2.4 0 1 0 -4.8 0M441.4 586.7a2.4 2.4 0 1 0 4.8 0a2.4 2.4 0 1 0 -4.8 0M441.5 591.5a2.4 2.4 0 1 0 4.8 0a2.4 2.4 0 1 0 -4.8 0M441.6 589.9a2.4 2.4 0 1 0 4.8 0a2.4 2.4 0 1 0 -4.8 0M441.7 589.0a2.4 2.4 0 1 0 4.8 0a2.4 2.4 0 1 0 -4.8 0M441.8 580.5a2.4 2.4 0 1 0 4.8 0a2.4 2.4 0 1 0 -4.8 0M441.9 593.9a2.4 2.4 0 1 0 4.8 0a2.4 2.4 0 1 0 -4.8 0M442.0 592.6a2.4 2.4 0 1 0 4.8 0a2.4 2.4 0 1 0 -4.8 0M442.1 584.2a2.4 2.4 0 1 0 4.8 0a2.4 2.4 0 1 0 -4.8 0M442.2 592.0a2.4 2.4 0 1 0 4.8 0a2.4 2.4 0 1 0 -4.8 0M442.3 596.1a2.4 2.4 0 1 0 4.8 0a2.4 2.4 0 1 0 -4.8 0M442.4 585.3a2.4 2.4 0 1 0 4.8 0a2.4 2.4 0 1 0 -4.8 0M442.5 592.6a2.4 2.4 0 1 0 4.8 0a2.4 2.4 0 1 0 -4.8 0M442.7 587.4a2.4 2.4 0 1 0 4.8 0a2.4 2.4 0 1 0 -4.8 0M442.8 589.9a2.4 2.4 0 1 0 4.8 0a2.4 2.4 0 1 0 -4.8 0M442.9 583.6a2.4 2.4 0 1 0 4.8 0a2.4 2.4 0 1 0 -4.8 0M443.0 579.0a2.4 2.4 0 1 0 4.8 0a2.4 2.4 0 1 0 -4.8 0M443.1 602.4a2.4 2.4 0 1 0 4.8 0a2.4 2.4 0 1 0 -4.8 0M443.2 594.5a2.4 2.4 0 1 0 4.8 0a2.4 2.4 0 1 0 -4.8 0M443.3 589.9a2.4 2.4 0 1 0 4.8 0a2.4 2.4 0 1 0 -4.8 0M443.4 590.9a2.4 2.4 0 1 0 4.8 0a2.4 2.4 0 1 0 -4.8 0M443.5 593.9a2.4 2.4 0 1 0 4.8 0a2.4 2.4 0 1 0 -4.8 0M443.5 581.4a2.4 2.4 0 1 0 4.8 0a2.4 2.4 0 1 0 -4.8 0M443.6 582.6a2.4 2.4 0 1 0 4.8 0a2.4 2.4 0 1 0 -4.8 0M443.7 586.7a2.4 2.4 0 1 0 4.8 0a2.4 2.4 0 1 0 -4.8 0M443.8 596.1a2.4 2.4 0 1 0 4.8 0a2.4 2.4 0 1 0 -4.8 0M443.9 586.3a2.4 2.4 0 1 0 4.8 0a2.4 2.4 0 1 0 -4.8 0M444.0 590.9a2.4 2.4 0 1 0 4.8 0a2.4 2.4 0 1 0 -4.8 0M444.1 599.9a2.4 2.4 0 1 0 4.8 0a2.4 2.4 0 1 0 -4.8 0M444.2 592.6a2.4 2.4 0 1 0 4.8 0a2.4 2.4 0 1 0 -4.8 0M444.3 593.2a2.4 2.4 0 1 0 4.8 0a2.4 2.4 0 1 0 -4.8 0M444.4 597.8a2.4 2.4 0 1 0 4.8 0a2.4 2.4 0 1 0 -4.8 0M444.5 592.6a2.4 2.4 0 1 0 4.8 0a2.4 2.4 0 1 0 -4.8 0M444.6 593.2a2.4 2.4 0 1 0 4.8 0a2.4 2.4 0 1 0 -4.8 0M444.7 590.9a2.4 2.4 0 1 0 4.8 0a2.4 2.4 0 1 0 -4.8 0M444.8 598.8a2.4 2.4 0 1 0 4.8 0a2.4 2.4 0 1 0 -4.8 0M444.8 589.0a2.4 2.4 0 1 0 4.8 0a2.4 2.4 0 1 0 -4.8 0M444.9 591.5a2.4 2.4 0 1 0 4.8 0a2.4 2.4 0 1 0 -4.8 0M445.1 593.2a2.4 2.4 0 1 0 4.8 0a2.4 2.4 0 1 0 -4.8 0M445.2 592.0a2.4 2.4 0 1 0 4.8 0a2.4 2.4 0 1 0 -4.8 0M445.3 602.4a2.4 2.4 0 1 0 4.8 0a2.4 2.4 0 1 0 -4.8 0M445.4 583.6a2.4 2.4 0 1 0 4.8 0a2.4 2.4 0 1 0 -4.8 0M445.5 605.7a2.4 2.4 0 1 0 4.8 0a2.4 2.4 0 1 0 -4.8 0M445.6 592.0a2.4 2.4 0 1 0 4.8 0a2.4 2.4 0 1 0 -4.8 0M445.7 593.2a2.4 2.4 0 1 0 4.8 0a2.4 2.4 0 1 0 -4.8 0M445.8 582.8a2.4 2.4 0 1 0 4.8 0a2.4 2.4 0 1 0 -4.8 0M445.9 602.4a2.4 2.4 0 1 0 4.8 0a2.4 2.4 0 1 0 -4.8 0M445.9 598.8a2.4 2.4 0 1 0 4.8 0a2.4 2.4 0 1 0 -4.8 0M446.0 605.7a2.4 2.4 0 1 0 4.8 0a2.4 2.4 0 1 0 -4.8 0M446.1 588.6a2.4 2.4 0 1 0 4.8 0a2.4 2.4 0 1 0 -4.8 0M446.2 589.9a2.4 2.4 0 1 0 4.8 0a2.4 2.4 0 1 0 -4.8 0M446.3 587.0a2.4 2.4 0 1 0 4.8 0a2.4 2.4 0 1 0 -4.8 0M446.4 589.0a2.4 2.4 0 1 0 4.8 0a2.4 2.4 0 1 0 -4.8 0M446.4 598.8a2.4 2.4 0 1 0 4.8 0a2.4 2.4 0 1 0 -4.8 0M446.5 596.1a2.4 2.4 0 1 0 4.8 0a2.4 2.4 0 1 0 -4.8 0M446.6 601.1a2.4 2.4 0 1 0 4.8 0a2.4 2.4 0 1 0 -4.8 0M446.7 587.8a2.4 2.4 0 1 0 4.8 0a2.4 2.4 0 1 0 -4.8 0M446.7 589.5a2.4 2.4 0 1 0 4.8 0a2.4 2.4 0 1 0 -4.8 0M446.9 599.9a2.4 2.4 0 1 0 4.8 0a2.4 2.4 0 1 0 -4.8 0M447.0 607.7a2.4 2.4 0 1 0 4.8 0a2.4 2.4 0 1 0 -4.8 0M447.0 593.9a2.4 2.4 0 1 0 4.8 0a2.4 2.4 0 1 0 -4.8 0M447.1 588.6a2.4 2.4 0 1 0 4.8 0a2.4 2.4 0 1 0 -4.8 0M447.2 594.5a2.4 2.4 0 1 0 4.8 0a2.4 2.4 0 1 0 -4.8 0M447.3 596.1a2.4 2.4 0 1 0 4.8 0a2.4 2.4 0 1 0 -4.8 0M447.3 596.9a2.4 2.4 0 1 0 4.8 0a2.4 2.4 0 1 0 -4.8 0M447.5 603.9a2.4 2.4 0 1 0 4.8 0a2.4 2.4 0 1 0 -4.8 0M447.6 605.7a2.4 2.4 0 1 0 4.8 0a2.4 2.4 0 1 0 -4.8 0M447.7 601.1a2.4 2.4 0 1 0 4.8 0a2.4 2.4 0 1 0 -4.8 0M447.8 587.4a2.4 2.4 0 1 0 4.8 0a2.4 2.4 0 1 0 -4.8 0M447.9 602.4a2.4 2.4 0 1 0 4.8 0a2.4 2.4 0 1 0 -4.8 0M447.9 588.6a2.4 2.4 0 1 0 4.8 0a2.4 2.4 0 1 0 -4.8 0M448.1 596.9a2.4 2.4 0 1 0 4.8 0a2.4 2.4 0 1 0 -4.8 0M448.1 607.7a2.4 2.4 0 1 0 4.8 0a2.4 2.4 0 1 0 -4.8 0M448.2 618.1a2.4 2.4 0 1 0 4.8 0a2.4 2.4 0 1 0 -4.8 0M448.3 597.8a2.4 2.4 0 1 0 4.8 0a2.4 2.4 0 1 0 -4.8 0M448.3 603.9a2.4 2.4 0 1 0 4.8 0a2.4 2.4 0 1 0 -4.8 0M448.4 596.9a2.4 2.4 0 1 0 4.8 0a2.4 2.4 0 1 0 -4.8 0M448.5 589.0a2.4 2.4 0 1 0 4.8 0a2.4 2.4 0 1 0 -4.8 0M448.6 601.1a2.4 2.4 0 1 0 4.8 0a2.4 2.4 0 1 0 -4.8 0M448.6 595.3a2.4 2.4 0 1 0 4.8 0a2.4 2.4 0 1 0 -4.8 0M448.7 593.2a2.4 2.4 0 1 0 4.8 0a2.4 2.4 0 1 0 -4.8 0M448.8 588.2a2.4 2.4 0 1 0 4.8 0a2.4 2.4 0 1 0 -4.8 0M448.9 599.9a2.4 2.4 0 1 0 4.8 0a2.4 2.4 0 1 0 -4.8 0M449.0 613.5a2.4 2.4 0 1 0 4.8 0a2.4 2.4 0 1 0 -4.8 0M449.1 607.7a2.4 2.4 0 1 0 4.8 0a2.4 2.4 0 1 0 -4.8 0M449.2 589.5a2.4 2.4 0 1 0 4.8 0a2.4 2.4 0 1 0 -4.8 0M449.3 610.3a2.4 2.4 0 1 0 4.8 0a2.4 2.4 0 1 0 -4.8 0M449.3 596.1a2.4 2.4 0 1 0 4.8 0a2.4 2.4 0 1 0 -4.8 0M449.4 598.8a2.4 2.4 0 1 0 4.8 0a2.4 2.4 0 1 0 -4.8 0M449.5 599.9a2.4 2.4 0 1 0 4.8 0a2.4 2.4 0 1 0 -4.8 0M449.5 605.7a2.4 2.4 0 1 0 4.8 0a2.4 2.4 0 1 0 -4.8 0M449.6 592.0a2.4 2.4 0 1 0 4.8 0a2.4 2.4 0 1 0 -4.8 0M449.7 602.4a2.4 2.4 0 1 0 4.8 0a2.4 2.4 0 1 0 -4.8 0M449.7 593.2a2.4 2.4 0 1 0 4.8 0a2.4 2.4 0 1 0 -4.8 0M449.8 607.7a2.4 2.4 0 1 0 4.8 0a2.4 2.4 0 1 0 -4.8 0M449.9 601.1a2.4 2.4 0 1 0 4.8 0a2.4 2.4 0 1 0 -4.8 0M449.9 598.8a2.4 2.4 0 1 0 4.8 0a2.4 2.4 0 1 0 -4.8 0M450.0 596.9a2.4 2.4 0 1 0 4.8 0a2.4 2.4 0 1 0 -4.8 0M450.0 588.6a2.4 2.4 0 1 0 4.8 0a2.4 2.4 0 1 0 -4.8 0M450.1 593.9a2.4 2.4 0 1 0 4.8 0a2.4 2.4 0 1 0 -4.8 0M450.2 602.4a2.4 2.4 0 1 0 4.8 0a2.4 2.4 0 1 0 -4.8 0M450.3 613.5a2.4 2.4 0 1 0 4.8 0a2.4 2.4 0 1 0 -4.8 0M450.3 601.1a2.4 2.4 0 1 0 4.8 0a2.4 2.4 0 1 0 -4.8 0M450.4 597.8a2.4 2.4 0 1 0 4.8 0a2.4 2.4 0 1 0 -4.8 0M450.5 599.9a2.4 2.4 0 1 0 4.8 0a2.4 2.4 0 1 0 -4.8 0M450.5 618.1a2.4 2.4 0 1 0 4.8 0a2.4 2.4 0 1 0 -4.8 0M450.6 605.7a2.4 2.4 0 1 0 4.8 0a2.4 2.4 0 1 0 -4.8 0M450.6 602.4a2.4 2.4 0 1 0 4.8 0a2.4 2.4 0 1 0 -4.8 0M450.7 596.9a2.4 2.4 0 1 0 4.8 0a2.4 2.4 0 1 0 -4.8 0M450.8 599.9a2.4 2.4 0 1 0 4.8 0a2.4 2.4 0 1 0 -4.8 0M450.8 601.1a2.4 2.4 0 1 0 4.8 0a2.4 2.4 0 1 0 -4.8 0M450.9 618.1a2.4 2.4 0 1 0 4.8 0a2.4 2.4 0 1 0 -4.8 0M451.0 610.3a2.4 2.4 0 1 0 4.8 0a2.4 2.4 0 1 0 -4.8 0M451.0 597.8a2.4 2.4 0 1 0 4.8 0a2.4 2.4 0 1 0 -4.8 0M451.1 593.9a2.4 2.4 0 1 0 4.8 0a2.4 2.4 0 1 0 -4.8 0M451.2 605.7a2.4 2.4 0 1 0 4.8 0a2.4 2.4 0 1 0 -4.8 0M451.2 595.3a2.4 2.4 0 1 0 4.8 0a2.4 2.4 0 1 0 -4.8 0M451.3 607.7a2.4 2.4 0 1 0 4.8 0a2.4 2.4 0 1 0 -4.8 0M451.4 590.9a2.4 2.4 0 1 0 4.8 0a2.4 2.4 0 1 0 -4.8 0M451.5 598.8a2.4 2.4 0 1 0 4.8 0a2.4 2.4 0 1 0 -4.8 0M451.6 599.9a2.4 2.4 0 1 0 4.8 0a2.4 2.4 0 1 0 -4.8 0M451.7 601.1a2.4 2.4 0 1 0 4.8 0a2.4 2.4 0 1 0 -4.8 0M451.7 626.0a2.4 2.4 0 1 0 4.8 0a2.4 2.4 0 1 0 -4.8 0M451.8 613.5a2.4 2.4 0 1 0 4.8 0a2.4 2.4 0 1 0 -4.8 0M451.8 607.7a2.4 2.4 0 1 0 4.8 0a2.4 2.4 0 1 0 -4.8 0M451.9 596.1a2.4 2.4 0 1 0 4.8 0a2.4 2.4 0 1 0 -4.8 0M451.9 605.7a2.4 2.4 0 1 0 4.8 0a2.4 2.4 0 1 0 -4.8 0M452.0 595.3a2.4 2.4 0 1 0 4.8 0a2.4 2.4 0 1 0 -4.8 0M452.1 596.9a2.4 2.4 0 1 0 4.8 0a2.4 2.4 0 1 0 -4.8 0M452.2 598.8a2.4 2.4 0 1 0 4.8 0a2.4 2.4 0 1 0 -4.8 0M452.2 602.4a2.4 2.4 0 1 0 4.8 0a2.4 2.4 0 1 0 -4.8 0M452.3 618.1a2.4 2.4 0 1 0 4.8 0a2.4 2.4 0 1 0 -4.8 0M452.3 607.7a2.4 2.4 0 1 0 4.8 0a2.4 2.4 0 1 0 -4.8 0M452.4 603.9a2.4 2.4 0 1 0 4.8 0a2.4 2.4 0 1 0 -4.8 0M452.4 597.8a2.4 2.4 0 1 0 4.8 0a2.4 2.4 0 1 0 -4.8 0M452.6 605.7a2.4 2.4 0 1 0 4.8 0a2.4 2.4 0 1 0 -4.8 0M452.7 595.3a2.4 2.4 0 1 0 4.8 0a2.4 2.4 0 1 0 -4.8 0M452.7 610.3a2.4 2.4 0 1 0 4.8 0a2.4 2.4 0 1 0 -4.8 0M452.8 589.9a2.4 2.4 0 1 0 4.8 0a2.4 2.4 0 1 0 -4.8 0M452.8 597.8a2.4 2.4 0 1 0 4.8 0a2.4 2.4 0 1 0 -4.8 0M452.9 592.6a2.4 2.4 0 1 0 4.8 0a2.4 2.4 0 1 0 -4.8 0M452.9 603.9a2.4 2.4 0 1 0 4.8 0a2.4 2.4 0 1 0 -4.8 0M453.0 598.8a2.4 2.4 0 1 0 4.8 0a2.4 2.4 0 1 0 -4.8 0M453.0 626.0a2.4 2.4 0 1 0 4.8 0a2.4 2.4 0 1 0 -4.8 0M453.1 607.7a2.4 2.4 0 1 0 4.8 0a2.4 2.4 0 1 0 -4.8 0M453.2 610.3a2.4 2.4 0 1 0 4.8 0a2.4 2.4 0 1 0 -4.8 0M453.3 610.3a2.4 2.4 0 1 0 4.8 0a2.4 2.4 0 1 0 -4.8 0M453.3 599.9a2.4 2.4 0 1 0 4.8 0a2.4 2.4 0 1 0 -4.8 0M453.4 602.4a2.4 2.4 0 1 0 4.8 0a2.4 2.4 0 1 0 -4.8 0M453.4 613.5a2.4 2.4 0 1 0 4.8 0a2.4 2.4 0 1 0 -4.8 0M453.5 598.8a2.4 2.4 0 1 0 4.8 0a2.4 2.4 0 1 0 -4.8 0M453.5 605.7a2.4 2.4 0 1 0 4.8 0a2.4 2.4 0 1 0 -4.8 0M453.6 597.8a2.4 2.4 0 1 0 4.8 0a2.4 2.4 0 1 0 -4.8 0M453.7 618.1a2.4 2.4 0 1 0 4.8 0a2.4 2.4 0 1 0 -4.8 0M453.8 601.1a2.4 2.4 0 1 0 4.8 0a2.4 2.4 0 1 0 -4.8 0M453.8 603.9a2.4 2.4 0 1 0 4.8 0a2.4 2.4 0 1 0 -4.8 0M453.9 593.9a2.4 2.4 0 1 0 4.8 0a2.4 2.4 0 1 0 -4.8 0M453.9 618.1a2.4 2.4 0 1 0 4.8 0a2.4 2.4 0 1 0 -4.8 0M454.0 596.9a2.4 2.4 0 1 0 4.8 0a2.4 2.4 0 1 0 -4.8 0M454.1 610.3a2.4 2.4 0 1 0 4.8 0a2.4 2.4 0 1 0 -4.8 0M454.2 597.8a2.4 2.4 0 1 0 4.8 0a2.4 2.4 0 1 0 -4.8 0M454.2 591.5a2.4 2.4 0 1 0 4.8 0a2.4 2.4 0 1 0 -4.8 0M454.3 607.7a2.4 2.4 0 1 0 4.8 0a2.4 2.4 0 1 0 -4.8 0M454.4 595.3a2.4 2.4 0 1 0 4.8 0a2.4 2.4 0 1 0 -4.8 0M454.4 601.1a2.4 2.4 0 1 0 4.8 0a2.4 2.4 0 1 0 -4.8 0M454.5 605.7a2.4 2.4 0 1 0 4.8 0a2.4 2.4 0 1 0 -4.8 0M454.5 613.5a2.4 2.4 0 1 0 4.8 0a2.4 2.4 0 1 0 -4.8 0M454.6 626.0a2.4 2.4 0 1 0 4.8 0a2.4 2.4 0 1 0 -4.8 0M454.6 599.9a2.4 2.4 0 1 0 4.8 0a2.4 2.4 0 1 0 -4.8 0M454.6 592.0a2.4 2.4 0 1 0 4.8 0a2.4 2.4 0 1 0 -4.8 0M454.7 598.8a2.4 2.4 0 1 0 4.8 0a2.4 2.4 0 1 0 -4.8 0M454.8 602.4a2.4 2.4 0 1 0 4.8 0a2.4 2.4 0 1 0 -4.8 0M454.9 593.9a2.4 2.4 0 1 0 4.8 0a2.4 2.4 0 1 0 -4.8 0M454.9 607.7a2.4 2.4 0 1 0 4.8 0a2.4 2.4 0 1 0 -4.8 0M454.9 605.7a2.4 2.4 0 1 0 4.8 0a2.4 2.4 0 1 0 -4.8 0M455.0 595.3a2.4 2.4 0 1 0 4.8 0a2.4 2.4 0 1 0 -4.8 0M455.0 599.9a2.4 2.4 0 1 0 4.8 0a2.4 2.4 0 1 0 -4.8 0M455.1 602.4a2.4 2.4 0 1 0 4.8 0a2.4 2.4 0 1 0 -4.8 0M455.1 610.3a2.4 2.4 0 1 0 4.8 0a2.4 2.4 0 1 0 -4.8 0M455.2 613.5a2.4 2.4 0 1 0 4.8 0a2.4 2.4 0 1 0 -4.8 0M455.3 603.9a2.4 2.4 0 1 0 4.8 0a2.4 2.4 0 1 0 -4.8 0M455.4 607.7a2.4 2.4 0 1 0 4.8 0a2.4 2.4 0 1 0 -4.8 0M455.4 618.1a2.4 2.4 0 1 0 4.8 0a2.4 2.4 0 1 0 -4.8 0M455.5 601.1a2.4 2.4 0 1 0 4.8 0a2.4 2.4 0 1 0 -4.8 0M455.5 598.8a2.4 2.4 0 1 0 4.8 0a2.4 2.4 0 1 0 -4.8 0M455.5 596.9a2.4 2.4 0 1 0 4.8 0a2.4 2.4 0 1 0 -4.8 0M455.6 597.8a2.4 2.4 0 1 0 4.8 0a2.4 2.4 0 1 0 -4.8 0M455.6 607.7a2.4 2.4 0 1 0 4.8 0a2.4 2.4 0 1 0 -4.8 0M455.7 610.3a2.4 2.4 0 1 0 4.8 0a2.4 2.4 0 1 0 -4.8 0M455.8 626.0a2.4 2.4 0 1 0 4.8 0a2.4 2.4 0 1 0 -4.8 0M455.9 603.9a2.4 2.4 0 1 0 4.8 0a2.4 2.4 0 1 0 -4.8 0M455.9 613.5a2.4 2.4 0 1 0 4.8 0a2.4 2.4 0 1 0 -4.8 0M456.1 605.7a2.4 2.4 0 1 0 4.8 0a2.4 2.4 0 1 0 -4.8 0M456.1 602.4a2.4 2.4 0 1 0 4.8 0a2.4 2.4 0 1 0 -4.8 0M456.1 601.1a2.4 2.4 0 1 0 4.8 0a2.4 2.4 0 1 0 -4.8 0M456.2 593.9a2.4 2.4 0 1 0 4.8 0a2.4 2.4 0 1 0 -4.8 0M456.2 626.0a2.4 2.4 0 1 0 4.8 0a2.4 2.4 0 1 0 -4.8 0M456.3 607.7a2.4 2.4 0 1 0 4.8 0a2.4 2.4 0 1 0 -4.8 0M456.4 613.5a2.4 2.4 0 1 0 4.8 0a2.4 2.4 0 1 0 -4.8 0M456.5 603.9a2.4 2.4 0 1 0 4.8 0a2.4 2.4 0 1 0 -4.8 0M456.6 599.9a2.4 2.4 0 1 0 4.8 0a2.4 2.4 0 1 0 -4.8 0M456.6 610.3a2.4 2.4 0 1 0 4.8 0a2.4 2.4 0 1 0 -4.8 0M456.7 618.1a2.4 2.4 0 1 0 4.8 0a2.4 2.4 0 1 0 -4.8 0M456.7 592.6a2.4 2.4 0 1 0 4.8 0a2.4 2.4 0 1 0 -4.8 0M456.8 603.9a2.4 2.4 0 1 0 4.8 0a2.4 2.4 0 1 0 -4.8 0M456.8 598.8a2.4 2.4 0 1 0 4.8 0a2.4 2.4 0 1 0 -4.8 0M457.0 594.5a2.4 2.4 0 1 0 4.8 0a2.4 2.4 0 1 0 -4.8 0M457.0 613.5a2.4 2.4 0 1 0 4.8 0a2.4 2.4 0 1 0 -4.8 0M457.1 596.1a2.4 2.4 0 1 0 4.8 0a2.4 2.4 0 1 0 -4.8 0M457.1 618.1a2.4 2.4 0 1 0 4.8 0a2.4 2.4 0 1 0 -4.8 0M457.2 598.8a2.4 2.4 0 1 0 4.8 0a2.4 2.4 0 1 0 -4.8 0M457.2 602.4a2.4 2.4 0 1 0 4.8 0a2.4 2.4 0 1 0 -4.8 0M457.3 593.9a2.4 2.4 0 1 0 4.8 0a2.4 2.4 0 1 0 -4.8 0M457.3 603.9a2.4 2.4 0 1 0 4.8 0a2.4 2.4 0 1 0 -4.8 0M457.4 599.9a2.4 2.4 0 1 0 4.8 0a2.4 2.4 0 1 0 -4.8 0M457.4 607.7a2.4 2.4 0 1 0 4.8 0a2.4 2.4 0 1 0 -4.8 0M457.5 610.3a2.4 2.4 0 1 0 4.8 0a2.4 2.4 0 1 0 -4.8 0M457.6 626.0a2.4 2.4 0 1 0 4.8 0a2.4 2.4 0 1 0 -4.8 0M457.7 603.9a2.4 2.4 0 1 0 4.8 0a2.4 2.4 0 1 0 -4.8 0M457.7 618.1a2.4 2.4 0 1 0 4.8 0a2.4 2.4 0 1 0 -4.8 0M457.8 613.5a2.4 2.4 0 1 0 4.8 0a2.4 2.4 0 1 0 -4.8 0M457.8 610.3a2.4 2.4 0 1 0 4.8 0a2.4 2.4 0 1 0 -4.8 0M458.0 605.7a2.4 2.4 0 1 0 4.8 0a2.4 2.4 0 1 0 -4.8 0M458.1 626.0a2.4 2.4 0 1 0 4.8 0a2.4 2.4 0 1 0 -4.8 0M458.1 601.1a2.4 2.4 0 1 0 4.8 0a2.4 2.4 0 1 0 -4.8 0M458.2 598.8a2.4 2.4 0 1 0 4.8 0a2.4 2.4 0 1 0 -4.8 0M458.2 602.4a2.4 2.4 0 1 0 4.8 0a2.4 2.4 0 1 0 -4.8 0M458.3 613.5a2.4 2.4 0 1 0 4.8 0a2.4 2.4 0 1 0 -4.8 0M458.3 610.3a2.4 2.4 0 1 0 4.8 0a2.4 2.4 0 1 0 -4.8 0M458.4 605.7a2.4 2.4 0 1 0 4.8 0a2.4 2.4 0 1 0 -4.8 0M458.4 618.1a2.4 2.4 0 1 0 4.8 0a2.4 2.4 0 1 0 -4.8 0M458.5 607.7a2.4 2.4 0 1 0 4.8 0a2.4 2.4 0 1 0 -4.8 0M458.5 626.0a2.4 2.4 0 1 0 4.8 0a2.4 2.4 0 1 0 -4.8 0M458.6 603.9a2.4 2.4 0 1 0 4.8 0a2.4 2.4 0 1 0 -4.8 0M458.8 626.0a2.4 2.4 0 1 0 4.8 0a2.4 2.4 0 1 0 -4.8 0M458.8 607.7a2.4 2.4 0 1 0 4.8 0a2.4 2.4 0 1 0 -4.8 0M458.9 601.1a2.4 2.4 0 1 0 4.8 0a2.4 2.4 0 1 0 -4.8 0M458.9 613.5a2.4 2.4 0 1 0 4.8 0a2.4 2.4 0 1 0 -4.8 0M459.0 603.9a2.4 2.4 0 1 0 4.8 0a2.4 2.4 0 1 0 -4.8 0M459.3 613.5a2.4 2.4 0 1 0 4.8 0a2.4 2.4 0 1 0 -4.8 0M459.4 610.3a2.4 2.4 0 1 0 4.8 0a2.4 2.4 0 1 0 -4.8 0M459.4 605.7a2.4 2.4 0 1 0 4.8 0a2.4 2.4 0 1 0 -4.8 0M459.5 626.0a2.4 2.4 0 1 0 4.8 0a2.4 2.4 0 1 0 -4.8 0M459.6 603.9a2.4 2.4 0 1 0 4.8 0a2.4 2.4 0 1 0 -4.8 0M459.7 607.7a2.4 2.4 0 1 0 4.8 0a2.4 2.4 0 1 0 -4.8 0M460.0 626.0a2.4 2.4 0 1 0 4.8 0a2.4 2.4 0 1 0 -4.8 0M460.0 607.7a2.4 2.4 0 1 0 4.8 0a2.4 2.4 0 1 0 -4.8 0M460.1 605.7a2.4 2.4 0 1 0 4.8 0a2.4 2.4 0 1 0 -4.8 0M460.1 610.3a2.4 2.4 0 1 0 4.8 0a2.4 2.4 0 1 0 -4.8 0M460.2 618.1a2.4 2.4 0 1 0 4.8 0a2.4 2.4 0 1 0 -4.8 0M460.3 613.5a2.4 2.4 0 1 0 4.8 0a2.4 2.4 0 1 0 -4.8 0M460.4 626.0a2.4 2.4 0 1 0 4.8 0a2.4 2.4 0 1 0 -4.8 0M460.5 618.1a2.4 2.4 0 1 0 4.8 0a2.4 2.4 0 1 0 -4.8 0M460.6 613.5a2.4 2.4 0 1 0 4.8 0a2.4 2.4 0 1 0 -4.8 0M460.6 610.3a2.4 2.4 0 1 0 4.8 0a2.4 2.4 0 1 0 -4.8 0M460.7 602.4a2.4 2.4 0 1 0 4.8 0a2.4 2.4 0 1 0 -4.8 0M460.8 598.8a2.4 2.4 0 1 0 4.8 0a2.4 2.4 0 1 0 -4.8 0M460.8 603.9a2.4 2.4 0 1 0 4.8 0a2.4 2.4 0 1 0 -4.8 0M461.0 603.9a2.4 2.4 0 1 0 4.8 0a2.4 2.4 0 1 0 -4.8 0M461.0 626.0a2.4 2.4 0 1 0 4.8 0a2.4 2.4 0 1 0 -4.8 0M461.0 613.5a2.4 2.4 0 1 0 4.8 0a2.4 2.4 0 1 0 -4.8 0M461.1 610.3a2.4 2.4 0 1 0 4.8 0a2.4 2.4 0 1 0 -4.8 0M461.1 605.7a2.4 2.4 0 1 0 4.8 0a2.4 2.4 0 1 0 -4.8 0M461.4 618.1a2.4 2.4 0 1 0 4.8 0a2.4 2.4 0 1 0 -4.8 0M461.5 607.7a2.4 2.4 0 1 0 4.8 0a2.4 2.4 0 1 0 -4.8 0M461.5 618.1a2.4 2.4 0 1 0 4.8 0a2.4 2.4 0 1 0 -4.8 0M461.6 626.0a2.4 2.4 0 1 0 4.8 0a2.4 2.4 0 1 0 -4.8 0M461.8 610.3a2.4 2.4 0 1 0 4.8 0a2.4 2.4 0 1 0 -4.8 0M462.0 613.5a2.4 2.4 0 1 0 4.8 0a2.4 2.4 0 1 0 -4.8 0M462.0 602.4a2.4 2.4 0 1 0 4.8 0a2.4 2.4 0 1 0 -4.8 0M462.1 626.0a2.4 2.4 0 1 0 4.8 0a2.4 2.4 0 1 0 -4.8 0M462.1 618.1a2.4 2.4 0 1 0 4.8 0a2.4 2.4 0 1 0 -4.8 0M462.1 607.7a2.4 2.4 0 1 0 4.8 0a2.4 2.4 0 1 0 -4.8 0M462.2 605.7a2.4 2.4 0 1 0 4.8 0a2.4 2.4 0 1 0 -4.8 0M462.4 602.4a2.4 2.4 0 1 0 4.8 0a2.4 2.4 0 1 0 -4.8 0M462.6 603.9a2.4 2.4 0 1 0 4.8 0a2.4 2.4 0 1 0 -4.8 0M462.6 618.1a2.4 2.4 0 1 0 4.8 0a2.4 2.4 0 1 0 -4.8 0M462.7 610.3a2.4 2.4 0 1 0 4.8 0a2.4 2.4 0 1 0 -4.8 0M462.7 613.5a2.4 2.4 0 1 0 4.8 0a2.4 2.4 0 1 0 -4.8 0M462.8 601.1a2.4 2.4 0 1 0 4.8 0a2.4 2.4 0 1 0 -4.8 0M462.8 605.7a2.4 2.4 0 1 0 4.8 0a2.4 2.4 0 1 0 -4.8 0M462.9 626.0a2.4 2.4 0 1 0 4.8 0a2.4 2.4 0 1 0 -4.8 0M463.2 618.1a2.4 2.4 0 1 0 4.8 0a2.4 2.4 0 1 0 -4.8 0M463.2 626.0a2.4 2.4 0 1 0 4.8 0a2.4 2.4 0 1 0 -4.8 0M463.3 613.5a2.4 2.4 0 1 0 4.8 0a2.4 2.4 0 1 0 -4.8 0M463.5 610.3a2.4 2.4 0 1 0 4.8 0a2.4 2.4 0 1 0 -4.8 0M463.7 618.1a2.4 2.4 0 1 0 4.8 0a2.4 2.4 0 1 0 -4.8 0M463.8 626.0a2.4 2.4 0 1 0 4.8 0a2.4 2.4 0 1 0 -4.8 0M463.8 613.5a2.4 2.4 0 1 0 4.8 0a2.4 2.4 0 1 0 -4.8 0M463.9 601.1a2.4 2.4 0 1 0 4.8 0a2.4 2.4 0 1 0 -4.8 0M463.9 607.7a2.4 2.4 0 1 0 4.8 0a2.4 2.4 0 1 0 -4.8 0M464.0 610.3a2.4 2.4 0 1 0 4.8 0a2.4 2.4 0 1 0 -4.8 0M464.2 605.7a2.4 2.4 0 1 0 4.8 0a2.4 2.4 0 1 0 -4.8 0M464.3 607.7a2.4 2.4 0 1 0 4.8 0a2.4 2.4 0 1 0 -4.8 0M464.3 613.5a2.4 2.4 0 1 0 4.8 0a2.4 2.4 0 1 0 -4.8 0M464.4 626.0a2.4 2.4 0 1 0 4.8 0a2.4 2.4 0 1 0 -4.8 0M464.5 605.7a2.4 2.4 0 1 0 4.8 0a2.4 2.4 0 1 0 -4.8 0M464.5 601.1a2.4 2.4 0 1 0 4.8 0a2.4 2.4 0 1 0 -4.8 0M464.6 602.4a2.4 2.4 0 1 0 4.8 0a2.4 2.4 0 1 0 -4.8 0M464.6 618.1a2.4 2.4 0 1 0 4.8 0a2.4 2.4 0 1 0 -4.8 0M464.6 599.9a2.4 2.4 0 1 0 4.8 0a2.4 2.4 0 1 0 -4.8 0M464.7 610.3a2.4 2.4 0 1 0 4.8 0a2.4 2.4 0 1 0 -4.8 0M464.8 603.9a2.4 2.4 0 1 0 4.8 0a2.4 2.4 0 1 0 -4.8 0M464.8 618.1a2.4 2.4 0 1 0 4.8 0a2.4 2.4 0 1 0 -4.8 0M464.9 626.0a2.4 2.4 0 1 0 4.8 0a2.4 2.4 0 1 0 -4.8 0M464.9 605.7a2.4 2.4 0 1 0 4.8 0a2.4 2.4 0 1 0 -4.8 0M464.9 607.7a2.4 2.4 0 1 0 4.8 0a2.4 2.4 0 1 0 -4.8 0M465.0 613.5a2.4 2.4 0 1 0 4.8 0a2.4 2.4 0 1 0 -4.8 0M465.2 610.3a2.4 2.4 0 1 0 4.8 0a2.4 2.4 0 1 0 -4.8 0M465.4 626.0a2.4 2.4 0 1 0 4.8 0a2.4 2.4 0 1 0 -4.8 0M465.4 618.1a2.4 2.4 0 1 0 4.8 0a2.4 2.4 0 1 0 -4.8 0M465.6 610.3a2.4 2.4 0 1 0 4.8 0a2.4 2.4 0 1 0 -4.8 0M465.7 613.5a2.4 2.4 0 1 0 4.8 0a2.4 2.4 0 1 0 -4.8 0M465.9 626.0a2.4 2.4 0 1 0 4.8 0a2.4 2.4 0 1 0 -4.8 0M466.0 605.7a2.4 2.4 0 1 0 4.8 0a2.4 2.4 0 1 0 -4.8 0M466.0 613.5a2.4 2.4 0 1 0 4.8 0a2.4 2.4 0 1 0 -4.8 0M466.1 610.3a2.4 2.4 0 1 0 4.8 0a2.4 2.4 0 1 0 -4.8 0M466.2 607.7a2.4 2.4 0 1 0 4.8 0a2.4 2.4 0 1 0 -4.8 0M466.4 618.1a2.4 2.4 0 1 0 4.8 0a2.4 2.4 0 1 0 -4.8 0M466.5 626.0a2.4 2.4 0 1 0 4.8 0a2.4 2.4 0 1 0 -4.8 0M466.6 618.1a2.4 2.4 0 1 0 4.8 0a2.4 2.4 0 1 0 -4.8 0M466.7 613.5a2.4 2.4 0 1 0 4.8 0a2.4 2.4 0 1 0 -4.8 0M466.8 610.3a2.4 2.4 0 1 0 4.8 0a2.4 2.4 0 1 0 -4.8 0M467.0 626.0a2.4 2.4 0 1 0 4.8 0a2.4 2.4 0 1 0 -4.8 0M467.1 613.5a2.4 2.4 0 1 0 4.8 0a2.4 2.4 0 1 0 -4.8 0M467.1 618.1a2.4 2.4 0 1 0 4.8 0a2.4 2.4 0 1 0 -4.8 0M467.2 607.7a2.4 2.4 0 1 0 4.8 0a2.4 2.4 0 1 0 -4.8 0M467.4 610.3a2.4 2.4 0 1 0 4.8 0a2.4 2.4 0 1 0 -4.8 0M467.6 610.3a2.4 2.4 0 1 0 4.8 0a2.4 2.4 0 1 0 -4.8 0M467.7 613.5a2.4 2.4 0 1 0 4.8 0a2.4 2.4 0 1 0 -4.8 0M467.7 618.1a2.4 2.4 0 1 0 4.8 0a2.4 2.4 0 1 0 -4.8 0M467.7 626.0a2.4 2.4 0 1 0 4.8 0a2.4 2.4 0 1 0 -4.8 0M467.9 607.7a2.4 2.4 0 1 0 4.8 0a2.4 2.4 0 1 0 -4.8 0M468.2 626.0a2.4 2.4 0 1 0 4.8 0a2.4 2.4 0 1 0 -4.8 0M468.4 610.3a2.4 2.4 0 1 0 4.8 0a2.4 2.4 0 1 0 -4.8 0M468.5 618.1a2.4 2.4 0 1 0 4.8 0a2.4 2.4 0 1 0 -4.8 0M468.5 613.5a2.4 2.4 0 1 0 4.8 0a2.4 2.4 0 1 0 -4.8 0M468.7 618.1a2.4 2.4 0 1 0 4.8 0a2.4 2.4 0 1 0 -4.8 0M468.8 610.3a2.4 2.4 0 1 0 4.8 0a2.4 2.4 0 1 0 -4.8 0M468.8 626.0a2.4 2.4 0 1 0 4.8 0a2.4 2.4 0 1 0 -4.8 0M468.8 613.5a2.4 2.4 0 1 0 4.8 0a2.4 2.4 0 1 0 -4.8 0M469.2 607.7a2.4 2.4 0 1 0 4.8 0a2.4 2.4 0 1 0 -4.8 0M469.3 626.0a2.4 2.4 0 1 0 4.8 0a2.4 2.4 0 1 0 -4.8 0M469.4 618.1a2.4 2.4 0 1 0 4.8 0a2.4 2.4 0 1 0 -4.8 0M469.7 613.5a2.4 2.4 0 1 0 4.8 0a2.4 2.4 0 1 0 -4.8 0M469.8 618.1a2.4 2.4 0 1 0 4.8 0a2.4 2.4 0 1 0 -4.8 0M469.9 626.0a2.4 2.4 0 1 0 4.8 0a2.4 2.4 0 1 0 -4.8 0M470.0 610.3a2.4 2.4 0 1 0 4.8 0a2.4 2.4 0 1 0 -4.8 0M470.0 613.5a2.4 2.4 0 1 0 4.8 0a2.4 2.4 0 1 0 -4.8 0M470.3 605.7a2.4 2.4 0 1 0 4.8 0a2.4 2.4 0 1 0 -4.8 0M470.3 618.1a2.4 2.4 0 1 0 4.8 0a2.4 2.4 0 1 0 -4.8 0M470.4 626.0a2.4 2.4 0 1 0 4.8 0a2.4 2.4 0 1 0 -4.8 0M470.6 613.5a2.4 2.4 0 1 0 4.8 0a2.4 2.4 0 1 0 -4.8 0M470.6 607.7a2.4 2.4 0 1 0 4.8 0a2.4 2.4 0 1 0 -4.8 0M470.9 626.0a2.4 2.4 0 1 0 4.8 0a2.4 2.4 0 1 0 -4.8 0M471.1 618.1a2.4 2.4 0 1 0 4.8 0a2.4 2.4 0 1 0 -4.8 0M471.4 626.0a2.4 2.4 0 1 0 4.8 0a2.4 2.4 0 1 0 -4.8 0M471.5 613.5a2.4 2.4 0 1 0 4.8 0a2.4 2.4 0 1 0 -4.8 0M471.6 618.1a2.4 2.4 0 1 0 4.8 0a2.4 2.4 0 1 0 -4.8 0M471.7 607.7a2.4 2.4 0 1 0 4.8 0a2.4 2.4 0 1 0 -4.8 0M472.0 626.0a2.4 2.4 0 1 0 4.8 0a2.4 2.4 0 1 0 -4.8 0M472.3 618.1a2.4 2.4 0 1 0 4.8 0a2.4 2.4 0 1 0 -4.8 0M472.6 626.0a2.4 2.4 0 1 0 4.8 0a2.4 2.4 0 1 0 -4.8 0M473.0 618.1a2.4 2.4 0 1 0 4.8 0a2.4 2.4 0 1 0 -4.8 0M473.1 610.3a2.4 2.4 0 1 0 4.8 0a2.4 2.4 0 1 0 -4.8 0M473.2 626.0a2.4 2.4 0 1 0 4.8 0a2.4 2.4 0 1 0 -4.8 0M473.4 618.1a2.4 2.4 0 1 0 4.8 0a2.4 2.4 0 1 0 -4.8 0M473.8 618.1a2.4 2.4 0 1 0 4.8 0a2.4 2.4 0 1 0 -4.8 0M473.8 626.0a2.4 2.4 0 1 0 4.8 0a2.4 2.4 0 1 0 -4.8 0M473.9 610.3a2.4 2.4 0 1 0 4.8 0a2.4 2.4 0 1 0 -4.8 0M474.3 618.1a2.4 2.4 0 1 0 4.8 0a2.4 2.4 0 1 0 -4.8 0M474.3 626.0a2.4 2.4 0 1 0 4.8 0a2.4 2.4 0 1 0 -4.8 0M474.5 613.5a2.4 2.4 0 1 0 4.8 0a2.4 2.4 0 1 0 -4.8 0M474.7 626.0a2.4 2.4 0 1 0 4.8 0a2.4 2.4 0 1 0 -4.8 0M474.7 613.5a2.4 2.4 0 1 0 4.8 0a2.4 2.4 0 1 0 -4.8 0M474.8 618.1a2.4 2.4 0 1 0 4.8 0a2.4 2.4 0 1 0 -4.8 0M474.9 607.7a2.4 2.4 0 1 0 4.8 0a2.4 2.4 0 1 0 -4.8 0M475.3 618.1a2.4 2.4 0 1 0 4.8 0a2.4 2.4 0 1 0 -4.8 0M475.4 626.0a2.4 2.4 0 1 0 4.8 0a2.4 2.4 0 1 0 -4.8 0M475.8 626.0a2.4 2.4 0 1 0 4.8 0a2.4 2.4 0 1 0 -4.8 0M475.8 618.1a2.4 2.4 0 1 0 4.8 0a2.4 2.4 0 1 0 -4.8 0M476.4 626.0a2.4 2.4 0 1 0 4.8 0a2.4 2.4 0 1 0 -4.8 0M476.4 610.3a2.4 2.4 0 1 0 4.8 0a2.4 2.4 0 1 0 -4.8 0M476.6 613.5a2.4 2.4 0 1 0 4.8 0a2.4 2.4 0 1 0 -4.8 0M476.7 618.1a2.4 2.4 0 1 0 4.8 0a2.4 2.4 0 1 0 -4.8 0M477.0 626.0a2.4 2.4 0 1 0 4.8 0a2.4 2.4 0 1 0 -4.8 0M477.5 626.0a2.4 2.4 0 1 0 4.8 0a2.4 2.4 0 1 0 -4.8 0M478.1 626.0a2.4 2.4 0 1 0 4.8 0a2.4 2.4 0 1 0 -4.8 0M478.4 618.1a2.4 2.4 0 1 0 4.8 0a2.4 2.4 0 1 0 -4.8 0M478.5 613.5a2.4 2.4 0 1 0 4.8 0a2.4 2.4 0 1 0 -4.8 0M478.6 626.0a2.4 2.4 0 1 0 4.8 0a2.4 2.4 0 1 0 -4.8 0M479.1 607.7a2.4 2.4 0 1 0 4.8 0a2.4 2.4 0 1 0 -4.8 0M479.1 626.0a2.4 2.4 0 1 0 4.8 0a2.4 2.4 0 1 0 -4.8 0M479.7 613.5a2.4 2.4 0 1 0 4.8 0a2.4 2.4 0 1 0 -4.8 0M479.7 618.1a2.4 2.4 0 1 0 4.8 0a2.4 2.4 0 1 0 -4.8 0M479.9 626.0a2.4 2.4 0 1 0 4.8 0a2.4 2.4 0 1 0 -4.8 0M480.2 618.1a2.4 2.4 0 1 0 4.8 0a2.4 2.4 0 1 0 -4.8 0M480.3 626.0a2.4 2.4 0 1 0 4.8 0a2.4 2.4 0 1 0 -4.8 0M480.4 607.7a2.4 2.4 0 1 0 4.8 0a2.4 2.4 0 1 0 -4.8 0M480.9 626.0a2.4 2.4 0 1 0 4.8 0a2.4 2.4 0 1 0 -4.8 0M481.4 626.0a2.4 2.4 0 1 0 4.8 0a2.4 2.4 0 1 0 -4.8 0M481.9 626.0a2.4 2.4 0 1 0 4.8 0a2.4 2.4 0 1 0 -4.8 0M482.1 618.1a2.4 2.4 0 1 0 4.8 0a2.4 2.4 0 1 0 -4.8 0M482.5 626.0a2.4 2.4 0 1 0 4.8 0a2.4 2.4 0 1 0 -4.8 0M482.9 618.1a2.4 2.4 0 1 0 4.8 0a2.4 2.4 0 1 0 -4.8 0M483.2 626.0a2.4 2.4 0 1 0 4.8 0a2.4 2.4 0 1 0 -4.8 0M483.6 626.0a2.4 2.4 0 1 0 4.8 0a2.4 2.4 0 1 0 -4.8 0M483.8 618.1a2.4 2.4 0 1 0 4.8 0a2.4 2.4 0 1 0 -4.8 0M484.2 626.0a2.4 2.4 0 1 0 4.8 0a2.4 2.4 0 1 0 -4.8 0M484.2 618.1a2.4 2.4 0 1 0 4.8 0a2.4 2.4 0 1 0 -4.8 0M484.7 618.1a2.4 2.4 0 1 0 4.8 0a2.4 2.4 0 1 0 -4.8 0M484.9 626.0a2.4 2.4 0 1 0 4.8 0a2.4 2.4 0 1 0 -4.8 0M485.2 618.1a2.4 2.4 0 1 0 4.8 0a2.4 2.4 0 1 0 -4.8 0M485.5 626.0a2.4 2.4 0 1 0 4.8 0a2.4 2.4 0 1 0 -4.8 0M485.7 626.0a2.4 2.4 0 1 0 4.8 0a2.4 2.4 0 1 0 -4.8 0" fill="none" stroke="#f87474" stroke-width="0.75"/>
<path d="M373.1 499.4a2.4 2.4 0 1 0 4.8 0a2.4 2.4 0 1 0 -4.8 0M382.9 515.3a2.4 2.4 0 1 0 4.8 0a2.4 2.4 0 1 0 -4.8 0M388.6 524.6a2.4 2.4 0 1 0 4.8 0a2.4 2.4 0 1 0 -4.8 0M392.7 530.7a2.4 2.4 0 1 0 4.8 0a2.4 2.4 0 1 0 -4.8 0M395.9 535.8a2.4 2.4 0 1 0 4.8 0a2.4 2.4 0 1 0 -4.8 0M398.4 539.9a2.4 2.4 0 1 0 4.8 0a2.4 2.4 0 1 0 -4.8 0M400.6 543.6a2.4 2.4 0 1 0 4.8 0a2.4 2.4 0 1 0 -4.8 0M402.5 547.4a2.4 2.4 0 1 0 4.8 0a2.4 2.4 0 1 0 -4.8 0M404.2 549.8a2.4 2.4 0 1 0 4.8 0a2.4 2.4 0 1 0 -4.8 0M405.7 551.4a2.4 2.4 0 1 0 4.8 0a2.4 2.4 0 1 0 -4.8 0M407.0 554.6a2.4 2.4 0 1 0 4.8 0a2.4 2.4 0 1 0 -4.8 0M408.2 556.1a2.4 2.4 0 1 0 4.8 0a2.4 2.4 0 1 0 -4.8 0M409.4 557.9a2.4 2.4 0 1 0 4.8 0a2.4 2.4 0 1 0 -4.8 0M410.4 560.9a2.4 2.4 0 1 0 4.8 0a2.4 2.4 0 1 0 -4.8 0M411.4 563.1a2.4 2.4 0 1 0 4.8 0a2.4 2.4 0 1 0 -4.8 0M412.3 564.9a2.4 2.4 0 1 0 4.8 0a2.4 2.4 0 1 0 -4.8 0M413.2 562.6a2.4 2.4 0 1 0 4.8 0a2.4 2.4 0 1 0 -4.8 0M414.0 565.7a2.4 2.4 0 1 0 4.8 0a2.4 2.4 0 1 0 -4.8 0M414.7 569.2a2.4 2.4 0 1 0 4.8 0a2.4 2.4 0 1 0 -4.8 0M415.4 569.7a2.4 2.4 0 1 0 4.8 0a2.4 2.4 0 1 0 -4.8 0M416.1 570.3a2.4 2.4 0 1 0 4.8 0a2.4 2.4 0 1 0 -4.8 0M416.8 570.9a2.4 2.4 0 1 0 4.8 0a2.4 2.4 0 1 0 -4.8 0M417.4 577.2a2.4 2.4 0 1 0 4.8 0a2.4 2.4 0 1 0 -4.8 0M418.0 576.6a2.4 2.4 0 1 0 4.8 0a2.4 2.4 0 1 0 -4.8 0M418.6 574.7a2.4 2.4 0 1 0 4.8 0a2.4 2.4 0 1 0 -4.8 0M419.2 579.2a2.4 2.4 0 1 0 4.8 0a2.4 2.4 0 1 0 -4.8 0M419.7 581.4a2.4 2.4 0 1 0 4.8 0a2.4 2.4 0 1 0 -4.8 0M420.2 580.1a2.4 2.4 0 1 0 4.8 0a2.4 2.4 0 1 0 -4.8 0M420.7 576.7a2.4 2.4 0 1 0 4.8 0a2.4 2.4 0 1 0 -4.8 0M421.2 577.2a2.4 2.4 0 1 0 4.8 0a2.4 2.4 0 1 0 -4.8 0M421.6 585.0a2.4 2.4 0 1 0 4.8 0a2.4 2.4 0 1 0 -4.8 0M422.1 579.2a2.4 2.4 0 1 0 4.8 0a2.4 2.4 0 1 0 -4.8 0M422.5 577.8a2.4 2.4 0 1 0 4.8 0a2.4 2.4 0 1 0 -4.8 0M422.9 583.9a2.4 2.4 0 1 0 4.8 0a2.4 2.4 0 1 0 -4.8 0M423.4 583.6a2.4 2.4 0 1 0 4.8 0a2.4 2.4 0 1 0 -4.8 0M423.8 582.3a2.4 2.4 0 1 0 4.8 0a2.4 2.4 0 1 0 -4.8 0M424.1 584.7a2.4 2.4 0 1 0 4.8 0a2.4 2.4 0 1 0 -4.8 0M424.9 580.7a2.4 2.4 0 1 0 4.8 0a2.4 2.4 0 1 0 -4.8 0M425.2 586.3a2.4 2.4 0 1 0 4.8 0a2.4 2.4 0 1 0 -4.8 0M425.6 592.0a2.4 2.4 0 1 0 4.8 0a2.4 2.4 0 1 0 -4.8 0M425.9 589.0a2.4 2.4 0 1 0 4.8 0a2.4 2.4 0 1 0 -4.8 0M426.3 588.2a2.4 2.4 0 1 0 4.8 0a2.4 2.4 0 1 0 -4.8 0M426.6 588.2a2.4 2.4 0 1 0 4.8 0a2.4 2.4 0 1 0 -4.8 0M426.9 594.5a2.4 2.4 0 1 0 4.8 0a2.4 2.4 0 1 0 -4.8 0M427.2 598.8a2.4 2.4 0 1 0 4.8 0a2.4 2.4 0 1 0 -4.8 0M427.5 601.1a2.4 2.4 0 1 0 4.8 0a2.4 2.4 0 1 0 -4.8 0M427.8 591.5a2.4 2.4 0 1 0 4.8 0a2.4 2.4 0 1 0 -4.8 0M428.1 590.4a2.4 2.4 0 1 0 4.8 0a2.4 2.4 0 1 0 -4.8 0M428.4 593.2a2.4 2.4 0 1 0 4.8 0a2.4 2.4 0 1 0 -4.8 0M428.7 594.5a2.4 2.4 0 1 0 4.8 0a2.4 2.4 0 1 0 -4.8 0M429.0 599.9a2.4 2.4 0 1 0 4.8 0a2.4 2.4 0 1 0 -4.8 0M429.2 602.4a2.4 2.4 0 1 0 4.8 0a2.4 2.4 0 1 0 -4.8 0M429.5 595.3a2.4 2.4 0 1 0 4.8 0a2.4 2.4 0 1 0 -4.8 0M429.7 592.6a2.4 2.4 0 1 0 4.8 0a2.4 2.4 0 1 0 -4.8 0M430.0 601.1a2.4 2.4 0 1 0 4.8 0a2.4 2.4 0 1 0 -4.8 0M430.3 595.3a2.4 2.4 0 1 0 4.8 0a2.4 2.4 0 1 0 -4.8 0M430.5 601.1a2.4 2.4 0 1 0 4.8 0a2.4 2.4 0 1 0 -4.8 0M430.7 610.3a2.4 2.4 0 1 0 4.8 0a2.4 2.4 0 1 0 -4.8 0M431.0 591.5a2.4 2.4 0 1 0 4.8 0a2.4 2.4 0 1 0 -4.8 0M431.2 598.8a2.4 2.4 0 1 0 4.8 0a2.4 2.4 0 1 0 -4.8 0M431.4 605.7a2.4 2.4 0 1 0 4.8 0a2.4 2.4 0 1 0 -4.8 0M431.7 590.4a2.4 2.4 0 1 0 4.8 0a2.4 2.4 0 1 0 -4.8 0M431.9 613.5a2.4 2.4 0 1 0 4.8 0a2.4 2.4 0 1 0 -4.8 0M432.1 598.8a2.4 2.4 0 1 0 4.8 0a2.4 2.4 0 1 0 -4.8 0M432.3 601.1a2.4 2.4 0 1 0 4.8 0a2.4 2.4 0 1 0 -4.8 0M432.5 601.1a2.4 2.4 0 1 0 4.8 0a2.4 2.4 0 1 0 -4.8 0M432.7 613.5a2.4 2.4 0 1 0 4.8 0a2.4 2.4 0 1 0 -4.8 0M433.0 610.3a2.4 2.4 0 1 0 4.8 0a2.4 2.4 0 1 0 -4.8 0M433.2 603.9a2.4 2.4 0 1 0 4.8 0a2.4 2.4 0 1 0 -4.8 0M433.4 598.8a2.4 2.4 0 1 0 4.8 0a2.4 2.4 0 1 0 -4.8 0M433.6 605.7a2.4 2.4 0 1 0 4.8 0a2.4 2.4 0 1 0 -4.8 0M433.8 602.4a2.4 2.4 0 1 0 4.8 0a2.4 2.4 0 1 0 -4.8 0M433.9 613.5a2.4 2.4 0 1 0 4.8 0a2.4 2.4 0 1 0 -4.8 0M434.1 613.5a2.4 2.4 0 1 0 4.8 0a2.4 2.4 0 1 0 -4.8 0M434.3 605.7a2.4 2.4 0 1 0 4.8 0a2.4 2.4 0 1 0 -4.8 0M434.7 598.8a2.4 2.4 0 1 0 4.8 0a2.4 2.4 0 1 0 -4.8 0M434.9 601.1a2.4 2.4 0 1 0 4.8 0a2.4 2.4 0 1 0 -4.8 0M435.0 607.7a2.4 2.4 0 1 0 4.8 0a2.4 2.4 0 1 0 -4.8 0M435.2 602.4a2.4 2.4 0 1 0 4.8 0a2.4 2.4 0 1 0 -4.8 0M435.4 613.5a2.4 2.4 0 1 0 4.8 0a2.4 2.4 0 1 0 -4.8 0M435.6 607.7a2.4 2.4 0 1 0 4.8 0a2.4 2.4 0 1 0 -4.8 0M435.7 607.7a2.4 2.4 0 1 0 4.8 0a2.4 2.4 0 1 0 -4.8 0M435.9 610.3a2.4 2.4 0 1 0 4.8 0a2.4 2.4 0 1 0 -4.8 0M436.1 605.7a2.4 2.4 0 1 0 4.8 0a2.4 2.4 0 1 0 -4.8 0M436.4 626.0a2.4 2.4 0 1 0 4.8 0a2.4 2.4 0 1 0 -4.8 0M436.6 603.9a2.4 2.4 0 1 0 4.8 0a2.4 2.4 0 1 0 -4.8 0M436.7 607.7a2.4 2.4 0 1 0 4.8 0a2.4 2.4 0 1 0 -4.8 0M436.9 607.7a2.4 2.4 0 1 0 4.8 0a2.4 2.4 0 1 0 -4.8 0M437.0 613.5a2.4 2.4 0 1 0 4.8 0a2.4 2.4 0 1 0 -4.8 0M437.2 605.7a2.4 2.4 0 1 0 4.8 0a2.4 2.4 0 1 0 -4.8 0M437.3 610.3a2.4 2.4 0 1 0 4.8 0a2.4 2.4 0 1 0 -4.8 0M437.5 607.7a2.4 2.4 0 1 0 4.8 0a2.4 2.4 0 1 0 -4.8 0M437.6 618.1a2.4 2.4 0 1 0 4.8 0a2.4 2.4 0 1 0 -4.8 0M437.8 613.5a2.4 2.4 0 1 0 4.8 0a2.4 2.4 0 1 0 -4.8 0M437.9 613.5a2.4 2.4 0 1 0 4.8 0a2.4 2.4 0 1 0 -4.8 0M438.1 626.0a2.4 2.4 0 1 0 4.8 0a2.4 2.4 0 1 0 -4.8 0M438.2 618.1a2.4 2.4 0 1 0 4.8 0a2.4 2.4 0 1 0 -4.8 0M438.5 618.1a2.4 2.4 0 1 0 4.8 0a2.4 2.4 0 1 0 -4.8 0M438.6 607.7a2.4 2.4 0 1 0 4.8 0a2.4 2.4 0 1 0 -4.8 0M438.8 613.5a2.4 2.4 0 1 0 4.8 0a2.4 2.4 0 1 0 -4.8 0M439.0 607.7a2.4 2.4 0 1 0 4.8 0a2.4 2.4 0 1 0 -4.8 0M439.2 605.7a2.4 2.4 0 1 0 4.8 0a2.4 2.4 0 1 0 -4.8 0M439.4 610.3a2.4 2.4 0 1 0 4.8 0a2.4 2.4 0 1 0 -4.8 0M439.5 626.0a2.4 2.4 0 1 0 4.8 0a2.4 2.4 0 1 0 -4.8 0M439.7 618.1a2.4 2.4 0 1 0 4.8 0a2.4 2.4 0 1 0 -4.8 0M440.2 618.1a2.4 2.4 0 1 0 4.8 0a2.4 2.4 0 1 0 -4.8 0M440.3 626.0a2.4 2.4 0 1 0 4.8 0a2.4 2.4 0 1 0 -4.8 0M440.4 602.4a2.4 2.4 0 1 0 4.8 0a2.4 2.4 0 1 0 -4.8 0M440.7 626.0a2.4 2.4 0 1 0 4.8 0a2.4 2.4 0 1 0 -4.8 0M440.8 613.5a2.4 2.4 0 1 0 4.8 0a2.4 2.4 0 1 0 -4.8 0M440.9 618.1a2.4 2.4 0 1 0 4.8 0a2.4 2.4 0 1 0 -4.8 0M441.2 605.7a2.4 2.4 0 1 0 4.8 0a2.4 2.4 0 1 0 -4.8 0M441.4 610.3a2.4 2.4 0 1 0 4.8 0a2.4 2.4 0 1 0 -4.8 0M441.5 618.1a2.4 2.4 0 1 0 4.8 0a2.4 2.4 0 1 0 -4.8 0M441.8 626.0a2.4 2.4 0 1 0 4.8 0a2.4 2.4 0 1 0 -4.8 0M441.9 618.1a2.4 2.4 0 1 0 4.8 0a2.4 2.4 0 1 0 -4.8 0M442.2 613.5a2.4 2.4 0 1 0 4.8 0a2.4 2.4 0 1 0 -4.8 0M442.3 610.3a2.4 2.4 0 1 0 4.8 0a2.4 2.4 0 1 0 -4.8 0M442.4 618.1a2.4 2.4 0 1 0 4.8 0a2.4 2.4 0 1 0 -4.8 0M442.7 607.7a2.4 2.4 0 1 0 4.8 0a2.4 2.4 0 1 0 -4.8 0M442.9 618.1a2.4 2.4 0 1 0 4.8 0a2.4 2.4 0 1 0 -4.8 0M443.0 607.7a2.4 2.4 0 1 0 4.8 0a2.4 2.4 0 1 0 -4.8 0M443.1 626.0a2.4 2.4 0 1 0 4.8 0a2.4 2.4 0 1 0 -4.8 0M443.4 613.5a2.4 2.4 0 1 0 4.8 0a2.4 2.4 0 1 0 -4.8 0M443.5 613.5a2.4 2.4 0 1 0 4.8 0a2.4 2.4 0 1 0 -4.8 0M443.7 626.0a2.4 2.4 0 1 0 4.8 0a2.4 2.4 0 1 0 -4.8 0M443.9 618.1a2.4 2.4 0 1 0 4.8 0a2.4 2.4 0 1 0 -4.8 0M444.1 626.0a2.4 2.4 0 1 0 4.8 0a2.4 2.4 0 1 0 -4.8 0M444.5 626.0a2.4 2.4 0 1 0 4.8 0a2.4 2.4 0 1 0 -4.8 0M445.1 618.1a2.4 2.4 0 1 0 4.8 0a2.4 2.4 0 1 0 -4.8 0M445.2 626.0a2.4 2.4 0 1 0 4.8 0a2.4 2.4 0 1 0 -4.8 0M445.7 626.0a2.4 2.4 0 1 0 4.8 0a2.4 2.4 0 1 0 -4.8 0M445.8 618.1a2.4 2.4 0 1 0 4.8 0a2.4 2.4 0 1 0 -4.8 0M446.2 626.0a2.4 2.4 0 1 0 4.8 0a2.4 2.4 0 1 0 -4.8 0M446.6 613.5a2.4 2.4 0 1 0 4.8 0a2.4 2.4 0 1 0 -4.8 0M446.9 626.0a2.4 2.4 0 1 0 4.8 0a2.4 2.4 0 1 0 -4.8 0M447.4 613.5a2.4 2.4 0 1 0 4.8 0a2.4 2.4 0 1 0 -4.8 0M447.5 626.0a2.4 2.4 0 1 0 4.8 0a2.4 2.4 0 1 0 -4.8 0M447.8 626.0a2.4 2.4 0 1 0 4.8 0a2.4 2.4 0 1 0 -4.8 0M448.5 626.0a2.4 2.4 0 1 0 4.8 0a2.4 2.4 0 1 0 -4.8 0M449.0 618.1a2.4 2.4 0 1 0 4.8 0a2.4 2.4 0 1 0 -4.8 0M449.0 626.0a2.4 2.4 0 1 0 4.8 0a2.4 2.4 0 1 0 -4.8 0M449.5 618.1a2.4 2.4 0 1 0 4.8 0a2.4 2.4 0 1 0 -4.8 0M449.7 626.0a2.4 2.4 0 1 0 4.8 0a2.4 2.4 0 1 0 -4.8 0M450.3 626.0a2.4 2.4 0 1 0 4.8 0a2.4 2.4 0 1 0 -4.8 0M450.4 618.1a2.4 2.4 0 1 0 4.8 0a2.4 2.4 0 1 0 -4.8 0M450.6 626.0a2.4 2.4 0 1 0 4.8 0a2.4 2.4 0 1 0 -4.8 0M450.9 618.1a2.4 2.4 0 1 0 4.8 0a2.4 2.4 0 1 0 -4.8 0M451.5 626.0a2.4 2.4 0 1 0 4.8 0a2.4 2.4 0 1 0 -4.8 0M451.7 626.0a2.4 2.4 0 1 0 4.8 0a2.4 2.4 0 1 0 -4.8 0M452.2 618.1a2.4 2.4 0 1 0 4.8 0a2.4 2.4 0 1 0 -4.8 0M452.2 626.0a2.4 2.4 0 1 0 4.8 0a2.4 2.4 0 1 0 -4.8 0M453.3 626.0a2.4 2.4 0 1 0 4.8 0a2.4 2.4 0 1 0 -4.8 0M454.0 626.0a2.4 2.4 0 1 0 4.8 0a2.4 2.4 0 1 0 -4.8 0M454.7 613.5a2.4 2.4 0 1 0 4.8 0a2.4 2.4 0 1 0 -4.8 0M454.8 618.1a2.4 2.4 0 1 0 4.8 0a2.4 2.4 0 1 0 -4.8 0M454.9 626.0a2.4 2.4 0 1 0 4.8 0a2.4 2.4 0 1 0 -4.8 0M455.6 626.0a2.4 2.4 0 1 0 4.8 0a2.4 2.4 0 1 0 -4.8 0" fill="none" stroke="#6b6bf0" stroke-width="0.75"/>
<path d="M375.5 510.5L490 626" stroke="#e8282a" stroke-width="1.3" stroke-dasharray="4 2.8"/>
<path d="M375.5 497.5L453.2 626" stroke="#2a2ae0" stroke-width="1.3" stroke-dasharray="4 2.8"/>
<rect x="375.5" y="495.4" width="130.2" height="130.6" fill="none" stroke="#231f20" stroke-width="1.0"/>
<path d="M375.5 626.0v-3M408.1 626.0v-3M440.6 626.0v-3M473.1 626.0v-3M505.7 626.0v-3M375.5 495.4h3M375.5 521.5h3M375.5 547.6h3M375.5 573.8h3M375.5 599.9h3M375.5 626.0h3" stroke="#231f20" stroke-width="0.9"/>
<text x="369.2" y="637.3" font-size="10" fill="#231f20">10<tspan font-size="6.5" dy="-4.2">-2</tspan></text>
<text x="401.8" y="637.3" font-size="10" fill="#231f20">10<tspan font-size="6.5" dy="-4.2">-1</tspan></text>
<text x="434.3" y="637.3" font-size="10" fill="#231f20">10<tspan font-size="6.5" dy="-4.2">0</tspan></text>
<text x="466.8" y="637.3" font-size="10" fill="#231f20">10<tspan font-size="6.5" dy="-4.2">1</tspan></text>
<text x="499.4" y="637.3" font-size="10" fill="#231f20">10<tspan font-size="6.5" dy="-4.2">2</tspan></text>
<text x="367.9" y="500.3" font-size="10" text-anchor="end" fill="#231f20">10</text>
<text x="368.1" y="496.3" font-size="6" fill="#231f20">0</text>
<text x="367.9" y="526.4" font-size="10" text-anchor="end" fill="#231f20">10</text>
<text x="368.1" y="522.4" font-size="6" fill="#231f20">-1</text>
<text x="367.9" y="552.5" font-size="10" text-anchor="end" fill="#231f20">10</text>
<text x="368.1" y="548.5" font-size="6" fill="#231f20">-2</text>
<text x="367.9" y="578.7" font-size="10" text-anchor="end" fill="#231f20">10</text>
<text x="368.1" y="574.7" font-size="6" fill="#231f20">-3</text>
<text x="367.9" y="604.8" font-size="10" text-anchor="end" fill="#231f20">10</text>
<text x="368.1" y="600.8" font-size="6" fill="#231f20">-4</text>
<text x="367.9" y="630.9" font-size="10" text-anchor="end" fill="#231f20">10</text>
<text x="368.1" y="626.9" font-size="6" fill="#231f20">-5</text>
<text transform="translate(355.9,561.3) rotate(-90)" font-size="10" text-anchor="middle" fill="#231f20" textLength="49" lengthAdjust="spacingAndGlyphs">Probability</text>
<text x="440.6" y="647" font-size="10" text-anchor="middle" fill="#231f20" textLength="50" lengthAdjust="spacingAndGlyphs" >Duration (s)</text>
<circle cx="459.6" cy="503.0" r="2.8" fill="none" stroke="#f87474" stroke-width="0.75"/>
<text x="464.5" y="506.5" font-size="10" fill="#231f20" textLength="37.3" lengthAdjust="spacingAndGlyphs"><tspan font-style="italic">k</tspan><tspan font-size="6" dy="2">ON</tspan><tspan dy="-2"> = 1.2</tspan></text>
<circle cx="459.6" cy="515.6" r="2.8" fill="none" stroke="#6b6bf0" stroke-width="0.75"/>
<text x="464.5" y="519.1" font-size="10" fill="#231f20" textLength="39.0" lengthAdjust="spacingAndGlyphs"><tspan font-style="italic">k</tspan><tspan font-size="6" dy="2">OFF</tspan><tspan dy="-2"> = 2.0</tspan></text>
<path d="M541.4 517.8a2.4 2.4 0 1 0 4.8 0a2.4 2.4 0 1 0 -4.8 0M551.3 527.3a2.4 2.4 0 1 0 4.8 0a2.4 2.4 0 1 0 -4.8 0M557.0 532.3a2.4 2.4 0 1 0 4.8 0a2.4 2.4 0 1 0 -4.8 0M561.1 536.4a2.4 2.4 0 1 0 4.8 0a2.4 2.4 0 1 0 -4.8 0M564.3 539.0a2.4 2.4 0 1 0 4.8 0a2.4 2.4 0 1 0 -4.8 0M566.9 541.5a2.4 2.4 0 1 0 4.8 0a2.4 2.4 0 1 0 -4.8 0M569.1 541.9a2.4 2.4 0 1 0 4.8 0a2.4 2.4 0 1 0 -4.8 0M571.0 546.0a2.4 2.4 0 1 0 4.8 0a2.4 2.4 0 1 0 -4.8 0M572.7 546.4a2.4 2.4 0 1 0 4.8 0a2.4 2.4 0 1 0 -4.8 0M574.1 546.8a2.4 2.4 0 1 0 4.8 0a2.4 2.4 0 1 0 -4.8 0M575.5 548.5a2.4 2.4 0 1 0 4.8 0a2.4 2.4 0 1 0 -4.8 0M576.7 551.9a2.4 2.4 0 1 0 4.8 0a2.4 2.4 0 1 0 -4.8 0M577.9 551.8a2.4 2.4 0 1 0 4.8 0a2.4 2.4 0 1 0 -4.8 0M578.9 551.3a2.4 2.4 0 1 0 4.8 0a2.4 2.4 0 1 0 -4.8 0M579.9 554.1a2.4 2.4 0 1 0 4.8 0a2.4 2.4 0 1 0 -4.8 0M580.8 552.9a2.4 2.4 0 1 0 4.8 0a2.4 2.4 0 1 0 -4.8 0M581.7 553.7a2.4 2.4 0 1 0 4.8 0a2.4 2.4 0 1 0 -4.8 0M582.5 555.2a2.4 2.4 0 1 0 4.8 0a2.4 2.4 0 1 0 -4.8 0M583.3 556.4a2.4 2.4 0 1 0 4.8 0a2.4 2.4 0 1 0 -4.8 0M584.0 554.5a2.4 2.4 0 1 0 4.8 0a2.4 2.4 0 1 0 -4.8 0M584.7 559.3a2.4 2.4 0 1 0 4.8 0a2.4 2.4 0 1 0 -4.8 0M585.4 557.7a2.4 2.4 0 1 0 4.8 0a2.4 2.4 0 1 0 -4.8 0M586.0 558.4a2.4 2.4 0 1 0 4.8 0a2.4 2.4 0 1 0 -4.8 0M586.6 559.4a2.4 2.4 0 1 0 4.8 0a2.4 2.4 0 1 0 -4.8 0M587.2 561.0a2.4 2.4 0 1 0 4.8 0a2.4 2.4 0 1 0 -4.8 0M587.7 560.6a2.4 2.4 0 1 0 4.8 0a2.4 2.4 0 1 0 -4.8 0M588.3 559.4a2.4 2.4 0 1 0 4.8 0a2.4 2.4 0 1 0 -4.8 0M588.8 560.7a2.4 2.4 0 1 0 4.8 0a2.4 2.4 0 1 0 -4.8 0M589.3 565.6a2.4 2.4 0 1 0 4.8 0a2.4 2.4 0 1 0 -4.8 0M589.8 562.6a2.4 2.4 0 1 0 4.8 0a2.4 2.4 0 1 0 -4.8 0M590.2 565.2a2.4 2.4 0 1 0 4.8 0a2.4 2.4 0 1 0 -4.8 0M590.7 568.4a2.4 2.4 0 1 0 4.8 0a2.4 2.4 0 1 0 -4.8 0M591.1 564.4a2.4 2.4 0 1 0 4.8 0a2.4 2.4 0 1 0 -4.8 0M591.6 562.9a2.4 2.4 0 1 0 4.8 0a2.4 2.4 0 1 0 -4.8 0M592.0 563.1a2.4 2.4 0 1 0 4.8 0a2.4 2.4 0 1 0 -4.8 0M592.4 569.2a2.4 2.4 0 1 0 4.8 0a2.4 2.4 0 1 0 -4.8 0M592.8 566.6a2.4 2.4 0 1 0 4.8 0a2.4 2.4 0 1 0 -4.8 0M593.1 569.4a2.4 2.4 0 1 0 4.8 0a2.4 2.4 0 1 0 -4.8 0M593.5 571.4a2.4 2.4 0 1 0 4.8 0a2.4 2.4 0 1 0 -4.8 0M593.9 568.4a2.4 2.4 0 1 0 4.8 0a2.4 2.4 0 1 0 -4.8 0M594.2 572.0a2.4 2.4 0 1 0 4.8 0a2.4 2.4 0 1 0 -4.8 0M594.6 571.4a2.4 2.4 0 1 0 4.8 0a2.4 2.4 0 1 0 -4.8 0M594.9 574.5a2.4 2.4 0 1 0 4.8 0a2.4 2.4 0 1 0 -4.8 0M595.2 568.4a2.4 2.4 0 1 0 4.8 0a2.4 2.4 0 1 0 -4.8 0M595.5 567.7a2.4 2.4 0 1 0 4.8 0a2.4 2.4 0 1 0 -4.8 0M595.9 571.7a2.4 2.4 0 1 0 4.8 0a2.4 2.4 0 1 0 -4.8 0M596.2 574.5a2.4 2.4 0 1 0 4.8 0a2.4 2.4 0 1 0 -4.8 0M596.5 574.9a2.4 2.4 0 1 0 4.8 0a2.4 2.4 0 1 0 -4.8 0M597.0 575.7a2.4 2.4 0 1 0 4.8 0a2.4 2.4 0 1 0 -4.8 0M597.3 576.6a2.4 2.4 0 1 0 4.8 0a2.4 2.4 0 1 0 -4.8 0M597.6 569.7a2.4 2.4 0 1 0 4.8 0a2.4 2.4 0 1 0 -4.8 0M597.9 573.8a2.4 2.4 0 1 0 4.8 0a2.4 2.4 0 1 0 -4.8 0M598.1 571.4a2.4 2.4 0 1 0 4.8 0a2.4 2.4 0 1 0 -4.8 0M598.4 582.9a2.4 2.4 0 1 0 4.8 0a2.4 2.4 0 1 0 -4.8 0M598.7 572.0a2.4 2.4 0 1 0 4.8 0a2.4 2.4 0 1 0 -4.8 0M598.9 578.0a2.4 2.4 0 1 0 4.8 0a2.4 2.4 0 1 0 -4.8 0M599.2 574.5a2.4 2.4 0 1 0 4.8 0a2.4 2.4 0 1 0 -4.8 0M599.4 581.5a2.4 2.4 0 1 0 4.8 0a2.4 2.4 0 1 0 -4.8 0M599.6 586.2a2.4 2.4 0 1 0 4.8 0a2.4 2.4 0 1 0 -4.8 0M599.9 583.6a2.4 2.4 0 1 0 4.8 0a2.4 2.4 0 1 0 -4.8 0M600.1 575.3a2.4 2.4 0 1 0 4.8 0a2.4 2.4 0 1 0 -4.8 0M600.3 580.8a2.4 2.4 0 1 0 4.8 0a2.4 2.4 0 1 0 -4.8 0M600.6 576.6a2.4 2.4 0 1 0 4.8 0a2.4 2.4 0 1 0 -4.8 0M600.8 582.2a2.4 2.4 0 1 0 4.8 0a2.4 2.4 0 1 0 -4.8 0M601.0 585.3a2.4 2.4 0 1 0 4.8 0a2.4 2.4 0 1 0 -4.8 0M601.2 578.0a2.4 2.4 0 1 0 4.8 0a2.4 2.4 0 1 0 -4.8 0M601.4 582.9a2.4 2.4 0 1 0 4.8 0a2.4 2.4 0 1 0 -4.8 0M601.6 575.7a2.4 2.4 0 1 0 4.8 0a2.4 2.4 0 1 0 -4.8 0M601.8 575.3a2.4 2.4 0 1 0 4.8 0a2.4 2.4 0 1 0 -4.8 0M602.0 574.1a2.4 2.4 0 1 0 4.8 0a2.4 2.4 0 1 0 -4.8 0M602.2 581.5a2.4 2.4 0 1 0 4.8 0a2.4 2.4 0 1 0 -4.8 0M602.4 575.3a2.4 2.4 0 1 0 4.8 0a2.4 2.4 0 1 0 -4.8 0M602.8 580.8a2.4 2.4 0 1 0 4.8 0a2.4 2.4 0 1 0 -4.8 0M603.0 587.2a2.4 2.4 0 1 0 4.8 0a2.4 2.4 0 1 0 -4.8 0M603.2 595.3a2.4 2.4 0 1 0 4.8 0a2.4 2.4 0 1 0 -4.8 0M603.4 580.2a2.4 2.4 0 1 0 4.8 0a2.4 2.4 0 1 0 -4.8 0M603.5 578.0a2.4 2.4 0 1 0 4.8 0a2.4 2.4 0 1 0 -4.8 0M603.7 582.9a2.4 2.4 0 1 0 4.8 0a2.4 2.4 0 1 0 -4.8 0M603.9 572.0a2.4 2.4 0 1 0 4.8 0a2.4 2.4 0 1 0 -4.8 0M604.1 589.4a2.4 2.4 0 1 0 4.8 0a2.4 2.4 0 1 0 -4.8 0M604.2 599.7a2.4 2.4 0 1 0 4.8 0a2.4 2.4 0 1 0 -4.8 0M604.4 585.3a2.4 2.4 0 1 0 4.8 0a2.4 2.4 0 1 0 -4.8 0M604.6 586.2a2.4 2.4 0 1 0 4.8 0a2.4 2.4 0 1 0 -4.8 0M604.8 575.7a2.4 2.4 0 1 0 4.8 0a2.4 2.4 0 1 0 -4.8 0M604.9 581.5a2.4 2.4 0 1 0 4.8 0a2.4 2.4 0 1 0 -4.8 0M605.1 578.5a2.4 2.4 0 1 0 4.8 0a2.4 2.4 0 1 0 -4.8 0M605.2 586.2a2.4 2.4 0 1 0 4.8 0a2.4 2.4 0 1 0 -4.8 0M605.6 599.7a2.4 2.4 0 1 0 4.8 0a2.4 2.4 0 1 0 -4.8 0M605.7 585.3a2.4 2.4 0 1 0 4.8 0a2.4 2.4 0 1 0 -4.8 0M605.9 590.6a2.4 2.4 0 1 0 4.8 0a2.4 2.4 0 1 0 -4.8 0M606.0 583.6a2.4 2.4 0 1 0 4.8 0a2.4 2.4 0 1 0 -4.8 0M606.2 582.9a2.4 2.4 0 1 0 4.8 0a2.4 2.4 0 1 0 -4.8 0M606.3 590.6a2.4 2.4 0 1 0 4.8 0a2.4 2.4 0 1 0 -4.8 0M606.5 592.0a2.4 2.4 0 1 0 4.8 0a2.4 2.4 0 1 0 -4.8 0M606.6 589.4a2.4 2.4 0 1 0 4.8 0a2.4 2.4 0 1 0 -4.8 0M606.8 593.5a2.4 2.4 0 1 0 4.8 0a2.4 2.4 0 1 0 -4.8 0M606.9 580.2a2.4 2.4 0 1 0 4.8 0a2.4 2.4 0 1 0 -4.8 0M607.2 579.6a2.4 2.4 0 1 0 4.8 0a2.4 2.4 0 1 0 -4.8 0M607.3 590.6a2.4 2.4 0 1 0 4.8 0a2.4 2.4 0 1 0 -4.8 0M607.5 585.3a2.4 2.4 0 1 0 4.8 0a2.4 2.4 0 1 0 -4.8 0M607.6 589.4a2.4 2.4 0 1 0 4.8 0a2.4 2.4 0 1 0 -4.8 0M607.7 580.8a2.4 2.4 0 1 0 4.8 0a2.4 2.4 0 1 0 -4.8 0M607.9 592.0a2.4 2.4 0 1 0 4.8 0a2.4 2.4 0 1 0 -4.8 0M608.0 583.6a2.4 2.4 0 1 0 4.8 0a2.4 2.4 0 1 0 -4.8 0M608.1 593.5a2.4 2.4 0 1 0 4.8 0a2.4 2.4 0 1 0 -4.8 0M608.3 595.3a2.4 2.4 0 1 0 4.8 0a2.4 2.4 0 1 0 -4.8 0M608.4 595.3a2.4 2.4 0 1 0 4.8 0a2.4 2.4 0 1 0 -4.8 0M608.5 599.7a2.4 2.4 0 1 0 4.8 0a2.4 2.4 0 1 0 -4.8 0M608.6 593.5a2.4 2.4 0 1 0 4.8 0a2.4 2.4 0 1 0 -4.8 0M608.8 606.4a2.4 2.4 0 1 0 4.8 0a2.4 2.4 0 1 0 -4.8 0M608.9 585.3a2.4 2.4 0 1 0 4.8 0a2.4 2.4 0 1 0 -4.8 0M609.0 585.3a2.4 2.4 0 1 0 4.8 0a2.4 2.4 0 1 0 -4.8 0M609.1 581.5a2.4 2.4 0 1 0 4.8 0a2.4 2.4 0 1 0 -4.8 0M609.3 589.4a2.4 2.4 0 1 0 4.8 0a2.4 2.4 0 1 0 -4.8 0M609.5 585.3a2.4 2.4 0 1 0 4.8 0a2.4 2.4 0 1 0 -4.8 0M609.8 587.2a2.4 2.4 0 1 0 4.8 0a2.4 2.4 0 1 0 -4.8 0M610.0 595.3a2.4 2.4 0 1 0 4.8 0a2.4 2.4 0 1 0 -4.8 0M610.1 597.3a2.4 2.4 0 1 0 4.8 0a2.4 2.4 0 1 0 -4.8 0M610.2 602.7a2.4 2.4 0 1 0 4.8 0a2.4 2.4 0 1 0 -4.8 0M610.3 586.2a2.4 2.4 0 1 0 4.8 0a2.4 2.4 0 1 0 -4.8 0M610.4 582.9a2.4 2.4 0 1 0 4.8 0a2.4 2.4 0 1 0 -4.8 0M610.6 585.3a2.4 2.4 0 1 0 4.8 0a2.4 2.4 0 1 0 -4.8 0M610.7 588.2a2.4 2.4 0 1 0 4.8 0a2.4 2.4 0 1 0 -4.8 0M610.8 611.8a2.4 2.4 0 1 0 4.8 0a2.4 2.4 0 1 0 -4.8 0M611.0 590.6a2.4 2.4 0 1 0 4.8 0a2.4 2.4 0 1 0 -4.8 0M611.1 586.2a2.4 2.4 0 1 0 4.8 0a2.4 2.4 0 1 0 -4.8 0M611.2 595.3a2.4 2.4 0 1 0 4.8 0a2.4 2.4 0 1 0 -4.8 0M611.3 602.7a2.4 2.4 0 1 0 4.8 0a2.4 2.4 0 1 0 -4.8 0M611.4 592.0a2.4 2.4 0 1 0 4.8 0a2.4 2.4 0 1 0 -4.8 0M611.5 606.4a2.4 2.4 0 1 0 4.8 0a2.4 2.4 0 1 0 -4.8 0M611.6 597.3a2.4 2.4 0 1 0 4.8 0a2.4 2.4 0 1 0 -4.8 0M611.7 611.8a2.4 2.4 0 1 0 4.8 0a2.4 2.4 0 1 0 -4.8 0M611.8 588.2a2.4 2.4 0 1 0 4.8 0a2.4 2.4 0 1 0 -4.8 0M612.0 589.4a2.4 2.4 0 1 0 4.8 0a2.4 2.4 0 1 0 -4.8 0M612.2 586.2a2.4 2.4 0 1 0 4.8 0a2.4 2.4 0 1 0 -4.8 0M612.3 590.6a2.4 2.4 0 1 0 4.8 0a2.4 2.4 0 1 0 -4.8 0M612.4 584.4a2.4 2.4 0 1 0 4.8 0a2.4 2.4 0 1 0 -4.8 0M612.6 606.4a2.4 2.4 0 1 0 4.8 0a2.4 2.4 0 1 0 -4.8 0M612.7 620.9a2.4 2.4 0 1 0 4.8 0a2.4 2.4 0 1 0 -4.8 0M612.8 611.8a2.4 2.4 0 1 0 4.8 0a2.4 2.4 0 1 0 -4.8 0M612.9 602.7a2.4 2.4 0 1 0 4.8 0a2.4 2.4 0 1 0 -4.8 0M612.9 606.4a2.4 2.4 0 1 0 4.8 0a2.4 2.4 0 1 0 -4.8 0M613.3 620.9a2.4 2.4 0 1 0 4.8 0a2.4 2.4 0 1 0 -4.8 0M613.4 599.7a2.4 2.4 0 1 0 4.8 0a2.4 2.4 0 1 0 -4.8 0M613.6 590.6a2.4 2.4 0 1 0 4.8 0a2.4 2.4 0 1 0 -4.8 0M613.8 588.2a2.4 2.4 0 1 0 4.8 0a2.4 2.4 0 1 0 -4.8 0M613.8 611.8a2.4 2.4 0 1 0 4.8 0a2.4 2.4 0 1 0 -4.8 0M613.9 597.3a2.4 2.4 0 1 0 4.8 0a2.4 2.4 0 1 0 -4.8 0M614.0 602.7a2.4 2.4 0 1 0 4.8 0a2.4 2.4 0 1 0 -4.8 0M614.2 593.5a2.4 2.4 0 1 0 4.8 0a2.4 2.4 0 1 0 -4.8 0M614.3 611.8a2.4 2.4 0 1 0 4.8 0a2.4 2.4 0 1 0 -4.8 0M614.4 589.4a2.4 2.4 0 1 0 4.8 0a2.4 2.4 0 1 0 -4.8 0M614.4 602.7a2.4 2.4 0 1 0 4.8 0a2.4 2.4 0 1 0 -4.8 0M614.5 611.8a2.4 2.4 0 1 0 4.8 0a2.4 2.4 0 1 0 -4.8 0M614.6 593.5a2.4 2.4 0 1 0 4.8 0a2.4 2.4 0 1 0 -4.8 0M614.7 589.4a2.4 2.4 0 1 0 4.8 0a2.4 2.4 0 1 0 -4.8 0M614.8 585.3a2.4 2.4 0 1 0 4.8 0a2.4 2.4 0 1 0 -4.8 0M614.9 588.2a2.4 2.4 0 1 0 4.8 0a2.4 2.4 0 1 0 -4.8 0M614.9 606.4a2.4 2.4 0 1 0 4.8 0a2.4 2.4 0 1 0 -4.8 0M615.0 592.0a2.4 2.4 0 1 0 4.8 0a2.4 2.4 0 1 0 -4.8 0M615.1 602.7a2.4 2.4 0 1 0 4.8 0a2.4 2.4 0 1 0 -4.8 0M615.2 597.3a2.4 2.4 0 1 0 4.8 0a2.4 2.4 0 1 0 -4.8 0M615.3 599.7a2.4 2.4 0 1 0 4.8 0a2.4 2.4 0 1 0 -4.8 0M615.4 620.9a2.4 2.4 0 1 0 4.8 0a2.4 2.4 0 1 0 -4.8 0M615.6 602.7a2.4 2.4 0 1 0 4.8 0a2.4 2.4 0 1 0 -4.8 0M615.6 606.4a2.4 2.4 0 1 0 4.8 0a2.4 2.4 0 1 0 -4.8 0M615.8 597.3a2.4 2.4 0 1 0 4.8 0a2.4 2.4 0 1 0 -4.8 0M616.0 589.4a2.4 2.4 0 1 0 4.8 0a2.4 2.4 0 1 0 -4.8 0M616.0 587.2a2.4 2.4 0 1 0 4.8 0a2.4 2.4 0 1 0 -4.8 0M616.1 585.3a2.4 2.4 0 1 0 4.8 0a2.4 2.4 0 1 0 -4.8 0M616.2 602.7a2.4 2.4 0 1 0 4.8 0a2.4 2.4 0 1 0 -4.8 0M616.3 597.3a2.4 2.4 0 1 0 4.8 0a2.4 2.4 0 1 0 -4.8 0M616.3 599.7a2.4 2.4 0 1 0 4.8 0a2.4 2.4 0 1 0 -4.8 0M616.4 620.9a2.4 2.4 0 1 0 4.8 0a2.4 2.4 0 1 0 -4.8 0M616.5 595.3a2.4 2.4 0 1 0 4.8 0a2.4 2.4 0 1 0 -4.8 0M616.7 620.9a2.4 2.4 0 1 0 4.8 0a2.4 2.4 0 1 0 -4.8 0M616.8 593.5a2.4 2.4 0 1 0 4.8 0a2.4 2.4 0 1 0 -4.8 0M616.8 597.3a2.4 2.4 0 1 0 4.8 0a2.4 2.4 0 1 0 -4.8 0M616.9 590.6a2.4 2.4 0 1 0 4.8 0a2.4 2.4 0 1 0 -4.8 0M617.0 611.8a2.4 2.4 0 1 0 4.8 0a2.4 2.4 0 1 0 -4.8 0M617.0 606.4a2.4 2.4 0 1 0 4.8 0a2.4 2.4 0 1 0 -4.8 0M617.1 602.7a2.4 2.4 0 1 0 4.8 0a2.4 2.4 0 1 0 -4.8 0M617.2 602.7a2.4 2.4 0 1 0 4.8 0a2.4 2.4 0 1 0 -4.8 0M617.2 606.4a2.4 2.4 0 1 0 4.8 0a2.4 2.4 0 1 0 -4.8 0M617.4 587.2a2.4 2.4 0 1 0 4.8 0a2.4 2.4 0 1 0 -4.8 0M617.5 599.7a2.4 2.4 0 1 0 4.8 0a2.4 2.4 0 1 0 -4.8 0M617.8 595.3a2.4 2.4 0 1 0 4.8 0a2.4 2.4 0 1 0 -4.8 0M617.9 587.2a2.4 2.4 0 1 0 4.8 0a2.4 2.4 0 1 0 -4.8 0M617.9 611.8a2.4 2.4 0 1 0 4.8 0a2.4 2.4 0 1 0 -4.8 0M618.0 592.0a2.4 2.4 0 1 0 4.8 0a2.4 2.4 0 1 0 -4.8 0M618.0 597.3a2.4 2.4 0 1 0 4.8 0a2.4 2.4 0 1 0 -4.8 0M618.1 606.4a2.4 2.4 0 1 0 4.8 0a2.4 2.4 0 1 0 -4.8 0M618.2 593.5a2.4 2.4 0 1 0 4.8 0a2.4 2.4 0 1 0 -4.8 0M618.4 597.3a2.4 2.4 0 1 0 4.8 0a2.4 2.4 0 1 0 -4.8 0M618.4 611.8a2.4 2.4 0 1 0 4.8 0a2.4 2.4 0 1 0 -4.8 0M618.7 606.4a2.4 2.4 0 1 0 4.8 0a2.4 2.4 0 1 0 -4.8 0M618.8 586.2a2.4 2.4 0 1 0 4.8 0a2.4 2.4 0 1 0 -4.8 0M618.9 611.8a2.4 2.4 0 1 0 4.8 0a2.4 2.4 0 1 0 -4.8 0M618.9 602.7a2.4 2.4 0 1 0 4.8 0a2.4 2.4 0 1 0 -4.8 0M619.0 599.7a2.4 2.4 0 1 0 4.8 0a2.4 2.4 0 1 0 -4.8 0M619.1 606.4a2.4 2.4 0 1 0 4.8 0a2.4 2.4 0 1 0 -4.8 0M619.1 620.9a2.4 2.4 0 1 0 4.8 0a2.4 2.4 0 1 0 -4.8 0M619.2 595.3a2.4 2.4 0 1 0 4.8 0a2.4 2.4 0 1 0 -4.8 0M619.4 593.5a2.4 2.4 0 1 0 4.8 0a2.4 2.4 0 1 0 -4.8 0M619.5 597.3a2.4 2.4 0 1 0 4.8 0a2.4 2.4 0 1 0 -4.8 0M619.6 602.7a2.4 2.4 0 1 0 4.8 0a2.4 2.4 0 1 0 -4.8 0M619.6 611.8a2.4 2.4 0 1 0 4.8 0a2.4 2.4 0 1 0 -4.8 0M619.7 606.4a2.4 2.4 0 1 0 4.8 0a2.4 2.4 0 1 0 -4.8 0M619.8 592.0a2.4 2.4 0 1 0 4.8 0a2.4 2.4 0 1 0 -4.8 0M619.9 606.4a2.4 2.4 0 1 0 4.8 0a2.4 2.4 0 1 0 -4.8 0M620.0 611.8a2.4 2.4 0 1 0 4.8 0a2.4 2.4 0 1 0 -4.8 0M620.0 595.3a2.4 2.4 0 1 0 4.8 0a2.4 2.4 0 1 0 -4.8 0M620.1 602.7a2.4 2.4 0 1 0 4.8 0a2.4 2.4 0 1 0 -4.8 0M620.2 593.5a2.4 2.4 0 1 0 4.8 0a2.4 2.4 0 1 0 -4.8 0M620.4 590.6a2.4 2.4 0 1 0 4.8 0a2.4 2.4 0 1 0 -4.8 0M620.5 620.9a2.4 2.4 0 1 0 4.8 0a2.4 2.4 0 1 0 -4.8 0M620.7 599.7a2.4 2.4 0 1 0 4.8 0a2.4 2.4 0 1 0 -4.8 0M620.8 602.7a2.4 2.4 0 1 0 4.8 0a2.4 2.4 0 1 0 -4.8 0M620.9 606.4a2.4 2.4 0 1 0 4.8 0a2.4 2.4 0 1 0 -4.8 0M620.9 611.8a2.4 2.4 0 1 0 4.8 0a2.4 2.4 0 1 0 -4.8 0M621.0 611.8a2.4 2.4 0 1 0 4.8 0a2.4 2.4 0 1 0 -4.8 0M621.1 606.4a2.4 2.4 0 1 0 4.8 0a2.4 2.4 0 1 0 -4.8 0M621.1 599.7a2.4 2.4 0 1 0 4.8 0a2.4 2.4 0 1 0 -4.8 0M621.3 593.5a2.4 2.4 0 1 0 4.8 0a2.4 2.4 0 1 0 -4.8 0M621.3 597.3a2.4 2.4 0 1 0 4.8 0a2.4 2.4 0 1 0 -4.8 0M621.4 595.3a2.4 2.4 0 1 0 4.8 0a2.4 2.4 0 1 0 -4.8 0M621.5 590.6a2.4 2.4 0 1 0 4.8 0a2.4 2.4 0 1 0 -4.8 0M621.5 620.9a2.4 2.4 0 1 0 4.8 0a2.4 2.4 0 1 0 -4.8 0M621.6 620.9a2.4 2.4 0 1 0 4.8 0a2.4 2.4 0 1 0 -4.8 0M621.6 599.7a2.4 2.4 0 1 0 4.8 0a2.4 2.4 0 1 0 -4.8 0M621.7 597.3a2.4 2.4 0 1 0 4.8 0a2.4 2.4 0 1 0 -4.8 0M621.7 606.4a2.4 2.4 0 1 0 4.8 0a2.4 2.4 0 1 0 -4.8 0M621.8 602.7a2.4 2.4 0 1 0 4.8 0a2.4 2.4 0 1 0 -4.8 0M621.8 593.5a2.4 2.4 0 1 0 4.8 0a2.4 2.4 0 1 0 -4.8 0M621.9 611.8a2.4 2.4 0 1 0 4.8 0a2.4 2.4 0 1 0 -4.8 0M622.2 599.7a2.4 2.4 0 1 0 4.8 0a2.4 2.4 0 1 0 -4.8 0M622.2 620.9a2.4 2.4 0 1 0 4.8 0a2.4 2.4 0 1 0 -4.8 0M622.3 602.7a2.4 2.4 0 1 0 4.8 0a2.4 2.4 0 1 0 -4.8 0M622.3 597.3a2.4 2.4 0 1 0 4.8 0a2.4 2.4 0 1 0 -4.8 0M622.6 593.5a2.4 2.4 0 1 0 4.8 0a2.4 2.4 0 1 0 -4.8 0M622.8 606.4a2.4 2.4 0 1 0 4.8 0a2.4 2.4 0 1 0 -4.8 0M622.8 599.7a2.4 2.4 0 1 0 4.8 0a2.4 2.4 0 1 0 -4.8 0M622.9 620.9a2.4 2.4 0 1 0 4.8 0a2.4 2.4 0 1 0 -4.8 0M622.9 597.3a2.4 2.4 0 1 0 4.8 0a2.4 2.4 0 1 0 -4.8 0M623.0 611.8a2.4 2.4 0 1 0 4.8 0a2.4 2.4 0 1 0 -4.8 0M623.3 620.9a2.4 2.4 0 1 0 4.8 0a2.4 2.4 0 1 0 -4.8 0M623.4 611.8a2.4 2.4 0 1 0 4.8 0a2.4 2.4 0 1 0 -4.8 0M623.5 606.4a2.4 2.4 0 1 0 4.8 0a2.4 2.4 0 1 0 -4.8 0M623.8 611.8a2.4 2.4 0 1 0 4.8 0a2.4 2.4 0 1 0 -4.8 0M624.0 597.3a2.4 2.4 0 1 0 4.8 0a2.4 2.4 0 1 0 -4.8 0M624.1 599.7a2.4 2.4 0 1 0 4.8 0a2.4 2.4 0 1 0 -4.8 0M624.1 620.9a2.4 2.4 0 1 0 4.8 0a2.4 2.4 0 1 0 -4.8 0M624.2 606.4a2.4 2.4 0 1 0 4.8 0a2.4 2.4 0 1 0 -4.8 0M624.3 602.7a2.4 2.4 0 1 0 4.8 0a2.4 2.4 0 1 0 -4.8 0M624.4 606.4a2.4 2.4 0 1 0 4.8 0a2.4 2.4 0 1 0 -4.8 0M624.4 611.8a2.4 2.4 0 1 0 4.8 0a2.4 2.4 0 1 0 -4.8 0M624.5 620.9a2.4 2.4 0 1 0 4.8 0a2.4 2.4 0 1 0 -4.8 0M624.9 620.9a2.4 2.4 0 1 0 4.8 0a2.4 2.4 0 1 0 -4.8 0M625.0 599.7a2.4 2.4 0 1 0 4.8 0a2.4 2.4 0 1 0 -4.8 0M625.0 602.7a2.4 2.4 0 1 0 4.8 0a2.4 2.4 0 1 0 -4.8 0M625.0 606.4a2.4 2.4 0 1 0 4.8 0a2.4 2.4 0 1 0 -4.8 0M625.1 611.8a2.4 2.4 0 1 0 4.8 0a2.4 2.4 0 1 0 -4.8 0M625.5 611.8a2.4 2.4 0 1 0 4.8 0a2.4 2.4 0 1 0 -4.8 0M625.7 620.9a2.4 2.4 0 1 0 4.8 0a2.4 2.4 0 1 0 -4.8 0M625.7 602.7a2.4 2.4 0 1 0 4.8 0a2.4 2.4 0 1 0 -4.8 0M625.9 599.7a2.4 2.4 0 1 0 4.8 0a2.4 2.4 0 1 0 -4.8 0M626.0 611.8a2.4 2.4 0 1 0 4.8 0a2.4 2.4 0 1 0 -4.8 0M626.0 620.9a2.4 2.4 0 1 0 4.8 0a2.4 2.4 0 1 0 -4.8 0M626.3 602.7a2.4 2.4 0 1 0 4.8 0a2.4 2.4 0 1 0 -4.8 0M626.3 593.5a2.4 2.4 0 1 0 4.8 0a2.4 2.4 0 1 0 -4.8 0M626.4 606.4a2.4 2.4 0 1 0 4.8 0a2.4 2.4 0 1 0 -4.8 0M626.5 599.7a2.4 2.4 0 1 0 4.8 0a2.4 2.4 0 1 0 -4.8 0M626.6 606.4a2.4 2.4 0 1 0 4.8 0a2.4 2.4 0 1 0 -4.8 0M626.6 589.4a2.4 2.4 0 1 0 4.8 0a2.4 2.4 0 1 0 -4.8 0M626.7 620.9a2.4 2.4 0 1 0 4.8 0a2.4 2.4 0 1 0 -4.8 0M627.0 611.8a2.4 2.4 0 1 0 4.8 0a2.4 2.4 0 1 0 -4.8 0M627.1 611.8a2.4 2.4 0 1 0 4.8 0a2.4 2.4 0 1 0 -4.8 0M627.1 620.9a2.4 2.4 0 1 0 4.8 0a2.4 2.4 0 1 0 -4.8 0M627.4 606.4a2.4 2.4 0 1 0 4.8 0a2.4 2.4 0 1 0 -4.8 0M627.4 602.7a2.4 2.4 0 1 0 4.8 0a2.4 2.4 0 1 0 -4.8 0M627.5 599.7a2.4 2.4 0 1 0 4.8 0a2.4 2.4 0 1 0 -4.8 0M627.7 611.8a2.4 2.4 0 1 0 4.8 0a2.4 2.4 0 1 0 -4.8 0M627.7 602.7a2.4 2.4 0 1 0 4.8 0a2.4 2.4 0 1 0 -4.8 0M627.7 620.9a2.4 2.4 0 1 0 4.8 0a2.4 2.4 0 1 0 -4.8 0M627.8 606.4a2.4 2.4 0 1 0 4.8 0a2.4 2.4 0 1 0 -4.8 0M628.3 611.8a2.4 2.4 0 1 0 4.8 0a2.4 2.4 0 1 0 -4.8 0M628.4 606.4a2.4 2.4 0 1 0 4.8 0a2.4 2.4 0 1 0 -4.8 0M628.4 602.7a2.4 2.4 0 1 0 4.8 0a2.4 2.4 0 1 0 -4.8 0M628.5 620.9a2.4 2.4 0 1 0 4.8 0a2.4 2.4 0 1 0 -4.8 0M628.8 606.4a2.4 2.4 0 1 0 4.8 0a2.4 2.4 0 1 0 -4.8 0M628.8 620.9a2.4 2.4 0 1 0 4.8 0a2.4 2.4 0 1 0 -4.8 0M628.9 602.7a2.4 2.4 0 1 0 4.8 0a2.4 2.4 0 1 0 -4.8 0M629.1 611.8a2.4 2.4 0 1 0 4.8 0a2.4 2.4 0 1 0 -4.8 0M629.3 606.4a2.4 2.4 0 1 0 4.8 0a2.4 2.4 0 1 0 -4.8 0M629.4 620.9a2.4 2.4 0 1 0 4.8 0a2.4 2.4 0 1 0 -4.8 0M629.5 611.8a2.4 2.4 0 1 0 4.8 0a2.4 2.4 0 1 0 -4.8 0M629.8 602.7a2.4 2.4 0 1 0 4.8 0a2.4 2.4 0 1 0 -4.8 0M629.8 611.8a2.4 2.4 0 1 0 4.8 0a2.4 2.4 0 1 0 -4.8 0M629.9 620.9a2.4 2.4 0 1 0 4.8 0a2.4 2.4 0 1 0 -4.8 0M630.1 599.7a2.4 2.4 0 1 0 4.8 0a2.4 2.4 0 1 0 -4.8 0M630.2 602.7a2.4 2.4 0 1 0 4.8 0a2.4 2.4 0 1 0 -4.8 0M630.3 597.3a2.4 2.4 0 1 0 4.8 0a2.4 2.4 0 1 0 -4.8 0M630.4 620.9a2.4 2.4 0 1 0 4.8 0a2.4 2.4 0 1 0 -4.8 0M630.4 611.8a2.4 2.4 0 1 0 4.8 0a2.4 2.4 0 1 0 -4.8 0M630.5 602.7a2.4 2.4 0 1 0 4.8 0a2.4 2.4 0 1 0 -4.8 0M630.7 606.4a2.4 2.4 0 1 0 4.8 0a2.4 2.4 0 1 0 -4.8 0M630.9 611.8a2.4 2.4 0 1 0 4.8 0a2.4 2.4 0 1 0 -4.8 0M631.0 620.9a2.4 2.4 0 1 0 4.8 0a2.4 2.4 0 1 0 -4.8 0M631.1 606.4a2.4 2.4 0 1 0 4.8 0a2.4 2.4 0 1 0 -4.8 0M631.4 599.7a2.4 2.4 0 1 0 4.8 0a2.4 2.4 0 1 0 -4.8 0M631.5 620.9a2.4 2.4 0 1 0 4.8 0a2.4 2.4 0 1 0 -4.8 0M631.6 599.7a2.4 2.4 0 1 0 4.8 0a2.4 2.4 0 1 0 -4.8 0M631.6 597.3a2.4 2.4 0 1 0 4.8 0a2.4 2.4 0 1 0 -4.8 0M631.7 595.3a2.4 2.4 0 1 0 4.8 0a2.4 2.4 0 1 0 -4.8 0M631.9 606.4a2.4 2.4 0 1 0 4.8 0a2.4 2.4 0 1 0 -4.8 0M631.9 611.8a2.4 2.4 0 1 0 4.8 0a2.4 2.4 0 1 0 -4.8 0M632.0 611.8a2.4 2.4 0 1 0 4.8 0a2.4 2.4 0 1 0 -4.8 0M632.2 606.4a2.4 2.4 0 1 0 4.8 0a2.4 2.4 0 1 0 -4.8 0M632.4 620.9a2.4 2.4 0 1 0 4.8 0a2.4 2.4 0 1 0 -4.8 0M632.6 620.9a2.4 2.4 0 1 0 4.8 0a2.4 2.4 0 1 0 -4.8 0M632.8 611.8a2.4 2.4 0 1 0 4.8 0a2.4 2.4 0 1 0 -4.8 0M632.9 606.4a2.4 2.4 0 1 0 4.8 0a2.4 2.4 0 1 0 -4.8 0M633.2 606.4a2.4 2.4 0 1 0 4.8 0a2.4 2.4 0 1 0 -4.8 0M633.2 620.9a2.4 2.4 0 1 0 4.8 0a2.4 2.4 0 1 0 -4.8 0M633.4 611.8a2.4 2.4 0 1 0 4.8 0a2.4 2.4 0 1 0 -4.8 0M633.7 620.9a2.4 2.4 0 1 0 4.8 0a2.4 2.4 0 1 0 -4.8 0M633.8 611.8a2.4 2.4 0 1 0 4.8 0a2.4 2.4 0 1 0 -4.8 0M633.9 606.4a2.4 2.4 0 1 0 4.8 0a2.4 2.4 0 1 0 -4.8 0M634.2 620.9a2.4 2.4 0 1 0 4.8 0a2.4 2.4 0 1 0 -4.8 0M634.4 602.7a2.4 2.4 0 1 0 4.8 0a2.4 2.4 0 1 0 -4.8 0M634.5 606.4a2.4 2.4 0 1 0 4.8 0a2.4 2.4 0 1 0 -4.8 0M634.5 611.8a2.4 2.4 0 1 0 4.8 0a2.4 2.4 0 1 0 -4.8 0M634.8 602.7a2.4 2.4 0 1 0 4.8 0a2.4 2.4 0 1 0 -4.8 0M634.9 620.9a2.4 2.4 0 1 0 4.8 0a2.4 2.4 0 1 0 -4.8 0M634.9 611.8a2.4 2.4 0 1 0 4.8 0a2.4 2.4 0 1 0 -4.8 0M635.1 606.4a2.4 2.4 0 1 0 4.8 0a2.4 2.4 0 1 0 -4.8 0M635.4 620.9a2.4 2.4 0 1 0 4.8 0a2.4 2.4 0 1 0 -4.8 0M635.5 611.8a2.4 2.4 0 1 0 4.8 0a2.4 2.4 0 1 0 -4.8 0M635.6 597.3a2.4 2.4 0 1 0 4.8 0a2.4 2.4 0 1 0 -4.8 0M635.9 620.9a2.4 2.4 0 1 0 4.8 0a2.4 2.4 0 1 0 -4.8 0M636.0 606.4a2.4 2.4 0 1 0 4.8 0a2.4 2.4 0 1 0 -4.8 0M636.3 611.8a2.4 2.4 0 1 0 4.8 0a2.4 2.4 0 1 0 -4.8 0M636.5 620.9a2.4 2.4 0 1 0 4.8 0a2.4 2.4 0 1 0 -4.8 0M636.6 597.3a2.4 2.4 0 1 0 4.8 0a2.4 2.4 0 1 0 -4.8 0M636.6 611.8a2.4 2.4 0 1 0 4.8 0a2.4 2.4 0 1 0 -4.8 0M636.9 606.4a2.4 2.4 0 1 0 4.8 0a2.4 2.4 0 1 0 -4.8 0M637.0 620.9a2.4 2.4 0 1 0 4.8 0a2.4 2.4 0 1 0 -4.8 0M637.2 611.8a2.4 2.4 0 1 0 4.8 0a2.4 2.4 0 1 0 -4.8 0M637.2 606.4a2.4 2.4 0 1 0 4.8 0a2.4 2.4 0 1 0 -4.8 0M637.6 620.9a2.4 2.4 0 1 0 4.8 0a2.4 2.4 0 1 0 -4.8 0M637.7 611.8a2.4 2.4 0 1 0 4.8 0a2.4 2.4 0 1 0 -4.8 0M638.1 620.9a2.4 2.4 0 1 0 4.8 0a2.4 2.4 0 1 0 -4.8 0M638.3 611.8a2.4 2.4 0 1 0 4.8 0a2.4 2.4 0 1 0 -4.8 0M638.7 611.8a2.4 2.4 0 1 0 4.8 0a2.4 2.4 0 1 0 -4.8 0M638.8 606.4a2.4 2.4 0 1 0 4.8 0a2.4 2.4 0 1 0 -4.8 0M638.8 620.9a2.4 2.4 0 1 0 4.8 0a2.4 2.4 0 1 0 -4.8 0M639.2 606.4a2.4 2.4 0 1 0 4.8 0a2.4 2.4 0 1 0 -4.8 0M639.2 620.9a2.4 2.4 0 1 0 4.8 0a2.4 2.4 0 1 0 -4.8 0M639.5 611.8a2.4 2.4 0 1 0 4.8 0a2.4 2.4 0 1 0 -4.8 0M639.8 611.8a2.4 2.4 0 1 0 4.8 0a2.4 2.4 0 1 0 -4.8 0M639.8 620.9a2.4 2.4 0 1 0 4.8 0a2.4 2.4 0 1 0 -4.8 0M640.3 611.8a2.4 2.4 0 1 0 4.8 0a2.4 2.4 0 1 0 -4.8 0M640.3 606.4a2.4 2.4 0 1 0 4.8 0a2.4 2.4 0 1 0 -4.8 0M640.3 620.9a2.4 2.4 0 1 0 4.8 0a2.4 2.4 0 1 0 -4.8 0M640.8 620.9a2.4 2.4 0 1 0 4.8 0a2.4 2.4 0 1 0 -4.8 0M641.0 611.8a2.4 2.4 0 1 0 4.8 0a2.4 2.4 0 1 0 -4.8 0M641.0 606.4a2.4 2.4 0 1 0 4.8 0a2.4 2.4 0 1 0 -4.8 0M641.4 620.9a2.4 2.4 0 1 0 4.8 0a2.4 2.4 0 1 0 -4.8 0M641.4 611.8a2.4 2.4 0 1 0 4.8 0a2.4 2.4 0 1 0 -4.8 0M641.9 620.9a2.4 2.4 0 1 0 4.8 0a2.4 2.4 0 1 0 -4.8 0M642.1 611.8a2.4 2.4 0 1 0 4.8 0a2.4 2.4 0 1 0 -4.8 0M642.5 611.8a2.4 2.4 0 1 0 4.8 0a2.4 2.4 0 1 0 -4.8 0M642.6 620.9a2.4 2.4 0 1 0 4.8 0a2.4 2.4 0 1 0 -4.8 0M642.6 606.4a2.4 2.4 0 1 0 4.8 0a2.4 2.4 0 1 0 -4.8 0M643.0 620.9a2.4 2.4 0 1 0 4.8 0a2.4 2.4 0 1 0 -4.8 0M643.7 611.8a2.4 2.4 0 1 0 4.8 0a2.4 2.4 0 1 0 -4.8 0M643.8 620.9a2.4 2.4 0 1 0 4.8 0a2.4 2.4 0 1 0 -4.8 0M644.2 620.9a2.4 2.4 0 1 0 4.8 0a2.4 2.4 0 1 0 -4.8 0M644.7 620.9a2.4 2.4 0 1 0 4.8 0a2.4 2.4 0 1 0 -4.8 0M644.9 611.8a2.4 2.4 0 1 0 4.8 0a2.4 2.4 0 1 0 -4.8 0M645.2 611.8a2.4 2.4 0 1 0 4.8 0a2.4 2.4 0 1 0 -4.8 0M645.3 620.9a2.4 2.4 0 1 0 4.8 0a2.4 2.4 0 1 0 -4.8 0M645.8 611.8a2.4 2.4 0 1 0 4.8 0a2.4 2.4 0 1 0 -4.8 0M646.2 620.9a2.4 2.4 0 1 0 4.8 0a2.4 2.4 0 1 0 -4.8 0M646.4 620.9a2.4 2.4 0 1 0 4.8 0a2.4 2.4 0 1 0 -4.8 0M646.9 620.9a2.4 2.4 0 1 0 4.8 0a2.4 2.4 0 1 0 -4.8 0M647.5 620.9a2.4 2.4 0 1 0 4.8 0a2.4 2.4 0 1 0 -4.8 0M648.0 611.8a2.4 2.4 0 1 0 4.8 0a2.4 2.4 0 1 0 -4.8 0M648.1 620.9a2.4 2.4 0 1 0 4.8 0a2.4 2.4 0 1 0 -4.8 0M648.8 620.9a2.4 2.4 0 1 0 4.8 0a2.4 2.4 0 1 0 -4.8 0M649.1 620.9a2.4 2.4 0 1 0 4.8 0a2.4 2.4 0 1 0 -4.8 0M649.7 620.9a2.4 2.4 0 1 0 4.8 0a2.4 2.4 0 1 0 -4.8 0M650.2 620.9a2.4 2.4 0 1 0 4.8 0a2.4 2.4 0 1 0 -4.8 0M650.8 620.9a2.4 2.4 0 1 0 4.8 0a2.4 2.4 0 1 0 -4.8 0M651.0 611.8a2.4 2.4 0 1 0 4.8 0a2.4 2.4 0 1 0 -4.8 0M651.6 620.9a2.4 2.4 0 1 0 4.8 0a2.4 2.4 0 1 0 -4.8 0M652.0 620.9a2.4 2.4 0 1 0 4.8 0a2.4 2.4 0 1 0 -4.8 0M652.4 620.9a2.4 2.4 0 1 0 4.8 0a2.4 2.4 0 1 0 -4.8 0M652.5 611.8a2.4 2.4 0 1 0 4.8 0a2.4 2.4 0 1 0 -4.8 0" fill="none" stroke="#f87474" stroke-width="0.75"/>
<path d="M541.4 501.5a2.4 2.4 0 1 0 4.8 0a2.4 2.4 0 1 0 -4.8 0M551.3 519.3a2.4 2.4 0 1 0 4.8 0a2.4 2.4 0 1 0 -4.8 0M557.0 530.3a2.4 2.4 0 1 0 4.8 0a2.4 2.4 0 1 0 -4.8 0M561.1 537.7a2.4 2.4 0 1 0 4.8 0a2.4 2.4 0 1 0 -4.8 0M564.3 545.3a2.4 2.4 0 1 0 4.8 0a2.4 2.4 0 1 0 -4.8 0M566.9 548.2a2.4 2.4 0 1 0 4.8 0a2.4 2.4 0 1 0 -4.8 0M569.1 553.7a2.4 2.4 0 1 0 4.8 0a2.4 2.4 0 1 0 -4.8 0M571.0 558.5a2.4 2.4 0 1 0 4.8 0a2.4 2.4 0 1 0 -4.8 0M572.7 563.7a2.4 2.4 0 1 0 4.8 0a2.4 2.4 0 1 0 -4.8 0M574.1 560.2a2.4 2.4 0 1 0 4.8 0a2.4 2.4 0 1 0 -4.8 0M575.5 567.2a2.4 2.4 0 1 0 4.8 0a2.4 2.4 0 1 0 -4.8 0M576.7 569.2a2.4 2.4 0 1 0 4.8 0a2.4 2.4 0 1 0 -4.8 0M577.9 577.1a2.4 2.4 0 1 0 4.8 0a2.4 2.4 0 1 0 -4.8 0M578.9 572.0a2.4 2.4 0 1 0 4.8 0a2.4 2.4 0 1 0 -4.8 0M579.9 574.1a2.4 2.4 0 1 0 4.8 0a2.4 2.4 0 1 0 -4.8 0M580.8 577.1a2.4 2.4 0 1 0 4.8 0a2.4 2.4 0 1 0 -4.8 0M581.7 578.5a2.4 2.4 0 1 0 4.8 0a2.4 2.4 0 1 0 -4.8 0M582.5 582.2a2.4 2.4 0 1 0 4.8 0a2.4 2.4 0 1 0 -4.8 0M583.3 582.9a2.4 2.4 0 1 0 4.8 0a2.4 2.4 0 1 0 -4.8 0M584.0 587.2a2.4 2.4 0 1 0 4.8 0a2.4 2.4 0 1 0 -4.8 0M584.7 582.9a2.4 2.4 0 1 0 4.8 0a2.4 2.4 0 1 0 -4.8 0M585.4 586.2a2.4 2.4 0 1 0 4.8 0a2.4 2.4 0 1 0 -4.8 0M586.0 592.0a2.4 2.4 0 1 0 4.8 0a2.4 2.4 0 1 0 -4.8 0M586.6 597.3a2.4 2.4 0 1 0 4.8 0a2.4 2.4 0 1 0 -4.8 0M587.2 592.0a2.4 2.4 0 1 0 4.8 0a2.4 2.4 0 1 0 -4.8 0M587.7 595.3a2.4 2.4 0 1 0 4.8 0a2.4 2.4 0 1 0 -4.8 0M588.3 602.7a2.4 2.4 0 1 0 4.8 0a2.4 2.4 0 1 0 -4.8 0M588.8 611.8a2.4 2.4 0 1 0 4.8 0a2.4 2.4 0 1 0 -4.8 0M589.3 606.4a2.4 2.4 0 1 0 4.8 0a2.4 2.4 0 1 0 -4.8 0M589.8 602.7a2.4 2.4 0 1 0 4.8 0a2.4 2.4 0 1 0 -4.8 0M590.2 599.7a2.4 2.4 0 1 0 4.8 0a2.4 2.4 0 1 0 -4.8 0M590.7 593.5a2.4 2.4 0 1 0 4.8 0a2.4 2.4 0 1 0 -4.8 0M591.1 592.0a2.4 2.4 0 1 0 4.8 0a2.4 2.4 0 1 0 -4.8 0M591.6 592.0a2.4 2.4 0 1 0 4.8 0a2.4 2.4 0 1 0 -4.8 0M592.0 595.3a2.4 2.4 0 1 0 4.8 0a2.4 2.4 0 1 0 -4.8 0M592.4 611.8a2.4 2.4 0 1 0 4.8 0a2.4 2.4 0 1 0 -4.8 0M592.8 602.7a2.4 2.4 0 1 0 4.8 0a2.4 2.4 0 1 0 -4.8 0M593.1 599.7a2.4 2.4 0 1 0 4.8 0a2.4 2.4 0 1 0 -4.8 0M593.5 606.4a2.4 2.4 0 1 0 4.8 0a2.4 2.4 0 1 0 -4.8 0M593.9 599.7a2.4 2.4 0 1 0 4.8 0a2.4 2.4 0 1 0 -4.8 0M594.2 611.8a2.4 2.4 0 1 0 4.8 0a2.4 2.4 0 1 0 -4.8 0M595.2 602.7a2.4 2.4 0 1 0 4.8 0a2.4 2.4 0 1 0 -4.8 0M595.5 606.4a2.4 2.4 0 1 0 4.8 0a2.4 2.4 0 1 0 -4.8 0M595.9 606.4a2.4 2.4 0 1 0 4.8 0a2.4 2.4 0 1 0 -4.8 0M596.2 611.8a2.4 2.4 0 1 0 4.8 0a2.4 2.4 0 1 0 -4.8 0M596.5 620.9a2.4 2.4 0 1 0 4.8 0a2.4 2.4 0 1 0 -4.8 0M597.0 620.9a2.4 2.4 0 1 0 4.8 0a2.4 2.4 0 1 0 -4.8 0M597.6 620.9a2.4 2.4 0 1 0 4.8 0a2.4 2.4 0 1 0 -4.8 0M598.1 611.8a2.4 2.4 0 1 0 4.8 0a2.4 2.4 0 1 0 -4.8 0M598.4 602.7a2.4 2.4 0 1 0 4.8 0a2.4 2.4 0 1 0 -4.8 0M598.7 606.4a2.4 2.4 0 1 0 4.8 0a2.4 2.4 0 1 0 -4.8 0M599.2 620.9a2.4 2.4 0 1 0 4.8 0a2.4 2.4 0 1 0 -4.8 0M599.4 611.8a2.4 2.4 0 1 0 4.8 0a2.4 2.4 0 1 0 -4.8 0M599.6 620.9a2.4 2.4 0 1 0 4.8 0a2.4 2.4 0 1 0 -4.8 0M599.9 611.8a2.4 2.4 0 1 0 4.8 0a2.4 2.4 0 1 0 -4.8 0M600.8 620.9a2.4 2.4 0 1 0 4.8 0a2.4 2.4 0 1 0 -4.8 0M601.2 602.7a2.4 2.4 0 1 0 4.8 0a2.4 2.4 0 1 0 -4.8 0M601.4 606.4a2.4 2.4 0 1 0 4.8 0a2.4 2.4 0 1 0 -4.8 0M602.4 606.4a2.4 2.4 0 1 0 4.8 0a2.4 2.4 0 1 0 -4.8 0M602.8 611.8a2.4 2.4 0 1 0 4.8 0a2.4 2.4 0 1 0 -4.8 0M603.0 620.9a2.4 2.4 0 1 0 4.8 0a2.4 2.4 0 1 0 -4.8 0M603.9 620.9a2.4 2.4 0 1 0 4.8 0a2.4 2.4 0 1 0 -4.8 0M604.1 620.9a2.4 2.4 0 1 0 4.8 0a2.4 2.4 0 1 0 -4.8 0M604.2 611.8a2.4 2.4 0 1 0 4.8 0a2.4 2.4 0 1 0 -4.8 0M604.8 611.8a2.4 2.4 0 1 0 4.8 0a2.4 2.4 0 1 0 -4.8 0M605.1 620.9a2.4 2.4 0 1 0 4.8 0a2.4 2.4 0 1 0 -4.8 0M605.7 620.9a2.4 2.4 0 1 0 4.8 0a2.4 2.4 0 1 0 -4.8 0M607.6 620.9a2.4 2.4 0 1 0 4.8 0a2.4 2.4 0 1 0 -4.8 0M608.3 620.9a2.4 2.4 0 1 0 4.8 0a2.4 2.4 0 1 0 -4.8 0M609.5 620.9a2.4 2.4 0 1 0 4.8 0a2.4 2.4 0 1 0 -4.8 0M610.5 620.9a2.4 2.4 0 1 0 4.8 0a2.4 2.4 0 1 0 -4.8 0M611.9 620.9a2.4 2.4 0 1 0 4.8 0a2.4 2.4 0 1 0 -4.8 0M613.1 620.9a2.4 2.4 0 1 0 4.8 0a2.4 2.4 0 1 0 -4.8 0M615.7 620.9a2.4 2.4 0 1 0 4.8 0a2.4 2.4 0 1 0 -4.8 0" fill="none" stroke="#6b6bf0" stroke-width="0.75"/>
<path d="M543.8 517L654.5 621.7" stroke="#e8282a" stroke-width="1.3" stroke-dasharray="4 2.8"/>
<path d="M543.8 500.8L610.2 625.5" stroke="#2a2ae0" stroke-width="1.3" stroke-dasharray="4 2.8"/>
<rect x="543.8" y="495" width="131" height="130.5" fill="none" stroke="#231f20" stroke-width="1.0"/>
<path d="M543.8 625.5v-3M576.5 625.5v-3M609.3 625.5v-3M642.0 625.5v-3M674.8 625.5v-3M543.8 495.0h3M543.8 525.3h3M543.8 555.6h3M543.8 585.9h3M543.8 616.2h3" stroke="#231f20" stroke-width="0.9"/>
<text x="537.5" y="636.8" font-size="10" fill="#231f20">10<tspan font-size="6.5" dy="-4.2">-2</tspan></text>
<text x="570.2" y="636.8" font-size="10" fill="#231f20">10<tspan font-size="6.5" dy="-4.2">-1</tspan></text>
<text x="603.0" y="636.8" font-size="10" fill="#231f20">10<tspan font-size="6.5" dy="-4.2">0</tspan></text>
<text x="635.8" y="636.8" font-size="10" fill="#231f20">10<tspan font-size="6.5" dy="-4.2">1</tspan></text>
<text x="668.5" y="636.8" font-size="10" fill="#231f20">10<tspan font-size="6.5" dy="-4.2">2</tspan></text>
<text x="536.2" y="499.9" font-size="10" text-anchor="end" fill="#231f20">10</text>
<text x="536.4" y="495.9" font-size="6" fill="#231f20">0</text>
<text x="536.2" y="530.2" font-size="10" text-anchor="end" fill="#231f20">10</text>
<text x="536.4" y="526.2" font-size="6" fill="#231f20">-1</text>
<text x="536.2" y="560.5" font-size="10" text-anchor="end" fill="#231f20">10</text>
<text x="536.4" y="556.5" font-size="6" fill="#231f20">-2</text>
<text x="536.2" y="590.8" font-size="10" text-anchor="end" fill="#231f20">10</text>
<text x="536.4" y="586.8" font-size="6" fill="#231f20">-3</text>
<text x="536.2" y="621.1" font-size="10" text-anchor="end" fill="#231f20">10</text>
<text x="536.4" y="617.1" font-size="6" fill="#231f20">-4</text>
<text transform="translate(524.2,560.9) rotate(-90)" font-size="10" text-anchor="middle" fill="#231f20" textLength="49" lengthAdjust="spacingAndGlyphs">Probability</text>
<text x="609.3" y="646.5" font-size="10" text-anchor="middle" fill="#231f20" textLength="50" lengthAdjust="spacingAndGlyphs" >Duration (s)</text>
<circle cx="628.7" cy="503.0" r="2.8" fill="none" stroke="#f87474" stroke-width="0.75"/>
<text x="633.6" y="506.5" font-size="10" fill="#231f20" textLength="37.3" lengthAdjust="spacingAndGlyphs"><tspan font-style="italic">k</tspan><tspan font-size="6" dy="2">ON</tspan><tspan dy="-2"> = 1.0</tspan></text>
<circle cx="628.7" cy="515.6" r="2.8" fill="none" stroke="#6b6bf0" stroke-width="0.75"/>
<text x="633.6" y="519.1" font-size="10" fill="#231f20" textLength="39.0" lengthAdjust="spacingAndGlyphs"><tspan font-style="italic">k</tspan><tspan font-size="6" dy="2">OFF</tspan><tspan dy="-2"> = 2.0</tspan></text>
<text x="-0.3" y="5.6" font-size="11" font-weight="bold" fill="#231f20">a</text>
<text x="-0.3" y="168.7" font-size="11" font-weight="bold" fill="#231f20">b</text>
<text x="-0.3" y="331.6" font-size="11" font-weight="bold" fill="#231f20">c</text>
<text x="-0.3" y="494.7" font-size="11" font-weight="bold" fill="#231f20">d</text>
<text x="342.3" y="5.7" font-size="11" font-weight="bold" fill="#231f20">e</text>
<text x="342.8" y="168.3" font-size="11" font-weight="bold" fill="#231f20">f</text>
<text x="342.5" y="331.6" font-size="11" font-weight="bold" fill="#231f20">g</text>
<text x="515.8" y="331.6" font-size="11" font-weight="bold" fill="#231f20">h</text>
<text x="342.5" y="494.8" font-size="11" font-weight="bold" fill="#231f20">i</text>
<text x="515.5" y="494.8" font-size="11" font-weight="bold" fill="#231f20">j</text>
</svg></body></html>
